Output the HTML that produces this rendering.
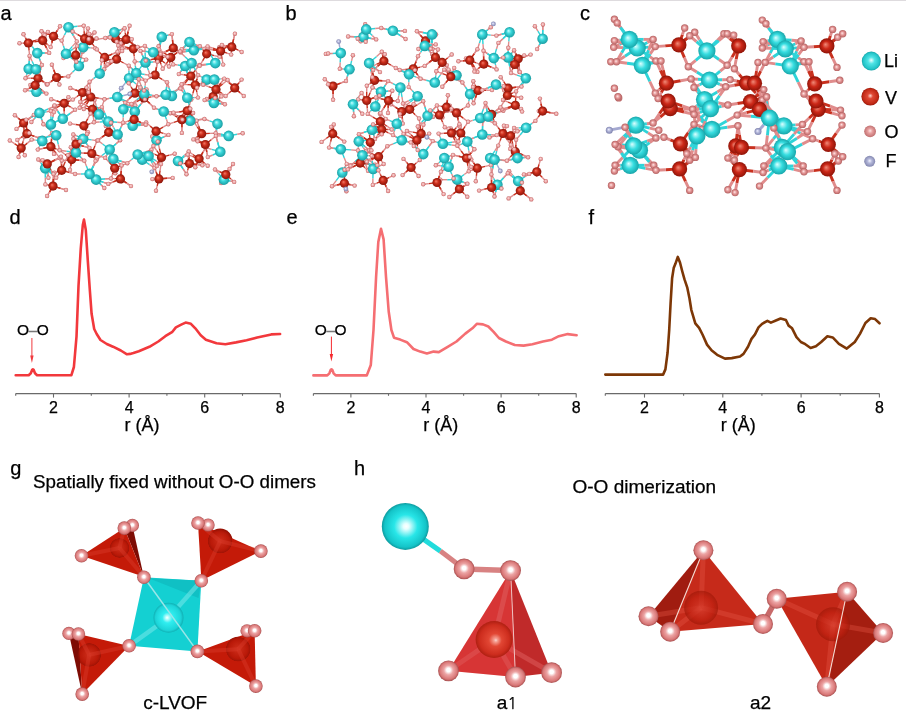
<!DOCTYPE html>
<html><head><meta charset="utf-8"><title>Figure</title><style>
html,body{margin:0;padding:0;background:#fff;}
body{width:906px;height:711px;overflow:hidden;}
svg{display:block;}
text{font-family:"Liberation Sans",Arial,sans-serif;fill:#000;stroke:#000;stroke-width:0.25px;}
.pl{font-size:20px;}
.tk{font-size:16px;}
.ax{font-size:18px;}
.tt{font-size:19px;}
.lg{font-size:18px;}
.oo{font-size:15.5px;letter-spacing:-0.4px;}
</style></head>
<body><svg width="906" height="711" viewBox="0 0 906 711">
<defs>
<radialGradient id="gV" cx="50%" cy="50%" r="50%" fx="38%" fy="35%"><stop offset="0" stop-color="#f27a66"/><stop offset="0.45" stop-color="#cc2e1c"/><stop offset="1" stop-color="#8a150a"/></radialGradient>
<radialGradient id="gL" cx="50%" cy="50%" r="50%" fx="38%" fy="35%"><stop offset="0" stop-color="#c8ffff"/><stop offset="0.45" stop-color="#3ad9dc"/><stop offset="1" stop-color="#1b9ea3"/></radialGradient>
<radialGradient id="gO" cx="50%" cy="50%" r="50%" fx="45%" fy="42%"><stop offset="0" stop-color="#fbdcdc"/><stop offset="0.45" stop-color="#eeb0b0"/><stop offset="0.8" stop-color="#da8282"/><stop offset="1" stop-color="#bc5e5e"/></radialGradient>
<radialGradient id="gF" cx="50%" cy="50%" r="50%" fx="40%" fy="38%"><stop offset="0" stop-color="#f0f0ff"/><stop offset="0.5" stop-color="#aeb2d6"/><stop offset="1" stop-color="#7f83ad"/></radialGradient>
<radialGradient id="gLc" cx="50%" cy="50%" r="50%" fx="40%" fy="40%"><stop offset="0" stop-color="#dcffff"/><stop offset="0.5" stop-color="#36dde0"/><stop offset="1" stop-color="#18a6aa"/></radialGradient>
<radialGradient id="gVc" cx="50%" cy="50%" r="50%" fx="40%" fy="40%"><stop offset="0" stop-color="#f08a78"/><stop offset="0.5" stop-color="#cc2818"/><stop offset="1" stop-color="#901408"/></radialGradient>
<radialGradient id="gOc" cx="50%" cy="50%" r="50%" fx="42%" fy="42%"><stop offset="0" stop-color="#ffe8e8"/><stop offset="0.5" stop-color="#e39494"/><stop offset="1" stop-color="#b56262"/></radialGradient>
<radialGradient id="gOg" cx="50%" cy="50%" r="50%" fx="50%" fy="45%"><stop offset="0" stop-color="#ffffff"/><stop offset="0.18" stop-color="#ffffff"/><stop offset="0.45" stop-color="#eca4a4"/><stop offset="0.82" stop-color="#d97878"/><stop offset="1" stop-color="#a85050"/></radialGradient>
<radialGradient id="gLg" cx="50%" cy="50%" r="50%" fx="45%" fy="50%"><stop offset="0" stop-color="#ffffff"/><stop offset="0.06" stop-color="#d8ffff"/><stop offset="0.35" stop-color="#30eef0"/><stop offset="0.85" stop-color="#1cd4d8"/><stop offset="1" stop-color="#10b0b4"/></radialGradient>
<radialGradient id="gLh" cx="50%" cy="50%" r="50%" fx="52%" fy="50%"><stop offset="0" stop-color="#ffffff"/><stop offset="0.12" stop-color="#e6ffff"/><stop offset="0.5" stop-color="#28e6e8"/><stop offset="0.88" stop-color="#14c4c8"/><stop offset="1" stop-color="#0e9a9e"/></radialGradient>
<radialGradient id="gVg" cx="50%" cy="50%" r="50%" fx="50%" fy="50%"><stop offset="0" stop-color="#d8321e"/><stop offset="0.8" stop-color="#b81a0a"/><stop offset="1" stop-color="#9c1406"/></radialGradient>
<radialGradient id="gVh" cx="50%" cy="50%" r="50%" fx="55%" fy="52%"><stop offset="0" stop-color="#fff4ee"/><stop offset="0.1" stop-color="#fbb0a0"/><stop offset="0.35" stop-color="#e44a34"/><stop offset="0.8" stop-color="#cc2c1a"/><stop offset="1" stop-color="#a81c0c"/></radialGradient>
<radialGradient id="gVh2" cx="50%" cy="50%" r="50%" fx="50%" fy="55%"><stop offset="0" stop-color="#d84030" stop-opacity="0.7"/><stop offset="0.7" stop-color="#c02010" stop-opacity="0.7"/><stop offset="1" stop-color="#a01808" stop-opacity="0.7"/></radialGradient>
<radialGradient id="gLl" cx="50%" cy="50%" r="50%" fx="50%" fy="45%"><stop offset="0" stop-color="#f0ffff"/><stop offset="0.35" stop-color="#50e4e6"/><stop offset="0.85" stop-color="#22c4c8"/><stop offset="1" stop-color="#17a2a6"/></radialGradient>
<radialGradient id="gVl" cx="50%" cy="50%" r="50%" fx="50%" fy="45%"><stop offset="0" stop-color="#ffd8d0"/><stop offset="0.3" stop-color="#e04a36"/><stop offset="0.85" stop-color="#c02814"/><stop offset="1" stop-color="#98180a"/></radialGradient>
<radialGradient id="gOl" cx="50%" cy="50%" r="50%" fx="50%" fy="45%"><stop offset="0" stop-color="#ffe6e6"/><stop offset="0.4" stop-color="#e8a0a0"/><stop offset="1" stop-color="#c07070"/></radialGradient>
<radialGradient id="gFl" cx="50%" cy="50%" r="50%" fx="50%" fy="45%"><stop offset="0" stop-color="#f4f4ff"/><stop offset="0.4" stop-color="#b4b8da"/><stop offset="1" stop-color="#8488b0"/></radialGradient>
<radialGradient id="gVin" cx="50%" cy="50%" r="50%" fx="50%" fy="48%"><stop offset="0" stop-color="#d8402c" stop-opacity="0.55"/><stop offset="0.75" stop-color="#b01808" stop-opacity="0.55"/><stop offset="0.95" stop-color="#8c1004" stop-opacity="0.6"/><stop offset="1" stop-color="#8c1004" stop-opacity="0"/></radialGradient>
</defs>
<rect x="0" y="0" width="906" height="1" fill="#dedbde"/><line x1="28.4" y1="43" x2="35.8" y2="40.4" stroke="#c8301e" stroke-width="1.4"/><line x1="35.8" y1="40.4" x2="40.9" y2="38.5" stroke="#e08c8c" stroke-width="1.4"/><line x1="28.4" y1="43" x2="29.1" y2="50.6" stroke="#c8301e" stroke-width="1.4"/><line x1="29.1" y1="50.6" x2="29.6" y2="55.9" stroke="#e08c8c" stroke-width="1.4"/><line x1="28.4" y1="43" x2="22.8" y2="43.1" stroke="#c8301e" stroke-width="1.4"/><line x1="22.8" y1="43.1" x2="19.5" y2="43.2" stroke="#e08c8c" stroke-width="1.4"/><line x1="28.4" y1="43" x2="25.4" y2="37.6" stroke="#c8301e" stroke-width="1.4"/><line x1="25.4" y1="37.6" x2="23.5" y2="34.3" stroke="#e08c8c" stroke-width="1.4"/><line x1="42.7" y1="40.6" x2="45.9" y2="35.2" stroke="#c8301e" stroke-width="1.4"/><line x1="45.9" y1="35.2" x2="47.9" y2="31.9" stroke="#e08c8c" stroke-width="1.4"/><line x1="42.7" y1="40.6" x2="34.7" y2="41.7" stroke="#c8301e" stroke-width="1.4"/><line x1="34.7" y1="41.7" x2="29" y2="42.4" stroke="#e08c8c" stroke-width="1.4"/><line x1="42.7" y1="40.6" x2="44.2" y2="36.3" stroke="#c8301e" stroke-width="1.4"/><line x1="44.2" y1="36.3" x2="44.6" y2="35.2" stroke="#e08c8c" stroke-width="1.4"/><line x1="42.7" y1="40.6" x2="46.5" y2="47.8" stroke="#c8301e" stroke-width="1.4"/><line x1="46.5" y1="47.8" x2="49.2" y2="52.9" stroke="#e08c8c" stroke-width="1.4"/><line x1="53.5" y1="36.3" x2="57.4" y2="30.3" stroke="#c8301e" stroke-width="1.4"/><line x1="57.4" y1="30.3" x2="60" y2="26.3" stroke="#e08c8c" stroke-width="1.4"/><line x1="53.5" y1="36.3" x2="58.6" y2="39" stroke="#c8301e" stroke-width="1.4"/><line x1="58.6" y1="39" x2="61.7" y2="40.6" stroke="#e08c8c" stroke-width="1.4"/><line x1="53.5" y1="36.3" x2="46.4" y2="33.3" stroke="#c8301e" stroke-width="1.4"/><line x1="46.4" y1="33.3" x2="41.5" y2="31.3" stroke="#e08c8c" stroke-width="1.4"/><line x1="53.5" y1="36.3" x2="51.8" y2="42.8" stroke="#c8301e" stroke-width="1.4"/><line x1="51.8" y1="42.8" x2="50.7" y2="47.1" stroke="#e08c8c" stroke-width="1.4"/><line x1="84.6" y1="38.7" x2="77.6" y2="34.5" stroke="#c8301e" stroke-width="1.4"/><line x1="77.6" y1="34.5" x2="72.6" y2="31.5" stroke="#e08c8c" stroke-width="1.4"/><line x1="84.6" y1="38.7" x2="83.4" y2="46.4" stroke="#c8301e" stroke-width="1.4"/><line x1="83.4" y1="46.4" x2="82.6" y2="51.8" stroke="#e08c8c" stroke-width="1.4"/><line x1="84.6" y1="38.7" x2="90.5" y2="35" stroke="#c8301e" stroke-width="1.4"/><line x1="90.5" y1="35" x2="94.5" y2="32.5" stroke="#e08c8c" stroke-width="1.4"/><line x1="84.6" y1="38.7" x2="89.2" y2="39" stroke="#c8301e" stroke-width="1.4"/><line x1="89.2" y1="39" x2="88.7" y2="39" stroke="#e08c8c" stroke-width="1.4"/><line x1="89.6" y1="40.6" x2="82.2" y2="43.8" stroke="#c8301e" stroke-width="1.4"/><line x1="82.2" y1="43.8" x2="77" y2="46.1" stroke="#e08c8c" stroke-width="1.4"/><line x1="89.6" y1="40.6" x2="94.2" y2="39.2" stroke="#c8301e" stroke-width="1.4"/><line x1="94.2" y1="39.2" x2="96.5" y2="38.5" stroke="#e08c8c" stroke-width="1.4"/><line x1="89.6" y1="40.6" x2="88.6" y2="33.3" stroke="#c8301e" stroke-width="1.4"/><line x1="88.6" y1="33.3" x2="88" y2="28.4" stroke="#e08c8c" stroke-width="1.4"/><line x1="89.6" y1="40.6" x2="94" y2="45.9" stroke="#c8301e" stroke-width="1.4"/><line x1="94" y1="45.9" x2="96.9" y2="49.4" stroke="#e08c8c" stroke-width="1.4"/><line x1="115.5" y1="38.7" x2="109.2" y2="38.3" stroke="#c8301e" stroke-width="1.4"/><line x1="109.2" y1="38.3" x2="105.3" y2="38" stroke="#e08c8c" stroke-width="1.4"/><line x1="115.5" y1="38.7" x2="120.8" y2="32.6" stroke="#c8301e" stroke-width="1.4"/><line x1="120.8" y1="32.6" x2="124.6" y2="28.3" stroke="#e08c8c" stroke-width="1.4"/><line x1="115.5" y1="38.7" x2="111" y2="37.7" stroke="#c8301e" stroke-width="1.4"/><line x1="111" y1="37.7" x2="110" y2="37.5" stroke="#e08c8c" stroke-width="1.4"/><line x1="115.5" y1="38.7" x2="119.4" y2="45.9" stroke="#c8301e" stroke-width="1.4"/><line x1="119.4" y1="45.9" x2="122.1" y2="51" stroke="#e08c8c" stroke-width="1.4"/><line x1="126.2" y1="39.4" x2="122.5" y2="42.1" stroke="#c8301e" stroke-width="1.4"/><line x1="122.5" y1="42.1" x2="120.9" y2="43.2" stroke="#e08c8c" stroke-width="1.4"/><line x1="126.2" y1="39.4" x2="120.3" y2="40.8" stroke="#c8301e" stroke-width="1.4"/><line x1="120.3" y1="40.8" x2="116.7" y2="41.6" stroke="#e08c8c" stroke-width="1.4"/><line x1="126.2" y1="39.4" x2="132.9" y2="43.8" stroke="#c8301e" stroke-width="1.4"/><line x1="132.9" y1="43.8" x2="137.6" y2="47" stroke="#e08c8c" stroke-width="1.4"/><line x1="126.2" y1="39.4" x2="128.2" y2="31.5" stroke="#c8301e" stroke-width="1.4"/><line x1="128.2" y1="31.5" x2="129.6" y2="25.8" stroke="#e08c8c" stroke-width="1.4"/><line x1="133.4" y1="48.8" x2="134.2" y2="56.3" stroke="#c8301e" stroke-width="1.4"/><line x1="134.2" y1="56.3" x2="134.7" y2="61.4" stroke="#e08c8c" stroke-width="1.4"/><line x1="133.4" y1="48.8" x2="132.4" y2="42.8" stroke="#c8301e" stroke-width="1.4"/><line x1="132.4" y1="42.8" x2="131.8" y2="39.1" stroke="#e08c8c" stroke-width="1.4"/><line x1="133.4" y1="48.8" x2="140.3" y2="47.1" stroke="#c8301e" stroke-width="1.4"/><line x1="140.3" y1="47.1" x2="144.9" y2="45.9" stroke="#e08c8c" stroke-width="1.4"/><line x1="133.4" y1="48.8" x2="126.6" y2="48.8" stroke="#c8301e" stroke-width="1.4"/><line x1="126.6" y1="48.8" x2="122.2" y2="48.7" stroke="#e08c8c" stroke-width="1.4"/><line x1="75.7" y1="55.2" x2="68.4" y2="56.9" stroke="#c8301e" stroke-width="1.4"/><line x1="68.4" y1="56.9" x2="63.5" y2="58.1" stroke="#e08c8c" stroke-width="1.4"/><line x1="75.7" y1="55.2" x2="76.1" y2="59.8" stroke="#c8301e" stroke-width="1.4"/><line x1="76.1" y1="59.8" x2="76.3" y2="61.7" stroke="#e08c8c" stroke-width="1.4"/><line x1="75.7" y1="55.2" x2="82" y2="57.9" stroke="#c8301e" stroke-width="1.4"/><line x1="82" y1="57.9" x2="86.2" y2="59.6" stroke="#e08c8c" stroke-width="1.4"/><line x1="75.7" y1="55.2" x2="76.3" y2="47.1" stroke="#c8301e" stroke-width="1.4"/><line x1="76.3" y1="47.1" x2="76.8" y2="41.4" stroke="#e08c8c" stroke-width="1.4"/><line x1="104.7" y1="57.4" x2="99.1" y2="52.1" stroke="#c8301e" stroke-width="1.4"/><line x1="99.1" y1="52.1" x2="95.2" y2="48.3" stroke="#e08c8c" stroke-width="1.4"/><line x1="104.7" y1="57.4" x2="101.5" y2="60.7" stroke="#c8301e" stroke-width="1.4"/><line x1="101.5" y1="60.7" x2="101.9" y2="60.2" stroke="#e08c8c" stroke-width="1.4"/><line x1="104.7" y1="57.4" x2="104.4" y2="64.5" stroke="#c8301e" stroke-width="1.4"/><line x1="104.4" y1="64.5" x2="104.2" y2="69.2" stroke="#e08c8c" stroke-width="1.4"/><line x1="104.7" y1="57.4" x2="112.2" y2="54.1" stroke="#c8301e" stroke-width="1.4"/><line x1="112.2" y1="54.1" x2="117.5" y2="51.8" stroke="#e08c8c" stroke-width="1.4"/><line x1="116.5" y1="59.2" x2="112.3" y2="61" stroke="#c8301e" stroke-width="1.4"/><line x1="112.3" y1="61" x2="111.5" y2="61.3" stroke="#e08c8c" stroke-width="1.4"/><line x1="116.5" y1="59.2" x2="123.7" y2="63" stroke="#c8301e" stroke-width="1.4"/><line x1="123.7" y1="63" x2="128.8" y2="65.7" stroke="#e08c8c" stroke-width="1.4"/><line x1="116.5" y1="59.2" x2="111" y2="62.3" stroke="#c8301e" stroke-width="1.4"/><line x1="111" y1="62.3" x2="107.5" y2="64.3" stroke="#e08c8c" stroke-width="1.4"/><line x1="116.5" y1="59.2" x2="117.5" y2="51.2" stroke="#c8301e" stroke-width="1.4"/><line x1="117.5" y1="51.2" x2="118.2" y2="45.5" stroke="#e08c8c" stroke-width="1.4"/><line x1="56.6" y1="77.5" x2="50.8" y2="81.6" stroke="#c8301e" stroke-width="1.4"/><line x1="50.8" y1="81.6" x2="46.8" y2="84.4" stroke="#e08c8c" stroke-width="1.4"/><line x1="56.6" y1="77.5" x2="63.6" y2="76.8" stroke="#c8301e" stroke-width="1.4"/><line x1="63.6" y1="76.8" x2="68.3" y2="76.4" stroke="#e08c8c" stroke-width="1.4"/><line x1="56.6" y1="77.5" x2="58.4" y2="82.1" stroke="#c8301e" stroke-width="1.4"/><line x1="58.4" y1="82.1" x2="59.4" y2="84.5" stroke="#e08c8c" stroke-width="1.4"/><line x1="56.6" y1="77.5" x2="53.8" y2="70" stroke="#c8301e" stroke-width="1.4"/><line x1="53.8" y1="70" x2="51.9" y2="64.7" stroke="#e08c8c" stroke-width="1.4"/><line x1="38" y1="78.2" x2="43.7" y2="81.9" stroke="#c8301e" stroke-width="1.4"/><line x1="43.7" y1="81.9" x2="47.5" y2="84.3" stroke="#e08c8c" stroke-width="1.4"/><line x1="38" y1="78.2" x2="37.4" y2="82.9" stroke="#c8301e" stroke-width="1.4"/><line x1="37.4" y1="82.9" x2="37.1" y2="85.3" stroke="#e08c8c" stroke-width="1.4"/><line x1="38" y1="78.2" x2="30.6" y2="78.2" stroke="#c8301e" stroke-width="1.4"/><line x1="30.6" y1="78.2" x2="25.5" y2="78.2" stroke="#e08c8c" stroke-width="1.4"/><line x1="38" y1="78.2" x2="40.3" y2="70.5" stroke="#c8301e" stroke-width="1.4"/><line x1="40.3" y1="70.5" x2="41.9" y2="65" stroke="#e08c8c" stroke-width="1.4"/><line x1="35.1" y1="85.3" x2="41.7" y2="90.1" stroke="#c8301e" stroke-width="1.4"/><line x1="41.7" y1="90.1" x2="46.4" y2="93.6" stroke="#e08c8c" stroke-width="1.4"/><line x1="35.1" y1="85.3" x2="30.5" y2="85" stroke="#c8301e" stroke-width="1.4"/><line x1="30.5" y1="85" x2="30.4" y2="85" stroke="#e08c8c" stroke-width="1.4"/><line x1="35.1" y1="85.3" x2="29.1" y2="88.3" stroke="#c8301e" stroke-width="1.4"/><line x1="29.1" y1="88.3" x2="25.1" y2="90.3" stroke="#e08c8c" stroke-width="1.4"/><line x1="35.1" y1="85.3" x2="37.1" y2="77.7" stroke="#c8301e" stroke-width="1.4"/><line x1="37.1" y1="77.7" x2="38.5" y2="72.4" stroke="#e08c8c" stroke-width="1.4"/><line x1="82.5" y1="92.5" x2="81" y2="98.3" stroke="#c8301e" stroke-width="1.4"/><line x1="81" y1="98.3" x2="80.2" y2="101.9" stroke="#e08c8c" stroke-width="1.4"/><line x1="82.5" y1="92.5" x2="75.3" y2="89.8" stroke="#c8301e" stroke-width="1.4"/><line x1="75.3" y1="89.8" x2="70.3" y2="88" stroke="#e08c8c" stroke-width="1.4"/><line x1="82.5" y1="92.5" x2="86.7" y2="86.1" stroke="#c8301e" stroke-width="1.4"/><line x1="86.7" y1="86.1" x2="89.6" y2="81.7" stroke="#e08c8c" stroke-width="1.4"/><line x1="82.5" y1="92.5" x2="87.1" y2="96.2" stroke="#c8301e" stroke-width="1.4"/><line x1="87.1" y1="96.2" x2="89.9" y2="98.4" stroke="#e08c8c" stroke-width="1.4"/><line x1="90.8" y1="97" x2="86.7" y2="104" stroke="#c8301e" stroke-width="1.4"/><line x1="86.7" y1="104" x2="83.8" y2="109" stroke="#e08c8c" stroke-width="1.4"/><line x1="90.8" y1="97" x2="88.7" y2="92.9" stroke="#c8301e" stroke-width="1.4"/><line x1="88.7" y1="92.9" x2="88.4" y2="92.2" stroke="#e08c8c" stroke-width="1.4"/><line x1="90.8" y1="97" x2="98.8" y2="98.3" stroke="#c8301e" stroke-width="1.4"/><line x1="98.8" y1="98.3" x2="104.5" y2="99.3" stroke="#e08c8c" stroke-width="1.4"/><line x1="90.8" y1="97" x2="88.2" y2="91.2" stroke="#c8301e" stroke-width="1.4"/><line x1="88.2" y1="91.2" x2="86.5" y2="87.6" stroke="#e08c8c" stroke-width="1.4"/><line x1="134.8" y1="93.2" x2="138.4" y2="89.5" stroke="#c8301e" stroke-width="1.4"/><line x1="138.4" y1="89.5" x2="140.4" y2="87.5" stroke="#e08c8c" stroke-width="1.4"/><line x1="134.8" y1="93.2" x2="129.2" y2="98.8" stroke="#c8301e" stroke-width="1.4"/><line x1="129.2" y1="98.8" x2="125.2" y2="102.7" stroke="#e08c8c" stroke-width="1.4"/><line x1="134.8" y1="93.2" x2="140.8" y2="96.9" stroke="#c8301e" stroke-width="1.4"/><line x1="140.8" y1="96.9" x2="144.9" y2="99.4" stroke="#e08c8c" stroke-width="1.4"/><line x1="134.8" y1="93.2" x2="131.2" y2="87.2" stroke="#c8301e" stroke-width="1.4"/><line x1="131.2" y1="87.2" x2="128.7" y2="83.2" stroke="#e08c8c" stroke-width="1.4"/><line x1="173.3" y1="48" x2="172.5" y2="39.9" stroke="#c8301e" stroke-width="1.4"/><line x1="172.5" y1="39.9" x2="171.9" y2="34.1" stroke="#e08c8c" stroke-width="1.4"/><line x1="173.3" y1="48" x2="178" y2="50.8" stroke="#c8301e" stroke-width="1.4"/><line x1="178" y1="50.8" x2="180.6" y2="52.4" stroke="#e08c8c" stroke-width="1.4"/><line x1="173.3" y1="48" x2="177.7" y2="50.3" stroke="#c8301e" stroke-width="1.4"/><line x1="177.7" y1="50.3" x2="180.1" y2="51.5" stroke="#e08c8c" stroke-width="1.4"/><line x1="173.3" y1="48" x2="165.9" y2="51.5" stroke="#c8301e" stroke-width="1.4"/><line x1="165.9" y1="51.5" x2="160.6" y2="54" stroke="#e08c8c" stroke-width="1.4"/><line x1="158.7" y1="58.1" x2="158.6" y2="51" stroke="#c8301e" stroke-width="1.4"/><line x1="158.6" y1="51" x2="158.6" y2="46.3" stroke="#e08c8c" stroke-width="1.4"/><line x1="158.7" y1="58.1" x2="164.3" y2="57.2" stroke="#c8301e" stroke-width="1.4"/><line x1="164.3" y1="57.2" x2="167.6" y2="56.7" stroke="#e08c8c" stroke-width="1.4"/><line x1="158.7" y1="58.1" x2="151.1" y2="59.6" stroke="#c8301e" stroke-width="1.4"/><line x1="151.1" y1="59.6" x2="145.8" y2="60.6" stroke="#e08c8c" stroke-width="1.4"/><line x1="158.7" y1="58.1" x2="161.1" y2="64.5" stroke="#c8301e" stroke-width="1.4"/><line x1="161.1" y1="64.5" x2="162.7" y2="68.8" stroke="#e08c8c" stroke-width="1.4"/><line x1="170.8" y1="57.4" x2="172.4" y2="62" stroke="#c8301e" stroke-width="1.4"/><line x1="172.4" y1="62" x2="173.2" y2="64.4" stroke="#e08c8c" stroke-width="1.4"/><line x1="170.8" y1="57.4" x2="177.2" y2="52.5" stroke="#c8301e" stroke-width="1.4"/><line x1="177.2" y1="52.5" x2="181.7" y2="49.1" stroke="#e08c8c" stroke-width="1.4"/><line x1="170.8" y1="57.4" x2="164" y2="52.9" stroke="#c8301e" stroke-width="1.4"/><line x1="164" y1="52.9" x2="159.2" y2="49.6" stroke="#e08c8c" stroke-width="1.4"/><line x1="170.8" y1="57.4" x2="169.7" y2="63.1" stroke="#c8301e" stroke-width="1.4"/><line x1="169.7" y1="63.1" x2="169" y2="66.5" stroke="#e08c8c" stroke-width="1.4"/><line x1="206.7" y1="53.8" x2="202.5" y2="49.2" stroke="#c8301e" stroke-width="1.4"/><line x1="202.5" y1="49.2" x2="199.9" y2="46.3" stroke="#e08c8c" stroke-width="1.4"/><line x1="206.7" y1="53.8" x2="202.6" y2="60.8" stroke="#c8301e" stroke-width="1.4"/><line x1="202.6" y1="60.8" x2="199.7" y2="65.7" stroke="#e08c8c" stroke-width="1.4"/><line x1="206.7" y1="53.8" x2="214.3" y2="55.6" stroke="#c8301e" stroke-width="1.4"/><line x1="214.3" y1="55.6" x2="219.6" y2="56.8" stroke="#e08c8c" stroke-width="1.4"/><line x1="206.7" y1="53.8" x2="207.3" y2="48.9" stroke="#c8301e" stroke-width="1.4"/><line x1="207.3" y1="48.9" x2="207.6" y2="46.4" stroke="#e08c8c" stroke-width="1.4"/><line x1="220.6" y1="50.9" x2="222.1" y2="58.9" stroke="#c8301e" stroke-width="1.4"/><line x1="222.1" y1="58.9" x2="223.2" y2="64.6" stroke="#e08c8c" stroke-width="1.4"/><line x1="220.6" y1="50.9" x2="226.2" y2="47.4" stroke="#c8301e" stroke-width="1.4"/><line x1="226.2" y1="47.4" x2="229.8" y2="45.1" stroke="#e08c8c" stroke-width="1.4"/><line x1="220.6" y1="50.9" x2="212.9" y2="49.7" stroke="#c8301e" stroke-width="1.4"/><line x1="212.9" y1="49.7" x2="207.6" y2="48.9" stroke="#e08c8c" stroke-width="1.4"/><line x1="220.6" y1="50.9" x2="221.6" y2="46.4" stroke="#c8301e" stroke-width="1.4"/><line x1="221.6" y1="46.4" x2="221.9" y2="45" stroke="#e08c8c" stroke-width="1.4"/><line x1="231.8" y1="46.9" x2="224.4" y2="47.1" stroke="#c8301e" stroke-width="1.4"/><line x1="224.4" y1="47.1" x2="219.4" y2="47.3" stroke="#e08c8c" stroke-width="1.4"/><line x1="231.8" y1="46.9" x2="233.6" y2="39.1" stroke="#c8301e" stroke-width="1.4"/><line x1="233.6" y1="39.1" x2="234.9" y2="33.7" stroke="#e08c8c" stroke-width="1.4"/><line x1="231.8" y1="46.9" x2="231.4" y2="51.9" stroke="#c8301e" stroke-width="1.4"/><line x1="231.4" y1="51.9" x2="231.2" y2="54.6" stroke="#e08c8c" stroke-width="1.4"/><line x1="231.8" y1="46.9" x2="237.8" y2="50" stroke="#c8301e" stroke-width="1.4"/><line x1="237.8" y1="50" x2="241.7" y2="52" stroke="#e08c8c" stroke-width="1.4"/><line x1="155.1" y1="75" x2="156.5" y2="67.2" stroke="#c8301e" stroke-width="1.4"/><line x1="156.5" y1="67.2" x2="157.5" y2="61.7" stroke="#e08c8c" stroke-width="1.4"/><line x1="155.1" y1="75" x2="150.5" y2="75.4" stroke="#c8301e" stroke-width="1.4"/><line x1="150.5" y1="75.4" x2="150.3" y2="75.4" stroke="#e08c8c" stroke-width="1.4"/><line x1="155.1" y1="75" x2="149.3" y2="78.4" stroke="#c8301e" stroke-width="1.4"/><line x1="149.3" y1="78.4" x2="145.6" y2="80.6" stroke="#e08c8c" stroke-width="1.4"/><line x1="155.1" y1="75" x2="162.1" y2="79.3" stroke="#c8301e" stroke-width="1.4"/><line x1="162.1" y1="79.3" x2="167" y2="82.3" stroke="#e08c8c" stroke-width="1.4"/><line x1="190.9" y1="76" x2="195.8" y2="69.6" stroke="#c8301e" stroke-width="1.4"/><line x1="195.8" y1="69.6" x2="199.3" y2="65" stroke="#e08c8c" stroke-width="1.4"/><line x1="190.9" y1="76" x2="183.7" y2="74.8" stroke="#c8301e" stroke-width="1.4"/><line x1="183.7" y1="74.8" x2="178.8" y2="74.1" stroke="#e08c8c" stroke-width="1.4"/><line x1="190.9" y1="76" x2="186.8" y2="78.1" stroke="#c8301e" stroke-width="1.4"/><line x1="186.8" y1="78.1" x2="188.5" y2="77.2" stroke="#e08c8c" stroke-width="1.4"/><line x1="190.9" y1="76" x2="194.5" y2="82.9" stroke="#c8301e" stroke-width="1.4"/><line x1="194.5" y1="82.9" x2="197" y2="87.7" stroke="#e08c8c" stroke-width="1.4"/><line x1="195.2" y1="85" x2="197" y2="78.9" stroke="#c8301e" stroke-width="1.4"/><line x1="197" y1="78.9" x2="198.1" y2="75.1" stroke="#e08c8c" stroke-width="1.4"/><line x1="195.2" y1="85" x2="200.3" y2="83.7" stroke="#c8301e" stroke-width="1.4"/><line x1="200.3" y1="83.7" x2="203" y2="83.1" stroke="#e08c8c" stroke-width="1.4"/><line x1="195.2" y1="85" x2="196.9" y2="92.4" stroke="#c8301e" stroke-width="1.4"/><line x1="196.9" y1="92.4" x2="198" y2="97.6" stroke="#e08c8c" stroke-width="1.4"/><line x1="195.2" y1="85" x2="187.3" y2="84.6" stroke="#c8301e" stroke-width="1.4"/><line x1="187.3" y1="84.6" x2="181.6" y2="84.3" stroke="#e08c8c" stroke-width="1.4"/><line x1="216" y1="89.4" x2="220.9" y2="83.1" stroke="#c8301e" stroke-width="1.4"/><line x1="220.9" y1="83.1" x2="224.3" y2="78.6" stroke="#e08c8c" stroke-width="1.4"/><line x1="216" y1="89.4" x2="215.4" y2="94.9" stroke="#c8301e" stroke-width="1.4"/><line x1="215.4" y1="94.9" x2="215.1" y2="98" stroke="#e08c8c" stroke-width="1.4"/><line x1="216" y1="89.4" x2="208.5" y2="86.6" stroke="#c8301e" stroke-width="1.4"/><line x1="208.5" y1="86.6" x2="203.2" y2="84.7" stroke="#e08c8c" stroke-width="1.4"/><line x1="216" y1="89.4" x2="219.4" y2="93.8" stroke="#c8301e" stroke-width="1.4"/><line x1="219.4" y1="93.8" x2="221.4" y2="96.4" stroke="#e08c8c" stroke-width="1.4"/><line x1="213.2" y1="96.6" x2="220" y2="101.1" stroke="#c8301e" stroke-width="1.4"/><line x1="220" y1="101.1" x2="224.9" y2="104.3" stroke="#e08c8c" stroke-width="1.4"/><line x1="213.2" y1="96.6" x2="208.9" y2="98.2" stroke="#c8301e" stroke-width="1.4"/><line x1="208.9" y1="98.2" x2="206.8" y2="99" stroke="#e08c8c" stroke-width="1.4"/><line x1="213.2" y1="96.6" x2="207.8" y2="98.8" stroke="#c8301e" stroke-width="1.4"/><line x1="207.8" y1="98.8" x2="204.6" y2="100.1" stroke="#e08c8c" stroke-width="1.4"/><line x1="213.2" y1="96.6" x2="215.1" y2="88.7" stroke="#c8301e" stroke-width="1.4"/><line x1="215.1" y1="88.7" x2="216.5" y2="83" stroke="#e08c8c" stroke-width="1.4"/><line x1="234.7" y1="87.9" x2="230.4" y2="83.1" stroke="#c8301e" stroke-width="1.4"/><line x1="230.4" y1="83.1" x2="227.6" y2="80" stroke="#e08c8c" stroke-width="1.4"/><line x1="234.7" y1="87.9" x2="229.3" y2="92.7" stroke="#c8301e" stroke-width="1.4"/><line x1="229.3" y1="92.7" x2="225.7" y2="96" stroke="#e08c8c" stroke-width="1.4"/><line x1="234.7" y1="87.9" x2="240.1" y2="92.7" stroke="#c8301e" stroke-width="1.4"/><line x1="240.1" y1="92.7" x2="243.8" y2="96" stroke="#e08c8c" stroke-width="1.4"/><line x1="234.7" y1="87.9" x2="238.9" y2="82.9" stroke="#c8301e" stroke-width="1.4"/><line x1="238.9" y1="82.9" x2="241.6" y2="79.6" stroke="#e08c8c" stroke-width="1.4"/><line x1="64.2" y1="103.3" x2="56.6" y2="100.9" stroke="#c8301e" stroke-width="1.4"/><line x1="56.6" y1="100.9" x2="51.2" y2="99.2" stroke="#e08c8c" stroke-width="1.4"/><line x1="64.2" y1="103.3" x2="67" y2="99.3" stroke="#c8301e" stroke-width="1.4"/><line x1="67" y1="99.3" x2="68.4" y2="97.2" stroke="#e08c8c" stroke-width="1.4"/><line x1="64.2" y1="103.3" x2="64.3" y2="111.4" stroke="#c8301e" stroke-width="1.4"/><line x1="64.3" y1="111.4" x2="64.4" y2="117.2" stroke="#e08c8c" stroke-width="1.4"/><line x1="64.2" y1="103.3" x2="69.6" y2="101" stroke="#c8301e" stroke-width="1.4"/><line x1="69.6" y1="101" x2="72.8" y2="99.6" stroke="#e08c8c" stroke-width="1.4"/><line x1="92.5" y1="109.3" x2="98.4" y2="108" stroke="#c8301e" stroke-width="1.4"/><line x1="98.4" y1="108" x2="101.9" y2="107.1" stroke="#e08c8c" stroke-width="1.4"/><line x1="92.5" y1="109.3" x2="84.9" y2="108.4" stroke="#c8301e" stroke-width="1.4"/><line x1="84.9" y1="108.4" x2="79.6" y2="107.8" stroke="#e08c8c" stroke-width="1.4"/><line x1="92.5" y1="109.3" x2="93.8" y2="103.5" stroke="#c8301e" stroke-width="1.4"/><line x1="93.8" y1="103.5" x2="94.5" y2="100" stroke="#e08c8c" stroke-width="1.4"/><line x1="92.5" y1="109.3" x2="93.4" y2="116.9" stroke="#c8301e" stroke-width="1.4"/><line x1="93.4" y1="116.9" x2="94" y2="122.3" stroke="#e08c8c" stroke-width="1.4"/><line x1="23.6" y1="123" x2="18.4" y2="118.3" stroke="#c8301e" stroke-width="1.4"/><line x1="18.4" y1="118.3" x2="14.9" y2="115.2" stroke="#e08c8c" stroke-width="1.4"/><line x1="23.6" y1="123" x2="27" y2="129" stroke="#c8301e" stroke-width="1.4"/><line x1="27" y1="129" x2="29.2" y2="133" stroke="#e08c8c" stroke-width="1.4"/><line x1="23.6" y1="123" x2="19.1" y2="126.7" stroke="#c8301e" stroke-width="1.4"/><line x1="19.1" y1="126.7" x2="16.5" y2="128.9" stroke="#e08c8c" stroke-width="1.4"/><line x1="23.6" y1="123" x2="29.6" y2="118.2" stroke="#c8301e" stroke-width="1.4"/><line x1="29.6" y1="118.2" x2="33.8" y2="114.9" stroke="#e08c8c" stroke-width="1.4"/><line x1="26.9" y1="133.7" x2="21.1" y2="137.5" stroke="#c8301e" stroke-width="1.4"/><line x1="21.1" y1="137.5" x2="17.3" y2="139.9" stroke="#e08c8c" stroke-width="1.4"/><line x1="26.9" y1="133.7" x2="24.1" y2="137.3" stroke="#c8301e" stroke-width="1.4"/><line x1="24.1" y1="137.3" x2="24.5" y2="136.8" stroke="#e08c8c" stroke-width="1.4"/><line x1="26.9" y1="133.7" x2="26.5" y2="125.6" stroke="#c8301e" stroke-width="1.4"/><line x1="26.5" y1="125.6" x2="26.2" y2="119.8" stroke="#e08c8c" stroke-width="1.4"/><line x1="26.9" y1="133.7" x2="34.4" y2="136.3" stroke="#c8301e" stroke-width="1.4"/><line x1="34.4" y1="136.3" x2="39.7" y2="138.2" stroke="#e08c8c" stroke-width="1.4"/><line x1="83.9" y1="125.8" x2="75.8" y2="124.5" stroke="#c8301e" stroke-width="1.4"/><line x1="75.8" y1="124.5" x2="70.1" y2="123.6" stroke="#e08c8c" stroke-width="1.4"/><line x1="83.9" y1="125.8" x2="85.9" y2="130.9" stroke="#c8301e" stroke-width="1.4"/><line x1="85.9" y1="130.9" x2="87.1" y2="133.9" stroke="#e08c8c" stroke-width="1.4"/><line x1="83.9" y1="125.8" x2="86.5" y2="130" stroke="#c8301e" stroke-width="1.4"/><line x1="86.5" y1="130" x2="87.9" y2="132.2" stroke="#e08c8c" stroke-width="1.4"/><line x1="83.9" y1="125.8" x2="87.8" y2="118.6" stroke="#c8301e" stroke-width="1.4"/><line x1="87.8" y1="118.6" x2="90.5" y2="113.5" stroke="#e08c8c" stroke-width="1.4"/><line x1="108.7" y1="132.3" x2="110.1" y2="126.4" stroke="#c8301e" stroke-width="1.4"/><line x1="110.1" y1="126.4" x2="111" y2="122.7" stroke="#e08c8c" stroke-width="1.4"/><line x1="108.7" y1="132.3" x2="106.8" y2="128" stroke="#c8301e" stroke-width="1.4"/><line x1="106.8" y1="128" x2="105.8" y2="125.9" stroke="#e08c8c" stroke-width="1.4"/><line x1="108.7" y1="132.3" x2="115.4" y2="136.9" stroke="#c8301e" stroke-width="1.4"/><line x1="115.4" y1="136.9" x2="120.1" y2="140.2" stroke="#e08c8c" stroke-width="1.4"/><line x1="108.7" y1="132.3" x2="102.4" y2="137" stroke="#c8301e" stroke-width="1.4"/><line x1="102.4" y1="137" x2="97.9" y2="140.4" stroke="#e08c8c" stroke-width="1.4"/><line x1="21.2" y1="148.1" x2="23.5" y2="152.8" stroke="#c8301e" stroke-width="1.4"/><line x1="23.5" y1="152.8" x2="24.8" y2="155.3" stroke="#e08c8c" stroke-width="1.4"/><line x1="21.2" y1="148.1" x2="19.5" y2="153.7" stroke="#c8301e" stroke-width="1.4"/><line x1="19.5" y1="153.7" x2="18.6" y2="157" stroke="#e08c8c" stroke-width="1.4"/><line x1="21.2" y1="148.1" x2="27.4" y2="143.1" stroke="#c8301e" stroke-width="1.4"/><line x1="27.4" y1="143.1" x2="31.7" y2="139.6" stroke="#e08c8c" stroke-width="1.4"/><line x1="21.2" y1="148.1" x2="14.5" y2="143.6" stroke="#c8301e" stroke-width="1.4"/><line x1="14.5" y1="143.6" x2="9.8" y2="140.5" stroke="#e08c8c" stroke-width="1.4"/><line x1="50.9" y1="146.7" x2="43.2" y2="148.4" stroke="#c8301e" stroke-width="1.4"/><line x1="43.2" y1="148.4" x2="37.8" y2="149.6" stroke="#e08c8c" stroke-width="1.4"/><line x1="50.9" y1="146.7" x2="51.6" y2="138.7" stroke="#c8301e" stroke-width="1.4"/><line x1="51.6" y1="138.7" x2="52.1" y2="133" stroke="#e08c8c" stroke-width="1.4"/><line x1="50.9" y1="146.7" x2="52.9" y2="151.4" stroke="#c8301e" stroke-width="1.4"/><line x1="52.9" y1="151.4" x2="54" y2="153.9" stroke="#e08c8c" stroke-width="1.4"/><line x1="50.9" y1="146.7" x2="56.4" y2="149" stroke="#c8301e" stroke-width="1.4"/><line x1="56.4" y1="149" x2="59.7" y2="150.3" stroke="#e08c8c" stroke-width="1.4"/><line x1="76" y1="144.1" x2="71.3" y2="150.7" stroke="#c8301e" stroke-width="1.4"/><line x1="71.3" y1="150.7" x2="67.9" y2="155.3" stroke="#e08c8c" stroke-width="1.4"/><line x1="76" y1="144.1" x2="83.9" y2="146.3" stroke="#c8301e" stroke-width="1.4"/><line x1="83.9" y1="146.3" x2="89.5" y2="147.9" stroke="#e08c8c" stroke-width="1.4"/><line x1="76" y1="144.1" x2="74" y2="140" stroke="#c8301e" stroke-width="1.4"/><line x1="74" y1="140" x2="73.4" y2="138.8" stroke="#e08c8c" stroke-width="1.4"/><line x1="76" y1="144.1" x2="74.3" y2="138.1" stroke="#c8301e" stroke-width="1.4"/><line x1="74.3" y1="138.1" x2="73.3" y2="134.5" stroke="#e08c8c" stroke-width="1.4"/><line x1="91.8" y1="153.5" x2="94.9" y2="146" stroke="#c8301e" stroke-width="1.4"/><line x1="94.9" y1="146" x2="97.1" y2="140.6" stroke="#e08c8c" stroke-width="1.4"/><line x1="91.8" y1="153.5" x2="83.6" y2="153.1" stroke="#c8301e" stroke-width="1.4"/><line x1="83.6" y1="153.1" x2="77.8" y2="152.8" stroke="#e08c8c" stroke-width="1.4"/><line x1="91.8" y1="153.5" x2="95" y2="157.5" stroke="#c8301e" stroke-width="1.4"/><line x1="95" y1="157.5" x2="96.8" y2="159.6" stroke="#e08c8c" stroke-width="1.4"/><line x1="91.8" y1="153.5" x2="94.2" y2="158.3" stroke="#c8301e" stroke-width="1.4"/><line x1="94.2" y1="158.3" x2="95.5" y2="161" stroke="#e08c8c" stroke-width="1.4"/><line x1="71.7" y1="159.6" x2="79.2" y2="160.3" stroke="#c8301e" stroke-width="1.4"/><line x1="79.2" y1="160.3" x2="84.3" y2="160.8" stroke="#e08c8c" stroke-width="1.4"/><line x1="71.7" y1="159.6" x2="71.1" y2="152.2" stroke="#c8301e" stroke-width="1.4"/><line x1="71.1" y1="152.2" x2="70.8" y2="147.2" stroke="#e08c8c" stroke-width="1.4"/><line x1="71.7" y1="159.6" x2="65.6" y2="160.2" stroke="#c8301e" stroke-width="1.4"/><line x1="65.6" y1="160.2" x2="61.8" y2="160.5" stroke="#e08c8c" stroke-width="1.4"/><line x1="71.7" y1="159.6" x2="70.7" y2="165.9" stroke="#c8301e" stroke-width="1.4"/><line x1="70.7" y1="165.9" x2="70" y2="169.9" stroke="#e08c8c" stroke-width="1.4"/><line x1="47.3" y1="163.9" x2="43.7" y2="161" stroke="#c8301e" stroke-width="1.4"/><line x1="43.7" y1="161" x2="42.6" y2="160.1" stroke="#e08c8c" stroke-width="1.4"/><line x1="47.3" y1="163.9" x2="41.7" y2="161.2" stroke="#c8301e" stroke-width="1.4"/><line x1="41.7" y1="161.2" x2="38.3" y2="159.5" stroke="#e08c8c" stroke-width="1.4"/><line x1="47.3" y1="163.9" x2="48" y2="172" stroke="#c8301e" stroke-width="1.4"/><line x1="48" y1="172" x2="48.4" y2="177.8" stroke="#e08c8c" stroke-width="1.4"/><line x1="47.3" y1="163.9" x2="54.6" y2="160.5" stroke="#c8301e" stroke-width="1.4"/><line x1="54.6" y1="160.5" x2="59.8" y2="158.1" stroke="#e08c8c" stroke-width="1.4"/><line x1="61.7" y1="170.3" x2="61.3" y2="162.3" stroke="#c8301e" stroke-width="1.4"/><line x1="61.3" y1="162.3" x2="61" y2="156.7" stroke="#e08c8c" stroke-width="1.4"/><line x1="61.7" y1="170.3" x2="57" y2="171.9" stroke="#c8301e" stroke-width="1.4"/><line x1="57" y1="171.9" x2="54.5" y2="172.8" stroke="#e08c8c" stroke-width="1.4"/><line x1="61.7" y1="170.3" x2="69.5" y2="172.5" stroke="#c8301e" stroke-width="1.4"/><line x1="69.5" y1="172.5" x2="75.1" y2="174" stroke="#e08c8c" stroke-width="1.4"/><line x1="61.7" y1="170.3" x2="58.3" y2="175" stroke="#c8301e" stroke-width="1.4"/><line x1="58.3" y1="175" x2="56.2" y2="177.8" stroke="#e08c8c" stroke-width="1.4"/><line x1="53" y1="186.1" x2="48.1" y2="185" stroke="#c8301e" stroke-width="1.4"/><line x1="48.1" y1="185" x2="45.4" y2="184.4" stroke="#e08c8c" stroke-width="1.4"/><line x1="53" y1="186.1" x2="49.5" y2="192.1" stroke="#c8301e" stroke-width="1.4"/><line x1="49.5" y1="192.1" x2="47.1" y2="196" stroke="#e08c8c" stroke-width="1.4"/><line x1="53" y1="186.1" x2="60.6" y2="188.4" stroke="#c8301e" stroke-width="1.4"/><line x1="60.6" y1="188.4" x2="66" y2="190" stroke="#e08c8c" stroke-width="1.4"/><line x1="53" y1="186.1" x2="53.3" y2="178.9" stroke="#c8301e" stroke-width="1.4"/><line x1="53.3" y1="178.9" x2="53.5" y2="174" stroke="#e08c8c" stroke-width="1.4"/><line x1="114.7" y1="168.2" x2="112.5" y2="174.4" stroke="#c8301e" stroke-width="1.4"/><line x1="112.5" y1="174.4" x2="111" y2="178.5" stroke="#e08c8c" stroke-width="1.4"/><line x1="114.7" y1="168.2" x2="122.1" y2="165.3" stroke="#c8301e" stroke-width="1.4"/><line x1="122.1" y1="165.3" x2="127.3" y2="163.2" stroke="#e08c8c" stroke-width="1.4"/><line x1="114.7" y1="168.2" x2="115.2" y2="172.8" stroke="#c8301e" stroke-width="1.4"/><line x1="115.2" y1="172.8" x2="115.3" y2="173.2" stroke="#e08c8c" stroke-width="1.4"/><line x1="114.7" y1="168.2" x2="109.2" y2="162.2" stroke="#c8301e" stroke-width="1.4"/><line x1="109.2" y1="162.2" x2="105.2" y2="157.9" stroke="#e08c8c" stroke-width="1.4"/><line x1="120.5" y1="178.9" x2="121.2" y2="171" stroke="#c8301e" stroke-width="1.4"/><line x1="121.2" y1="171" x2="121.6" y2="165.4" stroke="#e08c8c" stroke-width="1.4"/><line x1="120.5" y1="178.9" x2="126.7" y2="183.2" stroke="#c8301e" stroke-width="1.4"/><line x1="126.7" y1="183.2" x2="131" y2="186.1" stroke="#e08c8c" stroke-width="1.4"/><line x1="120.5" y1="178.9" x2="113.3" y2="181.8" stroke="#c8301e" stroke-width="1.4"/><line x1="113.3" y1="181.8" x2="108.3" y2="183.9" stroke="#e08c8c" stroke-width="1.4"/><line x1="120.5" y1="178.9" x2="122.3" y2="183.1" stroke="#c8301e" stroke-width="1.4"/><line x1="122.3" y1="183.1" x2="121" y2="180.2" stroke="#e08c8c" stroke-width="1.4"/><line x1="134.1" y1="119.4" x2="141" y2="122.6" stroke="#c8301e" stroke-width="1.4"/><line x1="141" y1="122.6" x2="145.8" y2="124.7" stroke="#e08c8c" stroke-width="1.4"/><line x1="134.1" y1="119.4" x2="127.5" y2="121.4" stroke="#c8301e" stroke-width="1.4"/><line x1="127.5" y1="121.4" x2="123.1" y2="122.7" stroke="#e08c8c" stroke-width="1.4"/><line x1="134.1" y1="119.4" x2="134.8" y2="111.3" stroke="#c8301e" stroke-width="1.4"/><line x1="134.8" y1="111.3" x2="135.3" y2="105.5" stroke="#e08c8c" stroke-width="1.4"/><line x1="134.1" y1="119.4" x2="132.6" y2="123.7" stroke="#c8301e" stroke-width="1.4"/><line x1="132.6" y1="123.7" x2="132.2" y2="124.7" stroke="#e08c8c" stroke-width="1.4"/><line x1="187.3" y1="110.8" x2="189.7" y2="104.1" stroke="#c8301e" stroke-width="1.4"/><line x1="189.7" y1="104.1" x2="191.3" y2="99.6" stroke="#e08c8c" stroke-width="1.4"/><line x1="187.3" y1="110.8" x2="179.2" y2="111.9" stroke="#c8301e" stroke-width="1.4"/><line x1="179.2" y1="111.9" x2="173.5" y2="112.7" stroke="#e08c8c" stroke-width="1.4"/><line x1="187.3" y1="110.8" x2="191.3" y2="117.5" stroke="#c8301e" stroke-width="1.4"/><line x1="191.3" y1="117.5" x2="194.1" y2="122.1" stroke="#e08c8c" stroke-width="1.4"/><line x1="187.3" y1="110.8" x2="191.1" y2="108.2" stroke="#c8301e" stroke-width="1.4"/><line x1="191.1" y1="108.2" x2="190.3" y2="108.8" stroke="#e08c8c" stroke-width="1.4"/><line x1="181.9" y1="119.7" x2="181.9" y2="127.5" stroke="#c8301e" stroke-width="1.4"/><line x1="181.9" y1="127.5" x2="181.9" y2="132.9" stroke="#e08c8c" stroke-width="1.4"/><line x1="181.9" y1="119.7" x2="188.5" y2="115.8" stroke="#c8301e" stroke-width="1.4"/><line x1="188.5" y1="115.8" x2="193.1" y2="113" stroke="#e08c8c" stroke-width="1.4"/><line x1="181.9" y1="119.7" x2="175.1" y2="115.9" stroke="#c8301e" stroke-width="1.4"/><line x1="175.1" y1="115.9" x2="170.3" y2="113.2" stroke="#e08c8c" stroke-width="1.4"/><line x1="181.9" y1="119.7" x2="186.4" y2="118.8" stroke="#c8301e" stroke-width="1.4"/><line x1="186.4" y1="118.8" x2="182.4" y2="119.6" stroke="#e08c8c" stroke-width="1.4"/><line x1="156.1" y1="131.2" x2="153.4" y2="134.9" stroke="#c8301e" stroke-width="1.4"/><line x1="153.4" y1="134.9" x2="152.3" y2="136.5" stroke="#e08c8c" stroke-width="1.4"/><line x1="156.1" y1="131.2" x2="150.2" y2="126.1" stroke="#c8301e" stroke-width="1.4"/><line x1="150.2" y1="126.1" x2="146.2" y2="122.5" stroke="#e08c8c" stroke-width="1.4"/><line x1="156.1" y1="131.2" x2="157.1" y2="137.6" stroke="#c8301e" stroke-width="1.4"/><line x1="157.1" y1="137.6" x2="157.8" y2="141.6" stroke="#e08c8c" stroke-width="1.4"/><line x1="156.1" y1="131.2" x2="163.1" y2="127.1" stroke="#c8301e" stroke-width="1.4"/><line x1="163.1" y1="127.1" x2="168.2" y2="124.2" stroke="#e08c8c" stroke-width="1.4"/><line x1="201.7" y1="133.7" x2="198.7" y2="126.1" stroke="#c8301e" stroke-width="1.4"/><line x1="198.7" y1="126.1" x2="196.6" y2="120.7" stroke="#e08c8c" stroke-width="1.4"/><line x1="201.7" y1="133.7" x2="199.1" y2="138.6" stroke="#c8301e" stroke-width="1.4"/><line x1="199.1" y1="138.6" x2="197.6" y2="141.3" stroke="#e08c8c" stroke-width="1.4"/><line x1="201.7" y1="133.7" x2="198.6" y2="137.5" stroke="#c8301e" stroke-width="1.4"/><line x1="198.6" y1="137.5" x2="197" y2="139.6" stroke="#e08c8c" stroke-width="1.4"/><line x1="201.7" y1="133.7" x2="209.9" y2="133.4" stroke="#c8301e" stroke-width="1.4"/><line x1="209.9" y1="133.4" x2="215.7" y2="133.2" stroke="#e08c8c" stroke-width="1.4"/><line x1="205.3" y1="144.5" x2="211.5" y2="139.5" stroke="#c8301e" stroke-width="1.4"/><line x1="211.5" y1="139.5" x2="215.9" y2="135.9" stroke="#e08c8c" stroke-width="1.4"/><line x1="205.3" y1="144.5" x2="201.8" y2="147.5" stroke="#c8301e" stroke-width="1.4"/><line x1="201.8" y1="147.5" x2="204" y2="145.6" stroke="#e08c8c" stroke-width="1.4"/><line x1="205.3" y1="144.5" x2="206.8" y2="152" stroke="#c8301e" stroke-width="1.4"/><line x1="206.8" y1="152" x2="207.8" y2="157.1" stroke="#e08c8c" stroke-width="1.4"/><line x1="205.3" y1="144.5" x2="198.3" y2="141.5" stroke="#c8301e" stroke-width="1.4"/><line x1="198.3" y1="141.5" x2="193.4" y2="139.4" stroke="#e08c8c" stroke-width="1.4"/><line x1="161.5" y1="157.4" x2="169.2" y2="155.2" stroke="#c8301e" stroke-width="1.4"/><line x1="169.2" y1="155.2" x2="174.7" y2="153.7" stroke="#e08c8c" stroke-width="1.4"/><line x1="161.5" y1="157.4" x2="158.7" y2="162.7" stroke="#c8301e" stroke-width="1.4"/><line x1="158.7" y1="162.7" x2="156.9" y2="166" stroke="#e08c8c" stroke-width="1.4"/><line x1="161.5" y1="157.4" x2="156.8" y2="150.7" stroke="#c8301e" stroke-width="1.4"/><line x1="156.8" y1="150.7" x2="153.4" y2="146" stroke="#e08c8c" stroke-width="1.4"/><line x1="161.5" y1="157.4" x2="161.1" y2="162" stroke="#c8301e" stroke-width="1.4"/><line x1="161.1" y1="162" x2="161" y2="164" stroke="#e08c8c" stroke-width="1.4"/><line x1="199.1" y1="158.8" x2="203" y2="152.2" stroke="#c8301e" stroke-width="1.4"/><line x1="203" y1="152.2" x2="205.7" y2="147.6" stroke="#e08c8c" stroke-width="1.4"/><line x1="199.1" y1="158.8" x2="204.3" y2="163" stroke="#c8301e" stroke-width="1.4"/><line x1="204.3" y1="163" x2="207.7" y2="165.7" stroke="#e08c8c" stroke-width="1.4"/><line x1="199.1" y1="158.8" x2="192.3" y2="156.3" stroke="#c8301e" stroke-width="1.4"/><line x1="192.3" y1="156.3" x2="187.7" y2="154.6" stroke="#e08c8c" stroke-width="1.4"/><line x1="199.1" y1="158.8" x2="196.7" y2="164.1" stroke="#c8301e" stroke-width="1.4"/><line x1="196.7" y1="164.1" x2="195.3" y2="167.2" stroke="#e08c8c" stroke-width="1.4"/><line x1="189.5" y1="163.6" x2="187.7" y2="170.1" stroke="#c8301e" stroke-width="1.4"/><line x1="187.7" y1="170.1" x2="186.5" y2="174.2" stroke="#e08c8c" stroke-width="1.4"/><line x1="189.5" y1="163.6" x2="189" y2="156.4" stroke="#c8301e" stroke-width="1.4"/><line x1="189" y1="156.4" x2="188.7" y2="151.5" stroke="#e08c8c" stroke-width="1.4"/><line x1="189.5" y1="163.6" x2="183.7" y2="163.5" stroke="#c8301e" stroke-width="1.4"/><line x1="183.7" y1="163.5" x2="180.3" y2="163.4" stroke="#e08c8c" stroke-width="1.4"/><line x1="189.5" y1="163.6" x2="197.1" y2="164.5" stroke="#c8301e" stroke-width="1.4"/><line x1="197.1" y1="164.5" x2="202.4" y2="165.2" stroke="#e08c8c" stroke-width="1.4"/><line x1="158.9" y1="178.9" x2="156.2" y2="172.3" stroke="#c8301e" stroke-width="1.4"/><line x1="156.2" y1="172.3" x2="154.5" y2="167.9" stroke="#e08c8c" stroke-width="1.4"/><line x1="158.9" y1="178.9" x2="154.3" y2="179.1" stroke="#c8301e" stroke-width="1.4"/><line x1="154.3" y1="179.1" x2="152.4" y2="179.1" stroke="#e08c8c" stroke-width="1.4"/><line x1="158.9" y1="178.9" x2="157.2" y2="185.9" stroke="#c8301e" stroke-width="1.4"/><line x1="157.2" y1="185.9" x2="156" y2="190.7" stroke="#e08c8c" stroke-width="1.4"/><line x1="158.9" y1="178.9" x2="167" y2="178.3" stroke="#c8301e" stroke-width="1.4"/><line x1="167" y1="178.3" x2="172.7" y2="177.9" stroke="#e08c8c" stroke-width="1.4"/><line x1="225.8" y1="174.6" x2="222.8" y2="179.8" stroke="#c8301e" stroke-width="1.4"/><line x1="222.8" y1="179.8" x2="221.1" y2="183" stroke="#e08c8c" stroke-width="1.4"/><line x1="225.8" y1="174.6" x2="230.9" y2="179" stroke="#c8301e" stroke-width="1.4"/><line x1="230.9" y1="179" x2="234.2" y2="181.9" stroke="#e08c8c" stroke-width="1.4"/><line x1="225.8" y1="174.6" x2="230.1" y2="168.3" stroke="#c8301e" stroke-width="1.4"/><line x1="230.1" y1="168.3" x2="233" y2="164" stroke="#e08c8c" stroke-width="1.4"/><line x1="225.8" y1="174.6" x2="219.3" y2="171.5" stroke="#c8301e" stroke-width="1.4"/><line x1="219.3" y1="171.5" x2="215" y2="169.5" stroke="#e08c8c" stroke-width="1.4"/><line x1="144" y1="97.9" x2="144" y2="93" stroke="#c8301e" stroke-width="1.4"/><line x1="144" y1="93" x2="144.1" y2="90.5" stroke="#e08c8c" stroke-width="1.4"/><line x1="144" y1="97.9" x2="149.8" y2="103.6" stroke="#c8301e" stroke-width="1.4"/><line x1="149.8" y1="103.6" x2="154" y2="107.7" stroke="#e08c8c" stroke-width="1.4"/><line x1="144" y1="97.9" x2="136.7" y2="101.5" stroke="#c8301e" stroke-width="1.4"/><line x1="136.7" y1="101.5" x2="131.5" y2="104" stroke="#e08c8c" stroke-width="1.4"/><line x1="144" y1="97.9" x2="145.6" y2="92.5" stroke="#c8301e" stroke-width="1.4"/><line x1="145.6" y1="92.5" x2="146.5" y2="89.4" stroke="#e08c8c" stroke-width="1.4"/><line x1="68.5" y1="27.2" x2="64.4" y2="35.3" stroke="#2fd4d8" stroke-width="1.4"/><line x1="64.4" y1="35.3" x2="61.7" y2="40.6" stroke="#e08c8c" stroke-width="1.4"/><line x1="68.5" y1="27.2" x2="73.4" y2="35.6" stroke="#2fd4d8" stroke-width="1.4"/><line x1="73.4" y1="35.6" x2="76.8" y2="41.4" stroke="#e08c8c" stroke-width="1.4"/><line x1="68.5" y1="27.2" x2="77.6" y2="26.3" stroke="#2fd4d8" stroke-width="1.4"/><line x1="77.6" y1="26.3" x2="83.7" y2="25.8" stroke="#e08c8c" stroke-width="1.4"/><line x1="114.4" y1="32.3" x2="115.9" y2="38.4" stroke="#2fd4d8" stroke-width="1.4"/><line x1="115.9" y1="38.4" x2="116.7" y2="41.6" stroke="#e08c8c" stroke-width="1.4"/><line x1="114.4" y1="32.3" x2="108.5" y2="36" stroke="#2fd4d8" stroke-width="1.4"/><line x1="108.5" y1="36" x2="105.3" y2="38" stroke="#e08c8c" stroke-width="1.4"/><line x1="114.4" y1="32.3" x2="120.9" y2="29.7" stroke="#2fd4d8" stroke-width="1.4"/><line x1="120.9" y1="29.7" x2="124.6" y2="28.3" stroke="#e08c8c" stroke-width="1.4"/><line x1="37.3" y1="53.1" x2="44.8" y2="53" stroke="#2fd4d8" stroke-width="1.4"/><line x1="44.8" y1="53" x2="49.2" y2="52.9" stroke="#e08c8c" stroke-width="1.4"/><line x1="37.3" y1="53.1" x2="40.1" y2="60.5" stroke="#2fd4d8" stroke-width="1.4"/><line x1="40.1" y1="60.5" x2="41.9" y2="65" stroke="#e08c8c" stroke-width="1.4"/><line x1="37.3" y1="53.1" x2="32.2" y2="46.5" stroke="#2fd4d8" stroke-width="1.4"/><line x1="32.2" y1="46.5" x2="29" y2="42.4" stroke="#e08c8c" stroke-width="1.4"/><line x1="66" y1="53.8" x2="72.4" y2="58.7" stroke="#2fd4d8" stroke-width="1.4"/><line x1="72.4" y1="58.7" x2="76.3" y2="61.7" stroke="#e08c8c" stroke-width="1.4"/><line x1="66" y1="53.8" x2="72.8" y2="49.1" stroke="#2fd4d8" stroke-width="1.4"/><line x1="72.8" y1="49.1" x2="77" y2="46.1" stroke="#e08c8c" stroke-width="1.4"/><line x1="66" y1="53.8" x2="63.4" y2="45.7" stroke="#2fd4d8" stroke-width="1.4"/><line x1="63.4" y1="45.7" x2="61.7" y2="40.6" stroke="#e08c8c" stroke-width="1.4"/><line x1="83.2" y1="47.3" x2="86.8" y2="41.9" stroke="#2fd4d8" stroke-width="1.4"/><line x1="86.8" y1="41.9" x2="88.7" y2="39" stroke="#e08c8c" stroke-width="1.4"/><line x1="83.2" y1="47.3" x2="90.7" y2="47.9" stroke="#2fd4d8" stroke-width="1.4"/><line x1="90.7" y1="47.9" x2="95.2" y2="48.3" stroke="#e08c8c" stroke-width="1.4"/><line x1="83.2" y1="47.3" x2="86.9" y2="39.2" stroke="#2fd4d8" stroke-width="1.4"/><line x1="86.9" y1="39.2" x2="89.3" y2="33.9" stroke="#e08c8c" stroke-width="1.4"/><line x1="78.9" y1="66" x2="83.7" y2="61.8" stroke="#2fd4d8" stroke-width="1.4"/><line x1="83.7" y1="61.8" x2="86.2" y2="59.6" stroke="#e08c8c" stroke-width="1.4"/><line x1="78.9" y1="66" x2="81.2" y2="57.4" stroke="#2fd4d8" stroke-width="1.4"/><line x1="81.2" y1="57.4" x2="82.6" y2="51.8" stroke="#e08c8c" stroke-width="1.4"/><line x1="78.9" y1="66" x2="72.5" y2="72.3" stroke="#2fd4d8" stroke-width="1.4"/><line x1="72.5" y1="72.3" x2="68.3" y2="76.4" stroke="#e08c8c" stroke-width="1.4"/><line x1="99.7" y1="73.6" x2="104.6" y2="67.8" stroke="#2fd4d8" stroke-width="1.4"/><line x1="104.6" y1="67.8" x2="107.5" y2="64.3" stroke="#e08c8c" stroke-width="1.4"/><line x1="99.7" y1="73.6" x2="93.5" y2="78.6" stroke="#2fd4d8" stroke-width="1.4"/><line x1="93.5" y1="78.6" x2="89.6" y2="81.7" stroke="#e08c8c" stroke-width="1.4"/><line x1="99.7" y1="73.6" x2="101" y2="65.4" stroke="#2fd4d8" stroke-width="1.4"/><line x1="101" y1="65.4" x2="101.9" y2="60.2" stroke="#e08c8c" stroke-width="1.4"/><line x1="28.7" y1="68.8" x2="26.6" y2="75" stroke="#2fd4d8" stroke-width="1.4"/><line x1="26.6" y1="75" x2="25.5" y2="78.2" stroke="#e08c8c" stroke-width="1.4"/><line x1="28.7" y1="68.8" x2="35.1" y2="71.1" stroke="#2fd4d8" stroke-width="1.4"/><line x1="35.1" y1="71.1" x2="38.5" y2="72.4" stroke="#e08c8c" stroke-width="1.4"/><line x1="28.7" y1="68.8" x2="29.3" y2="60.8" stroke="#2fd4d8" stroke-width="1.4"/><line x1="29.3" y1="60.8" x2="29.6" y2="55.9" stroke="#e08c8c" stroke-width="1.4"/><line x1="35.8" y1="69.3" x2="29.5" y2="74.8" stroke="#2fd4d8" stroke-width="1.4"/><line x1="29.5" y1="74.8" x2="25.5" y2="78.2" stroke="#e08c8c" stroke-width="1.4"/><line x1="35.8" y1="69.3" x2="32.1" y2="61.2" stroke="#2fd4d8" stroke-width="1.4"/><line x1="32.1" y1="61.2" x2="29.6" y2="55.9" stroke="#e08c8c" stroke-width="1.4"/><line x1="35.8" y1="69.3" x2="36.6" y2="78.8" stroke="#2fd4d8" stroke-width="1.4"/><line x1="36.6" y1="78.8" x2="37.1" y2="85.3" stroke="#e08c8c" stroke-width="1.4"/><line x1="129.1" y1="78.2" x2="128.9" y2="70.4" stroke="#2fd4d8" stroke-width="1.4"/><line x1="128.9" y1="70.4" x2="128.8" y2="65.7" stroke="#e08c8c" stroke-width="1.4"/><line x1="129.1" y1="78.2" x2="135.9" y2="83.8" stroke="#2fd4d8" stroke-width="1.4"/><line x1="135.9" y1="83.8" x2="140.4" y2="87.5" stroke="#e08c8c" stroke-width="1.4"/><line x1="129.1" y1="78.2" x2="138.9" y2="79.6" stroke="#2fd4d8" stroke-width="1.4"/><line x1="138.9" y1="79.6" x2="145.6" y2="80.6" stroke="#e08c8c" stroke-width="1.4"/><line x1="136.3" y1="73.1" x2="131.5" y2="68.3" stroke="#2fd4d8" stroke-width="1.4"/><line x1="131.5" y1="68.3" x2="128.8" y2="65.7" stroke="#e08c8c" stroke-width="1.4"/><line x1="136.3" y1="73.1" x2="135.3" y2="65.7" stroke="#2fd4d8" stroke-width="1.4"/><line x1="135.3" y1="65.7" x2="134.7" y2="61.4" stroke="#e08c8c" stroke-width="1.4"/><line x1="136.3" y1="73.1" x2="142.1" y2="77.8" stroke="#2fd4d8" stroke-width="1.4"/><line x1="142.1" y1="77.8" x2="145.6" y2="80.6" stroke="#e08c8c" stroke-width="1.4"/><line x1="36.5" y1="91.8" x2="32.4" y2="87.2" stroke="#2fd4d8" stroke-width="1.4"/><line x1="32.4" y1="87.2" x2="30.4" y2="85" stroke="#e08c8c" stroke-width="1.4"/><line x1="36.5" y1="91.8" x2="42.9" y2="92.9" stroke="#2fd4d8" stroke-width="1.4"/><line x1="42.9" y1="92.9" x2="46.4" y2="93.6" stroke="#e08c8c" stroke-width="1.4"/><line x1="36.5" y1="91.8" x2="29.3" y2="90.9" stroke="#2fd4d8" stroke-width="1.4"/><line x1="29.3" y1="90.9" x2="25.1" y2="90.3" stroke="#e08c8c" stroke-width="1.4"/><line x1="117.3" y1="97" x2="122.5" y2="100.7" stroke="#2fd4d8" stroke-width="1.4"/><line x1="122.5" y1="100.7" x2="125.2" y2="102.7" stroke="#e08c8c" stroke-width="1.4"/><line x1="117.3" y1="97" x2="109.4" y2="98.4" stroke="#2fd4d8" stroke-width="1.4"/><line x1="109.4" y1="98.4" x2="104.5" y2="99.3" stroke="#e08c8c" stroke-width="1.4"/><line x1="117.3" y1="97" x2="125.8" y2="101.2" stroke="#2fd4d8" stroke-width="1.4"/><line x1="125.8" y1="101.2" x2="131.5" y2="104" stroke="#e08c8c" stroke-width="1.4"/><line x1="161.8" y1="36.9" x2="159.7" y2="43" stroke="#2fd4d8" stroke-width="1.4"/><line x1="159.7" y1="43" x2="158.6" y2="46.3" stroke="#e08c8c" stroke-width="1.4"/><line x1="161.8" y1="36.9" x2="168.3" y2="35.1" stroke="#2fd4d8" stroke-width="1.4"/><line x1="168.3" y1="35.1" x2="171.9" y2="34.1" stroke="#e08c8c" stroke-width="1.4"/><line x1="161.8" y1="36.9" x2="160.2" y2="44.8" stroke="#2fd4d8" stroke-width="1.4"/><line x1="160.2" y1="44.8" x2="159.2" y2="49.6" stroke="#e08c8c" stroke-width="1.4"/><line x1="189.5" y1="42" x2="184.5" y2="46.6" stroke="#2fd4d8" stroke-width="1.4"/><line x1="184.5" y1="46.6" x2="181.7" y2="49.1" stroke="#e08c8c" stroke-width="1.4"/><line x1="189.5" y1="42" x2="196.1" y2="44.8" stroke="#2fd4d8" stroke-width="1.4"/><line x1="196.1" y1="44.8" x2="199.9" y2="46.3" stroke="#e08c8c" stroke-width="1.4"/><line x1="189.5" y1="42" x2="183.7" y2="47.9" stroke="#2fd4d8" stroke-width="1.4"/><line x1="183.7" y1="47.9" x2="180.1" y2="51.5" stroke="#e08c8c" stroke-width="1.4"/><line x1="193.8" y1="50.2" x2="186.2" y2="49.5" stroke="#2fd4d8" stroke-width="1.4"/><line x1="186.2" y1="49.5" x2="181.7" y2="49.1" stroke="#e08c8c" stroke-width="1.4"/><line x1="193.8" y1="50.2" x2="185.7" y2="51.6" stroke="#2fd4d8" stroke-width="1.4"/><line x1="185.7" y1="51.6" x2="180.6" y2="52.4" stroke="#e08c8c" stroke-width="1.4"/><line x1="193.8" y1="50.2" x2="185.4" y2="51" stroke="#2fd4d8" stroke-width="1.4"/><line x1="185.4" y1="51" x2="180.1" y2="51.5" stroke="#e08c8c" stroke-width="1.4"/><line x1="153.2" y1="52.3" x2="156" y2="58.4" stroke="#2fd4d8" stroke-width="1.4"/><line x1="156" y1="58.4" x2="157.5" y2="61.7" stroke="#e08c8c" stroke-width="1.4"/><line x1="153.2" y1="52.3" x2="147.8" y2="48.2" stroke="#2fd4d8" stroke-width="1.4"/><line x1="147.8" y1="48.2" x2="144.9" y2="45.9" stroke="#e08c8c" stroke-width="1.4"/><line x1="153.2" y1="52.3" x2="145.3" y2="51.4" stroke="#2fd4d8" stroke-width="1.4"/><line x1="145.3" y1="51.4" x2="140.5" y2="50.9" stroke="#e08c8c" stroke-width="1.4"/><line x1="145.5" y1="62.4" x2="138.6" y2="61.8" stroke="#2fd4d8" stroke-width="1.4"/><line x1="138.6" y1="61.8" x2="134.7" y2="61.4" stroke="#e08c8c" stroke-width="1.4"/><line x1="145.5" y1="62.4" x2="153" y2="62" stroke="#2fd4d8" stroke-width="1.4"/><line x1="153" y1="62" x2="157.5" y2="61.7" stroke="#e08c8c" stroke-width="1.4"/><line x1="145.5" y1="62.4" x2="142.4" y2="55.2" stroke="#2fd4d8" stroke-width="1.4"/><line x1="142.4" y1="55.2" x2="140.5" y2="50.9" stroke="#e08c8c" stroke-width="1.4"/><line x1="191.6" y1="63.1" x2="195.6" y2="70.4" stroke="#2fd4d8" stroke-width="1.4"/><line x1="195.6" y1="70.4" x2="198.1" y2="75.1" stroke="#e08c8c" stroke-width="1.4"/><line x1="191.6" y1="63.1" x2="189.7" y2="71.7" stroke="#2fd4d8" stroke-width="1.4"/><line x1="189.7" y1="71.7" x2="188.5" y2="77.2" stroke="#e08c8c" stroke-width="1.4"/><line x1="191.6" y1="63.1" x2="185" y2="56.7" stroke="#2fd4d8" stroke-width="1.4"/><line x1="185" y1="56.7" x2="180.6" y2="52.4" stroke="#e08c8c" stroke-width="1.4"/><line x1="185.2" y1="66" x2="181" y2="71.2" stroke="#2fd4d8" stroke-width="1.4"/><line x1="181" y1="71.2" x2="178.8" y2="74.1" stroke="#e08c8c" stroke-width="1.4"/><line x1="185.2" y1="66" x2="187.3" y2="73.1" stroke="#2fd4d8" stroke-width="1.4"/><line x1="187.3" y1="73.1" x2="188.5" y2="77.2" stroke="#e08c8c" stroke-width="1.4"/><line x1="185.2" y1="66" x2="177.7" y2="65" stroke="#2fd4d8" stroke-width="1.4"/><line x1="177.7" y1="65" x2="173.2" y2="64.4" stroke="#e08c8c" stroke-width="1.4"/><line x1="215.3" y1="63.1" x2="206" y2="64.7" stroke="#2fd4d8" stroke-width="1.4"/><line x1="206" y1="64.7" x2="199.7" y2="65.7" stroke="#e08c8c" stroke-width="1.4"/><line x1="215.3" y1="63.1" x2="205.8" y2="64.3" stroke="#2fd4d8" stroke-width="1.4"/><line x1="205.8" y1="64.3" x2="199.3" y2="65" stroke="#e08c8c" stroke-width="1.4"/><line x1="215.3" y1="63.1" x2="210.7" y2="54.7" stroke="#2fd4d8" stroke-width="1.4"/><line x1="210.7" y1="54.7" x2="207.6" y2="48.9" stroke="#e08c8c" stroke-width="1.4"/><line x1="206.7" y1="79.6" x2="201.1" y2="76.6" stroke="#2fd4d8" stroke-width="1.4"/><line x1="201.1" y1="76.6" x2="198.1" y2="75.1" stroke="#e08c8c" stroke-width="1.4"/><line x1="206.7" y1="79.6" x2="213" y2="81.8" stroke="#2fd4d8" stroke-width="1.4"/><line x1="213" y1="81.8" x2="216.5" y2="83" stroke="#e08c8c" stroke-width="1.4"/><line x1="206.7" y1="79.6" x2="200.7" y2="84.6" stroke="#2fd4d8" stroke-width="1.4"/><line x1="200.7" y1="84.6" x2="197" y2="87.7" stroke="#e08c8c" stroke-width="1.4"/><line x1="214.3" y1="79.6" x2="220.8" y2="78.9" stroke="#2fd4d8" stroke-width="1.4"/><line x1="220.8" y1="78.9" x2="224.3" y2="78.6" stroke="#e08c8c" stroke-width="1.4"/><line x1="214.3" y1="79.6" x2="207.2" y2="81.8" stroke="#2fd4d8" stroke-width="1.4"/><line x1="207.2" y1="81.8" x2="203" y2="83.1" stroke="#e08c8c" stroke-width="1.4"/><line x1="214.3" y1="79.6" x2="207.4" y2="82.8" stroke="#2fd4d8" stroke-width="1.4"/><line x1="207.4" y1="82.8" x2="203.2" y2="84.7" stroke="#e08c8c" stroke-width="1.4"/><line x1="144.3" y1="94" x2="145.1" y2="85.8" stroke="#2fd4d8" stroke-width="1.4"/><line x1="145.1" y1="85.8" x2="145.6" y2="80.6" stroke="#e08c8c" stroke-width="1.4"/><line x1="144.3" y1="94" x2="151.9" y2="95.3" stroke="#2fd4d8" stroke-width="1.4"/><line x1="151.9" y1="95.3" x2="156.5" y2="96.2" stroke="#e08c8c" stroke-width="1.4"/><line x1="144.3" y1="94" x2="141" y2="85.2" stroke="#2fd4d8" stroke-width="1.4"/><line x1="141" y1="85.2" x2="138.7" y2="79.2" stroke="#e08c8c" stroke-width="1.4"/><line x1="171.9" y1="96" x2="169" y2="87.7" stroke="#2fd4d8" stroke-width="1.4"/><line x1="169" y1="87.7" x2="167" y2="82.3" stroke="#e08c8c" stroke-width="1.4"/><line x1="171.9" y1="96" x2="177.8" y2="89" stroke="#2fd4d8" stroke-width="1.4"/><line x1="177.8" y1="89" x2="181.6" y2="84.3" stroke="#e08c8c" stroke-width="1.4"/><line x1="171.9" y1="96" x2="162.7" y2="96.1" stroke="#2fd4d8" stroke-width="1.4"/><line x1="162.7" y1="96.1" x2="156.5" y2="96.2" stroke="#e08c8c" stroke-width="1.4"/><line x1="165.8" y1="94.7" x2="159.6" y2="95.7" stroke="#2fd4d8" stroke-width="1.4"/><line x1="159.6" y1="95.7" x2="156.5" y2="96.2" stroke="#e08c8c" stroke-width="1.4"/><line x1="165.8" y1="94.7" x2="166.6" y2="87" stroke="#2fd4d8" stroke-width="1.4"/><line x1="166.6" y1="87" x2="167" y2="82.3" stroke="#e08c8c" stroke-width="1.4"/><line x1="165.8" y1="94.7" x2="174.6" y2="91" stroke="#2fd4d8" stroke-width="1.4"/><line x1="174.6" y1="91" x2="180.5" y2="88.6" stroke="#e08c8c" stroke-width="1.4"/><line x1="187.3" y1="97.7" x2="194.2" y2="97.6" stroke="#2fd4d8" stroke-width="1.4"/><line x1="194.2" y1="97.6" x2="198" y2="97.6" stroke="#e08c8c" stroke-width="1.4"/><line x1="187.3" y1="97.7" x2="183" y2="91.9" stroke="#2fd4d8" stroke-width="1.4"/><line x1="183" y1="91.9" x2="180.5" y2="88.6" stroke="#e08c8c" stroke-width="1.4"/><line x1="187.3" y1="97.7" x2="189.2" y2="104.7" stroke="#2fd4d8" stroke-width="1.4"/><line x1="189.2" y1="104.7" x2="190.3" y2="108.8" stroke="#e08c8c" stroke-width="1.4"/><line x1="39.4" y1="112.9" x2="31.4" y2="117.1" stroke="#2fd4d8" stroke-width="1.4"/><line x1="31.4" y1="117.1" x2="26.2" y2="119.8" stroke="#e08c8c" stroke-width="1.4"/><line x1="39.4" y1="112.9" x2="34.4" y2="118.6" stroke="#2fd4d8" stroke-width="1.4"/><line x1="34.4" y1="118.6" x2="31.4" y2="122" stroke="#e08c8c" stroke-width="1.4"/><line x1="39.4" y1="112.9" x2="41.9" y2="120" stroke="#2fd4d8" stroke-width="1.4"/><line x1="41.9" y1="120" x2="43.4" y2="124.3" stroke="#e08c8c" stroke-width="1.4"/><line x1="62.8" y1="118.7" x2="70.2" y2="113.4" stroke="#2fd4d8" stroke-width="1.4"/><line x1="70.2" y1="113.4" x2="75.1" y2="109.8" stroke="#e08c8c" stroke-width="1.4"/><line x1="62.8" y1="118.7" x2="57.6" y2="111.3" stroke="#2fd4d8" stroke-width="1.4"/><line x1="57.6" y1="111.3" x2="54.2" y2="106.4" stroke="#e08c8c" stroke-width="1.4"/><line x1="62.8" y1="118.7" x2="57.8" y2="110.8" stroke="#2fd4d8" stroke-width="1.4"/><line x1="57.8" y1="110.8" x2="54.5" y2="105.5" stroke="#e08c8c" stroke-width="1.4"/><line x1="50.9" y1="124.4" x2="59" y2="120.1" stroke="#2fd4d8" stroke-width="1.4"/><line x1="59" y1="120.1" x2="64.4" y2="117.2" stroke="#e08c8c" stroke-width="1.4"/><line x1="50.9" y1="124.4" x2="50.9" y2="116.2" stroke="#2fd4d8" stroke-width="1.4"/><line x1="50.9" y1="116.2" x2="50.9" y2="111" stroke="#e08c8c" stroke-width="1.4"/><line x1="50.9" y1="124.4" x2="52.8" y2="116.8" stroke="#2fd4d8" stroke-width="1.4"/><line x1="52.8" y1="116.8" x2="54" y2="112.1" stroke="#e08c8c" stroke-width="1.4"/><line x1="56.2" y1="135.2" x2="58.3" y2="144.3" stroke="#2fd4d8" stroke-width="1.4"/><line x1="58.3" y1="144.3" x2="59.7" y2="150.3" stroke="#e08c8c" stroke-width="1.4"/><line x1="56.2" y1="135.2" x2="46.4" y2="137" stroke="#2fd4d8" stroke-width="1.4"/><line x1="46.4" y1="137" x2="39.7" y2="138.2" stroke="#e08c8c" stroke-width="1.4"/><line x1="56.2" y1="135.2" x2="48.6" y2="128.7" stroke="#2fd4d8" stroke-width="1.4"/><line x1="48.6" y1="128.7" x2="43.4" y2="124.3" stroke="#e08c8c" stroke-width="1.4"/><line x1="42.3" y1="140.9" x2="39.3" y2="146.6" stroke="#2fd4d8" stroke-width="1.4"/><line x1="39.3" y1="146.6" x2="37.8" y2="149.6" stroke="#e08c8c" stroke-width="1.4"/><line x1="42.3" y1="140.9" x2="35.5" y2="140.1" stroke="#2fd4d8" stroke-width="1.4"/><line x1="35.5" y1="140.1" x2="31.7" y2="139.6" stroke="#e08c8c" stroke-width="1.4"/><line x1="42.3" y1="140.9" x2="48.4" y2="136" stroke="#2fd4d8" stroke-width="1.4"/><line x1="48.4" y1="136" x2="52.1" y2="133" stroke="#e08c8c" stroke-width="1.4"/><line x1="83.2" y1="138.8" x2="76.8" y2="138.8" stroke="#2fd4d8" stroke-width="1.4"/><line x1="76.8" y1="138.8" x2="73.4" y2="138.8" stroke="#e08c8c" stroke-width="1.4"/><line x1="83.2" y1="138.8" x2="76.8" y2="136" stroke="#2fd4d8" stroke-width="1.4"/><line x1="76.8" y1="136" x2="73.3" y2="134.5" stroke="#e08c8c" stroke-width="1.4"/><line x1="83.2" y1="138.8" x2="87.2" y2="144.6" stroke="#2fd4d8" stroke-width="1.4"/><line x1="87.2" y1="144.6" x2="89.5" y2="147.9" stroke="#e08c8c" stroke-width="1.4"/><line x1="99" y1="114.4" x2="95.7" y2="119.6" stroke="#2fd4d8" stroke-width="1.4"/><line x1="95.7" y1="119.6" x2="94" y2="122.3" stroke="#e08c8c" stroke-width="1.4"/><line x1="99" y1="114.4" x2="103.2" y2="121.5" stroke="#2fd4d8" stroke-width="1.4"/><line x1="103.2" y1="121.5" x2="105.8" y2="125.9" stroke="#e08c8c" stroke-width="1.4"/><line x1="99" y1="114.4" x2="106.2" y2="119.4" stroke="#2fd4d8" stroke-width="1.4"/><line x1="106.2" y1="119.4" x2="111" y2="122.7" stroke="#e08c8c" stroke-width="1.4"/><line x1="108.3" y1="121.5" x2="99.6" y2="122" stroke="#2fd4d8" stroke-width="1.4"/><line x1="99.6" y1="122" x2="94" y2="122.3" stroke="#e08c8c" stroke-width="1.4"/><line x1="108.3" y1="121.5" x2="117.2" y2="122.2" stroke="#2fd4d8" stroke-width="1.4"/><line x1="117.2" y1="122.2" x2="123.1" y2="122.7" stroke="#e08c8c" stroke-width="1.4"/><line x1="108.3" y1="121.5" x2="104.5" y2="112.9" stroke="#2fd4d8" stroke-width="1.4"/><line x1="104.5" y1="112.9" x2="101.9" y2="107.1" stroke="#e08c8c" stroke-width="1.4"/><line x1="123.3" y1="109.3" x2="128.7" y2="105.8" stroke="#2fd4d8" stroke-width="1.4"/><line x1="128.7" y1="105.8" x2="131.5" y2="104" stroke="#e08c8c" stroke-width="1.4"/><line x1="123.3" y1="109.3" x2="130.7" y2="106.9" stroke="#2fd4d8" stroke-width="1.4"/><line x1="130.7" y1="106.9" x2="135.3" y2="105.5" stroke="#e08c8c" stroke-width="1.4"/><line x1="123.3" y1="109.3" x2="123.2" y2="117.5" stroke="#2fd4d8" stroke-width="1.4"/><line x1="123.2" y1="117.5" x2="123.1" y2="122.7" stroke="#e08c8c" stroke-width="1.4"/><line x1="134.8" y1="111.5" x2="128.9" y2="106.1" stroke="#2fd4d8" stroke-width="1.4"/><line x1="128.9" y1="106.1" x2="125.2" y2="102.7" stroke="#e08c8c" stroke-width="1.4"/><line x1="134.8" y1="111.5" x2="133.2" y2="119.6" stroke="#2fd4d8" stroke-width="1.4"/><line x1="133.2" y1="119.6" x2="132.2" y2="124.7" stroke="#e08c8c" stroke-width="1.4"/><line x1="134.8" y1="111.5" x2="140.8" y2="104.3" stroke="#2fd4d8" stroke-width="1.4"/><line x1="140.8" y1="104.3" x2="144.9" y2="99.4" stroke="#e08c8c" stroke-width="1.4"/><line x1="132.7" y1="125.8" x2="126.5" y2="123.8" stroke="#2fd4d8" stroke-width="1.4"/><line x1="126.5" y1="123.8" x2="123.1" y2="122.7" stroke="#e08c8c" stroke-width="1.4"/><line x1="132.7" y1="125.8" x2="140.8" y2="125.2" stroke="#2fd4d8" stroke-width="1.4"/><line x1="140.8" y1="125.2" x2="145.8" y2="124.7" stroke="#e08c8c" stroke-width="1.4"/><line x1="132.7" y1="125.8" x2="140.9" y2="123.8" stroke="#2fd4d8" stroke-width="1.4"/><line x1="140.9" y1="123.8" x2="146.2" y2="122.5" stroke="#e08c8c" stroke-width="1.4"/><line x1="117.6" y1="134.5" x2="121" y2="127.2" stroke="#2fd4d8" stroke-width="1.4"/><line x1="121" y1="127.2" x2="123.1" y2="122.7" stroke="#e08c8c" stroke-width="1.4"/><line x1="117.6" y1="134.5" x2="113.5" y2="127.3" stroke="#2fd4d8" stroke-width="1.4"/><line x1="113.5" y1="127.3" x2="111" y2="122.7" stroke="#e08c8c" stroke-width="1.4"/><line x1="117.6" y1="134.5" x2="110.5" y2="129.3" stroke="#2fd4d8" stroke-width="1.4"/><line x1="110.5" y1="129.3" x2="105.8" y2="125.9" stroke="#e08c8c" stroke-width="1.4"/><line x1="109.7" y1="149.5" x2="106.7" y2="155.1" stroke="#2fd4d8" stroke-width="1.4"/><line x1="106.7" y1="155.1" x2="105.2" y2="157.9" stroke="#e08c8c" stroke-width="1.4"/><line x1="109.7" y1="149.5" x2="116.1" y2="143.8" stroke="#2fd4d8" stroke-width="1.4"/><line x1="116.1" y1="143.8" x2="120.1" y2="140.2" stroke="#e08c8c" stroke-width="1.4"/><line x1="109.7" y1="149.5" x2="102.6" y2="144" stroke="#2fd4d8" stroke-width="1.4"/><line x1="102.6" y1="144" x2="97.9" y2="140.4" stroke="#e08c8c" stroke-width="1.4"/><line x1="113.3" y1="158.8" x2="118.7" y2="163" stroke="#2fd4d8" stroke-width="1.4"/><line x1="118.7" y1="163" x2="121.6" y2="165.4" stroke="#e08c8c" stroke-width="1.4"/><line x1="113.3" y1="158.8" x2="114.5" y2="167.5" stroke="#2fd4d8" stroke-width="1.4"/><line x1="114.5" y1="167.5" x2="115.3" y2="173.2" stroke="#e08c8c" stroke-width="1.4"/><line x1="113.3" y1="158.8" x2="121.7" y2="161.5" stroke="#2fd4d8" stroke-width="1.4"/><line x1="121.7" y1="161.5" x2="127.3" y2="163.2" stroke="#e08c8c" stroke-width="1.4"/><line x1="137.7" y1="154.5" x2="131.3" y2="159.8" stroke="#2fd4d8" stroke-width="1.4"/><line x1="131.3" y1="159.8" x2="127.3" y2="163.2" stroke="#e08c8c" stroke-width="1.4"/><line x1="137.7" y1="154.5" x2="145.6" y2="153.1" stroke="#2fd4d8" stroke-width="1.4"/><line x1="145.6" y1="153.1" x2="150.5" y2="152.2" stroke="#e08c8c" stroke-width="1.4"/><line x1="137.7" y1="154.5" x2="146" y2="151.6" stroke="#2fd4d8" stroke-width="1.4"/><line x1="146" y1="151.6" x2="151.5" y2="149.7" stroke="#e08c8c" stroke-width="1.4"/><line x1="45.2" y1="168.2" x2="50.6" y2="172" stroke="#2fd4d8" stroke-width="1.4"/><line x1="50.6" y1="172" x2="53.5" y2="174" stroke="#e08c8c" stroke-width="1.4"/><line x1="45.2" y1="168.2" x2="47.3" y2="174.5" stroke="#2fd4d8" stroke-width="1.4"/><line x1="47.3" y1="174.5" x2="48.4" y2="177.8" stroke="#e08c8c" stroke-width="1.4"/><line x1="45.2" y1="168.2" x2="51.2" y2="171.2" stroke="#2fd4d8" stroke-width="1.4"/><line x1="51.2" y1="171.2" x2="54.5" y2="172.8" stroke="#e08c8c" stroke-width="1.4"/><line x1="89.6" y1="173.9" x2="86.4" y2="165.9" stroke="#2fd4d8" stroke-width="1.4"/><line x1="86.4" y1="165.9" x2="84.3" y2="160.8" stroke="#e08c8c" stroke-width="1.4"/><line x1="89.6" y1="173.9" x2="93.2" y2="166.1" stroke="#2fd4d8" stroke-width="1.4"/><line x1="93.2" y1="166.1" x2="95.5" y2="161" stroke="#e08c8c" stroke-width="1.4"/><line x1="89.6" y1="173.9" x2="80.8" y2="174" stroke="#2fd4d8" stroke-width="1.4"/><line x1="80.8" y1="174" x2="75.1" y2="174" stroke="#e08c8c" stroke-width="1.4"/><line x1="96.1" y1="179.6" x2="103.6" y2="182.3" stroke="#2fd4d8" stroke-width="1.4"/><line x1="103.6" y1="182.3" x2="108.3" y2="183.9" stroke="#e08c8c" stroke-width="1.4"/><line x1="96.1" y1="179.6" x2="105.1" y2="178.9" stroke="#2fd4d8" stroke-width="1.4"/><line x1="105.1" y1="178.9" x2="111" y2="178.5" stroke="#e08c8c" stroke-width="1.4"/><line x1="96.1" y1="179.6" x2="101.3" y2="184.9" stroke="#2fd4d8" stroke-width="1.4"/><line x1="101.3" y1="184.9" x2="104.3" y2="188" stroke="#e08c8c" stroke-width="1.4"/><line x1="76" y1="152.4" x2="81.2" y2="157.7" stroke="#2fd4d8" stroke-width="1.4"/><line x1="81.2" y1="157.7" x2="84.3" y2="160.8" stroke="#e08c8c" stroke-width="1.4"/><line x1="76" y1="152.4" x2="74.4" y2="144.1" stroke="#2fd4d8" stroke-width="1.4"/><line x1="74.4" y1="144.1" x2="73.4" y2="138.8" stroke="#e08c8c" stroke-width="1.4"/><line x1="76" y1="152.4" x2="78.6" y2="145.5" stroke="#2fd4d8" stroke-width="1.4"/><line x1="78.6" y1="145.5" x2="80.1" y2="141.4" stroke="#e08c8c" stroke-width="1.4"/><line x1="163.7" y1="111.5" x2="170.1" y2="112.3" stroke="#2fd4d8" stroke-width="1.4"/><line x1="170.1" y1="112.3" x2="173.5" y2="112.7" stroke="#e08c8c" stroke-width="1.4"/><line x1="163.7" y1="111.5" x2="157.4" y2="109.1" stroke="#2fd4d8" stroke-width="1.4"/><line x1="157.4" y1="109.1" x2="154" y2="107.7" stroke="#e08c8c" stroke-width="1.4"/><line x1="163.7" y1="111.5" x2="166.4" y2="119.3" stroke="#2fd4d8" stroke-width="1.4"/><line x1="166.4" y1="119.3" x2="168.2" y2="124.2" stroke="#e08c8c" stroke-width="1.4"/><line x1="213.9" y1="102.9" x2="207.8" y2="101" stroke="#2fd4d8" stroke-width="1.4"/><line x1="207.8" y1="101" x2="204.6" y2="100.1" stroke="#e08c8c" stroke-width="1.4"/><line x1="213.9" y1="102.9" x2="218.8" y2="98.6" stroke="#2fd4d8" stroke-width="1.4"/><line x1="218.8" y1="98.6" x2="221.4" y2="96.4" stroke="#e08c8c" stroke-width="1.4"/><line x1="213.9" y1="102.9" x2="220.9" y2="103.8" stroke="#2fd4d8" stroke-width="1.4"/><line x1="220.9" y1="103.8" x2="224.9" y2="104.3" stroke="#e08c8c" stroke-width="1.4"/><line x1="190.2" y1="120.8" x2="190.3" y2="113.3" stroke="#2fd4d8" stroke-width="1.4"/><line x1="190.3" y1="113.3" x2="190.3" y2="108.8" stroke="#e08c8c" stroke-width="1.4"/><line x1="190.2" y1="120.8" x2="198.8" y2="119.7" stroke="#2fd4d8" stroke-width="1.4"/><line x1="198.8" y1="119.7" x2="204.4" y2="119" stroke="#e08c8c" stroke-width="1.4"/><line x1="190.2" y1="120.8" x2="183.2" y2="118.6" stroke="#2fd4d8" stroke-width="1.4"/><line x1="183.2" y1="118.6" x2="179.1" y2="117.3" stroke="#e08c8c" stroke-width="1.4"/><line x1="217.5" y1="123.7" x2="216.3" y2="129.9" stroke="#2fd4d8" stroke-width="1.4"/><line x1="216.3" y1="129.9" x2="215.7" y2="133.2" stroke="#e08c8c" stroke-width="1.4"/><line x1="217.5" y1="123.7" x2="216.5" y2="131.3" stroke="#2fd4d8" stroke-width="1.4"/><line x1="216.5" y1="131.3" x2="215.9" y2="135.9" stroke="#e08c8c" stroke-width="1.4"/><line x1="217.5" y1="123.7" x2="209.5" y2="120.9" stroke="#2fd4d8" stroke-width="1.4"/><line x1="209.5" y1="120.9" x2="204.4" y2="119" stroke="#e08c8c" stroke-width="1.4"/><line x1="228.7" y1="135.9" x2="220.8" y2="135.9" stroke="#2fd4d8" stroke-width="1.4"/><line x1="220.8" y1="135.9" x2="215.9" y2="135.9" stroke="#e08c8c" stroke-width="1.4"/><line x1="228.7" y1="135.9" x2="220.7" y2="134.2" stroke="#2fd4d8" stroke-width="1.4"/><line x1="220.7" y1="134.2" x2="215.7" y2="133.2" stroke="#e08c8c" stroke-width="1.4"/><line x1="228.7" y1="135.9" x2="237.2" y2="134.3" stroke="#2fd4d8" stroke-width="1.4"/><line x1="237.2" y1="134.3" x2="242.7" y2="133.3" stroke="#e08c8c" stroke-width="1.4"/><line x1="156.5" y1="140.2" x2="153.3" y2="146.3" stroke="#2fd4d8" stroke-width="1.4"/><line x1="153.3" y1="146.3" x2="151.5" y2="149.7" stroke="#e08c8c" stroke-width="1.4"/><line x1="156.5" y1="140.2" x2="152.8" y2="147.6" stroke="#2fd4d8" stroke-width="1.4"/><line x1="152.8" y1="147.6" x2="150.5" y2="152.2" stroke="#e08c8c" stroke-width="1.4"/><line x1="156.5" y1="140.2" x2="163.9" y2="136.9" stroke="#2fd4d8" stroke-width="1.4"/><line x1="163.9" y1="136.9" x2="168.5" y2="134.9" stroke="#e08c8c" stroke-width="1.4"/><line x1="220.3" y1="151.7" x2="212.7" y2="155" stroke="#2fd4d8" stroke-width="1.4"/><line x1="212.7" y1="155" x2="207.8" y2="157.1" stroke="#e08c8c" stroke-width="1.4"/><line x1="220.3" y1="151.7" x2="211.6" y2="149.3" stroke="#2fd4d8" stroke-width="1.4"/><line x1="211.6" y1="149.3" x2="205.7" y2="147.6" stroke="#e08c8c" stroke-width="1.4"/><line x1="220.3" y1="151.7" x2="217.7" y2="142.3" stroke="#2fd4d8" stroke-width="1.4"/><line x1="217.7" y1="142.3" x2="215.9" y2="135.9" stroke="#e08c8c" stroke-width="1.4"/><line x1="148.6" y1="156" x2="151.7" y2="149.6" stroke="#2fd4d8" stroke-width="1.4"/><line x1="151.7" y1="149.6" x2="153.4" y2="146" stroke="#e08c8c" stroke-width="1.4"/><line x1="148.6" y1="156" x2="153.7" y2="162.2" stroke="#2fd4d8" stroke-width="1.4"/><line x1="153.7" y1="162.2" x2="156.9" y2="166" stroke="#e08c8c" stroke-width="1.4"/><line x1="148.6" y1="156" x2="152.2" y2="163.3" stroke="#2fd4d8" stroke-width="1.4"/><line x1="152.2" y1="163.3" x2="154.5" y2="167.9" stroke="#e08c8c" stroke-width="1.4"/><line x1="142.2" y1="159.6" x2="147.5" y2="154.9" stroke="#2fd4d8" stroke-width="1.4"/><line x1="147.5" y1="154.9" x2="150.5" y2="152.2" stroke="#e08c8c" stroke-width="1.4"/><line x1="142.2" y1="159.6" x2="147.9" y2="153.5" stroke="#2fd4d8" stroke-width="1.4"/><line x1="147.9" y1="153.5" x2="151.5" y2="149.7" stroke="#e08c8c" stroke-width="1.4"/><line x1="142.2" y1="159.6" x2="149.6" y2="164.6" stroke="#2fd4d8" stroke-width="1.4"/><line x1="149.6" y1="164.6" x2="154.5" y2="167.9" stroke="#e08c8c" stroke-width="1.4"/><line x1="178" y1="161" x2="184.1" y2="157" stroke="#2fd4d8" stroke-width="1.4"/><line x1="184.1" y1="157" x2="187.7" y2="154.6" stroke="#e08c8c" stroke-width="1.4"/><line x1="178" y1="161" x2="184.5" y2="155.3" stroke="#2fd4d8" stroke-width="1.4"/><line x1="184.5" y1="155.3" x2="188.7" y2="151.5" stroke="#e08c8c" stroke-width="1.4"/><line x1="178" y1="161" x2="183.1" y2="168.9" stroke="#2fd4d8" stroke-width="1.4"/><line x1="183.1" y1="168.9" x2="186.5" y2="174.2" stroke="#e08c8c" stroke-width="1.4"/><line x1="223.9" y1="179.6" x2="230.5" y2="181.1" stroke="#2fd4d8" stroke-width="1.4"/><line x1="230.5" y1="181.1" x2="234.2" y2="181.9" stroke="#e08c8c" stroke-width="1.4"/><line x1="223.9" y1="179.6" x2="218.4" y2="173.4" stroke="#2fd4d8" stroke-width="1.4"/><line x1="218.4" y1="173.4" x2="215" y2="169.5" stroke="#e08c8c" stroke-width="1.4"/><line x1="223.9" y1="179.6" x2="227.4" y2="172.9" stroke="#2fd4d8" stroke-width="1.4"/><line x1="227.4" y1="172.9" x2="229.5" y2="168.9" stroke="#e08c8c" stroke-width="1.4"/><line x1="28.4" y1="43" x2="35.8" y2="40.4" stroke="#c8301e" stroke-width="1.4"/><line x1="35.8" y1="40.4" x2="40.9" y2="38.5" stroke="#e08c8c" stroke-width="1.4"/><line x1="28.7" y1="68.8" x2="29.3" y2="60.8" stroke="#2fd4d8" stroke-width="1.4"/><line x1="29.3" y1="60.8" x2="29.6" y2="55.9" stroke="#e08c8c" stroke-width="1.4"/><line x1="37.3" y1="53.1" x2="44.8" y2="53" stroke="#2fd4d8" stroke-width="1.4"/><line x1="44.8" y1="53" x2="49.2" y2="52.9" stroke="#e08c8c" stroke-width="1.4"/><line x1="42.7" y1="40.6" x2="46.5" y2="47.8" stroke="#c8301e" stroke-width="1.4"/><line x1="46.5" y1="47.8" x2="49.2" y2="52.9" stroke="#e08c8c" stroke-width="1.4"/><line x1="53.5" y1="36.3" x2="57.4" y2="30.3" stroke="#c8301e" stroke-width="1.4"/><line x1="57.4" y1="30.3" x2="60" y2="26.3" stroke="#e08c8c" stroke-width="1.4"/><line x1="53.5" y1="36.3" x2="46.4" y2="33.3" stroke="#c8301e" stroke-width="1.4"/><line x1="46.4" y1="33.3" x2="41.5" y2="31.3" stroke="#e08c8c" stroke-width="1.4"/><line x1="42.7" y1="40.6" x2="42" y2="34.8" stroke="#c8301e" stroke-width="1.4"/><line x1="42" y1="34.8" x2="41.5" y2="31.3" stroke="#e08c8c" stroke-width="1.4"/><line x1="53.5" y1="36.3" x2="51.8" y2="42.8" stroke="#c8301e" stroke-width="1.4"/><line x1="51.8" y1="42.8" x2="50.7" y2="47.1" stroke="#e08c8c" stroke-width="1.4"/><line x1="42.7" y1="40.6" x2="47.6" y2="44.6" stroke="#c8301e" stroke-width="1.4"/><line x1="47.6" y1="44.6" x2="50.7" y2="47.1" stroke="#e08c8c" stroke-width="1.4"/><line x1="84.6" y1="38.7" x2="77.6" y2="34.5" stroke="#c8301e" stroke-width="1.4"/><line x1="77.6" y1="34.5" x2="72.6" y2="31.5" stroke="#e08c8c" stroke-width="1.4"/><line x1="89.6" y1="40.6" x2="85.5" y2="47.2" stroke="#c8301e" stroke-width="1.4"/><line x1="85.5" y1="47.2" x2="82.6" y2="51.8" stroke="#e08c8c" stroke-width="1.4"/><line x1="89.6" y1="40.6" x2="92.6" y2="35.5" stroke="#c8301e" stroke-width="1.4"/><line x1="92.6" y1="35.5" x2="94.5" y2="32.5" stroke="#e08c8c" stroke-width="1.4"/><line x1="84.6" y1="38.7" x2="90.5" y2="35" stroke="#c8301e" stroke-width="1.4"/><line x1="90.5" y1="35" x2="94.5" y2="32.5" stroke="#e08c8c" stroke-width="1.4"/><line x1="84.6" y1="38.7" x2="91.7" y2="38.6" stroke="#c8301e" stroke-width="1.4"/><line x1="91.7" y1="38.6" x2="96.5" y2="38.5" stroke="#e08c8c" stroke-width="1.4"/><line x1="84.6" y1="38.7" x2="86.6" y2="32.4" stroke="#c8301e" stroke-width="1.4"/><line x1="86.6" y1="32.4" x2="88" y2="28.4" stroke="#e08c8c" stroke-width="1.4"/><line x1="89.6" y1="40.6" x2="98.6" y2="39.1" stroke="#c8301e" stroke-width="1.4"/><line x1="98.6" y1="39.1" x2="105.3" y2="38" stroke="#e08c8c" stroke-width="1.4"/><line x1="114.4" y1="32.3" x2="120.9" y2="29.7" stroke="#2fd4d8" stroke-width="1.4"/><line x1="120.9" y1="29.7" x2="124.6" y2="28.3" stroke="#e08c8c" stroke-width="1.4"/><line x1="126.2" y1="39.4" x2="125.2" y2="32.7" stroke="#c8301e" stroke-width="1.4"/><line x1="125.2" y1="32.7" x2="124.6" y2="28.3" stroke="#e08c8c" stroke-width="1.4"/><line x1="126.2" y1="39.4" x2="116.9" y2="38.3" stroke="#c8301e" stroke-width="1.4"/><line x1="116.9" y1="38.3" x2="110" y2="37.5" stroke="#e08c8c" stroke-width="1.4"/><line x1="126.2" y1="39.4" x2="120.3" y2="40.8" stroke="#c8301e" stroke-width="1.4"/><line x1="120.3" y1="40.8" x2="116.7" y2="41.6" stroke="#e08c8c" stroke-width="1.4"/><line x1="126.2" y1="39.4" x2="132.9" y2="43.8" stroke="#c8301e" stroke-width="1.4"/><line x1="132.9" y1="43.8" x2="137.6" y2="47" stroke="#e08c8c" stroke-width="1.4"/><line x1="126.2" y1="39.4" x2="128.2" y2="31.5" stroke="#c8301e" stroke-width="1.4"/><line x1="128.2" y1="31.5" x2="129.6" y2="25.8" stroke="#e08c8c" stroke-width="1.4"/><line x1="133.4" y1="48.8" x2="140.3" y2="47.1" stroke="#c8301e" stroke-width="1.4"/><line x1="140.3" y1="47.1" x2="144.9" y2="45.9" stroke="#e08c8c" stroke-width="1.4"/><line x1="145.5" y1="62.4" x2="145.1" y2="52.6" stroke="#2fd4d8" stroke-width="1.4"/><line x1="145.1" y1="52.6" x2="144.9" y2="45.9" stroke="#e08c8c" stroke-width="1.4"/><line x1="116.5" y1="59.2" x2="119.9" y2="52.9" stroke="#c8301e" stroke-width="1.4"/><line x1="119.9" y1="52.9" x2="122.2" y2="48.7" stroke="#e08c8c" stroke-width="1.4"/><line x1="126.2" y1="39.4" x2="123.7" y2="45.1" stroke="#c8301e" stroke-width="1.4"/><line x1="123.7" y1="45.1" x2="122.2" y2="48.7" stroke="#e08c8c" stroke-width="1.4"/><line x1="75.7" y1="55.2" x2="68.4" y2="56.9" stroke="#c8301e" stroke-width="1.4"/><line x1="68.4" y1="56.9" x2="63.5" y2="58.1" stroke="#e08c8c" stroke-width="1.4"/><line x1="83.2" y1="47.3" x2="79.1" y2="55.9" stroke="#2fd4d8" stroke-width="1.4"/><line x1="79.1" y1="55.9" x2="76.3" y2="61.7" stroke="#e08c8c" stroke-width="1.4"/><line x1="66" y1="53.8" x2="72.4" y2="58.7" stroke="#2fd4d8" stroke-width="1.4"/><line x1="72.4" y1="58.7" x2="76.3" y2="61.7" stroke="#e08c8c" stroke-width="1.4"/><line x1="78.9" y1="66" x2="83.7" y2="61.8" stroke="#2fd4d8" stroke-width="1.4"/><line x1="83.7" y1="61.8" x2="86.2" y2="59.6" stroke="#e08c8c" stroke-width="1.4"/><line x1="66" y1="53.8" x2="72.4" y2="46.4" stroke="#2fd4d8" stroke-width="1.4"/><line x1="72.4" y1="46.4" x2="76.8" y2="41.4" stroke="#e08c8c" stroke-width="1.4"/><line x1="68.5" y1="27.2" x2="73.4" y2="35.6" stroke="#2fd4d8" stroke-width="1.4"/><line x1="73.4" y1="35.6" x2="76.8" y2="41.4" stroke="#e08c8c" stroke-width="1.4"/><line x1="116.5" y1="59.2" x2="108" y2="59.8" stroke="#c8301e" stroke-width="1.4"/><line x1="108" y1="59.8" x2="101.9" y2="60.2" stroke="#e08c8c" stroke-width="1.4"/><line x1="99.7" y1="73.6" x2="101" y2="65.4" stroke="#2fd4d8" stroke-width="1.4"/><line x1="101" y1="65.4" x2="101.9" y2="60.2" stroke="#e08c8c" stroke-width="1.4"/><line x1="116.5" y1="59.2" x2="109.4" y2="65" stroke="#c8301e" stroke-width="1.4"/><line x1="109.4" y1="65" x2="104.2" y2="69.2" stroke="#e08c8c" stroke-width="1.4"/><line x1="126.2" y1="39.4" x2="121.2" y2="46.6" stroke="#c8301e" stroke-width="1.4"/><line x1="121.2" y1="46.6" x2="117.5" y2="51.8" stroke="#e08c8c" stroke-width="1.4"/><line x1="104.7" y1="57.4" x2="112.2" y2="54.1" stroke="#c8301e" stroke-width="1.4"/><line x1="112.2" y1="54.1" x2="117.5" y2="51.8" stroke="#e08c8c" stroke-width="1.4"/><line x1="136.3" y1="73.1" x2="131.5" y2="68.3" stroke="#2fd4d8" stroke-width="1.4"/><line x1="131.5" y1="68.3" x2="128.8" y2="65.7" stroke="#e08c8c" stroke-width="1.4"/><line x1="99.7" y1="73.6" x2="104.6" y2="67.8" stroke="#2fd4d8" stroke-width="1.4"/><line x1="104.6" y1="67.8" x2="107.5" y2="64.3" stroke="#e08c8c" stroke-width="1.4"/><line x1="133.4" y1="48.8" x2="124.7" y2="46.9" stroke="#c8301e" stroke-width="1.4"/><line x1="124.7" y1="46.9" x2="118.2" y2="45.5" stroke="#e08c8c" stroke-width="1.4"/><line x1="38" y1="78.2" x2="43.4" y2="82" stroke="#c8301e" stroke-width="1.4"/><line x1="43.4" y1="82" x2="46.8" y2="84.4" stroke="#e08c8c" stroke-width="1.4"/><line x1="56.6" y1="77.5" x2="63.6" y2="76.8" stroke="#c8301e" stroke-width="1.4"/><line x1="63.6" y1="76.8" x2="68.3" y2="76.4" stroke="#e08c8c" stroke-width="1.4"/><line x1="56.6" y1="77.5" x2="53.8" y2="70" stroke="#c8301e" stroke-width="1.4"/><line x1="53.8" y1="70" x2="51.9" y2="64.7" stroke="#e08c8c" stroke-width="1.4"/><line x1="56.6" y1="77.5" x2="51.1" y2="81.6" stroke="#c8301e" stroke-width="1.4"/><line x1="51.1" y1="81.6" x2="47.5" y2="84.3" stroke="#e08c8c" stroke-width="1.4"/><line x1="38" y1="78.2" x2="43.7" y2="81.9" stroke="#c8301e" stroke-width="1.4"/><line x1="43.7" y1="81.9" x2="47.5" y2="84.3" stroke="#e08c8c" stroke-width="1.4"/><line x1="35.8" y1="69.3" x2="36.6" y2="78.8" stroke="#2fd4d8" stroke-width="1.4"/><line x1="36.6" y1="78.8" x2="37.1" y2="85.3" stroke="#e08c8c" stroke-width="1.4"/><line x1="37.3" y1="53.1" x2="40.1" y2="60.5" stroke="#2fd4d8" stroke-width="1.4"/><line x1="40.1" y1="60.5" x2="41.9" y2="65" stroke="#e08c8c" stroke-width="1.4"/><line x1="28.7" y1="68.8" x2="36.7" y2="66.5" stroke="#2fd4d8" stroke-width="1.4"/><line x1="36.7" y1="66.5" x2="41.9" y2="65" stroke="#e08c8c" stroke-width="1.4"/><line x1="36.5" y1="91.8" x2="42.9" y2="92.9" stroke="#2fd4d8" stroke-width="1.4"/><line x1="42.9" y1="92.9" x2="46.4" y2="93.6" stroke="#e08c8c" stroke-width="1.4"/><line x1="35.1" y1="85.3" x2="41.7" y2="90.1" stroke="#c8301e" stroke-width="1.4"/><line x1="41.7" y1="90.1" x2="46.4" y2="93.6" stroke="#e08c8c" stroke-width="1.4"/><line x1="35.1" y1="85.3" x2="29.1" y2="88.3" stroke="#c8301e" stroke-width="1.4"/><line x1="29.1" y1="88.3" x2="25.1" y2="90.3" stroke="#e08c8c" stroke-width="1.4"/><line x1="90.8" y1="97" x2="84.4" y2="100" stroke="#c8301e" stroke-width="1.4"/><line x1="84.4" y1="100" x2="80.2" y2="101.9" stroke="#e08c8c" stroke-width="1.4"/><line x1="92.5" y1="109.3" x2="85.3" y2="105" stroke="#c8301e" stroke-width="1.4"/><line x1="85.3" y1="105" x2="80.2" y2="101.9" stroke="#e08c8c" stroke-width="1.4"/><line x1="82.5" y1="92.5" x2="75.3" y2="89.8" stroke="#c8301e" stroke-width="1.4"/><line x1="75.3" y1="89.8" x2="70.3" y2="88" stroke="#e08c8c" stroke-width="1.4"/><line x1="82.5" y1="92.5" x2="86.7" y2="86.1" stroke="#c8301e" stroke-width="1.4"/><line x1="86.7" y1="86.1" x2="89.6" y2="81.7" stroke="#e08c8c" stroke-width="1.4"/><line x1="90.8" y1="97" x2="90.1" y2="88.2" stroke="#c8301e" stroke-width="1.4"/><line x1="90.1" y1="88.2" x2="89.6" y2="81.7" stroke="#e08c8c" stroke-width="1.4"/><line x1="90.8" y1="97" x2="86.7" y2="104" stroke="#c8301e" stroke-width="1.4"/><line x1="86.7" y1="104" x2="83.8" y2="109" stroke="#e08c8c" stroke-width="1.4"/><line x1="117.3" y1="97" x2="109.4" y2="98.4" stroke="#2fd4d8" stroke-width="1.4"/><line x1="109.4" y1="98.4" x2="104.5" y2="99.3" stroke="#e08c8c" stroke-width="1.4"/><line x1="99" y1="114.4" x2="102.3" y2="105.4" stroke="#2fd4d8" stroke-width="1.4"/><line x1="102.3" y1="105.4" x2="104.5" y2="99.3" stroke="#e08c8c" stroke-width="1.4"/><line x1="90.8" y1="97" x2="88.2" y2="91.2" stroke="#c8301e" stroke-width="1.4"/><line x1="88.2" y1="91.2" x2="86.5" y2="87.6" stroke="#e08c8c" stroke-width="1.4"/><line x1="144" y1="97.9" x2="141.8" y2="91.6" stroke="#c8301e" stroke-width="1.4"/><line x1="141.8" y1="91.6" x2="140.4" y2="87.5" stroke="#e08c8c" stroke-width="1.4"/><line x1="134.8" y1="111.5" x2="128.9" y2="106.1" stroke="#2fd4d8" stroke-width="1.4"/><line x1="128.9" y1="106.1" x2="125.2" y2="102.7" stroke="#e08c8c" stroke-width="1.4"/><line x1="134.8" y1="93.2" x2="129.2" y2="98.8" stroke="#c8301e" stroke-width="1.4"/><line x1="129.2" y1="98.8" x2="125.2" y2="102.7" stroke="#e08c8c" stroke-width="1.4"/><line x1="134.8" y1="93.2" x2="140.8" y2="96.9" stroke="#c8301e" stroke-width="1.4"/><line x1="140.8" y1="96.9" x2="144.9" y2="99.4" stroke="#e08c8c" stroke-width="1.4"/><line x1="134.8" y1="111.5" x2="140.8" y2="104.3" stroke="#2fd4d8" stroke-width="1.4"/><line x1="140.8" y1="104.3" x2="144.9" y2="99.4" stroke="#e08c8c" stroke-width="1.4"/><line x1="136.3" y1="73.1" x2="131.6" y2="79.4" stroke="#2fd4d8" stroke-width="1.4"/><line x1="131.6" y1="79.4" x2="128.7" y2="83.2" stroke="#e08c8c" stroke-width="1.4"/><line x1="161.8" y1="36.9" x2="168.3" y2="35.1" stroke="#2fd4d8" stroke-width="1.4"/><line x1="168.3" y1="35.1" x2="171.9" y2="34.1" stroke="#e08c8c" stroke-width="1.4"/><line x1="173.3" y1="48" x2="172.5" y2="39.9" stroke="#c8301e" stroke-width="1.4"/><line x1="172.5" y1="39.9" x2="171.9" y2="34.1" stroke="#e08c8c" stroke-width="1.4"/><line x1="193.8" y1="50.2" x2="185.7" y2="51.6" stroke="#2fd4d8" stroke-width="1.4"/><line x1="185.7" y1="51.6" x2="180.6" y2="52.4" stroke="#e08c8c" stroke-width="1.4"/><line x1="173.3" y1="48" x2="165.9" y2="51.5" stroke="#c8301e" stroke-width="1.4"/><line x1="165.9" y1="51.5" x2="160.6" y2="54" stroke="#e08c8c" stroke-width="1.4"/><line x1="153.2" y1="52.3" x2="161.9" y2="55" stroke="#2fd4d8" stroke-width="1.4"/><line x1="161.9" y1="55" x2="167.6" y2="56.7" stroke="#e08c8c" stroke-width="1.4"/><line x1="136.3" y1="73.1" x2="142" y2="65.6" stroke="#2fd4d8" stroke-width="1.4"/><line x1="142" y1="65.6" x2="145.8" y2="60.6" stroke="#e08c8c" stroke-width="1.4"/><line x1="158.7" y1="58.1" x2="151.1" y2="59.6" stroke="#c8301e" stroke-width="1.4"/><line x1="151.1" y1="59.6" x2="145.8" y2="60.6" stroke="#e08c8c" stroke-width="1.4"/><line x1="170.8" y1="57.4" x2="166.1" y2="64" stroke="#c8301e" stroke-width="1.4"/><line x1="166.1" y1="64" x2="162.7" y2="68.8" stroke="#e08c8c" stroke-width="1.4"/><line x1="189.5" y1="42" x2="184.5" y2="46.6" stroke="#2fd4d8" stroke-width="1.4"/><line x1="184.5" y1="46.6" x2="181.7" y2="49.1" stroke="#e08c8c" stroke-width="1.4"/><line x1="170.8" y1="57.4" x2="177.2" y2="52.5" stroke="#c8301e" stroke-width="1.4"/><line x1="177.2" y1="52.5" x2="181.7" y2="49.1" stroke="#e08c8c" stroke-width="1.4"/><line x1="161.8" y1="36.9" x2="160.2" y2="44.8" stroke="#2fd4d8" stroke-width="1.4"/><line x1="160.2" y1="44.8" x2="159.2" y2="49.6" stroke="#e08c8c" stroke-width="1.4"/><line x1="158.7" y1="58.1" x2="164.8" y2="63" stroke="#c8301e" stroke-width="1.4"/><line x1="164.8" y1="63" x2="169" y2="66.5" stroke="#e08c8c" stroke-width="1.4"/><line x1="189.5" y1="42" x2="196.1" y2="44.8" stroke="#2fd4d8" stroke-width="1.4"/><line x1="196.1" y1="44.8" x2="199.9" y2="46.3" stroke="#e08c8c" stroke-width="1.4"/><line x1="185.2" y1="66" x2="194" y2="65.8" stroke="#2fd4d8" stroke-width="1.4"/><line x1="194" y1="65.8" x2="199.7" y2="65.7" stroke="#e08c8c" stroke-width="1.4"/><line x1="193.8" y1="50.2" x2="202.1" y2="47.9" stroke="#2fd4d8" stroke-width="1.4"/><line x1="202.1" y1="47.9" x2="207.6" y2="46.4" stroke="#e08c8c" stroke-width="1.4"/><line x1="220.6" y1="50.9" x2="213" y2="48.2" stroke="#c8301e" stroke-width="1.4"/><line x1="213" y1="48.2" x2="207.6" y2="46.4" stroke="#e08c8c" stroke-width="1.4"/><line x1="193.8" y1="50.2" x2="202.2" y2="49.4" stroke="#2fd4d8" stroke-width="1.4"/><line x1="202.2" y1="49.4" x2="207.6" y2="48.9" stroke="#e08c8c" stroke-width="1.4"/><line x1="220.6" y1="50.9" x2="212.9" y2="49.7" stroke="#c8301e" stroke-width="1.4"/><line x1="212.9" y1="49.7" x2="207.6" y2="48.9" stroke="#e08c8c" stroke-width="1.4"/><line x1="231.8" y1="46.9" x2="225.7" y2="45.7" stroke="#c8301e" stroke-width="1.4"/><line x1="225.7" y1="45.7" x2="221.9" y2="45" stroke="#e08c8c" stroke-width="1.4"/><line x1="231.8" y1="46.9" x2="233.6" y2="39.1" stroke="#c8301e" stroke-width="1.4"/><line x1="233.6" y1="39.1" x2="234.9" y2="33.7" stroke="#e08c8c" stroke-width="1.4"/><line x1="220.6" y1="50.9" x2="227" y2="53.2" stroke="#c8301e" stroke-width="1.4"/><line x1="227" y1="53.2" x2="231.2" y2="54.6" stroke="#e08c8c" stroke-width="1.4"/><line x1="231.8" y1="46.9" x2="237.8" y2="50" stroke="#c8301e" stroke-width="1.4"/><line x1="237.8" y1="50" x2="241.7" y2="52" stroke="#e08c8c" stroke-width="1.4"/><line x1="155.1" y1="75" x2="156.5" y2="67.2" stroke="#c8301e" stroke-width="1.4"/><line x1="156.5" y1="67.2" x2="157.5" y2="61.7" stroke="#e08c8c" stroke-width="1.4"/><line x1="153.2" y1="52.3" x2="156" y2="58.4" stroke="#2fd4d8" stroke-width="1.4"/><line x1="156" y1="58.4" x2="157.5" y2="61.7" stroke="#e08c8c" stroke-width="1.4"/><line x1="136.3" y1="73.1" x2="144.8" y2="74.5" stroke="#2fd4d8" stroke-width="1.4"/><line x1="144.8" y1="74.5" x2="150.3" y2="75.4" stroke="#e08c8c" stroke-width="1.4"/><line x1="145.5" y1="62.4" x2="148.4" y2="70.3" stroke="#2fd4d8" stroke-width="1.4"/><line x1="148.4" y1="70.3" x2="150.3" y2="75.4" stroke="#e08c8c" stroke-width="1.4"/><line x1="136.3" y1="73.1" x2="142.1" y2="77.8" stroke="#2fd4d8" stroke-width="1.4"/><line x1="142.1" y1="77.8" x2="145.6" y2="80.6" stroke="#e08c8c" stroke-width="1.4"/><line x1="171.9" y1="96" x2="169" y2="87.7" stroke="#2fd4d8" stroke-width="1.4"/><line x1="169" y1="87.7" x2="167" y2="82.3" stroke="#e08c8c" stroke-width="1.4"/><line x1="165.8" y1="94.7" x2="166.6" y2="87" stroke="#2fd4d8" stroke-width="1.4"/><line x1="166.6" y1="87" x2="167" y2="82.3" stroke="#e08c8c" stroke-width="1.4"/><line x1="185.2" y1="66" x2="181" y2="71.2" stroke="#2fd4d8" stroke-width="1.4"/><line x1="181" y1="71.2" x2="178.8" y2="74.1" stroke="#e08c8c" stroke-width="1.4"/><line x1="185.2" y1="66" x2="187.3" y2="73.1" stroke="#2fd4d8" stroke-width="1.4"/><line x1="187.3" y1="73.1" x2="188.5" y2="77.2" stroke="#e08c8c" stroke-width="1.4"/><line x1="190.9" y1="76" x2="194.5" y2="82.9" stroke="#c8301e" stroke-width="1.4"/><line x1="194.5" y1="82.9" x2="197" y2="87.7" stroke="#e08c8c" stroke-width="1.4"/><line x1="195.2" y1="85" x2="197" y2="78.9" stroke="#c8301e" stroke-width="1.4"/><line x1="197" y1="78.9" x2="198.1" y2="75.1" stroke="#e08c8c" stroke-width="1.4"/><line x1="190.9" y1="76" x2="185.4" y2="80.9" stroke="#c8301e" stroke-width="1.4"/><line x1="185.4" y1="80.9" x2="181.6" y2="84.3" stroke="#e08c8c" stroke-width="1.4"/><line x1="187.3" y1="97.7" x2="183.9" y2="89.6" stroke="#2fd4d8" stroke-width="1.4"/><line x1="183.9" y1="89.6" x2="181.6" y2="84.3" stroke="#e08c8c" stroke-width="1.4"/><line x1="234.7" y1="87.9" x2="228.6" y2="82.5" stroke="#c8301e" stroke-width="1.4"/><line x1="228.6" y1="82.5" x2="224.3" y2="78.6" stroke="#e08c8c" stroke-width="1.4"/><line x1="216" y1="89.4" x2="220.9" y2="83.1" stroke="#c8301e" stroke-width="1.4"/><line x1="220.9" y1="83.1" x2="224.3" y2="78.6" stroke="#e08c8c" stroke-width="1.4"/><line x1="214.3" y1="79.6" x2="207.4" y2="82.8" stroke="#2fd4d8" stroke-width="1.4"/><line x1="207.4" y1="82.8" x2="203.2" y2="84.7" stroke="#e08c8c" stroke-width="1.4"/><line x1="213.9" y1="102.9" x2="218.8" y2="98.6" stroke="#2fd4d8" stroke-width="1.4"/><line x1="218.8" y1="98.6" x2="221.4" y2="96.4" stroke="#e08c8c" stroke-width="1.4"/><line x1="213.2" y1="96.6" x2="220" y2="101.1" stroke="#c8301e" stroke-width="1.4"/><line x1="220" y1="101.1" x2="224.9" y2="104.3" stroke="#e08c8c" stroke-width="1.4"/><line x1="213.9" y1="102.9" x2="220.9" y2="103.8" stroke="#2fd4d8" stroke-width="1.4"/><line x1="220.9" y1="103.8" x2="224.9" y2="104.3" stroke="#e08c8c" stroke-width="1.4"/><line x1="213.2" y1="96.6" x2="215.1" y2="88.7" stroke="#c8301e" stroke-width="1.4"/><line x1="215.1" y1="88.7" x2="216.5" y2="83" stroke="#e08c8c" stroke-width="1.4"/><line x1="216" y1="89.4" x2="222.7" y2="84" stroke="#c8301e" stroke-width="1.4"/><line x1="222.7" y1="84" x2="227.6" y2="80" stroke="#e08c8c" stroke-width="1.4"/><line x1="216" y1="89.4" x2="221.8" y2="93.4" stroke="#c8301e" stroke-width="1.4"/><line x1="221.8" y1="93.4" x2="225.7" y2="96" stroke="#e08c8c" stroke-width="1.4"/><line x1="234.7" y1="87.9" x2="240.1" y2="92.7" stroke="#c8301e" stroke-width="1.4"/><line x1="240.1" y1="92.7" x2="243.8" y2="96" stroke="#e08c8c" stroke-width="1.4"/><line x1="234.7" y1="87.9" x2="238.9" y2="82.9" stroke="#c8301e" stroke-width="1.4"/><line x1="238.9" y1="82.9" x2="241.6" y2="79.6" stroke="#e08c8c" stroke-width="1.4"/><line x1="64.2" y1="103.3" x2="56.6" y2="100.9" stroke="#c8301e" stroke-width="1.4"/><line x1="56.6" y1="100.9" x2="51.2" y2="99.2" stroke="#e08c8c" stroke-width="1.4"/><line x1="64.2" y1="103.3" x2="64.3" y2="111.4" stroke="#c8301e" stroke-width="1.4"/><line x1="64.3" y1="111.4" x2="64.4" y2="117.2" stroke="#e08c8c" stroke-width="1.4"/><line x1="50.9" y1="124.4" x2="59" y2="120.1" stroke="#2fd4d8" stroke-width="1.4"/><line x1="59" y1="120.1" x2="64.4" y2="117.2" stroke="#e08c8c" stroke-width="1.4"/><line x1="82.5" y1="92.5" x2="76.7" y2="96.7" stroke="#c8301e" stroke-width="1.4"/><line x1="76.7" y1="96.7" x2="72.8" y2="99.6" stroke="#e08c8c" stroke-width="1.4"/><line x1="64.2" y1="103.3" x2="69.6" y2="101" stroke="#c8301e" stroke-width="1.4"/><line x1="69.6" y1="101" x2="72.8" y2="99.6" stroke="#e08c8c" stroke-width="1.4"/><line x1="92.5" y1="109.3" x2="98.4" y2="108" stroke="#c8301e" stroke-width="1.4"/><line x1="98.4" y1="108" x2="101.9" y2="107.1" stroke="#e08c8c" stroke-width="1.4"/><line x1="108.3" y1="121.5" x2="104.5" y2="112.9" stroke="#2fd4d8" stroke-width="1.4"/><line x1="104.5" y1="112.9" x2="101.9" y2="107.1" stroke="#e08c8c" stroke-width="1.4"/><line x1="90.8" y1="97" x2="84.4" y2="103.2" stroke="#c8301e" stroke-width="1.4"/><line x1="84.4" y1="103.2" x2="79.6" y2="107.8" stroke="#e08c8c" stroke-width="1.4"/><line x1="82.5" y1="92.5" x2="80.8" y2="101.3" stroke="#c8301e" stroke-width="1.4"/><line x1="80.8" y1="101.3" x2="79.6" y2="107.8" stroke="#e08c8c" stroke-width="1.4"/><line x1="82.5" y1="92.5" x2="89.5" y2="96.9" stroke="#c8301e" stroke-width="1.4"/><line x1="89.5" y1="96.9" x2="94.5" y2="100" stroke="#e08c8c" stroke-width="1.4"/><line x1="99" y1="114.4" x2="96.3" y2="105.7" stroke="#2fd4d8" stroke-width="1.4"/><line x1="96.3" y1="105.7" x2="94.5" y2="100" stroke="#e08c8c" stroke-width="1.4"/><line x1="99" y1="114.4" x2="95.7" y2="119.6" stroke="#2fd4d8" stroke-width="1.4"/><line x1="95.7" y1="119.6" x2="94" y2="122.3" stroke="#e08c8c" stroke-width="1.4"/><line x1="83.9" y1="125.8" x2="90.1" y2="123.6" stroke="#c8301e" stroke-width="1.4"/><line x1="90.1" y1="123.6" x2="94" y2="122.3" stroke="#e08c8c" stroke-width="1.4"/><line x1="23.6" y1="123" x2="18.4" y2="118.3" stroke="#c8301e" stroke-width="1.4"/><line x1="18.4" y1="118.3" x2="14.9" y2="115.2" stroke="#e08c8c" stroke-width="1.4"/><line x1="23.6" y1="123" x2="19.1" y2="126.7" stroke="#c8301e" stroke-width="1.4"/><line x1="19.1" y1="126.7" x2="16.5" y2="128.9" stroke="#e08c8c" stroke-width="1.4"/><line x1="23.6" y1="123" x2="29.6" y2="118.2" stroke="#c8301e" stroke-width="1.4"/><line x1="29.6" y1="118.2" x2="33.8" y2="114.9" stroke="#e08c8c" stroke-width="1.4"/><line x1="26.9" y1="133.7" x2="21.1" y2="137.5" stroke="#c8301e" stroke-width="1.4"/><line x1="21.1" y1="137.5" x2="17.3" y2="139.9" stroke="#e08c8c" stroke-width="1.4"/><line x1="21.2" y1="148.1" x2="18.7" y2="143" stroke="#c8301e" stroke-width="1.4"/><line x1="18.7" y1="143" x2="17.3" y2="139.9" stroke="#e08c8c" stroke-width="1.4"/><line x1="23.6" y1="123" x2="24.1" y2="131.1" stroke="#c8301e" stroke-width="1.4"/><line x1="24.1" y1="131.1" x2="24.5" y2="136.8" stroke="#e08c8c" stroke-width="1.4"/><line x1="21.2" y1="148.1" x2="23.2" y2="141.3" stroke="#c8301e" stroke-width="1.4"/><line x1="23.2" y1="141.3" x2="24.5" y2="136.8" stroke="#e08c8c" stroke-width="1.4"/><line x1="39.4" y1="112.9" x2="31.4" y2="117.1" stroke="#2fd4d8" stroke-width="1.4"/><line x1="31.4" y1="117.1" x2="26.2" y2="119.8" stroke="#e08c8c" stroke-width="1.4"/><line x1="26.9" y1="133.7" x2="34.4" y2="136.3" stroke="#c8301e" stroke-width="1.4"/><line x1="34.4" y1="136.3" x2="39.7" y2="138.2" stroke="#e08c8c" stroke-width="1.4"/><line x1="50.9" y1="146.7" x2="44.3" y2="141.7" stroke="#c8301e" stroke-width="1.4"/><line x1="44.3" y1="141.7" x2="39.7" y2="138.2" stroke="#e08c8c" stroke-width="1.4"/><line x1="99" y1="114.4" x2="106.2" y2="119.4" stroke="#2fd4d8" stroke-width="1.4"/><line x1="106.2" y1="119.4" x2="111" y2="122.7" stroke="#e08c8c" stroke-width="1.4"/><line x1="117.6" y1="134.5" x2="110.5" y2="129.3" stroke="#2fd4d8" stroke-width="1.4"/><line x1="110.5" y1="129.3" x2="105.8" y2="125.9" stroke="#e08c8c" stroke-width="1.4"/><line x1="109.7" y1="149.5" x2="116.1" y2="143.8" stroke="#2fd4d8" stroke-width="1.4"/><line x1="116.1" y1="143.8" x2="120.1" y2="140.2" stroke="#e08c8c" stroke-width="1.4"/><line x1="108.7" y1="132.3" x2="102.4" y2="137" stroke="#c8301e" stroke-width="1.4"/><line x1="102.4" y1="137" x2="97.9" y2="140.4" stroke="#e08c8c" stroke-width="1.4"/><line x1="21.2" y1="148.1" x2="19.5" y2="153.7" stroke="#c8301e" stroke-width="1.4"/><line x1="19.5" y1="153.7" x2="18.6" y2="157" stroke="#e08c8c" stroke-width="1.4"/><line x1="50.9" y1="146.7" x2="43.2" y2="148.4" stroke="#c8301e" stroke-width="1.4"/><line x1="43.2" y1="148.4" x2="37.8" y2="149.6" stroke="#e08c8c" stroke-width="1.4"/><line x1="50.9" y1="146.7" x2="51.6" y2="138.7" stroke="#c8301e" stroke-width="1.4"/><line x1="51.6" y1="138.7" x2="52.1" y2="133" stroke="#e08c8c" stroke-width="1.4"/><line x1="76" y1="152.4" x2="66.4" y2="151.2" stroke="#2fd4d8" stroke-width="1.4"/><line x1="66.4" y1="151.2" x2="59.7" y2="150.3" stroke="#e08c8c" stroke-width="1.4"/><line x1="71.7" y1="159.6" x2="64.8" y2="154.3" stroke="#c8301e" stroke-width="1.4"/><line x1="64.8" y1="154.3" x2="59.7" y2="150.3" stroke="#e08c8c" stroke-width="1.4"/><line x1="61.7" y1="170.3" x2="65.2" y2="161.7" stroke="#c8301e" stroke-width="1.4"/><line x1="65.2" y1="161.7" x2="67.9" y2="155.3" stroke="#e08c8c" stroke-width="1.4"/><line x1="76" y1="144.1" x2="71.3" y2="150.7" stroke="#c8301e" stroke-width="1.4"/><line x1="71.3" y1="150.7" x2="67.9" y2="155.3" stroke="#e08c8c" stroke-width="1.4"/><line x1="83.2" y1="138.8" x2="87.2" y2="144.6" stroke="#2fd4d8" stroke-width="1.4"/><line x1="87.2" y1="144.6" x2="89.5" y2="147.9" stroke="#e08c8c" stroke-width="1.4"/><line x1="76" y1="144.1" x2="83.9" y2="146.3" stroke="#c8301e" stroke-width="1.4"/><line x1="83.9" y1="146.3" x2="89.5" y2="147.9" stroke="#e08c8c" stroke-width="1.4"/><line x1="76" y1="152.4" x2="74.4" y2="144.1" stroke="#2fd4d8" stroke-width="1.4"/><line x1="74.4" y1="144.1" x2="73.4" y2="138.8" stroke="#e08c8c" stroke-width="1.4"/><line x1="83.2" y1="138.8" x2="76.8" y2="138.8" stroke="#2fd4d8" stroke-width="1.4"/><line x1="76.8" y1="138.8" x2="73.4" y2="138.8" stroke="#e08c8c" stroke-width="1.4"/><line x1="83.2" y1="138.8" x2="91.7" y2="139.9" stroke="#2fd4d8" stroke-width="1.4"/><line x1="91.7" y1="139.9" x2="97.1" y2="140.6" stroke="#e08c8c" stroke-width="1.4"/><line x1="108.7" y1="132.3" x2="101.9" y2="137.1" stroke="#c8301e" stroke-width="1.4"/><line x1="101.9" y1="137.1" x2="97.1" y2="140.6" stroke="#e08c8c" stroke-width="1.4"/><line x1="91.8" y1="153.5" x2="83.6" y2="153.1" stroke="#c8301e" stroke-width="1.4"/><line x1="83.6" y1="153.1" x2="77.8" y2="152.8" stroke="#e08c8c" stroke-width="1.4"/><line x1="83.2" y1="138.8" x2="80" y2="147.2" stroke="#2fd4d8" stroke-width="1.4"/><line x1="80" y1="147.2" x2="77.8" y2="152.8" stroke="#e08c8c" stroke-width="1.4"/><line x1="109.7" y1="149.5" x2="102" y2="155.5" stroke="#2fd4d8" stroke-width="1.4"/><line x1="102" y1="155.5" x2="96.8" y2="159.6" stroke="#e08c8c" stroke-width="1.4"/><line x1="89.6" y1="173.9" x2="93.9" y2="165.4" stroke="#2fd4d8" stroke-width="1.4"/><line x1="93.9" y1="165.4" x2="96.8" y2="159.6" stroke="#e08c8c" stroke-width="1.4"/><line x1="89.6" y1="173.9" x2="93.2" y2="166.1" stroke="#2fd4d8" stroke-width="1.4"/><line x1="93.2" y1="166.1" x2="95.5" y2="161" stroke="#e08c8c" stroke-width="1.4"/><line x1="76" y1="152.4" x2="81.2" y2="157.7" stroke="#2fd4d8" stroke-width="1.4"/><line x1="81.2" y1="157.7" x2="84.3" y2="160.8" stroke="#e08c8c" stroke-width="1.4"/><line x1="71.7" y1="159.6" x2="79.2" y2="160.3" stroke="#c8301e" stroke-width="1.4"/><line x1="79.2" y1="160.3" x2="84.3" y2="160.8" stroke="#e08c8c" stroke-width="1.4"/><line x1="71.7" y1="159.6" x2="71.1" y2="152.2" stroke="#c8301e" stroke-width="1.4"/><line x1="71.1" y1="152.2" x2="70.8" y2="147.2" stroke="#e08c8c" stroke-width="1.4"/><line x1="83.2" y1="138.8" x2="75.7" y2="143.9" stroke="#2fd4d8" stroke-width="1.4"/><line x1="75.7" y1="143.9" x2="70.8" y2="147.2" stroke="#e08c8c" stroke-width="1.4"/><line x1="61.7" y1="170.3" x2="61.7" y2="164.2" stroke="#c8301e" stroke-width="1.4"/><line x1="61.7" y1="164.2" x2="61.8" y2="160.5" stroke="#e08c8c" stroke-width="1.4"/><line x1="71.7" y1="159.6" x2="70.7" y2="165.9" stroke="#c8301e" stroke-width="1.4"/><line x1="70.7" y1="165.9" x2="70" y2="169.9" stroke="#e08c8c" stroke-width="1.4"/><line x1="45.2" y1="168.2" x2="40.8" y2="162.7" stroke="#2fd4d8" stroke-width="1.4"/><line x1="40.8" y1="162.7" x2="38.3" y2="159.5" stroke="#e08c8c" stroke-width="1.4"/><line x1="47.3" y1="163.9" x2="41.7" y2="161.2" stroke="#c8301e" stroke-width="1.4"/><line x1="41.7" y1="161.2" x2="38.3" y2="159.5" stroke="#e08c8c" stroke-width="1.4"/><line x1="50.9" y1="146.7" x2="56.1" y2="153.3" stroke="#c8301e" stroke-width="1.4"/><line x1="56.1" y1="153.3" x2="59.8" y2="158.1" stroke="#e08c8c" stroke-width="1.4"/><line x1="47.3" y1="163.9" x2="55.2" y2="159.7" stroke="#c8301e" stroke-width="1.4"/><line x1="55.2" y1="159.7" x2="61" y2="156.7" stroke="#e08c8c" stroke-width="1.4"/><line x1="53" y1="186.1" x2="53.9" y2="178.3" stroke="#c8301e" stroke-width="1.4"/><line x1="53.9" y1="178.3" x2="54.5" y2="172.8" stroke="#e08c8c" stroke-width="1.4"/><line x1="45.2" y1="168.2" x2="51.2" y2="171.2" stroke="#2fd4d8" stroke-width="1.4"/><line x1="51.2" y1="171.2" x2="54.5" y2="172.8" stroke="#e08c8c" stroke-width="1.4"/><line x1="45.2" y1="168.2" x2="51.9" y2="174" stroke="#2fd4d8" stroke-width="1.4"/><line x1="51.9" y1="174" x2="56.2" y2="177.8" stroke="#e08c8c" stroke-width="1.4"/><line x1="45.2" y1="168.2" x2="45.3" y2="177.8" stroke="#2fd4d8" stroke-width="1.4"/><line x1="45.3" y1="177.8" x2="45.4" y2="184.4" stroke="#e08c8c" stroke-width="1.4"/><line x1="53" y1="186.1" x2="49.5" y2="192.1" stroke="#c8301e" stroke-width="1.4"/><line x1="49.5" y1="192.1" x2="47.1" y2="196" stroke="#e08c8c" stroke-width="1.4"/><line x1="53" y1="186.1" x2="60.6" y2="188.4" stroke="#c8301e" stroke-width="1.4"/><line x1="60.6" y1="188.4" x2="66" y2="190" stroke="#e08c8c" stroke-width="1.4"/><line x1="47.3" y1="163.9" x2="51" y2="170" stroke="#c8301e" stroke-width="1.4"/><line x1="51" y1="170" x2="53.5" y2="174" stroke="#e08c8c" stroke-width="1.4"/><line x1="53" y1="186.1" x2="53.3" y2="178.9" stroke="#c8301e" stroke-width="1.4"/><line x1="53.3" y1="178.9" x2="53.5" y2="174" stroke="#e08c8c" stroke-width="1.4"/><line x1="96.1" y1="179.6" x2="105.1" y2="178.9" stroke="#2fd4d8" stroke-width="1.4"/><line x1="105.1" y1="178.9" x2="111" y2="178.5" stroke="#e08c8c" stroke-width="1.4"/><line x1="120.5" y1="178.9" x2="114.6" y2="178.6" stroke="#c8301e" stroke-width="1.4"/><line x1="114.6" y1="178.6" x2="111" y2="178.5" stroke="#e08c8c" stroke-width="1.4"/><line x1="113.3" y1="158.8" x2="121.7" y2="161.5" stroke="#2fd4d8" stroke-width="1.4"/><line x1="121.7" y1="161.5" x2="127.3" y2="163.2" stroke="#e08c8c" stroke-width="1.4"/><line x1="113.3" y1="158.8" x2="114.5" y2="167.5" stroke="#2fd4d8" stroke-width="1.4"/><line x1="114.5" y1="167.5" x2="115.3" y2="173.2" stroke="#e08c8c" stroke-width="1.4"/><line x1="109.7" y1="149.5" x2="106.7" y2="155.1" stroke="#2fd4d8" stroke-width="1.4"/><line x1="106.7" y1="155.1" x2="105.2" y2="157.9" stroke="#e08c8c" stroke-width="1.4"/><line x1="91.8" y1="153.5" x2="99.6" y2="156.1" stroke="#c8301e" stroke-width="1.4"/><line x1="99.6" y1="156.1" x2="105.2" y2="157.9" stroke="#e08c8c" stroke-width="1.4"/><line x1="120.5" y1="178.9" x2="121.2" y2="171" stroke="#c8301e" stroke-width="1.4"/><line x1="121.2" y1="171" x2="121.6" y2="165.4" stroke="#e08c8c" stroke-width="1.4"/><line x1="113.3" y1="158.8" x2="118.7" y2="163" stroke="#2fd4d8" stroke-width="1.4"/><line x1="118.7" y1="163" x2="121.6" y2="165.4" stroke="#e08c8c" stroke-width="1.4"/><line x1="120.5" y1="178.9" x2="126.7" y2="183.2" stroke="#c8301e" stroke-width="1.4"/><line x1="126.7" y1="183.2" x2="131" y2="186.1" stroke="#e08c8c" stroke-width="1.4"/><line x1="120.5" y1="178.9" x2="113.3" y2="181.8" stroke="#c8301e" stroke-width="1.4"/><line x1="113.3" y1="181.8" x2="108.3" y2="183.9" stroke="#e08c8c" stroke-width="1.4"/><line x1="96.1" y1="179.6" x2="103.6" y2="182.3" stroke="#2fd4d8" stroke-width="1.4"/><line x1="103.6" y1="182.3" x2="108.3" y2="183.9" stroke="#e08c8c" stroke-width="1.4"/><line x1="132.7" y1="125.8" x2="140.8" y2="125.2" stroke="#2fd4d8" stroke-width="1.4"/><line x1="140.8" y1="125.2" x2="145.8" y2="124.7" stroke="#e08c8c" stroke-width="1.4"/><line x1="134.1" y1="119.4" x2="141" y2="122.6" stroke="#c8301e" stroke-width="1.4"/><line x1="141" y1="122.6" x2="145.8" y2="124.7" stroke="#e08c8c" stroke-width="1.4"/><line x1="117.6" y1="134.5" x2="121" y2="127.2" stroke="#2fd4d8" stroke-width="1.4"/><line x1="121" y1="127.2" x2="123.1" y2="122.7" stroke="#e08c8c" stroke-width="1.4"/><line x1="134.1" y1="119.4" x2="134.8" y2="111.3" stroke="#c8301e" stroke-width="1.4"/><line x1="134.8" y1="111.3" x2="135.3" y2="105.5" stroke="#e08c8c" stroke-width="1.4"/><line x1="134.8" y1="111.5" x2="133.2" y2="119.6" stroke="#2fd4d8" stroke-width="1.4"/><line x1="133.2" y1="119.6" x2="132.2" y2="124.7" stroke="#e08c8c" stroke-width="1.4"/><line x1="195.2" y1="85" x2="192.9" y2="93.4" stroke="#c8301e" stroke-width="1.4"/><line x1="192.9" y1="93.4" x2="191.3" y2="99.6" stroke="#e08c8c" stroke-width="1.4"/><line x1="181.9" y1="119.7" x2="176.8" y2="115.5" stroke="#c8301e" stroke-width="1.4"/><line x1="176.8" y1="115.5" x2="173.5" y2="112.7" stroke="#e08c8c" stroke-width="1.4"/><line x1="187.3" y1="110.8" x2="179.2" y2="111.9" stroke="#c8301e" stroke-width="1.4"/><line x1="179.2" y1="111.9" x2="173.5" y2="112.7" stroke="#e08c8c" stroke-width="1.4"/><line x1="201.7" y1="133.7" x2="197.3" y2="126.9" stroke="#c8301e" stroke-width="1.4"/><line x1="197.3" y1="126.9" x2="194.1" y2="122.1" stroke="#e08c8c" stroke-width="1.4"/><line x1="190.2" y1="120.8" x2="190.3" y2="113.3" stroke="#2fd4d8" stroke-width="1.4"/><line x1="190.3" y1="113.3" x2="190.3" y2="108.8" stroke="#e08c8c" stroke-width="1.4"/><line x1="181.9" y1="119.7" x2="181.9" y2="127.5" stroke="#c8301e" stroke-width="1.4"/><line x1="181.9" y1="127.5" x2="181.9" y2="132.9" stroke="#e08c8c" stroke-width="1.4"/><line x1="187.3" y1="110.8" x2="184.3" y2="116.2" stroke="#c8301e" stroke-width="1.4"/><line x1="184.3" y1="116.2" x2="182.4" y2="119.6" stroke="#e08c8c" stroke-width="1.4"/><line x1="132.7" y1="125.8" x2="140.9" y2="123.8" stroke="#2fd4d8" stroke-width="1.4"/><line x1="140.9" y1="123.8" x2="146.2" y2="122.5" stroke="#e08c8c" stroke-width="1.4"/><line x1="161.5" y1="157.4" x2="159.4" y2="148.3" stroke="#c8301e" stroke-width="1.4"/><line x1="159.4" y1="148.3" x2="157.8" y2="141.6" stroke="#e08c8c" stroke-width="1.4"/><line x1="156.1" y1="131.2" x2="157.1" y2="137.6" stroke="#c8301e" stroke-width="1.4"/><line x1="157.1" y1="137.6" x2="157.8" y2="141.6" stroke="#e08c8c" stroke-width="1.4"/><line x1="181.9" y1="119.7" x2="173.9" y2="122.3" stroke="#c8301e" stroke-width="1.4"/><line x1="173.9" y1="122.3" x2="168.2" y2="124.2" stroke="#e08c8c" stroke-width="1.4"/><line x1="187.3" y1="110.8" x2="192.7" y2="116.6" stroke="#c8301e" stroke-width="1.4"/><line x1="192.7" y1="116.6" x2="196.6" y2="120.7" stroke="#e08c8c" stroke-width="1.4"/><line x1="181.9" y1="119.7" x2="190.4" y2="120.3" stroke="#c8301e" stroke-width="1.4"/><line x1="190.4" y1="120.3" x2="196.6" y2="120.7" stroke="#e08c8c" stroke-width="1.4"/><line x1="205.3" y1="144.5" x2="200.1" y2="141.4" stroke="#c8301e" stroke-width="1.4"/><line x1="200.1" y1="141.4" x2="197" y2="139.6" stroke="#e08c8c" stroke-width="1.4"/><line x1="217.5" y1="123.7" x2="216.3" y2="129.9" stroke="#2fd4d8" stroke-width="1.4"/><line x1="216.3" y1="129.9" x2="215.7" y2="133.2" stroke="#e08c8c" stroke-width="1.4"/><line x1="228.7" y1="135.9" x2="220.7" y2="134.2" stroke="#2fd4d8" stroke-width="1.4"/><line x1="220.7" y1="134.2" x2="215.7" y2="133.2" stroke="#e08c8c" stroke-width="1.4"/><line x1="220.3" y1="151.7" x2="217.7" y2="142.3" stroke="#2fd4d8" stroke-width="1.4"/><line x1="217.7" y1="142.3" x2="215.9" y2="135.9" stroke="#e08c8c" stroke-width="1.4"/><line x1="205.3" y1="144.5" x2="206.8" y2="152" stroke="#c8301e" stroke-width="1.4"/><line x1="206.8" y1="152" x2="207.8" y2="157.1" stroke="#e08c8c" stroke-width="1.4"/><line x1="201.7" y1="133.7" x2="196.6" y2="137.2" stroke="#c8301e" stroke-width="1.4"/><line x1="196.6" y1="137.2" x2="193.4" y2="139.4" stroke="#e08c8c" stroke-width="1.4"/><line x1="205.3" y1="144.5" x2="198.3" y2="141.5" stroke="#c8301e" stroke-width="1.4"/><line x1="198.3" y1="141.5" x2="193.4" y2="139.4" stroke="#e08c8c" stroke-width="1.4"/><line x1="148.6" y1="156" x2="153.7" y2="162.2" stroke="#2fd4d8" stroke-width="1.4"/><line x1="153.7" y1="162.2" x2="156.9" y2="166" stroke="#e08c8c" stroke-width="1.4"/><line x1="161.5" y1="157.4" x2="158.7" y2="162.7" stroke="#c8301e" stroke-width="1.4"/><line x1="158.7" y1="162.7" x2="156.9" y2="166" stroke="#e08c8c" stroke-width="1.4"/><line x1="148.6" y1="156" x2="151.7" y2="149.6" stroke="#2fd4d8" stroke-width="1.4"/><line x1="151.7" y1="149.6" x2="153.4" y2="146" stroke="#e08c8c" stroke-width="1.4"/><line x1="156.1" y1="131.2" x2="154.5" y2="139.7" stroke="#c8301e" stroke-width="1.4"/><line x1="154.5" y1="139.7" x2="153.4" y2="146" stroke="#e08c8c" stroke-width="1.4"/><line x1="148.6" y1="156" x2="156.1" y2="160.8" stroke="#2fd4d8" stroke-width="1.4"/><line x1="156.1" y1="160.8" x2="161" y2="164" stroke="#e08c8c" stroke-width="1.4"/><line x1="158.9" y1="178.9" x2="160.1" y2="170.3" stroke="#c8301e" stroke-width="1.4"/><line x1="160.1" y1="170.3" x2="161" y2="164" stroke="#e08c8c" stroke-width="1.4"/><line x1="199.1" y1="158.8" x2="203" y2="152.2" stroke="#c8301e" stroke-width="1.4"/><line x1="203" y1="152.2" x2="205.7" y2="147.6" stroke="#e08c8c" stroke-width="1.4"/><line x1="199.1" y1="158.8" x2="204.3" y2="163" stroke="#c8301e" stroke-width="1.4"/><line x1="204.3" y1="163" x2="207.7" y2="165.7" stroke="#e08c8c" stroke-width="1.4"/><line x1="189.5" y1="163.6" x2="188.4" y2="158" stroke="#c8301e" stroke-width="1.4"/><line x1="188.4" y1="158" x2="187.7" y2="154.6" stroke="#e08c8c" stroke-width="1.4"/><line x1="199.1" y1="158.8" x2="196.7" y2="164.1" stroke="#c8301e" stroke-width="1.4"/><line x1="196.7" y1="164.1" x2="195.3" y2="167.2" stroke="#e08c8c" stroke-width="1.4"/><line x1="178" y1="161" x2="183.1" y2="168.9" stroke="#2fd4d8" stroke-width="1.4"/><line x1="183.1" y1="168.9" x2="186.5" y2="174.2" stroke="#e08c8c" stroke-width="1.4"/><line x1="199.1" y1="158.8" x2="192.9" y2="154.5" stroke="#c8301e" stroke-width="1.4"/><line x1="192.9" y1="154.5" x2="188.7" y2="151.5" stroke="#e08c8c" stroke-width="1.4"/><line x1="189.5" y1="163.6" x2="197.1" y2="164.5" stroke="#c8301e" stroke-width="1.4"/><line x1="197.1" y1="164.5" x2="202.4" y2="165.2" stroke="#e08c8c" stroke-width="1.4"/><line x1="158.9" y1="178.9" x2="156.2" y2="172.3" stroke="#c8301e" stroke-width="1.4"/><line x1="156.2" y1="172.3" x2="154.5" y2="167.9" stroke="#e08c8c" stroke-width="1.4"/><line x1="161.5" y1="157.4" x2="157.3" y2="163.6" stroke="#c8301e" stroke-width="1.4"/><line x1="157.3" y1="163.6" x2="154.5" y2="167.9" stroke="#e08c8c" stroke-width="1.4"/><line x1="158.9" y1="178.9" x2="167" y2="178.3" stroke="#c8301e" stroke-width="1.4"/><line x1="167" y1="178.3" x2="172.7" y2="177.9" stroke="#e08c8c" stroke-width="1.4"/><line x1="225.8" y1="174.6" x2="222.8" y2="179.8" stroke="#c8301e" stroke-width="1.4"/><line x1="222.8" y1="179.8" x2="221.1" y2="183" stroke="#e08c8c" stroke-width="1.4"/><line x1="223.9" y1="179.6" x2="230.5" y2="181.1" stroke="#2fd4d8" stroke-width="1.4"/><line x1="230.5" y1="181.1" x2="234.2" y2="181.9" stroke="#e08c8c" stroke-width="1.4"/><line x1="225.8" y1="174.6" x2="230.1" y2="168.3" stroke="#c8301e" stroke-width="1.4"/><line x1="230.1" y1="168.3" x2="233" y2="164" stroke="#e08c8c" stroke-width="1.4"/><line x1="134.8" y1="93.2" x2="140.6" y2="91.5" stroke="#c8301e" stroke-width="1.4"/><line x1="140.6" y1="91.5" x2="144.1" y2="90.5" stroke="#e08c8c" stroke-width="1.4"/><line x1="144" y1="97.9" x2="149.8" y2="103.6" stroke="#c8301e" stroke-width="1.4"/><line x1="149.8" y1="103.6" x2="154" y2="107.7" stroke="#e08c8c" stroke-width="1.4"/><line x1="163.7" y1="111.5" x2="157.4" y2="109.1" stroke="#2fd4d8" stroke-width="1.4"/><line x1="157.4" y1="109.1" x2="154" y2="107.7" stroke="#e08c8c" stroke-width="1.4"/><line x1="144.3" y1="94" x2="136.7" y2="99.9" stroke="#2fd4d8" stroke-width="1.4"/><line x1="136.7" y1="99.9" x2="131.5" y2="104" stroke="#e08c8c" stroke-width="1.4"/><line x1="123.3" y1="109.3" x2="128.7" y2="105.8" stroke="#2fd4d8" stroke-width="1.4"/><line x1="128.7" y1="105.8" x2="131.5" y2="104" stroke="#e08c8c" stroke-width="1.4"/><line x1="134.8" y1="93.2" x2="141.7" y2="90.9" stroke="#c8301e" stroke-width="1.4"/><line x1="141.7" y1="90.9" x2="146.5" y2="89.4" stroke="#e08c8c" stroke-width="1.4"/><line x1="84.6" y1="38.7" x2="84.1" y2="31.1" stroke="#c8301e" stroke-width="1.4"/><line x1="84.1" y1="31.1" x2="83.7" y2="25.8" stroke="#e08c8c" stroke-width="1.4"/><line x1="83.2" y1="47.3" x2="86.9" y2="39.2" stroke="#2fd4d8" stroke-width="1.4"/><line x1="86.9" y1="39.2" x2="89.3" y2="33.9" stroke="#e08c8c" stroke-width="1.4"/><line x1="153.2" y1="52.3" x2="145.3" y2="51.4" stroke="#2fd4d8" stroke-width="1.4"/><line x1="145.3" y1="51.4" x2="140.5" y2="50.9" stroke="#e08c8c" stroke-width="1.4"/><line x1="145.5" y1="62.4" x2="142.4" y2="55.2" stroke="#2fd4d8" stroke-width="1.4"/><line x1="142.4" y1="55.2" x2="140.5" y2="50.9" stroke="#e08c8c" stroke-width="1.4"/><line x1="165.8" y1="94.7" x2="159.6" y2="95.7" stroke="#2fd4d8" stroke-width="1.4"/><line x1="159.6" y1="95.7" x2="156.5" y2="96.2" stroke="#e08c8c" stroke-width="1.4"/><line x1="144" y1="97.9" x2="151.4" y2="96.9" stroke="#c8301e" stroke-width="1.4"/><line x1="151.4" y1="96.9" x2="156.5" y2="96.2" stroke="#e08c8c" stroke-width="1.4"/><line x1="134.8" y1="93.2" x2="137.1" y2="85.1" stroke="#c8301e" stroke-width="1.4"/><line x1="137.1" y1="85.1" x2="138.7" y2="79.2" stroke="#e08c8c" stroke-width="1.4"/><line x1="190.9" y1="76" x2="185" y2="83.2" stroke="#c8301e" stroke-width="1.4"/><line x1="185" y1="83.2" x2="180.5" y2="88.6" stroke="#e08c8c" stroke-width="1.4"/><line x1="187.3" y1="97.7" x2="183" y2="91.9" stroke="#2fd4d8" stroke-width="1.4"/><line x1="183" y1="91.9" x2="180.5" y2="88.6" stroke="#e08c8c" stroke-width="1.4"/><line x1="39.4" y1="112.9" x2="34.4" y2="118.6" stroke="#2fd4d8" stroke-width="1.4"/><line x1="34.4" y1="118.6" x2="31.4" y2="122" stroke="#e08c8c" stroke-width="1.4"/><line x1="39.4" y1="112.9" x2="41.9" y2="120" stroke="#2fd4d8" stroke-width="1.4"/><line x1="41.9" y1="120" x2="43.4" y2="124.3" stroke="#e08c8c" stroke-width="1.4"/><line x1="64.2" y1="103.3" x2="70.7" y2="107.1" stroke="#c8301e" stroke-width="1.4"/><line x1="70.7" y1="107.1" x2="75.1" y2="109.8" stroke="#e08c8c" stroke-width="1.4"/><line x1="62.8" y1="118.7" x2="70.2" y2="113.4" stroke="#2fd4d8" stroke-width="1.4"/><line x1="70.2" y1="113.4" x2="75.1" y2="109.8" stroke="#e08c8c" stroke-width="1.4"/><line x1="39.4" y1="112.9" x2="48.2" y2="109" stroke="#2fd4d8" stroke-width="1.4"/><line x1="48.2" y1="109" x2="54.2" y2="106.4" stroke="#e08c8c" stroke-width="1.4"/><line x1="64.2" y1="103.3" x2="58.2" y2="104.7" stroke="#c8301e" stroke-width="1.4"/><line x1="58.2" y1="104.7" x2="54.5" y2="105.5" stroke="#e08c8c" stroke-width="1.4"/><line x1="39.4" y1="112.9" x2="46.7" y2="111.7" stroke="#2fd4d8" stroke-width="1.4"/><line x1="46.7" y1="111.7" x2="50.9" y2="111" stroke="#e08c8c" stroke-width="1.4"/><line x1="64.2" y1="103.3" x2="56.5" y2="107.7" stroke="#c8301e" stroke-width="1.4"/><line x1="56.5" y1="107.7" x2="50.9" y2="111" stroke="#e08c8c" stroke-width="1.4"/><line x1="50.9" y1="124.4" x2="52.8" y2="116.8" stroke="#2fd4d8" stroke-width="1.4"/><line x1="52.8" y1="116.8" x2="54" y2="112.1" stroke="#e08c8c" stroke-width="1.4"/><line x1="161.5" y1="157.4" x2="154.9" y2="154.3" stroke="#c8301e" stroke-width="1.4"/><line x1="154.9" y1="154.3" x2="150.5" y2="152.2" stroke="#e08c8c" stroke-width="1.4"/><line x1="96.1" y1="179.6" x2="101.3" y2="184.9" stroke="#2fd4d8" stroke-width="1.4"/><line x1="101.3" y1="184.9" x2="104.3" y2="188" stroke="#e08c8c" stroke-width="1.4"/><line x1="190.2" y1="120.8" x2="198.8" y2="119.7" stroke="#2fd4d8" stroke-width="1.4"/><line x1="198.8" y1="119.7" x2="204.4" y2="119" stroke="#e08c8c" stroke-width="1.4"/><line x1="190.2" y1="120.8" x2="183.2" y2="118.6" stroke="#2fd4d8" stroke-width="1.4"/><line x1="183.2" y1="118.6" x2="179.1" y2="117.3" stroke="#e08c8c" stroke-width="1.4"/><line x1="187.3" y1="110.8" x2="182.3" y2="114.8" stroke="#c8301e" stroke-width="1.4"/><line x1="182.3" y1="114.8" x2="179.1" y2="117.3" stroke="#e08c8c" stroke-width="1.4"/><line x1="156.5" y1="140.2" x2="163.9" y2="136.9" stroke="#2fd4d8" stroke-width="1.4"/><line x1="163.9" y1="136.9" x2="168.5" y2="134.9" stroke="#e08c8c" stroke-width="1.4"/><line x1="156.1" y1="131.2" x2="163.4" y2="133.4" stroke="#c8301e" stroke-width="1.4"/><line x1="163.4" y1="133.4" x2="168.5" y2="134.9" stroke="#e08c8c" stroke-width="1.4"/><line x1="223.9" y1="179.6" x2="227.4" y2="172.9" stroke="#2fd4d8" stroke-width="1.4"/><line x1="227.4" y1="172.9" x2="229.5" y2="168.9" stroke="#e08c8c" stroke-width="1.4"/><line x1="121.2" y1="88.2" x2="119.2" y2="92.6" stroke="#a4a8d0" stroke-width="1.4"/><line x1="119.2" y1="92.6" x2="117.3" y2="97" stroke="#2fd4d8" stroke-width="1.4"/><line x1="121.2" y1="88.2" x2="125.2" y2="83.2" stroke="#a4a8d0" stroke-width="1.4"/><line x1="125.2" y1="83.2" x2="129.1" y2="78.2" stroke="#2fd4d8" stroke-width="1.4"/><line x1="129.8" y1="94" x2="123.6" y2="95.5" stroke="#a4a8d0" stroke-width="1.4"/><line x1="123.6" y1="95.5" x2="117.3" y2="97" stroke="#2fd4d8" stroke-width="1.4"/><circle cx="121" cy="180.2" r="2.2" fill="url(#gO)"/><circle cx="204" cy="145.6" r="2.2" fill="url(#gO)"/><circle cx="188.5" cy="77.2" r="2.2" fill="url(#gO)"/><circle cx="179.1" cy="117.3" r="2.2" fill="url(#gO)"/><circle cx="24.5" cy="136.8" r="2.2" fill="url(#gO)"/><circle cx="140.5" cy="50.9" r="2.2" fill="url(#gO)"/><circle cx="30.4" cy="85" r="2.2" fill="url(#gO)"/><circle cx="115.3" cy="173.2" r="2.2" fill="url(#gO)"/><circle cx="132.2" cy="124.7" r="2.2" fill="url(#gO)"/><circle cx="44.6" cy="35.2" r="2.2" fill="url(#gO)"/><circle cx="73.4" cy="138.8" r="2.2" fill="url(#gO)"/><circle cx="42.6" cy="160.1" r="2.2" fill="url(#gO)"/><circle cx="120.9" cy="43.2" r="2.2" fill="url(#gO)"/><circle cx="152.3" cy="136.5" r="2.2" fill="url(#gO)"/><circle cx="161" cy="164" r="2.2" fill="url(#gO)"/><circle cx="206.8" cy="99" r="2.2" fill="url(#gO)"/><circle cx="105.8" cy="125.9" r="2.2" fill="url(#gO)"/><circle cx="37.1" cy="85.3" r="2.2" fill="url(#gO)"/><circle cx="96.5" cy="38.5" r="2.2" fill="url(#gO)"/><circle cx="173.2" cy="64.4" r="2.2" fill="url(#gO)"/><circle cx="87.9" cy="132.2" r="2.2" fill="url(#gO)"/><circle cx="197" cy="139.6" r="2.2" fill="url(#gO)"/><circle cx="59.4" cy="84.5" r="2.2" fill="url(#gO)"/><circle cx="54.5" cy="172.8" r="2.2" fill="url(#gO)"/><circle cx="45.4" cy="184.4" r="2.2" fill="url(#gO)"/><circle cx="54.2" cy="106.4" r="2.2" fill="url(#gO)"/><circle cx="96.8" cy="159.6" r="2.2" fill="url(#gO)"/><circle cx="140.4" cy="87.5" r="2.2" fill="url(#gO)"/><circle cx="24.8" cy="155.3" r="2.2" fill="url(#gO)"/><circle cx="203" cy="83.1" r="2.2" fill="url(#gO)"/><circle cx="180.6" cy="52.4" r="2.2" fill="url(#gO)"/><circle cx="221.4" cy="96.4" r="2.2" fill="url(#gO)"/><circle cx="146.5" cy="89.4" r="2.2" fill="url(#gO)"/><circle cx="16.5" cy="128.9" r="2.2" fill="url(#gO)"/><circle cx="195.3" cy="167.2" r="2.2" fill="url(#gO)"/><circle cx="72.8" cy="99.6" r="2.2" fill="url(#gO)"/><circle cx="94.5" cy="100" r="2.2" fill="url(#gO)"/><circle cx="89.9" cy="98.4" r="2.2" fill="url(#gO)"/><circle cx="59.7" cy="150.3" r="2.2" fill="url(#gO)"/><circle cx="221.1" cy="183" r="2.2" fill="url(#gO)"/><circle cx="23.5" cy="34.3" r="2.2" fill="url(#gO)"/><circle cx="61.8" cy="160.5" r="2.2" fill="url(#gO)"/><circle cx="199.9" cy="46.3" r="2.2" fill="url(#gO)"/><circle cx="105.3" cy="38" r="2.2" fill="url(#gO)"/><circle cx="107.5" cy="64.3" r="2.2" fill="url(#gO)"/><circle cx="86.5" cy="87.6" r="2.2" fill="url(#gO)"/><circle cx="151.5" cy="149.7" r="2.2" fill="url(#gO)"/><circle cx="227.6" cy="80" r="2.2" fill="url(#gO)"/><circle cx="50.9" cy="111" r="2.2" fill="url(#gO)"/><circle cx="229.8" cy="45.1" r="2.2" fill="url(#gO)"/><circle cx="145.6" cy="80.6" r="2.2" fill="url(#gO)"/><circle cx="186.5" cy="174.2" r="2.2" fill="url(#gO)"/><circle cx="241.7" cy="52" r="2.2" fill="url(#gO)"/><circle cx="50.7" cy="47.1" r="2.2" fill="url(#gO)"/><circle cx="122.2" cy="48.7" r="2.2" fill="url(#gO)"/><circle cx="228.7" cy="135.9" r="5.3" fill="url(#gL)"/><circle cx="86.2" cy="59.6" r="2.2" fill="url(#gO)"/><circle cx="162.7" cy="68.8" r="2.2" fill="url(#gO)"/><circle cx="158.7" cy="58.1" r="4.6" fill="url(#gV)"/><circle cx="94.5" cy="32.5" r="2.2" fill="url(#gO)"/><circle cx="156.5" cy="140.2" r="5.3" fill="url(#gL)"/><circle cx="161.8" cy="36.9" r="5.3" fill="url(#gL)"/><circle cx="115.5" cy="38.7" r="4.6" fill="url(#gV)"/><circle cx="89.3" cy="33.9" r="2.2" fill="url(#gO)"/><circle cx="31.4" cy="122" r="2.2" fill="url(#gO)"/><circle cx="83.9" cy="125.8" r="4.6" fill="url(#gV)"/><circle cx="53.5" cy="36.3" r="4.6" fill="url(#gV)"/><circle cx="158.6" cy="46.3" r="2.2" fill="url(#gO)"/><circle cx="104.2" cy="69.2" r="2.2" fill="url(#gO)"/><circle cx="144.9" cy="45.9" r="2.2" fill="url(#gO)"/><circle cx="45.2" cy="168.2" r="5.3" fill="url(#gL)"/><circle cx="191.3" cy="99.6" r="2.2" fill="url(#gO)"/><circle cx="154.5" cy="167.9" r="2.2" fill="url(#gO)"/><circle cx="71.7" cy="159.6" r="4.6" fill="url(#gV)"/><circle cx="60" cy="26.3" r="2.2" fill="url(#gO)"/><circle cx="144" cy="97.9" r="4.6" fill="url(#gV)"/><circle cx="188.7" cy="151.5" r="2.2" fill="url(#gO)"/><circle cx="156" cy="190.7" r="2.2" fill="url(#gO)"/><circle cx="229.5" cy="168.9" r="2.2" fill="url(#gO)"/><circle cx="243.8" cy="96" r="2.2" fill="url(#gO)"/><circle cx="21.2" cy="148.1" r="4.6" fill="url(#gV)"/><circle cx="156.5" cy="96.2" r="2.2" fill="url(#gO)"/><circle cx="92.5" cy="109.3" r="4.6" fill="url(#gV)"/><circle cx="219.4" cy="47.3" r="2.2" fill="url(#gO)"/><circle cx="50.9" cy="124.4" r="5.3" fill="url(#gL)"/><circle cx="213.2" cy="96.6" r="4.6" fill="url(#gV)"/><circle cx="63.5" cy="58.1" r="2.2" fill="url(#gO)"/><circle cx="206.7" cy="79.6" r="5.3" fill="url(#gL)"/><circle cx="133.4" cy="48.8" r="4.6" fill="url(#gV)"/><circle cx="84.3" cy="160.8" r="2.2" fill="url(#gO)"/><circle cx="234.7" cy="87.9" r="4.6" fill="url(#gV)"/><circle cx="114.7" cy="168.2" r="4.6" fill="url(#gV)"/><circle cx="233" cy="164" r="2.2" fill="url(#gO)"/><circle cx="99.7" cy="73.6" r="5.3" fill="url(#gL)"/><circle cx="220.3" cy="151.7" r="5.3" fill="url(#gL)"/><circle cx="29.6" cy="55.9" r="2.2" fill="url(#gO)"/><circle cx="37.3" cy="53.1" r="5.3" fill="url(#gL)"/><circle cx="193.8" cy="50.2" r="5.3" fill="url(#gL)"/><circle cx="33.8" cy="114.9" r="2.2" fill="url(#gO)"/><circle cx="205.7" cy="147.6" r="2.2" fill="url(#gO)"/><circle cx="189.5" cy="163.6" r="4.6" fill="url(#gV)"/><circle cx="70.3" cy="88" r="2.2" fill="url(#gO)"/><circle cx="185.2" cy="66" r="5.3" fill="url(#gL)"/><circle cx="193.1" cy="113" r="2.2" fill="url(#gO)"/><circle cx="94" cy="122.3" r="2.2" fill="url(#gO)"/><circle cx="113.3" cy="158.8" r="5.3" fill="url(#gL)"/><circle cx="95.2" cy="48.3" r="2.2" fill="url(#gO)"/><circle cx="195.2" cy="85" r="4.6" fill="url(#gV)"/><circle cx="189.5" cy="42" r="5.3" fill="url(#gL)"/><circle cx="207.6" cy="48.9" r="2.2" fill="url(#gO)"/><circle cx="194.1" cy="122.1" r="2.2" fill="url(#gO)"/><circle cx="156.1" cy="131.2" r="4.6" fill="url(#gV)"/><circle cx="181.9" cy="132.9" r="2.2" fill="url(#gO)"/><circle cx="219.6" cy="56.8" r="2.2" fill="url(#gO)"/><circle cx="82.6" cy="51.8" r="2.2" fill="url(#gO)"/><circle cx="170.3" cy="113.2" r="2.2" fill="url(#gO)"/><circle cx="129.1" cy="78.2" r="5.3" fill="url(#gL)"/><circle cx="204.4" cy="119" r="2.2" fill="url(#gO)"/><circle cx="37.8" cy="149.6" r="2.2" fill="url(#gO)"/><circle cx="220.6" cy="50.9" r="4.6" fill="url(#gV)"/><circle cx="125.2" cy="102.7" r="2.2" fill="url(#gO)"/><circle cx="157.5" cy="61.7" r="2.2" fill="url(#gO)"/><circle cx="66" cy="190" r="2.2" fill="url(#gO)"/><circle cx="181.6" cy="84.3" r="2.2" fill="url(#gO)"/><circle cx="96.1" cy="179.6" r="5.3" fill="url(#gL)"/><circle cx="203.2" cy="84.7" r="2.2" fill="url(#gO)"/><circle cx="136.3" cy="73.1" r="5.3" fill="url(#gL)"/><circle cx="108.3" cy="121.5" r="5.3" fill="url(#gL)"/><circle cx="51.9" cy="64.7" r="2.2" fill="url(#gO)"/><circle cx="83.2" cy="47.3" r="5.3" fill="url(#gL)"/><circle cx="51.2" cy="99.2" r="2.2" fill="url(#gO)"/><circle cx="150.5" cy="152.2" r="2.2" fill="url(#gO)"/><circle cx="77" cy="46.1" r="2.2" fill="url(#gO)"/><circle cx="9.8" cy="140.5" r="2.2" fill="url(#gO)"/><circle cx="41.9" cy="65" r="2.2" fill="url(#gO)"/><circle cx="56.6" cy="77.5" r="4.6" fill="url(#gV)"/><circle cx="217.5" cy="123.7" r="5.3" fill="url(#gL)"/><circle cx="124.6" cy="28.3" r="2.2" fill="url(#gO)"/><circle cx="118.2" cy="45.5" r="2.2" fill="url(#gO)"/><circle cx="117.3" cy="97" r="5.3" fill="url(#gL)"/><circle cx="83.8" cy="109" r="2.2" fill="url(#gO)"/><circle cx="75.1" cy="174" r="2.2" fill="url(#gO)"/><circle cx="104.5" cy="99.3" r="2.2" fill="url(#gO)"/><circle cx="131.5" cy="104" r="2.2" fill="url(#gO)"/><circle cx="120.1" cy="140.2" r="2.2" fill="url(#gO)"/><circle cx="68.5" cy="27.2" r="5.3" fill="url(#gL)"/><circle cx="138.7" cy="79.2" r="2.2" fill="url(#gO)"/><circle cx="159.2" cy="49.6" r="2.2" fill="url(#gO)"/><circle cx="173.5" cy="112.7" r="2.2" fill="url(#gO)"/><circle cx="168.2" cy="124.2" r="2.2" fill="url(#gO)"/><circle cx="171.9" cy="96" r="5.3" fill="url(#gL)"/><circle cx="132.7" cy="125.8" r="5.3" fill="url(#gL)"/><circle cx="128.8" cy="65.7" r="2.2" fill="url(#gO)"/><circle cx="122.1" cy="51" r="2.2" fill="url(#gO)"/><circle cx="72.6" cy="31.5" r="2.2" fill="url(#gO)"/><circle cx="117.5" cy="51.8" r="2.2" fill="url(#gO)"/><circle cx="61.7" cy="170.3" r="4.6" fill="url(#gV)"/><circle cx="167" cy="82.3" r="2.2" fill="url(#gO)"/><circle cx="135.3" cy="105.5" r="2.2" fill="url(#gO)"/><circle cx="77.8" cy="152.8" r="2.2" fill="url(#gO)"/><circle cx="83.2" cy="138.8" r="5.3" fill="url(#gL)"/><circle cx="75.1" cy="109.8" r="2.2" fill="url(#gO)"/><circle cx="171.9" cy="34.1" r="2.2" fill="url(#gO)"/><circle cx="153.4" cy="146" r="2.2" fill="url(#gO)"/><circle cx="129.6" cy="25.8" r="2.2" fill="url(#gO)"/><circle cx="215.7" cy="133.2" r="2.2" fill="url(#gO)"/><circle cx="70.1" cy="123.6" r="2.2" fill="url(#gO)"/><circle cx="38" cy="78.2" r="4.6" fill="url(#gV)"/><circle cx="160.6" cy="54" r="2.2" fill="url(#gO)"/><circle cx="82.5" cy="92.5" r="4.6" fill="url(#gV)"/><circle cx="64.2" cy="103.3" r="4.6" fill="url(#gV)"/><circle cx="142.2" cy="159.6" r="5.3" fill="url(#gL)"/><circle cx="173.3" cy="48" r="4.6" fill="url(#gV)"/><circle cx="23.6" cy="123" r="4.6" fill="url(#gV)"/><circle cx="109.7" cy="149.5" r="5.3" fill="url(#gL)"/><circle cx="134.8" cy="93.2" r="4.6" fill="url(#gV)"/><circle cx="48.4" cy="177.8" r="2.2" fill="url(#gO)"/><circle cx="190.9" cy="76" r="4.6" fill="url(#gV)"/><circle cx="154" cy="107.7" r="2.2" fill="url(#gO)"/><circle cx="105.2" cy="157.9" r="2.2" fill="url(#gO)"/><circle cx="46.4" cy="93.6" r="2.2" fill="url(#gO)"/><circle cx="242.7" cy="133.3" r="2.2" fill="url(#gO)"/><circle cx="224.9" cy="104.3" r="2.2" fill="url(#gO)"/><circle cx="89.5" cy="147.9" r="2.2" fill="url(#gO)"/><circle cx="49.2" cy="52.9" r="2.2" fill="url(#gO)"/><circle cx="216" cy="89.4" r="4.6" fill="url(#gV)"/><circle cx="216.5" cy="83" r="2.2" fill="url(#gO)"/><circle cx="223.2" cy="64.6" r="2.2" fill="url(#gO)"/><circle cx="97.1" cy="140.6" r="2.2" fill="url(#gO)"/><circle cx="90.5" cy="113.5" r="2.2" fill="url(#gO)"/><circle cx="196.6" cy="120.7" r="2.2" fill="url(#gO)"/><circle cx="206.7" cy="53.8" r="4.6" fill="url(#gV)"/><circle cx="205.3" cy="144.5" r="4.6" fill="url(#gV)"/><circle cx="28.7" cy="68.8" r="5.3" fill="url(#gL)"/><circle cx="47.3" cy="163.9" r="4.6" fill="url(#gV)"/><circle cx="36.5" cy="91.8" r="5.3" fill="url(#gL)"/><circle cx="64.4" cy="117.2" r="2.2" fill="url(#gO)"/><circle cx="26.9" cy="133.7" r="4.6" fill="url(#gV)"/><circle cx="91.8" cy="153.5" r="4.6" fill="url(#gV)"/><circle cx="178" cy="161" r="5.3" fill="url(#gL)"/><circle cx="26.2" cy="119.8" r="2.2" fill="url(#gO)"/><circle cx="76.8" cy="41.4" r="2.2" fill="url(#gO)"/><circle cx="214.3" cy="79.6" r="5.3" fill="url(#gL)"/><circle cx="172.7" cy="177.9" r="2.2" fill="url(#gO)"/><circle cx="67.9" cy="155.3" r="2.2" fill="url(#gO)"/><circle cx="59.8" cy="158.1" r="2.2" fill="url(#gO)"/><circle cx="29" cy="42.4" r="2.2" fill="url(#gO)"/><circle cx="199.3" cy="65" r="2.2" fill="url(#gO)"/><circle cx="104.7" cy="57.4" r="4.6" fill="url(#gV)"/><circle cx="199.7" cy="65.7" r="2.2" fill="url(#gO)"/><circle cx="187.3" cy="97.7" r="5.3" fill="url(#gL)"/><circle cx="52.1" cy="133" r="2.2" fill="url(#gO)"/><circle cx="84.6" cy="38.7" r="4.6" fill="url(#gV)"/><circle cx="174.7" cy="153.7" r="2.2" fill="url(#gO)"/><circle cx="137.6" cy="47" r="2.2" fill="url(#gO)"/><circle cx="181.7" cy="49.1" r="2.2" fill="url(#gO)"/><circle cx="134.8" cy="111.5" r="5.3" fill="url(#gL)"/><circle cx="39.4" cy="112.9" r="5.3" fill="url(#gL)"/><circle cx="35.1" cy="85.3" r="4.6" fill="url(#gV)"/><circle cx="215.9" cy="135.9" r="2.2" fill="url(#gO)"/><circle cx="213.9" cy="102.9" r="5.3" fill="url(#gL)"/><circle cx="61" cy="156.7" r="2.2" fill="url(#gO)"/><circle cx="224.3" cy="78.6" r="2.2" fill="url(#gO)"/><circle cx="234.9" cy="33.7" r="2.2" fill="url(#gO)"/><circle cx="75.7" cy="55.2" r="4.6" fill="url(#gV)"/><circle cx="43.4" cy="124.3" r="2.2" fill="url(#gO)"/><circle cx="121.6" cy="165.4" r="2.2" fill="url(#gO)"/><circle cx="39.7" cy="138.2" r="2.2" fill="url(#gO)"/><circle cx="31.7" cy="139.6" r="2.2" fill="url(#gO)"/><circle cx="127.3" cy="163.2" r="2.2" fill="url(#gO)"/><circle cx="148.6" cy="156" r="5.3" fill="url(#gL)"/><circle cx="97.9" cy="140.4" r="2.2" fill="url(#gO)"/><circle cx="170.8" cy="57.4" r="4.6" fill="url(#gV)"/><circle cx="116.5" cy="59.2" r="4.6" fill="url(#gV)"/><circle cx="42.3" cy="140.9" r="5.3" fill="url(#gL)"/><circle cx="38.5" cy="72.4" r="2.2" fill="url(#gO)"/><circle cx="144.3" cy="94" r="5.3" fill="url(#gL)"/><circle cx="108.7" cy="132.3" r="4.6" fill="url(#gV)"/><circle cx="76" cy="152.4" r="5.3" fill="url(#gL)"/><circle cx="40.9" cy="38.5" r="2.2" fill="url(#gO)"/><circle cx="90.8" cy="97" r="4.6" fill="url(#gV)"/><circle cx="146.2" cy="122.5" r="2.2" fill="url(#gO)"/><circle cx="190.2" cy="120.8" r="5.3" fill="url(#gL)"/><circle cx="108.3" cy="183.9" r="2.2" fill="url(#gO)"/><circle cx="197" cy="87.7" r="2.2" fill="url(#gO)"/><circle cx="145.5" cy="62.4" r="5.3" fill="url(#gL)"/><circle cx="145.8" cy="60.6" r="2.2" fill="url(#gO)"/><circle cx="202.4" cy="165.2" r="2.2" fill="url(#gO)"/><circle cx="41.5" cy="31.3" r="2.2" fill="url(#gO)"/><circle cx="79.6" cy="107.8" r="2.2" fill="url(#gO)"/><circle cx="89.6" cy="81.7" r="2.2" fill="url(#gO)"/><circle cx="193.4" cy="139.4" r="2.2" fill="url(#gO)"/><circle cx="207.8" cy="157.1" r="2.2" fill="url(#gO)"/><circle cx="198" cy="97.6" r="2.2" fill="url(#gO)"/><circle cx="145.8" cy="124.7" r="2.2" fill="url(#gO)"/><circle cx="131" cy="186.1" r="2.2" fill="url(#gO)"/><circle cx="28.4" cy="43" r="4.6" fill="url(#gV)"/><circle cx="134.7" cy="61.4" r="2.2" fill="url(#gO)"/><circle cx="187.3" cy="110.8" r="4.6" fill="url(#gV)"/><circle cx="50.9" cy="146.7" r="4.6" fill="url(#gV)"/><circle cx="137.7" cy="154.5" r="5.3" fill="url(#gL)"/><circle cx="25.5" cy="78.2" r="2.2" fill="url(#gO)"/><circle cx="114.4" cy="32.3" r="5.3" fill="url(#gL)"/><circle cx="70.8" cy="147.2" r="2.2" fill="url(#gO)"/><circle cx="89.6" cy="40.6" r="4.6" fill="url(#gV)"/><circle cx="231.8" cy="46.9" r="4.6" fill="url(#gV)"/><circle cx="117.6" cy="134.5" r="5.3" fill="url(#gL)"/><circle cx="88" cy="28.4" r="2.2" fill="url(#gO)"/><circle cx="178.8" cy="74.1" r="2.2" fill="url(#gO)"/><circle cx="76" cy="144.1" r="4.6" fill="url(#gV)"/><circle cx="155.1" cy="75" r="4.6" fill="url(#gV)"/><circle cx="215.3" cy="63.1" r="5.3" fill="url(#gL)"/><circle cx="121.2" cy="88.2" r="2.4" fill="url(#gF)"/><circle cx="129.8" cy="94" r="2.4" fill="url(#gF)"/><circle cx="151.8" cy="171.8" r="2.4" fill="url(#gF)"/><circle cx="187.7" cy="154.6" r="2.2" fill="url(#gO)"/><circle cx="158.9" cy="178.9" r="4.6" fill="url(#gV)"/><circle cx="225.7" cy="96" r="2.2" fill="url(#gO)"/><circle cx="53.5" cy="174" r="2.2" fill="url(#gO)"/><circle cx="99" cy="114.4" r="5.3" fill="url(#gL)"/><circle cx="215" cy="169.5" r="2.2" fill="url(#gO)"/><circle cx="46.8" cy="84.4" r="2.2" fill="url(#gO)"/><circle cx="144.9" cy="99.4" r="2.2" fill="url(#gO)"/><circle cx="181.9" cy="119.7" r="4.6" fill="url(#gV)"/><circle cx="78.9" cy="66" r="5.3" fill="url(#gL)"/><circle cx="89.6" cy="173.9" r="5.3" fill="url(#gL)"/><circle cx="68.3" cy="76.4" r="2.2" fill="url(#gO)"/><circle cx="14.9" cy="115.2" r="2.2" fill="url(#gO)"/><circle cx="128.7" cy="83.2" r="2.2" fill="url(#gO)"/><circle cx="54.5" cy="105.5" r="2.2" fill="url(#gO)"/><circle cx="47.1" cy="196" r="2.2" fill="url(#gO)"/><circle cx="126.2" cy="39.4" r="4.6" fill="url(#gV)"/><circle cx="29.2" cy="133" r="2.2" fill="url(#gO)"/><circle cx="123.1" cy="122.7" r="2.2" fill="url(#gO)"/><circle cx="17.3" cy="139.9" r="2.2" fill="url(#gO)"/><circle cx="96.9" cy="49.4" r="2.2" fill="url(#gO)"/><circle cx="47.5" cy="84.3" r="2.2" fill="url(#gO)"/><circle cx="120.5" cy="178.9" r="4.6" fill="url(#gV)"/><circle cx="25.1" cy="90.3" r="2.2" fill="url(#gO)"/><circle cx="54" cy="112.1" r="2.2" fill="url(#gO)"/><circle cx="234.2" cy="181.9" r="2.2" fill="url(#gO)"/><circle cx="83.7" cy="25.8" r="2.2" fill="url(#gO)"/><circle cx="207.7" cy="165.7" r="2.2" fill="url(#gO)"/><circle cx="165.8" cy="94.7" r="5.3" fill="url(#gL)"/><circle cx="111" cy="178.5" r="2.2" fill="url(#gO)"/><circle cx="62.8" cy="118.7" r="5.3" fill="url(#gL)"/><circle cx="241.6" cy="79.6" r="2.2" fill="url(#gO)"/><circle cx="80.1" cy="141.4" r="2.2" fill="url(#gO)"/><circle cx="191.6" cy="63.1" r="5.3" fill="url(#gL)"/><circle cx="223.9" cy="179.6" r="5.3" fill="url(#gL)"/><circle cx="66" cy="53.8" r="5.3" fill="url(#gL)"/><circle cx="42.7" cy="40.6" r="4.6" fill="url(#gV)"/><circle cx="157.8" cy="141.6" r="2.2" fill="url(#gO)"/><circle cx="70" cy="169.9" r="2.2" fill="url(#gO)"/><circle cx="198.1" cy="75.1" r="2.2" fill="url(#gO)"/><circle cx="199.1" cy="158.8" r="4.6" fill="url(#gV)"/><circle cx="47.9" cy="31.9" r="2.2" fill="url(#gO)"/><circle cx="35.8" cy="69.3" r="5.3" fill="url(#gL)"/><circle cx="73.3" cy="134.5" r="2.2" fill="url(#gO)"/><circle cx="38.3" cy="159.5" r="2.2" fill="url(#gO)"/><circle cx="225.8" cy="174.6" r="4.6" fill="url(#gV)"/><circle cx="111" cy="122.7" r="2.2" fill="url(#gO)"/><circle cx="153.2" cy="52.3" r="5.3" fill="url(#gL)"/><circle cx="131.8" cy="39.1" r="2.2" fill="url(#gO)"/><circle cx="116.7" cy="41.6" r="2.2" fill="url(#gO)"/><circle cx="156.9" cy="166" r="2.2" fill="url(#gO)"/><circle cx="80.2" cy="101.9" r="2.2" fill="url(#gO)"/><circle cx="101.9" cy="107.1" r="2.2" fill="url(#gO)"/><circle cx="53" cy="186.1" r="4.6" fill="url(#gV)"/><circle cx="161.5" cy="157.4" r="4.6" fill="url(#gV)"/><circle cx="168.5" cy="134.9" r="2.2" fill="url(#gO)"/><circle cx="18.6" cy="157" r="2.2" fill="url(#gO)"/><circle cx="61.7" cy="40.6" r="2.2" fill="url(#gO)"/><circle cx="204.6" cy="100.1" r="2.2" fill="url(#gO)"/><circle cx="56.2" cy="177.8" r="2.2" fill="url(#gO)"/><circle cx="169" cy="66.5" r="2.2" fill="url(#gO)"/><circle cx="180.3" cy="163.4" r="2.2" fill="url(#gO)"/><circle cx="167.6" cy="56.7" r="2.2" fill="url(#gO)"/><circle cx="19.5" cy="43.2" r="2.2" fill="url(#gO)"/><circle cx="201.7" cy="133.7" r="4.6" fill="url(#gV)"/><circle cx="163.7" cy="111.5" r="5.3" fill="url(#gL)"/><circle cx="197.6" cy="141.3" r="2.2" fill="url(#gO)"/><circle cx="87.1" cy="133.9" r="2.2" fill="url(#gO)"/><circle cx="123.3" cy="109.3" r="5.3" fill="url(#gL)"/><circle cx="215.1" cy="98" r="2.2" fill="url(#gO)"/><circle cx="56.2" cy="135.2" r="5.3" fill="url(#gL)"/><circle cx="134.1" cy="119.4" r="4.6" fill="url(#gV)"/><circle cx="95.5" cy="161" r="2.2" fill="url(#gO)"/><circle cx="104.3" cy="188" r="2.2" fill="url(#gO)"/><circle cx="54" cy="153.9" r="2.2" fill="url(#gO)"/><circle cx="231.2" cy="54.6" r="2.2" fill="url(#gO)"/><circle cx="180.1" cy="51.5" r="2.2" fill="url(#gO)"/><circle cx="207.6" cy="46.4" r="2.2" fill="url(#gO)"/><circle cx="144.1" cy="90.5" r="2.2" fill="url(#gO)"/><circle cx="68.4" cy="97.2" r="2.2" fill="url(#gO)"/><circle cx="152.4" cy="179.1" r="2.2" fill="url(#gO)"/><circle cx="76.3" cy="61.7" r="2.2" fill="url(#gO)"/><circle cx="221.9" cy="45" r="2.2" fill="url(#gO)"/><circle cx="180.5" cy="88.6" r="2.2" fill="url(#gO)"/><circle cx="110" cy="37.5" r="2.2" fill="url(#gO)"/><circle cx="111.5" cy="61.3" r="2.2" fill="url(#gO)"/><circle cx="88.4" cy="92.2" r="2.2" fill="url(#gO)"/><circle cx="150.3" cy="75.4" r="2.2" fill="url(#gO)"/><circle cx="88.7" cy="39" r="2.2" fill="url(#gO)"/><circle cx="101.9" cy="60.2" r="2.2" fill="url(#gO)"/><circle cx="190.3" cy="108.8" r="2.2" fill="url(#gO)"/><circle cx="182.4" cy="119.6" r="2.2" fill="url(#gO)"/><line x1="425.5" y1="40.9" x2="431.8" y2="37.1" stroke="#c8301e" stroke-width="1.4"/><line x1="431.8" y1="37.1" x2="436" y2="34.5" stroke="#e08c8c" stroke-width="1.4"/><line x1="425.5" y1="40.9" x2="421.2" y2="45.8" stroke="#c8301e" stroke-width="1.4"/><line x1="421.2" y1="45.8" x2="418.4" y2="49" stroke="#e08c8c" stroke-width="1.4"/><line x1="425.5" y1="40.9" x2="428.7" y2="45.8" stroke="#c8301e" stroke-width="1.4"/><line x1="428.7" y1="45.8" x2="430.7" y2="48.8" stroke="#e08c8c" stroke-width="1.4"/><line x1="425.5" y1="40.9" x2="420.4" y2="35.2" stroke="#c8301e" stroke-width="1.4"/><line x1="420.4" y1="35.2" x2="416.9" y2="31.3" stroke="#e08c8c" stroke-width="1.4"/><line x1="383.9" y1="61" x2="377.6" y2="66.3" stroke="#c8301e" stroke-width="1.4"/><line x1="377.6" y1="66.3" x2="373.2" y2="70" stroke="#e08c8c" stroke-width="1.4"/><line x1="383.9" y1="61" x2="384.5" y2="56.4" stroke="#c8301e" stroke-width="1.4"/><line x1="384.5" y1="56.4" x2="384.8" y2="54.3" stroke="#e08c8c" stroke-width="1.4"/><line x1="383.9" y1="61" x2="390.9" y2="65.1" stroke="#c8301e" stroke-width="1.4"/><line x1="390.9" y1="65.1" x2="395.8" y2="68" stroke="#e08c8c" stroke-width="1.4"/><line x1="383.9" y1="61" x2="382.6" y2="55.2" stroke="#c8301e" stroke-width="1.4"/><line x1="382.6" y1="55.2" x2="381.8" y2="51.7" stroke="#e08c8c" stroke-width="1.4"/><line x1="374.6" y1="80.3" x2="372.5" y2="72.5" stroke="#c8301e" stroke-width="1.4"/><line x1="372.5" y1="72.5" x2="371" y2="66.9" stroke="#e08c8c" stroke-width="1.4"/><line x1="374.6" y1="80.3" x2="373.2" y2="85" stroke="#c8301e" stroke-width="1.4"/><line x1="373.2" y1="85" x2="372.5" y2="87.5" stroke="#e08c8c" stroke-width="1.4"/><line x1="374.6" y1="80.3" x2="369.7" y2="83.7" stroke="#c8301e" stroke-width="1.4"/><line x1="369.7" y1="83.7" x2="366.8" y2="85.8" stroke="#e08c8c" stroke-width="1.4"/><line x1="374.6" y1="80.3" x2="382.5" y2="80.7" stroke="#c8301e" stroke-width="1.4"/><line x1="382.5" y1="80.7" x2="388.1" y2="81.1" stroke="#e08c8c" stroke-width="1.4"/><line x1="333" y1="86.1" x2="333.1" y2="94.1" stroke="#c8301e" stroke-width="1.4"/><line x1="333.1" y1="94.1" x2="333.1" y2="99.8" stroke="#e08c8c" stroke-width="1.4"/><line x1="333" y1="86.1" x2="328" y2="82" stroke="#c8301e" stroke-width="1.4"/><line x1="328" y1="82" x2="324.8" y2="79.3" stroke="#e08c8c" stroke-width="1.4"/><line x1="333" y1="86.1" x2="328.7" y2="84.5" stroke="#c8301e" stroke-width="1.4"/><line x1="328.7" y1="84.5" x2="328.1" y2="84.3" stroke="#e08c8c" stroke-width="1.4"/><line x1="333" y1="86.1" x2="340.6" y2="83.1" stroke="#c8301e" stroke-width="1.4"/><line x1="340.6" y1="83.1" x2="346" y2="81" stroke="#e08c8c" stroke-width="1.4"/><line x1="413.3" y1="68.8" x2="417.6" y2="74.8" stroke="#c8301e" stroke-width="1.4"/><line x1="417.6" y1="74.8" x2="420.6" y2="78.8" stroke="#e08c8c" stroke-width="1.4"/><line x1="413.3" y1="68.8" x2="405.3" y2="69.5" stroke="#c8301e" stroke-width="1.4"/><line x1="405.3" y1="69.5" x2="399.7" y2="70" stroke="#e08c8c" stroke-width="1.4"/><line x1="413.3" y1="68.8" x2="416.8" y2="71.8" stroke="#c8301e" stroke-width="1.4"/><line x1="416.8" y1="71.8" x2="414.9" y2="70.1" stroke="#e08c8c" stroke-width="1.4"/><line x1="413.3" y1="68.8" x2="416.1" y2="61.4" stroke="#c8301e" stroke-width="1.4"/><line x1="416.1" y1="61.4" x2="418" y2="56.2" stroke="#e08c8c" stroke-width="1.4"/><line x1="435.5" y1="57.4" x2="437.1" y2="52.3" stroke="#c8301e" stroke-width="1.4"/><line x1="437.1" y1="52.3" x2="438" y2="49.5" stroke="#e08c8c" stroke-width="1.4"/><line x1="435.5" y1="57.4" x2="442.1" y2="61.9" stroke="#c8301e" stroke-width="1.4"/><line x1="442.1" y1="61.9" x2="446.8" y2="65.1" stroke="#e08c8c" stroke-width="1.4"/><line x1="435.5" y1="57.4" x2="429.2" y2="62.4" stroke="#c8301e" stroke-width="1.4"/><line x1="429.2" y1="62.4" x2="424.7" y2="65.9" stroke="#e08c8c" stroke-width="1.4"/><line x1="435.5" y1="57.4" x2="433.6" y2="52.2" stroke="#c8301e" stroke-width="1.4"/><line x1="433.6" y1="52.2" x2="432.5" y2="49.1" stroke="#e08c8c" stroke-width="1.4"/><line x1="366.7" y1="100.5" x2="361.3" y2="99.8" stroke="#c8301e" stroke-width="1.4"/><line x1="361.3" y1="99.8" x2="358.2" y2="99.4" stroke="#e08c8c" stroke-width="1.4"/><line x1="366.7" y1="100.5" x2="374.1" y2="97.7" stroke="#c8301e" stroke-width="1.4"/><line x1="374.1" y1="97.7" x2="379.4" y2="95.7" stroke="#e08c8c" stroke-width="1.4"/><line x1="366.7" y1="100.5" x2="363.5" y2="95.8" stroke="#c8301e" stroke-width="1.4"/><line x1="363.5" y1="95.8" x2="361.6" y2="93" stroke="#e08c8c" stroke-width="1.4"/><line x1="366.7" y1="100.5" x2="367.3" y2="108.4" stroke="#c8301e" stroke-width="1.4"/><line x1="367.3" y1="108.4" x2="367.7" y2="113.9" stroke="#e08c8c" stroke-width="1.4"/><line x1="388.5" y1="100.5" x2="394.3" y2="100.8" stroke="#c8301e" stroke-width="1.4"/><line x1="394.3" y1="100.8" x2="397.8" y2="101" stroke="#e08c8c" stroke-width="1.4"/><line x1="388.5" y1="100.5" x2="388.2" y2="107.9" stroke="#c8301e" stroke-width="1.4"/><line x1="388.2" y1="107.9" x2="388" y2="113" stroke="#e08c8c" stroke-width="1.4"/><line x1="388.5" y1="100.5" x2="381" y2="98.7" stroke="#c8301e" stroke-width="1.4"/><line x1="381" y1="98.7" x2="375.9" y2="97.4" stroke="#e08c8c" stroke-width="1.4"/><line x1="388.5" y1="100.5" x2="390.8" y2="94.5" stroke="#c8301e" stroke-width="1.4"/><line x1="390.8" y1="94.5" x2="392.3" y2="90.7" stroke="#e08c8c" stroke-width="1.4"/><line x1="469.8" y1="60.2" x2="462.9" y2="60.9" stroke="#c8301e" stroke-width="1.4"/><line x1="462.9" y1="60.9" x2="458.4" y2="61.3" stroke="#e08c8c" stroke-width="1.4"/><line x1="469.8" y1="60.2" x2="465.6" y2="58.2" stroke="#c8301e" stroke-width="1.4"/><line x1="465.6" y1="58.2" x2="466" y2="58.4" stroke="#e08c8c" stroke-width="1.4"/><line x1="469.8" y1="60.2" x2="474.3" y2="53.7" stroke="#c8301e" stroke-width="1.4"/><line x1="474.3" y1="53.7" x2="477.4" y2="49.2" stroke="#e08c8c" stroke-width="1.4"/><line x1="469.8" y1="60.2" x2="474.3" y2="67" stroke="#c8301e" stroke-width="1.4"/><line x1="474.3" y1="67" x2="477.4" y2="71.9" stroke="#e08c8c" stroke-width="1.4"/><line x1="483.8" y1="64.1" x2="491.3" y2="67.2" stroke="#c8301e" stroke-width="1.4"/><line x1="491.3" y1="67.2" x2="496.6" y2="69.4" stroke="#e08c8c" stroke-width="1.4"/><line x1="483.8" y1="64.1" x2="483.6" y2="56.3" stroke="#c8301e" stroke-width="1.4"/><line x1="483.6" y1="56.3" x2="483.5" y2="50.8" stroke="#e08c8c" stroke-width="1.4"/><line x1="483.8" y1="64.1" x2="479.3" y2="64.8" stroke="#c8301e" stroke-width="1.4"/><line x1="479.3" y1="64.8" x2="480.7" y2="64.6" stroke="#e08c8c" stroke-width="1.4"/><line x1="483.8" y1="64.1" x2="478.2" y2="68.6" stroke="#c8301e" stroke-width="1.4"/><line x1="478.2" y1="68.6" x2="474.4" y2="71.6" stroke="#e08c8c" stroke-width="1.4"/><line x1="514.6" y1="64.5" x2="517.9" y2="69.3" stroke="#c8301e" stroke-width="1.4"/><line x1="517.9" y1="69.3" x2="519.9" y2="72.1" stroke="#e08c8c" stroke-width="1.4"/><line x1="514.6" y1="64.5" x2="507.9" y2="60.4" stroke="#c8301e" stroke-width="1.4"/><line x1="507.9" y1="60.4" x2="503.3" y2="57.6" stroke="#e08c8c" stroke-width="1.4"/><line x1="514.6" y1="64.5" x2="520.3" y2="59.1" stroke="#c8301e" stroke-width="1.4"/><line x1="520.3" y1="59.1" x2="524.2" y2="55.4" stroke="#e08c8c" stroke-width="1.4"/><line x1="514.6" y1="64.5" x2="512.3" y2="69.8" stroke="#c8301e" stroke-width="1.4"/><line x1="512.3" y1="69.8" x2="511" y2="73" stroke="#e08c8c" stroke-width="1.4"/><line x1="518.2" y1="58.8" x2="512.3" y2="58.6" stroke="#c8301e" stroke-width="1.4"/><line x1="512.3" y1="58.6" x2="508.8" y2="58.6" stroke="#e08c8c" stroke-width="1.4"/><line x1="518.2" y1="58.8" x2="515.6" y2="53.4" stroke="#c8301e" stroke-width="1.4"/><line x1="515.6" y1="53.4" x2="514.1" y2="50.2" stroke="#e08c8c" stroke-width="1.4"/><line x1="518.2" y1="58.8" x2="518.8" y2="66.5" stroke="#c8301e" stroke-width="1.4"/><line x1="518.8" y1="66.5" x2="519.3" y2="71.8" stroke="#e08c8c" stroke-width="1.4"/><line x1="518.2" y1="58.8" x2="525.5" y2="56.3" stroke="#c8301e" stroke-width="1.4"/><line x1="525.5" y1="56.3" x2="530.6" y2="54.6" stroke="#e08c8c" stroke-width="1.4"/><line x1="442.2" y1="62.4" x2="436.3" y2="57.5" stroke="#c8301e" stroke-width="1.4"/><line x1="436.3" y1="57.5" x2="432.3" y2="54.2" stroke="#e08c8c" stroke-width="1.4"/><line x1="442.2" y1="62.4" x2="438.6" y2="67.8" stroke="#c8301e" stroke-width="1.4"/><line x1="438.6" y1="67.8" x2="436.3" y2="71.3" stroke="#e08c8c" stroke-width="1.4"/><line x1="442.2" y1="62.4" x2="446.1" y2="66.9" stroke="#c8301e" stroke-width="1.4"/><line x1="446.1" y1="66.9" x2="448.5" y2="69.6" stroke="#e08c8c" stroke-width="1.4"/><line x1="442.2" y1="62.4" x2="447.8" y2="57.7" stroke="#c8301e" stroke-width="1.4"/><line x1="447.8" y1="57.7" x2="451.7" y2="54.5" stroke="#e08c8c" stroke-width="1.4"/><line x1="450.8" y1="76.7" x2="446.7" y2="72.3" stroke="#c8301e" stroke-width="1.4"/><line x1="446.7" y1="72.3" x2="444.2" y2="69.6" stroke="#e08c8c" stroke-width="1.4"/><line x1="450.8" y1="76.7" x2="452.9" y2="71.2" stroke="#c8301e" stroke-width="1.4"/><line x1="452.9" y1="71.2" x2="454.2" y2="67.9" stroke="#e08c8c" stroke-width="1.4"/><line x1="450.8" y1="76.7" x2="445.8" y2="82.6" stroke="#c8301e" stroke-width="1.4"/><line x1="445.8" y1="82.6" x2="442.3" y2="86.7" stroke="#e08c8c" stroke-width="1.4"/><line x1="450.8" y1="76.7" x2="457.7" y2="80.2" stroke="#c8301e" stroke-width="1.4"/><line x1="457.7" y1="80.2" x2="462.4" y2="82.5" stroke="#e08c8c" stroke-width="1.4"/><line x1="478" y1="90.4" x2="474.2" y2="87.8" stroke="#c8301e" stroke-width="1.4"/><line x1="474.2" y1="87.8" x2="473" y2="87" stroke="#e08c8c" stroke-width="1.4"/><line x1="478" y1="90.4" x2="486.2" y2="90.3" stroke="#c8301e" stroke-width="1.4"/><line x1="486.2" y1="90.3" x2="492" y2="90.1" stroke="#e08c8c" stroke-width="1.4"/><line x1="478" y1="90.4" x2="475.4" y2="97.9" stroke="#c8301e" stroke-width="1.4"/><line x1="475.4" y1="97.9" x2="473.6" y2="103.3" stroke="#e08c8c" stroke-width="1.4"/><line x1="478" y1="90.4" x2="475.1" y2="84.8" stroke="#c8301e" stroke-width="1.4"/><line x1="475.1" y1="84.8" x2="473.3" y2="81.2" stroke="#e08c8c" stroke-width="1.4"/><line x1="508.1" y1="88.2" x2="505.1" y2="95.1" stroke="#c8301e" stroke-width="1.4"/><line x1="505.1" y1="95.1" x2="503" y2="99.9" stroke="#e08c8c" stroke-width="1.4"/><line x1="508.1" y1="88.2" x2="516" y2="87.3" stroke="#c8301e" stroke-width="1.4"/><line x1="516" y1="87.3" x2="521.5" y2="86.6" stroke="#e08c8c" stroke-width="1.4"/><line x1="508.1" y1="88.2" x2="504.9" y2="91.5" stroke="#c8301e" stroke-width="1.4"/><line x1="504.9" y1="91.5" x2="507.3" y2="89.1" stroke="#e08c8c" stroke-width="1.4"/><line x1="508.1" y1="88.2" x2="503.7" y2="81.7" stroke="#c8301e" stroke-width="1.4"/><line x1="503.7" y1="81.7" x2="500.7" y2="77.2" stroke="#e08c8c" stroke-width="1.4"/><line x1="507.4" y1="95.4" x2="505.1" y2="89.7" stroke="#c8301e" stroke-width="1.4"/><line x1="505.1" y1="89.7" x2="503.7" y2="86.2" stroke="#e08c8c" stroke-width="1.4"/><line x1="507.4" y1="95.4" x2="515.4" y2="96.8" stroke="#c8301e" stroke-width="1.4"/><line x1="515.4" y1="96.8" x2="521.2" y2="97.8" stroke="#e08c8c" stroke-width="1.4"/><line x1="507.4" y1="95.4" x2="503.4" y2="102.4" stroke="#c8301e" stroke-width="1.4"/><line x1="503.4" y1="102.4" x2="500.5" y2="107.4" stroke="#e08c8c" stroke-width="1.4"/><line x1="507.4" y1="95.4" x2="505" y2="91.5" stroke="#c8301e" stroke-width="1.4"/><line x1="505" y1="91.5" x2="504.2" y2="90.2" stroke="#e08c8c" stroke-width="1.4"/><line x1="401.8" y1="111.5" x2="399" y2="115.2" stroke="#c8301e" stroke-width="1.4"/><line x1="399" y1="115.2" x2="399.9" y2="114" stroke="#e08c8c" stroke-width="1.4"/><line x1="401.8" y1="111.5" x2="402.4" y2="118.7" stroke="#c8301e" stroke-width="1.4"/><line x1="402.4" y1="118.7" x2="402.8" y2="123.6" stroke="#e08c8c" stroke-width="1.4"/><line x1="401.8" y1="111.5" x2="395.4" y2="107.2" stroke="#c8301e" stroke-width="1.4"/><line x1="395.4" y1="107.2" x2="390.9" y2="104.2" stroke="#e08c8c" stroke-width="1.4"/><line x1="401.8" y1="111.5" x2="408.7" y2="107.2" stroke="#c8301e" stroke-width="1.4"/><line x1="408.7" y1="107.2" x2="413.6" y2="104.1" stroke="#e08c8c" stroke-width="1.4"/><line x1="409.7" y1="109.3" x2="415.2" y2="114.7" stroke="#c8301e" stroke-width="1.4"/><line x1="415.2" y1="114.7" x2="419.1" y2="118.5" stroke="#e08c8c" stroke-width="1.4"/><line x1="409.7" y1="109.3" x2="405.5" y2="105.6" stroke="#c8301e" stroke-width="1.4"/><line x1="405.5" y1="105.6" x2="403" y2="103.5" stroke="#e08c8c" stroke-width="1.4"/><line x1="409.7" y1="109.3" x2="413.6" y2="103.3" stroke="#c8301e" stroke-width="1.4"/><line x1="413.6" y1="103.3" x2="416.2" y2="99.3" stroke="#e08c8c" stroke-width="1.4"/><line x1="409.7" y1="109.3" x2="404.1" y2="113.3" stroke="#c8301e" stroke-width="1.4"/><line x1="404.1" y1="113.3" x2="400.4" y2="115.8" stroke="#e08c8c" stroke-width="1.4"/><line x1="380.3" y1="121.5" x2="373.7" y2="126.3" stroke="#c8301e" stroke-width="1.4"/><line x1="373.7" y1="126.3" x2="368.9" y2="129.6" stroke="#e08c8c" stroke-width="1.4"/><line x1="380.3" y1="121.5" x2="380.1" y2="116.5" stroke="#c8301e" stroke-width="1.4"/><line x1="380.1" y1="116.5" x2="379.9" y2="113.8" stroke="#e08c8c" stroke-width="1.4"/><line x1="380.3" y1="121.5" x2="380.5" y2="116.1" stroke="#c8301e" stroke-width="1.4"/><line x1="380.5" y1="116.1" x2="380.5" y2="113.1" stroke="#e08c8c" stroke-width="1.4"/><line x1="380.3" y1="121.5" x2="387" y2="126.2" stroke="#c8301e" stroke-width="1.4"/><line x1="387" y1="126.2" x2="391.8" y2="129.5" stroke="#e08c8c" stroke-width="1.4"/><line x1="381.7" y1="129.4" x2="388.4" y2="132.8" stroke="#c8301e" stroke-width="1.4"/><line x1="388.4" y1="132.8" x2="393" y2="135.1" stroke="#e08c8c" stroke-width="1.4"/><line x1="381.7" y1="129.4" x2="377.7" y2="135.2" stroke="#c8301e" stroke-width="1.4"/><line x1="377.7" y1="135.2" x2="375" y2="139.1" stroke="#e08c8c" stroke-width="1.4"/><line x1="381.7" y1="129.4" x2="376.4" y2="126.3" stroke="#c8301e" stroke-width="1.4"/><line x1="376.4" y1="126.3" x2="373.1" y2="124.5" stroke="#e08c8c" stroke-width="1.4"/><line x1="381.7" y1="129.4" x2="384.1" y2="123.1" stroke="#c8301e" stroke-width="1.4"/><line x1="384.1" y1="123.1" x2="385.7" y2="118.9" stroke="#e08c8c" stroke-width="1.4"/><line x1="332.7" y1="133.7" x2="331.7" y2="129.2" stroke="#c8301e" stroke-width="1.4"/><line x1="331.7" y1="129.2" x2="331.1" y2="126.9" stroke="#e08c8c" stroke-width="1.4"/><line x1="332.7" y1="133.7" x2="339.5" y2="138.3" stroke="#c8301e" stroke-width="1.4"/><line x1="339.5" y1="138.3" x2="344.3" y2="141.6" stroke="#e08c8c" stroke-width="1.4"/><line x1="332.7" y1="133.7" x2="326.2" y2="138.5" stroke="#c8301e" stroke-width="1.4"/><line x1="326.2" y1="138.5" x2="321.6" y2="141.9" stroke="#e08c8c" stroke-width="1.4"/><line x1="332.7" y1="133.7" x2="333.4" y2="127.9" stroke="#c8301e" stroke-width="1.4"/><line x1="333.4" y1="127.9" x2="333.8" y2="124.4" stroke="#e08c8c" stroke-width="1.4"/><line x1="370.3" y1="142.3" x2="371" y2="147.5" stroke="#c8301e" stroke-width="1.4"/><line x1="371" y1="147.5" x2="371.4" y2="150.4" stroke="#e08c8c" stroke-width="1.4"/><line x1="370.3" y1="142.3" x2="363.7" y2="137.6" stroke="#c8301e" stroke-width="1.4"/><line x1="363.7" y1="137.6" x2="358.9" y2="134.2" stroke="#e08c8c" stroke-width="1.4"/><line x1="370.3" y1="142.3" x2="377" y2="137.6" stroke="#c8301e" stroke-width="1.4"/><line x1="377" y1="137.6" x2="381.7" y2="134.2" stroke="#e08c8c" stroke-width="1.4"/><line x1="370.3" y1="142.3" x2="369.6" y2="147.5" stroke="#c8301e" stroke-width="1.4"/><line x1="369.6" y1="147.5" x2="369.2" y2="150.4" stroke="#e08c8c" stroke-width="1.4"/><line x1="378.6" y1="156.7" x2="377.8" y2="162" stroke="#c8301e" stroke-width="1.4"/><line x1="377.8" y1="162" x2="377.3" y2="165.1" stroke="#e08c8c" stroke-width="1.4"/><line x1="378.6" y1="156.7" x2="371.2" y2="153.7" stroke="#c8301e" stroke-width="1.4"/><line x1="371.2" y1="153.7" x2="366" y2="151.5" stroke="#e08c8c" stroke-width="1.4"/><line x1="378.6" y1="156.7" x2="383.7" y2="150.5" stroke="#c8301e" stroke-width="1.4"/><line x1="383.7" y1="150.5" x2="387.3" y2="146.2" stroke="#e08c8c" stroke-width="1.4"/><line x1="378.6" y1="156.7" x2="381.8" y2="161.3" stroke="#c8301e" stroke-width="1.4"/><line x1="381.8" y1="161.3" x2="383.7" y2="164" stroke="#e08c8c" stroke-width="1.4"/><line x1="360.2" y1="163.1" x2="353" y2="166.8" stroke="#c8301e" stroke-width="1.4"/><line x1="353" y1="166.8" x2="347.9" y2="169.4" stroke="#e08c8c" stroke-width="1.4"/><line x1="360.2" y1="163.1" x2="364.7" y2="162.2" stroke="#c8301e" stroke-width="1.4"/><line x1="364.7" y1="162.2" x2="366.8" y2="161.7" stroke="#e08c8c" stroke-width="1.4"/><line x1="360.2" y1="163.1" x2="364.9" y2="167.8" stroke="#c8301e" stroke-width="1.4"/><line x1="364.9" y1="167.8" x2="368" y2="170.8" stroke="#e08c8c" stroke-width="1.4"/><line x1="360.2" y1="163.1" x2="358.9" y2="155.6" stroke="#c8301e" stroke-width="1.4"/><line x1="358.9" y1="155.6" x2="358.1" y2="150.5" stroke="#e08c8c" stroke-width="1.4"/><line x1="421.2" y1="133.7" x2="419" y2="129.1" stroke="#c8301e" stroke-width="1.4"/><line x1="419" y1="129.1" x2="417.8" y2="126.5" stroke="#e08c8c" stroke-width="1.4"/><line x1="421.2" y1="133.7" x2="428" y2="138" stroke="#c8301e" stroke-width="1.4"/><line x1="428" y1="138" x2="432.8" y2="141.1" stroke="#e08c8c" stroke-width="1.4"/><line x1="421.2" y1="133.7" x2="415.1" y2="138.8" stroke="#c8301e" stroke-width="1.4"/><line x1="415.1" y1="138.8" x2="410.8" y2="142.4" stroke="#e08c8c" stroke-width="1.4"/><line x1="421.2" y1="133.7" x2="422.6" y2="128.1" stroke="#c8301e" stroke-width="1.4"/><line x1="422.6" y1="128.1" x2="423.4" y2="124.8" stroke="#e08c8c" stroke-width="1.4"/><line x1="416.9" y1="140.2" x2="424.1" y2="136.3" stroke="#c8301e" stroke-width="1.4"/><line x1="424.1" y1="136.3" x2="429.2" y2="133.6" stroke="#e08c8c" stroke-width="1.4"/><line x1="416.9" y1="140.2" x2="414.8" y2="144.3" stroke="#c8301e" stroke-width="1.4"/><line x1="414.8" y1="144.3" x2="413.8" y2="146.1" stroke="#e08c8c" stroke-width="1.4"/><line x1="416.9" y1="140.2" x2="417.4" y2="146.3" stroke="#c8301e" stroke-width="1.4"/><line x1="417.4" y1="146.3" x2="417.7" y2="150.1" stroke="#e08c8c" stroke-width="1.4"/><line x1="416.9" y1="140.2" x2="411" y2="134.8" stroke="#c8301e" stroke-width="1.4"/><line x1="411" y1="134.8" x2="406.9" y2="131" stroke="#e08c8c" stroke-width="1.4"/><line x1="411.1" y1="167.5" x2="406.5" y2="162.3" stroke="#c8301e" stroke-width="1.4"/><line x1="406.5" y1="162.3" x2="403.5" y2="158.9" stroke="#e08c8c" stroke-width="1.4"/><line x1="411.1" y1="167.5" x2="415.6" y2="172.7" stroke="#c8301e" stroke-width="1.4"/><line x1="415.6" y1="172.7" x2="418.6" y2="176" stroke="#e08c8c" stroke-width="1.4"/><line x1="411.1" y1="167.5" x2="406" y2="172.1" stroke="#c8301e" stroke-width="1.4"/><line x1="406" y1="172.1" x2="402.6" y2="175.1" stroke="#e08c8c" stroke-width="1.4"/><line x1="411.1" y1="167.5" x2="416.3" y2="163" stroke="#c8301e" stroke-width="1.4"/><line x1="416.3" y1="163" x2="419.8" y2="160" stroke="#e08c8c" stroke-width="1.4"/><line x1="383.2" y1="180.4" x2="389.4" y2="177.3" stroke="#c8301e" stroke-width="1.4"/><line x1="389.4" y1="177.3" x2="393.5" y2="175.3" stroke="#e08c8c" stroke-width="1.4"/><line x1="383.2" y1="180.4" x2="380.3" y2="174.3" stroke="#c8301e" stroke-width="1.4"/><line x1="380.3" y1="174.3" x2="378.4" y2="170.3" stroke="#e08c8c" stroke-width="1.4"/><line x1="383.2" y1="180.4" x2="376.9" y2="183.1" stroke="#c8301e" stroke-width="1.4"/><line x1="376.9" y1="183.1" x2="372.8" y2="184.9" stroke="#e08c8c" stroke-width="1.4"/><line x1="383.2" y1="180.4" x2="386.2" y2="186.8" stroke="#c8301e" stroke-width="1.4"/><line x1="386.2" y1="186.8" x2="388.1" y2="191" stroke="#e08c8c" stroke-width="1.4"/><line x1="344.4" y1="183.2" x2="345.7" y2="188.3" stroke="#c8301e" stroke-width="1.4"/><line x1="345.7" y1="188.3" x2="346.4" y2="191.2" stroke="#e08c8c" stroke-width="1.4"/><line x1="344.4" y1="183.2" x2="350.6" y2="184.7" stroke="#c8301e" stroke-width="1.4"/><line x1="350.6" y1="184.7" x2="354.6" y2="185.6" stroke="#e08c8c" stroke-width="1.4"/><line x1="344.4" y1="183.2" x2="344.5" y2="175.3" stroke="#c8301e" stroke-width="1.4"/><line x1="344.5" y1="175.3" x2="344.6" y2="169.7" stroke="#e08c8c" stroke-width="1.4"/><line x1="344.4" y1="183.2" x2="337.1" y2="185" stroke="#c8301e" stroke-width="1.4"/><line x1="337.1" y1="185" x2="332" y2="186.2" stroke="#e08c8c" stroke-width="1.4"/><line x1="437" y1="182.5" x2="440.9" y2="189.3" stroke="#c8301e" stroke-width="1.4"/><line x1="440.9" y1="189.3" x2="443.6" y2="194.1" stroke="#e08c8c" stroke-width="1.4"/><line x1="437" y1="182.5" x2="428.9" y2="183.6" stroke="#c8301e" stroke-width="1.4"/><line x1="428.9" y1="183.6" x2="423.2" y2="184.3" stroke="#e08c8c" stroke-width="1.4"/><line x1="437" y1="182.5" x2="439.4" y2="176" stroke="#c8301e" stroke-width="1.4"/><line x1="439.4" y1="176" x2="440.9" y2="171.8" stroke="#e08c8c" stroke-width="1.4"/><line x1="437" y1="182.5" x2="440.5" y2="179.5" stroke="#c8301e" stroke-width="1.4"/><line x1="440.5" y1="179.5" x2="440.3" y2="179.7" stroke="#e08c8c" stroke-width="1.4"/><line x1="439.5" y1="115" x2="442.6" y2="122.2" stroke="#c8301e" stroke-width="1.4"/><line x1="442.6" y1="122.2" x2="444.8" y2="127.2" stroke="#e08c8c" stroke-width="1.4"/><line x1="439.5" y1="115" x2="433.8" y2="112.2" stroke="#c8301e" stroke-width="1.4"/><line x1="433.8" y1="112.2" x2="430.3" y2="110.4" stroke="#e08c8c" stroke-width="1.4"/><line x1="439.5" y1="115" x2="445.5" y2="109.5" stroke="#c8301e" stroke-width="1.4"/><line x1="445.5" y1="109.5" x2="449.8" y2="105.6" stroke="#e08c8c" stroke-width="1.4"/><line x1="439.5" y1="115" x2="435.1" y2="116.2" stroke="#c8301e" stroke-width="1.4"/><line x1="435.1" y1="116.2" x2="433.1" y2="116.7" stroke="#e08c8c" stroke-width="1.4"/><line x1="446.5" y1="107.2" x2="453.8" y2="109.2" stroke="#c8301e" stroke-width="1.4"/><line x1="453.8" y1="109.2" x2="458.8" y2="110.6" stroke="#e08c8c" stroke-width="1.4"/><line x1="446.5" y1="107.2" x2="440.5" y2="106.1" stroke="#c8301e" stroke-width="1.4"/><line x1="440.5" y1="106.1" x2="436.9" y2="105.4" stroke="#e08c8c" stroke-width="1.4"/><line x1="446.5" y1="107.2" x2="447.4" y2="100.1" stroke="#c8301e" stroke-width="1.4"/><line x1="447.4" y1="100.1" x2="447.9" y2="95.3" stroke="#e08c8c" stroke-width="1.4"/><line x1="446.5" y1="107.2" x2="444" y2="113.4" stroke="#c8301e" stroke-width="1.4"/><line x1="444" y1="113.4" x2="442.4" y2="117.4" stroke="#e08c8c" stroke-width="1.4"/><line x1="456.5" y1="112.9" x2="450.5" y2="111.7" stroke="#c8301e" stroke-width="1.4"/><line x1="450.5" y1="111.7" x2="446.9" y2="110.9" stroke="#e08c8c" stroke-width="1.4"/><line x1="456.5" y1="112.9" x2="458.4" y2="120.8" stroke="#c8301e" stroke-width="1.4"/><line x1="458.4" y1="120.8" x2="459.8" y2="126.5" stroke="#e08c8c" stroke-width="1.4"/><line x1="456.5" y1="112.9" x2="463.2" y2="108.6" stroke="#c8301e" stroke-width="1.4"/><line x1="463.2" y1="108.6" x2="468" y2="105.5" stroke="#e08c8c" stroke-width="1.4"/><line x1="456.5" y1="112.9" x2="453" y2="109.9" stroke="#c8301e" stroke-width="1.4"/><line x1="453" y1="109.9" x2="451.4" y2="108.6" stroke="#e08c8c" stroke-width="1.4"/><line x1="491.6" y1="114.4" x2="498.5" y2="112.2" stroke="#c8301e" stroke-width="1.4"/><line x1="498.5" y1="112.2" x2="503.3" y2="110.7" stroke="#e08c8c" stroke-width="1.4"/><line x1="491.6" y1="114.4" x2="486.2" y2="118.2" stroke="#c8301e" stroke-width="1.4"/><line x1="486.2" y1="118.2" x2="482.8" y2="120.6" stroke="#e08c8c" stroke-width="1.4"/><line x1="491.6" y1="114.4" x2="493.6" y2="120" stroke="#c8301e" stroke-width="1.4"/><line x1="493.6" y1="120" x2="494.9" y2="123.3" stroke="#e08c8c" stroke-width="1.4"/><line x1="491.6" y1="114.4" x2="488" y2="107.7" stroke="#c8301e" stroke-width="1.4"/><line x1="488" y1="107.7" x2="485.5" y2="103" stroke="#e08c8c" stroke-width="1.4"/><line x1="515.3" y1="105.3" x2="515.8" y2="97.2" stroke="#c8301e" stroke-width="1.4"/><line x1="515.8" y1="97.2" x2="516.1" y2="91.4" stroke="#e08c8c" stroke-width="1.4"/><line x1="515.3" y1="105.3" x2="507.5" y2="107.6" stroke="#c8301e" stroke-width="1.4"/><line x1="507.5" y1="107.6" x2="501.9" y2="109.2" stroke="#e08c8c" stroke-width="1.4"/><line x1="515.3" y1="105.3" x2="519.2" y2="107.7" stroke="#c8301e" stroke-width="1.4"/><line x1="519.2" y1="107.7" x2="521.1" y2="108.9" stroke="#e08c8c" stroke-width="1.4"/><line x1="515.3" y1="105.3" x2="519.6" y2="109.2" stroke="#c8301e" stroke-width="1.4"/><line x1="519.6" y1="109.2" x2="522.1" y2="111.6" stroke="#e08c8c" stroke-width="1.4"/><line x1="542.6" y1="111.1" x2="538.3" y2="117" stroke="#c8301e" stroke-width="1.4"/><line x1="538.3" y1="117" x2="535.4" y2="120.9" stroke="#e08c8c" stroke-width="1.4"/><line x1="542.6" y1="111.1" x2="550.6" y2="112.7" stroke="#c8301e" stroke-width="1.4"/><line x1="550.6" y1="112.7" x2="556.3" y2="113.8" stroke="#e08c8c" stroke-width="1.4"/><line x1="542.6" y1="111.1" x2="538" y2="111.1" stroke="#c8301e" stroke-width="1.4"/><line x1="538" y1="111.1" x2="538.8" y2="111.1" stroke="#e08c8c" stroke-width="1.4"/><line x1="542.6" y1="111.1" x2="541" y2="103.7" stroke="#c8301e" stroke-width="1.4"/><line x1="541" y1="103.7" x2="539.9" y2="98.6" stroke="#e08c8c" stroke-width="1.4"/><line x1="451.5" y1="133" x2="456.2" y2="127.7" stroke="#c8301e" stroke-width="1.4"/><line x1="456.2" y1="127.7" x2="459.4" y2="124.2" stroke="#e08c8c" stroke-width="1.4"/><line x1="451.5" y1="133" x2="454.9" y2="140.4" stroke="#c8301e" stroke-width="1.4"/><line x1="454.9" y1="140.4" x2="457.3" y2="145.7" stroke="#e08c8c" stroke-width="1.4"/><line x1="451.5" y1="133" x2="443.9" y2="133.4" stroke="#c8301e" stroke-width="1.4"/><line x1="443.9" y1="133.4" x2="438.6" y2="133.6" stroke="#e08c8c" stroke-width="1.4"/><line x1="451.5" y1="133" x2="450.7" y2="128.5" stroke="#c8301e" stroke-width="1.4"/><line x1="450.7" y1="128.5" x2="450.7" y2="128.4" stroke="#e08c8c" stroke-width="1.4"/><line x1="460.8" y1="133" x2="465.3" y2="137.3" stroke="#c8301e" stroke-width="1.4"/><line x1="465.3" y1="137.3" x2="468.1" y2="140" stroke="#e08c8c" stroke-width="1.4"/><line x1="460.8" y1="133" x2="453.6" y2="130.5" stroke="#c8301e" stroke-width="1.4"/><line x1="453.6" y1="130.5" x2="448.6" y2="128.8" stroke="#e08c8c" stroke-width="1.4"/><line x1="460.8" y1="133" x2="459.3" y2="138.3" stroke="#c8301e" stroke-width="1.4"/><line x1="459.3" y1="138.3" x2="458.4" y2="141.4" stroke="#e08c8c" stroke-width="1.4"/><line x1="460.8" y1="133" x2="465.1" y2="126.4" stroke="#c8301e" stroke-width="1.4"/><line x1="465.1" y1="126.4" x2="468.1" y2="121.8" stroke="#e08c8c" stroke-width="1.4"/><line x1="502.8" y1="133.5" x2="507.5" y2="140.1" stroke="#c8301e" stroke-width="1.4"/><line x1="507.5" y1="140.1" x2="510.9" y2="144.9" stroke="#e08c8c" stroke-width="1.4"/><line x1="502.8" y1="133.5" x2="505.5" y2="128.8" stroke="#c8301e" stroke-width="1.4"/><line x1="505.5" y1="128.8" x2="507" y2="126.1" stroke="#e08c8c" stroke-width="1.4"/><line x1="502.8" y1="133.5" x2="503.5" y2="128.4" stroke="#c8301e" stroke-width="1.4"/><line x1="503.5" y1="128.4" x2="503.9" y2="125.7" stroke="#e08c8c" stroke-width="1.4"/><line x1="502.8" y1="133.5" x2="495" y2="135.8" stroke="#c8301e" stroke-width="1.4"/><line x1="495" y1="135.8" x2="489.5" y2="137.4" stroke="#e08c8c" stroke-width="1.4"/><line x1="510.6" y1="135.9" x2="515" y2="132.9" stroke="#c8301e" stroke-width="1.4"/><line x1="515" y1="132.9" x2="517.4" y2="131.3" stroke="#e08c8c" stroke-width="1.4"/><line x1="510.6" y1="135.9" x2="502.5" y2="135.4" stroke="#c8301e" stroke-width="1.4"/><line x1="502.5" y1="135.4" x2="496.8" y2="135.1" stroke="#e08c8c" stroke-width="1.4"/><line x1="510.6" y1="135.9" x2="512.8" y2="130.9" stroke="#c8301e" stroke-width="1.4"/><line x1="512.8" y1="130.9" x2="514.1" y2="128" stroke="#e08c8c" stroke-width="1.4"/><line x1="510.6" y1="135.9" x2="512.7" y2="143.7" stroke="#c8301e" stroke-width="1.4"/><line x1="512.7" y1="143.7" x2="514.1" y2="149.2" stroke="#e08c8c" stroke-width="1.4"/><line x1="515.3" y1="151.7" x2="522.8" y2="155" stroke="#c8301e" stroke-width="1.4"/><line x1="522.8" y1="155" x2="528.1" y2="157.3" stroke="#e08c8c" stroke-width="1.4"/><line x1="515.3" y1="151.7" x2="515.8" y2="144.6" stroke="#c8301e" stroke-width="1.4"/><line x1="515.8" y1="144.6" x2="516.1" y2="139.8" stroke="#e08c8c" stroke-width="1.4"/><line x1="515.3" y1="151.7" x2="511.3" y2="149.5" stroke="#c8301e" stroke-width="1.4"/><line x1="511.3" y1="149.5" x2="510.2" y2="148.9" stroke="#e08c8c" stroke-width="1.4"/><line x1="515.3" y1="151.7" x2="510.3" y2="157.1" stroke="#c8301e" stroke-width="1.4"/><line x1="510.3" y1="157.1" x2="506.9" y2="160.7" stroke="#e08c8c" stroke-width="1.4"/><line x1="466.5" y1="158.1" x2="467.9" y2="165.8" stroke="#c8301e" stroke-width="1.4"/><line x1="467.9" y1="165.8" x2="468.8" y2="171.3" stroke="#e08c8c" stroke-width="1.4"/><line x1="466.5" y1="158.1" x2="471.3" y2="152.8" stroke="#c8301e" stroke-width="1.4"/><line x1="471.3" y1="152.8" x2="474.4" y2="149.3" stroke="#e08c8c" stroke-width="1.4"/><line x1="466.5" y1="158.1" x2="458.6" y2="156.2" stroke="#c8301e" stroke-width="1.4"/><line x1="458.6" y1="156.2" x2="453" y2="154.9" stroke="#e08c8c" stroke-width="1.4"/><line x1="466.5" y1="158.1" x2="470.8" y2="156.5" stroke="#c8301e" stroke-width="1.4"/><line x1="470.8" y1="156.5" x2="469.8" y2="156.9" stroke="#e08c8c" stroke-width="1.4"/><line x1="477.3" y1="168.2" x2="472.8" y2="167.3" stroke="#c8301e" stroke-width="1.4"/><line x1="472.8" y1="167.3" x2="471.2" y2="166.9" stroke="#e08c8c" stroke-width="1.4"/><line x1="477.3" y1="168.2" x2="485.3" y2="166.4" stroke="#c8301e" stroke-width="1.4"/><line x1="485.3" y1="166.4" x2="490.9" y2="165.1" stroke="#e08c8c" stroke-width="1.4"/><line x1="477.3" y1="168.2" x2="476.4" y2="175.9" stroke="#c8301e" stroke-width="1.4"/><line x1="476.4" y1="175.9" x2="475.8" y2="181.3" stroke="#e08c8c" stroke-width="1.4"/><line x1="477.3" y1="168.2" x2="473.6" y2="162.8" stroke="#c8301e" stroke-width="1.4"/><line x1="473.6" y1="162.8" x2="471.3" y2="159.4" stroke="#e08c8c" stroke-width="1.4"/><line x1="536.8" y1="171.8" x2="542.1" y2="177.3" stroke="#c8301e" stroke-width="1.4"/><line x1="542.1" y1="177.3" x2="545.8" y2="181.2" stroke="#e08c8c" stroke-width="1.4"/><line x1="536.8" y1="171.8" x2="536.5" y2="176.4" stroke="#c8301e" stroke-width="1.4"/><line x1="536.5" y1="176.4" x2="536.7" y2="172.6" stroke="#e08c8c" stroke-width="1.4"/><line x1="536.8" y1="171.8" x2="529.2" y2="173.4" stroke="#c8301e" stroke-width="1.4"/><line x1="529.2" y1="173.4" x2="523.9" y2="174.4" stroke="#e08c8c" stroke-width="1.4"/><line x1="536.8" y1="171.8" x2="539.1" y2="164.2" stroke="#c8301e" stroke-width="1.4"/><line x1="539.1" y1="164.2" x2="540.7" y2="158.9" stroke="#e08c8c" stroke-width="1.4"/><line x1="491.6" y1="187.5" x2="493.4" y2="193.1" stroke="#c8301e" stroke-width="1.4"/><line x1="493.4" y1="193.1" x2="494.5" y2="196.5" stroke="#e08c8c" stroke-width="1.4"/><line x1="491.6" y1="187.5" x2="497.7" y2="188.1" stroke="#c8301e" stroke-width="1.4"/><line x1="497.7" y1="188.1" x2="501.4" y2="188.5" stroke="#e08c8c" stroke-width="1.4"/><line x1="491.6" y1="187.5" x2="491.5" y2="179.8" stroke="#c8301e" stroke-width="1.4"/><line x1="491.5" y1="179.8" x2="491.4" y2="174.4" stroke="#e08c8c" stroke-width="1.4"/><line x1="491.6" y1="187.5" x2="484.2" y2="189.3" stroke="#c8301e" stroke-width="1.4"/><line x1="484.2" y1="189.3" x2="479.1" y2="190.6" stroke="#e08c8c" stroke-width="1.4"/><line x1="459.4" y1="189" x2="464.4" y2="185.8" stroke="#c8301e" stroke-width="1.4"/><line x1="464.4" y1="185.8" x2="467.4" y2="183.8" stroke="#e08c8c" stroke-width="1.4"/><line x1="459.4" y1="189" x2="453.4" y2="193.7" stroke="#c8301e" stroke-width="1.4"/><line x1="453.4" y1="193.7" x2="449.3" y2="197" stroke="#e08c8c" stroke-width="1.4"/><line x1="459.4" y1="189" x2="464.2" y2="193.7" stroke="#c8301e" stroke-width="1.4"/><line x1="464.2" y1="193.7" x2="467.3" y2="196.8" stroke="#e08c8c" stroke-width="1.4"/><line x1="459.4" y1="189" x2="455.9" y2="182.7" stroke="#c8301e" stroke-width="1.4"/><line x1="455.9" y1="182.7" x2="453.6" y2="178.5" stroke="#e08c8c" stroke-width="1.4"/><line x1="520.3" y1="190.8" x2="526.7" y2="195.8" stroke="#c8301e" stroke-width="1.4"/><line x1="526.7" y1="195.8" x2="531.3" y2="199.4" stroke="#e08c8c" stroke-width="1.4"/><line x1="520.3" y1="190.8" x2="521.4" y2="185.6" stroke="#c8301e" stroke-width="1.4"/><line x1="521.4" y1="185.6" x2="521.9" y2="182.6" stroke="#e08c8c" stroke-width="1.4"/><line x1="520.3" y1="190.8" x2="519.7" y2="185.6" stroke="#c8301e" stroke-width="1.4"/><line x1="519.7" y1="185.6" x2="519.4" y2="182.8" stroke="#e08c8c" stroke-width="1.4"/><line x1="520.3" y1="190.8" x2="513.5" y2="195.2" stroke="#c8301e" stroke-width="1.4"/><line x1="513.5" y1="195.2" x2="508.6" y2="198.4" stroke="#e08c8c" stroke-width="1.4"/><line x1="366.2" y1="29.4" x2="362.8" y2="36.7" stroke="#2fd4d8" stroke-width="1.4"/><line x1="362.8" y1="36.7" x2="360.7" y2="41.3" stroke="#e08c8c" stroke-width="1.4"/><line x1="366.2" y1="29.4" x2="365.9" y2="37.1" stroke="#2fd4d8" stroke-width="1.4"/><line x1="365.9" y1="37.1" x2="365.7" y2="41.8" stroke="#e08c8c" stroke-width="1.4"/><line x1="366.2" y1="29.4" x2="360.9" y2="35.2" stroke="#2fd4d8" stroke-width="1.4"/><line x1="360.9" y1="35.2" x2="357.7" y2="38.7" stroke="#e08c8c" stroke-width="1.4"/><line x1="363.4" y1="36.9" x2="354.2" y2="36.7" stroke="#2fd4d8" stroke-width="1.4"/><line x1="354.2" y1="36.7" x2="348.1" y2="36.5" stroke="#e08c8c" stroke-width="1.4"/><line x1="363.4" y1="36.9" x2="371.3" y2="38.5" stroke="#2fd4d8" stroke-width="1.4"/><line x1="371.3" y1="38.5" x2="376.2" y2="39.4" stroke="#e08c8c" stroke-width="1.4"/><line x1="363.4" y1="36.9" x2="364.5" y2="29.1" stroke="#2fd4d8" stroke-width="1.4"/><line x1="364.5" y1="29.1" x2="365.2" y2="24.3" stroke="#e08c8c" stroke-width="1.4"/><line x1="392.9" y1="30.8" x2="385.5" y2="29" stroke="#2fd4d8" stroke-width="1.4"/><line x1="385.5" y1="29" x2="381.2" y2="28" stroke="#e08c8c" stroke-width="1.4"/><line x1="392.9" y1="30.8" x2="400.5" y2="35.7" stroke="#2fd4d8" stroke-width="1.4"/><line x1="400.5" y1="35.7" x2="405.6" y2="39" stroke="#e08c8c" stroke-width="1.4"/><line x1="392.9" y1="30.8" x2="400.4" y2="30.9" stroke="#2fd4d8" stroke-width="1.4"/><line x1="400.4" y1="30.9" x2="404.9" y2="30.9" stroke="#e08c8c" stroke-width="1.4"/><line x1="432" y1="34.4" x2="431.2" y2="43.1" stroke="#2fd4d8" stroke-width="1.4"/><line x1="431.2" y1="43.1" x2="430.7" y2="48.8" stroke="#e08c8c" stroke-width="1.4"/><line x1="432" y1="34.4" x2="432.3" y2="43.3" stroke="#2fd4d8" stroke-width="1.4"/><line x1="432.3" y1="43.3" x2="432.5" y2="49.1" stroke="#e08c8c" stroke-width="1.4"/><line x1="432" y1="34.4" x2="422.9" y2="32.5" stroke="#2fd4d8" stroke-width="1.4"/><line x1="422.9" y1="32.5" x2="416.9" y2="31.3" stroke="#e08c8c" stroke-width="1.4"/><line x1="424.8" y1="45.9" x2="429.6" y2="51.2" stroke="#2fd4d8" stroke-width="1.4"/><line x1="429.6" y1="51.2" x2="432.3" y2="54.2" stroke="#e08c8c" stroke-width="1.4"/><line x1="424.8" y1="45.9" x2="420.6" y2="52.3" stroke="#2fd4d8" stroke-width="1.4"/><line x1="420.6" y1="52.3" x2="418" y2="56.2" stroke="#e08c8c" stroke-width="1.4"/><line x1="424.8" y1="45.9" x2="431.8" y2="44.9" stroke="#2fd4d8" stroke-width="1.4"/><line x1="431.8" y1="44.9" x2="435.7" y2="44.4" stroke="#e08c8c" stroke-width="1.4"/><line x1="340.8" y1="53.1" x2="331.8" y2="53.6" stroke="#2fd4d8" stroke-width="1.4"/><line x1="331.8" y1="53.6" x2="325.8" y2="53.9" stroke="#e08c8c" stroke-width="1.4"/><line x1="340.8" y1="53.1" x2="332.9" y2="53.4" stroke="#2fd4d8" stroke-width="1.4"/><line x1="332.9" y1="53.4" x2="328.1" y2="53.5" stroke="#e08c8c" stroke-width="1.4"/><line x1="340.8" y1="53.1" x2="340.2" y2="62.5" stroke="#2fd4d8" stroke-width="1.4"/><line x1="340.2" y1="62.5" x2="339.8" y2="68.8" stroke="#e08c8c" stroke-width="1.4"/><line x1="369.1" y1="63.1" x2="376.6" y2="56.4" stroke="#2fd4d8" stroke-width="1.4"/><line x1="376.6" y1="56.4" x2="381.8" y2="51.7" stroke="#e08c8c" stroke-width="1.4"/><line x1="369.1" y1="63.1" x2="371" y2="71.7" stroke="#2fd4d8" stroke-width="1.4"/><line x1="371" y1="71.7" x2="372.3" y2="77.2" stroke="#e08c8c" stroke-width="1.4"/><line x1="369.1" y1="63.1" x2="375.7" y2="68.6" stroke="#2fd4d8" stroke-width="1.4"/><line x1="375.7" y1="68.6" x2="380" y2="72.1" stroke="#e08c8c" stroke-width="1.4"/><line x1="349.5" y1="69.3" x2="343.1" y2="69" stroke="#2fd4d8" stroke-width="1.4"/><line x1="343.1" y1="69" x2="339.8" y2="68.8" stroke="#e08c8c" stroke-width="1.4"/><line x1="349.5" y1="69.3" x2="347.3" y2="76.6" stroke="#2fd4d8" stroke-width="1.4"/><line x1="347.3" y1="76.6" x2="346" y2="81" stroke="#e08c8c" stroke-width="1.4"/><line x1="349.5" y1="69.3" x2="351.6" y2="60.8" stroke="#2fd4d8" stroke-width="1.4"/><line x1="351.6" y1="60.8" x2="352.9" y2="55.2" stroke="#e08c8c" stroke-width="1.4"/><line x1="409" y1="74.2" x2="403" y2="71.5" stroke="#2fd4d8" stroke-width="1.4"/><line x1="403" y1="71.5" x2="399.7" y2="70" stroke="#e08c8c" stroke-width="1.4"/><line x1="409" y1="74.2" x2="416.2" y2="77.1" stroke="#2fd4d8" stroke-width="1.4"/><line x1="416.2" y1="77.1" x2="420.6" y2="78.8" stroke="#e08c8c" stroke-width="1.4"/><line x1="409" y1="74.2" x2="401" y2="70.5" stroke="#2fd4d8" stroke-width="1.4"/><line x1="401" y1="70.5" x2="395.8" y2="68" stroke="#e08c8c" stroke-width="1.4"/><line x1="400.4" y1="87.5" x2="398.8" y2="95.7" stroke="#2fd4d8" stroke-width="1.4"/><line x1="398.8" y1="95.7" x2="397.8" y2="101" stroke="#e08c8c" stroke-width="1.4"/><line x1="400.4" y1="87.5" x2="392.9" y2="83.6" stroke="#2fd4d8" stroke-width="1.4"/><line x1="392.9" y1="83.6" x2="388.1" y2="81.1" stroke="#e08c8c" stroke-width="1.4"/><line x1="400.4" y1="87.5" x2="402" y2="97" stroke="#2fd4d8" stroke-width="1.4"/><line x1="402" y1="97" x2="403" y2="103.5" stroke="#e08c8c" stroke-width="1.4"/><line x1="381" y1="91.8" x2="375.4" y2="88.9" stroke="#2fd4d8" stroke-width="1.4"/><line x1="375.4" y1="88.9" x2="372.5" y2="87.5" stroke="#e08c8c" stroke-width="1.4"/><line x1="381" y1="91.8" x2="388.2" y2="91.1" stroke="#2fd4d8" stroke-width="1.4"/><line x1="388.2" y1="91.1" x2="392.3" y2="90.7" stroke="#e08c8c" stroke-width="1.4"/><line x1="381" y1="91.8" x2="385.4" y2="85.2" stroke="#2fd4d8" stroke-width="1.4"/><line x1="385.4" y1="85.2" x2="388.1" y2="81.1" stroke="#e08c8c" stroke-width="1.4"/><line x1="417.6" y1="96.3" x2="408.9" y2="100.6" stroke="#2fd4d8" stroke-width="1.4"/><line x1="408.9" y1="100.6" x2="403" y2="103.5" stroke="#e08c8c" stroke-width="1.4"/><line x1="417.6" y1="96.3" x2="412.1" y2="90.6" stroke="#2fd4d8" stroke-width="1.4"/><line x1="412.1" y1="90.6" x2="408.7" y2="87.1" stroke="#e08c8c" stroke-width="1.4"/><line x1="417.6" y1="96.3" x2="410.3" y2="102" stroke="#2fd4d8" stroke-width="1.4"/><line x1="410.3" y1="102" x2="405.4" y2="105.8" stroke="#e08c8c" stroke-width="1.4"/><line x1="434.8" y1="82.5" x2="435.8" y2="75.4" stroke="#2fd4d8" stroke-width="1.4"/><line x1="435.8" y1="75.4" x2="436.3" y2="71.3" stroke="#e08c8c" stroke-width="1.4"/><line x1="434.8" y1="82.5" x2="426.2" y2="80.3" stroke="#2fd4d8" stroke-width="1.4"/><line x1="426.2" y1="80.3" x2="420.6" y2="78.8" stroke="#e08c8c" stroke-width="1.4"/><line x1="434.8" y1="82.5" x2="440.4" y2="74.8" stroke="#2fd4d8" stroke-width="1.4"/><line x1="440.4" y1="74.8" x2="444.2" y2="69.6" stroke="#e08c8c" stroke-width="1.4"/><line x1="482.3" y1="34.4" x2="479.4" y2="43.3" stroke="#2fd4d8" stroke-width="1.4"/><line x1="479.4" y1="43.3" x2="477.4" y2="49.2" stroke="#e08c8c" stroke-width="1.4"/><line x1="482.3" y1="34.4" x2="483" y2="44.1" stroke="#2fd4d8" stroke-width="1.4"/><line x1="483" y1="44.1" x2="483.5" y2="50.8" stroke="#e08c8c" stroke-width="1.4"/><line x1="482.3" y1="34.4" x2="487.7" y2="29.8" stroke="#2fd4d8" stroke-width="1.4"/><line x1="487.7" y1="29.8" x2="490.8" y2="27.2" stroke="#e08c8c" stroke-width="1.4"/><line x1="509.6" y1="32.3" x2="508.8" y2="41.5" stroke="#2fd4d8" stroke-width="1.4"/><line x1="508.8" y1="41.5" x2="508.3" y2="47.8" stroke="#e08c8c" stroke-width="1.4"/><line x1="509.6" y1="32.3" x2="502.9" y2="38.7" stroke="#2fd4d8" stroke-width="1.4"/><line x1="502.9" y1="38.7" x2="498.4" y2="42.9" stroke="#e08c8c" stroke-width="1.4"/><line x1="509.6" y1="32.3" x2="501.5" y2="34.3" stroke="#2fd4d8" stroke-width="1.4"/><line x1="501.5" y1="34.3" x2="496.4" y2="35.6" stroke="#e08c8c" stroke-width="1.4"/><line x1="542.6" y1="38.7" x2="542.8" y2="30.1" stroke="#2fd4d8" stroke-width="1.4"/><line x1="542.8" y1="30.1" x2="542.9" y2="24.5" stroke="#e08c8c" stroke-width="1.4"/><line x1="542.6" y1="38.7" x2="539.2" y2="45.3" stroke="#2fd4d8" stroke-width="1.4"/><line x1="539.2" y1="45.3" x2="537.1" y2="49.1" stroke="#e08c8c" stroke-width="1.4"/><line x1="542.6" y1="38.7" x2="537.9" y2="31.1" stroke="#2fd4d8" stroke-width="1.4"/><line x1="537.9" y1="31.1" x2="534.9" y2="26.2" stroke="#e08c8c" stroke-width="1.4"/><line x1="493.8" y1="58.1" x2="500.1" y2="57.7" stroke="#2fd4d8" stroke-width="1.4"/><line x1="500.1" y1="57.7" x2="503.3" y2="57.6" stroke="#e08c8c" stroke-width="1.4"/><line x1="493.8" y1="58.1" x2="495.6" y2="65.2" stroke="#2fd4d8" stroke-width="1.4"/><line x1="495.6" y1="65.2" x2="496.6" y2="69.4" stroke="#e08c8c" stroke-width="1.4"/><line x1="493.8" y1="58.1" x2="487.4" y2="53.6" stroke="#2fd4d8" stroke-width="1.4"/><line x1="487.4" y1="53.6" x2="483.5" y2="50.8" stroke="#e08c8c" stroke-width="1.4"/><line x1="508.1" y1="57.4" x2="512.1" y2="52.6" stroke="#2fd4d8" stroke-width="1.4"/><line x1="512.1" y1="52.6" x2="514.1" y2="50.2" stroke="#e08c8c" stroke-width="1.4"/><line x1="508.1" y1="57.4" x2="508.2" y2="51.1" stroke="#2fd4d8" stroke-width="1.4"/><line x1="508.2" y1="51.1" x2="508.3" y2="47.8" stroke="#e08c8c" stroke-width="1.4"/><line x1="508.1" y1="57.4" x2="509.8" y2="66.7" stroke="#2fd4d8" stroke-width="1.4"/><line x1="509.8" y1="66.7" x2="511" y2="73" stroke="#e08c8c" stroke-width="1.4"/><line x1="456.5" y1="75.3" x2="460.4" y2="80.1" stroke="#2fd4d8" stroke-width="1.4"/><line x1="460.4" y1="80.1" x2="462.4" y2="82.5" stroke="#e08c8c" stroke-width="1.4"/><line x1="456.5" y1="75.3" x2="451.3" y2="71.6" stroke="#2fd4d8" stroke-width="1.4"/><line x1="451.3" y1="71.6" x2="448.5" y2="69.6" stroke="#e08c8c" stroke-width="1.4"/><line x1="456.5" y1="75.3" x2="449" y2="71.8" stroke="#2fd4d8" stroke-width="1.4"/><line x1="449" y1="71.8" x2="444.2" y2="69.6" stroke="#e08c8c" stroke-width="1.4"/><line x1="496" y1="84.6" x2="501.4" y2="88.2" stroke="#2fd4d8" stroke-width="1.4"/><line x1="501.4" y1="88.2" x2="504.2" y2="90.2" stroke="#e08c8c" stroke-width="1.4"/><line x1="496" y1="84.6" x2="503" y2="87.4" stroke="#2fd4d8" stroke-width="1.4"/><line x1="503" y1="87.4" x2="507.3" y2="89.1" stroke="#e08c8c" stroke-width="1.4"/><line x1="496" y1="84.6" x2="487.7" y2="88" stroke="#2fd4d8" stroke-width="1.4"/><line x1="487.7" y1="88" x2="482.2" y2="90.2" stroke="#e08c8c" stroke-width="1.4"/><line x1="525.8" y1="78.2" x2="521.4" y2="73.9" stroke="#2fd4d8" stroke-width="1.4"/><line x1="521.4" y1="73.9" x2="519.3" y2="71.8" stroke="#e08c8c" stroke-width="1.4"/><line x1="525.8" y1="78.2" x2="523" y2="83.8" stroke="#2fd4d8" stroke-width="1.4"/><line x1="523" y1="83.8" x2="521.5" y2="86.6" stroke="#e08c8c" stroke-width="1.4"/><line x1="525.8" y1="78.2" x2="517" y2="75.1" stroke="#2fd4d8" stroke-width="1.4"/><line x1="517" y1="75.1" x2="511" y2="73" stroke="#e08c8c" stroke-width="1.4"/><line x1="470.1" y1="94" x2="472.4" y2="100.1" stroke="#2fd4d8" stroke-width="1.4"/><line x1="472.4" y1="100.1" x2="473.6" y2="103.3" stroke="#e08c8c" stroke-width="1.4"/><line x1="470.1" y1="94" x2="468.8" y2="101.3" stroke="#2fd4d8" stroke-width="1.4"/><line x1="468.8" y1="101.3" x2="468" y2="105.5" stroke="#e08c8c" stroke-width="1.4"/><line x1="470.1" y1="94" x2="477.6" y2="91.6" stroke="#2fd4d8" stroke-width="1.4"/><line x1="477.6" y1="91.6" x2="482.2" y2="90.2" stroke="#e08c8c" stroke-width="1.4"/><line x1="353" y1="104.3" x2="358.2" y2="97.4" stroke="#2fd4d8" stroke-width="1.4"/><line x1="358.2" y1="97.4" x2="361.6" y2="93" stroke="#e08c8c" stroke-width="1.4"/><line x1="353" y1="104.3" x2="358.7" y2="110.1" stroke="#2fd4d8" stroke-width="1.4"/><line x1="358.7" y1="110.1" x2="362.3" y2="113.8" stroke="#e08c8c" stroke-width="1.4"/><line x1="353" y1="104.3" x2="353.6" y2="111.8" stroke="#2fd4d8" stroke-width="1.4"/><line x1="353.6" y1="111.8" x2="353.9" y2="116.2" stroke="#e08c8c" stroke-width="1.4"/><line x1="375.3" y1="106.5" x2="375.7" y2="100.4" stroke="#2fd4d8" stroke-width="1.4"/><line x1="375.7" y1="100.4" x2="375.9" y2="97.4" stroke="#e08c8c" stroke-width="1.4"/><line x1="375.3" y1="106.5" x2="370.4" y2="111.3" stroke="#2fd4d8" stroke-width="1.4"/><line x1="370.4" y1="111.3" x2="367.7" y2="113.9" stroke="#e08c8c" stroke-width="1.4"/><line x1="375.3" y1="106.5" x2="377.9" y2="99.7" stroke="#2fd4d8" stroke-width="1.4"/><line x1="377.9" y1="99.7" x2="379.4" y2="95.7" stroke="#e08c8c" stroke-width="1.4"/><line x1="427.6" y1="115.8" x2="424.9" y2="121.7" stroke="#2fd4d8" stroke-width="1.4"/><line x1="424.9" y1="121.7" x2="423.4" y2="124.8" stroke="#e08c8c" stroke-width="1.4"/><line x1="427.6" y1="115.8" x2="433.3" y2="109.5" stroke="#2fd4d8" stroke-width="1.4"/><line x1="433.3" y1="109.5" x2="436.9" y2="105.4" stroke="#e08c8c" stroke-width="1.4"/><line x1="427.6" y1="115.8" x2="425" y2="107.1" stroke="#2fd4d8" stroke-width="1.4"/><line x1="425" y1="107.1" x2="423.2" y2="101.2" stroke="#e08c8c" stroke-width="1.4"/><line x1="372" y1="129.7" x2="374" y2="135.8" stroke="#2fd4d8" stroke-width="1.4"/><line x1="374" y1="135.8" x2="375" y2="139.1" stroke="#e08c8c" stroke-width="1.4"/><line x1="372" y1="129.7" x2="378.2" y2="132.6" stroke="#2fd4d8" stroke-width="1.4"/><line x1="378.2" y1="132.6" x2="381.7" y2="134.2" stroke="#e08c8c" stroke-width="1.4"/><line x1="372" y1="129.7" x2="364" y2="132.4" stroke="#2fd4d8" stroke-width="1.4"/><line x1="364" y1="132.4" x2="358.9" y2="134.2" stroke="#e08c8c" stroke-width="1.4"/><line x1="396.8" y1="123.7" x2="398.8" y2="117.4" stroke="#2fd4d8" stroke-width="1.4"/><line x1="398.8" y1="117.4" x2="399.9" y2="114" stroke="#e08c8c" stroke-width="1.4"/><line x1="396.8" y1="123.7" x2="394.4" y2="130.9" stroke="#2fd4d8" stroke-width="1.4"/><line x1="394.4" y1="130.9" x2="393" y2="135.1" stroke="#e08c8c" stroke-width="1.4"/><line x1="396.8" y1="123.7" x2="401.1" y2="130" stroke="#2fd4d8" stroke-width="1.4"/><line x1="401.1" y1="130" x2="403.6" y2="133.9" stroke="#e08c8c" stroke-width="1.4"/><line x1="358.8" y1="141.2" x2="358.3" y2="147.3" stroke="#2fd4d8" stroke-width="1.4"/><line x1="358.3" y1="147.3" x2="358.1" y2="150.5" stroke="#e08c8c" stroke-width="1.4"/><line x1="358.8" y1="141.2" x2="363.3" y2="147.6" stroke="#2fd4d8" stroke-width="1.4"/><line x1="363.3" y1="147.6" x2="366" y2="151.5" stroke="#e08c8c" stroke-width="1.4"/><line x1="358.8" y1="141.2" x2="365.1" y2="146.8" stroke="#2fd4d8" stroke-width="1.4"/><line x1="365.1" y1="146.8" x2="369.2" y2="150.4" stroke="#e08c8c" stroke-width="1.4"/><line x1="340.8" y1="149.2" x2="351" y2="149.9" stroke="#2fd4d8" stroke-width="1.4"/><line x1="351" y1="149.9" x2="358.1" y2="150.5" stroke="#e08c8c" stroke-width="1.4"/><line x1="340.8" y1="149.2" x2="333.4" y2="148.2" stroke="#2fd4d8" stroke-width="1.4"/><line x1="333.4" y1="148.2" x2="329.1" y2="147.6" stroke="#e08c8c" stroke-width="1.4"/><line x1="340.8" y1="149.2" x2="344.3" y2="158" stroke="#2fd4d8" stroke-width="1.4"/><line x1="344.3" y1="158" x2="346.7" y2="163.9" stroke="#e08c8c" stroke-width="1.4"/><line x1="401.8" y1="140.2" x2="407.8" y2="141.7" stroke="#2fd4d8" stroke-width="1.4"/><line x1="407.8" y1="141.7" x2="410.8" y2="142.4" stroke="#e08c8c" stroke-width="1.4"/><line x1="401.8" y1="140.2" x2="396.1" y2="136.9" stroke="#2fd4d8" stroke-width="1.4"/><line x1="396.1" y1="136.9" x2="393" y2="135.1" stroke="#e08c8c" stroke-width="1.4"/><line x1="401.8" y1="140.2" x2="405.1" y2="134.3" stroke="#2fd4d8" stroke-width="1.4"/><line x1="405.1" y1="134.3" x2="406.9" y2="131" stroke="#e08c8c" stroke-width="1.4"/><line x1="362.4" y1="155.3" x2="368.2" y2="152.1" stroke="#2fd4d8" stroke-width="1.4"/><line x1="368.2" y1="152.1" x2="371.4" y2="150.4" stroke="#e08c8c" stroke-width="1.4"/><line x1="362.4" y1="155.3" x2="370" y2="160.9" stroke="#2fd4d8" stroke-width="1.4"/><line x1="370" y1="160.9" x2="375.1" y2="164.7" stroke="#e08c8c" stroke-width="1.4"/><line x1="362.4" y1="155.3" x2="355.3" y2="161.6" stroke="#2fd4d8" stroke-width="1.4"/><line x1="355.3" y1="161.6" x2="350.5" y2="165.9" stroke="#e08c8c" stroke-width="1.4"/><line x1="423.3" y1="154.1" x2="417.4" y2="149.1" stroke="#2fd4d8" stroke-width="1.4"/><line x1="417.4" y1="149.1" x2="413.8" y2="146.1" stroke="#e08c8c" stroke-width="1.4"/><line x1="423.3" y1="154.1" x2="429" y2="146.4" stroke="#2fd4d8" stroke-width="1.4"/><line x1="429" y1="146.4" x2="432.8" y2="141.1" stroke="#e08c8c" stroke-width="1.4"/><line x1="423.3" y1="154.1" x2="415.9" y2="147.2" stroke="#2fd4d8" stroke-width="1.4"/><line x1="415.9" y1="147.2" x2="410.8" y2="142.4" stroke="#e08c8c" stroke-width="1.4"/><line x1="373.1" y1="168.9" x2="369" y2="164.2" stroke="#2fd4d8" stroke-width="1.4"/><line x1="369" y1="164.2" x2="366.8" y2="161.7" stroke="#e08c8c" stroke-width="1.4"/><line x1="373.1" y1="168.9" x2="372.2" y2="160.8" stroke="#2fd4d8" stroke-width="1.4"/><line x1="372.2" y1="160.8" x2="371.7" y2="155.8" stroke="#e08c8c" stroke-width="1.4"/><line x1="373.1" y1="168.9" x2="368.4" y2="163.3" stroke="#2fd4d8" stroke-width="1.4"/><line x1="368.4" y1="163.3" x2="365.6" y2="160.1" stroke="#e08c8c" stroke-width="1.4"/><line x1="342.3" y1="172.5" x2="345.2" y2="166.9" stroke="#2fd4d8" stroke-width="1.4"/><line x1="345.2" y1="166.9" x2="346.7" y2="163.9" stroke="#e08c8c" stroke-width="1.4"/><line x1="342.3" y1="172.5" x2="347.6" y2="168.2" stroke="#2fd4d8" stroke-width="1.4"/><line x1="347.6" y1="168.2" x2="350.5" y2="165.9" stroke="#e08c8c" stroke-width="1.4"/><line x1="342.3" y1="172.5" x2="336.2" y2="180.6" stroke="#2fd4d8" stroke-width="1.4"/><line x1="336.2" y1="180.6" x2="332" y2="186.2" stroke="#e08c8c" stroke-width="1.4"/><line x1="480.2" y1="118" x2="472.7" y2="120.4" stroke="#2fd4d8" stroke-width="1.4"/><line x1="472.7" y1="120.4" x2="468.1" y2="121.8" stroke="#e08c8c" stroke-width="1.4"/><line x1="480.2" y1="118" x2="489" y2="121.2" stroke="#2fd4d8" stroke-width="1.4"/><line x1="489" y1="121.2" x2="494.9" y2="123.3" stroke="#e08c8c" stroke-width="1.4"/><line x1="480.2" y1="118" x2="483.4" y2="109.1" stroke="#2fd4d8" stroke-width="1.4"/><line x1="483.4" y1="109.1" x2="485.5" y2="103" stroke="#e08c8c" stroke-width="1.4"/><line x1="488.1" y1="116.5" x2="492.6" y2="121" stroke="#2fd4d8" stroke-width="1.4"/><line x1="492.6" y1="121" x2="494.9" y2="123.3" stroke="#e08c8c" stroke-width="1.4"/><line x1="488.1" y1="116.5" x2="486.5" y2="108.3" stroke="#2fd4d8" stroke-width="1.4"/><line x1="486.5" y1="108.3" x2="485.5" y2="103" stroke="#e08c8c" stroke-width="1.4"/><line x1="488.1" y1="116.5" x2="495.5" y2="111.1" stroke="#2fd4d8" stroke-width="1.4"/><line x1="495.5" y1="111.1" x2="500.5" y2="107.4" stroke="#e08c8c" stroke-width="1.4"/><line x1="526.1" y1="127.7" x2="520.3" y2="130.1" stroke="#2fd4d8" stroke-width="1.4"/><line x1="520.3" y1="130.1" x2="517.4" y2="131.3" stroke="#e08c8c" stroke-width="1.4"/><line x1="526.1" y1="127.7" x2="532" y2="123.4" stroke="#2fd4d8" stroke-width="1.4"/><line x1="532" y1="123.4" x2="535.4" y2="120.9" stroke="#e08c8c" stroke-width="1.4"/><line x1="526.1" y1="127.7" x2="518.6" y2="127.9" stroke="#2fd4d8" stroke-width="1.4"/><line x1="518.6" y1="127.9" x2="514.1" y2="128" stroke="#e08c8c" stroke-width="1.4"/><line x1="482.3" y1="134.5" x2="482.6" y2="126" stroke="#2fd4d8" stroke-width="1.4"/><line x1="482.6" y1="126" x2="482.8" y2="120.6" stroke="#e08c8c" stroke-width="1.4"/><line x1="482.3" y1="134.5" x2="491.1" y2="134.8" stroke="#2fd4d8" stroke-width="1.4"/><line x1="491.1" y1="134.8" x2="496.8" y2="135.1" stroke="#e08c8c" stroke-width="1.4"/><line x1="482.3" y1="134.5" x2="473.8" y2="137.8" stroke="#2fd4d8" stroke-width="1.4"/><line x1="473.8" y1="137.8" x2="468.1" y2="140" stroke="#e08c8c" stroke-width="1.4"/><line x1="467.3" y1="141.6" x2="471.9" y2="146.6" stroke="#2fd4d8" stroke-width="1.4"/><line x1="471.9" y1="146.6" x2="474.4" y2="149.3" stroke="#e08c8c" stroke-width="1.4"/><line x1="467.3" y1="141.6" x2="460.9" y2="144.3" stroke="#2fd4d8" stroke-width="1.4"/><line x1="460.9" y1="144.3" x2="457.3" y2="145.7" stroke="#e08c8c" stroke-width="1.4"/><line x1="467.3" y1="141.6" x2="468.8" y2="150.7" stroke="#2fd4d8" stroke-width="1.4"/><line x1="468.8" y1="150.7" x2="469.8" y2="156.9" stroke="#e08c8c" stroke-width="1.4"/><line x1="442.9" y1="143.8" x2="436.4" y2="142" stroke="#2fd4d8" stroke-width="1.4"/><line x1="436.4" y1="142" x2="432.8" y2="141.1" stroke="#e08c8c" stroke-width="1.4"/><line x1="442.9" y1="143.8" x2="440.2" y2="137.3" stroke="#2fd4d8" stroke-width="1.4"/><line x1="440.2" y1="137.3" x2="438.6" y2="133.6" stroke="#e08c8c" stroke-width="1.4"/><line x1="442.9" y1="143.8" x2="451.6" y2="145" stroke="#2fd4d8" stroke-width="1.4"/><line x1="451.6" y1="145" x2="457.3" y2="145.7" stroke="#e08c8c" stroke-width="1.4"/><line x1="444.3" y1="158.1" x2="450.1" y2="156" stroke="#2fd4d8" stroke-width="1.4"/><line x1="450.1" y1="156" x2="453" y2="154.9" stroke="#e08c8c" stroke-width="1.4"/><line x1="444.3" y1="158.1" x2="442.3" y2="166.4" stroke="#2fd4d8" stroke-width="1.4"/><line x1="442.3" y1="166.4" x2="440.9" y2="171.8" stroke="#e08c8c" stroke-width="1.4"/><line x1="444.3" y1="158.1" x2="438.9" y2="162.7" stroke="#2fd4d8" stroke-width="1.4"/><line x1="438.9" y1="162.7" x2="435.8" y2="165.3" stroke="#e08c8c" stroke-width="1.4"/><line x1="448.6" y1="166.7" x2="443.5" y2="170.1" stroke="#2fd4d8" stroke-width="1.4"/><line x1="443.5" y1="170.1" x2="440.9" y2="171.8" stroke="#e08c8c" stroke-width="1.4"/><line x1="448.6" y1="166.7" x2="451.3" y2="159.4" stroke="#2fd4d8" stroke-width="1.4"/><line x1="451.3" y1="159.4" x2="453" y2="154.9" stroke="#e08c8c" stroke-width="1.4"/><line x1="448.6" y1="166.7" x2="451.7" y2="174" stroke="#2fd4d8" stroke-width="1.4"/><line x1="451.7" y1="174" x2="453.6" y2="178.5" stroke="#e08c8c" stroke-width="1.4"/><line x1="494.5" y1="159.6" x2="502.2" y2="160.3" stroke="#2fd4d8" stroke-width="1.4"/><line x1="502.2" y1="160.3" x2="506.9" y2="160.7" stroke="#e08c8c" stroke-width="1.4"/><line x1="494.5" y1="159.6" x2="492.6" y2="168.5" stroke="#2fd4d8" stroke-width="1.4"/><line x1="492.6" y1="168.5" x2="491.4" y2="174.4" stroke="#e08c8c" stroke-width="1.4"/><line x1="494.5" y1="159.6" x2="496.7" y2="151.1" stroke="#2fd4d8" stroke-width="1.4"/><line x1="496.7" y1="151.1" x2="498.2" y2="145.6" stroke="#e08c8c" stroke-width="1.4"/><line x1="490.2" y1="158.1" x2="495" y2="150.6" stroke="#2fd4d8" stroke-width="1.4"/><line x1="495" y1="150.6" x2="498.2" y2="145.6" stroke="#e08c8c" stroke-width="1.4"/><line x1="490.2" y1="158.1" x2="490.9" y2="167.8" stroke="#2fd4d8" stroke-width="1.4"/><line x1="490.9" y1="167.8" x2="491.4" y2="174.4" stroke="#e08c8c" stroke-width="1.4"/><line x1="490.2" y1="158.1" x2="500" y2="159.7" stroke="#2fd4d8" stroke-width="1.4"/><line x1="500" y1="159.7" x2="506.9" y2="160.7" stroke="#e08c8c" stroke-width="1.4"/><line x1="517.5" y1="158.1" x2="515.3" y2="152.2" stroke="#2fd4d8" stroke-width="1.4"/><line x1="515.3" y1="152.2" x2="514.1" y2="149.2" stroke="#e08c8c" stroke-width="1.4"/><line x1="517.5" y1="158.1" x2="524.3" y2="157.6" stroke="#2fd4d8" stroke-width="1.4"/><line x1="524.3" y1="157.6" x2="528.1" y2="157.3" stroke="#e08c8c" stroke-width="1.4"/><line x1="517.5" y1="158.1" x2="510.7" y2="159.8" stroke="#2fd4d8" stroke-width="1.4"/><line x1="510.7" y1="159.8" x2="506.9" y2="160.7" stroke="#e08c8c" stroke-width="1.4"/><line x1="457.2" y1="179.6" x2="463.7" y2="182.3" stroke="#2fd4d8" stroke-width="1.4"/><line x1="463.7" y1="182.3" x2="467.4" y2="183.8" stroke="#e08c8c" stroke-width="1.4"/><line x1="457.2" y1="179.6" x2="464.2" y2="174.5" stroke="#2fd4d8" stroke-width="1.4"/><line x1="464.2" y1="174.5" x2="468.8" y2="171.3" stroke="#e08c8c" stroke-width="1.4"/><line x1="457.2" y1="179.6" x2="447.2" y2="179.7" stroke="#2fd4d8" stroke-width="1.4"/><line x1="447.2" y1="179.7" x2="440.3" y2="179.7" stroke="#e08c8c" stroke-width="1.4"/><line x1="518.2" y1="181.1" x2="512.7" y2="175.1" stroke="#2fd4d8" stroke-width="1.4"/><line x1="512.7" y1="175.1" x2="509.2" y2="171.3" stroke="#e08c8c" stroke-width="1.4"/><line x1="518.2" y1="181.1" x2="511.8" y2="176.2" stroke="#2fd4d8" stroke-width="1.4"/><line x1="511.8" y1="176.2" x2="507.8" y2="173.2" stroke="#e08c8c" stroke-width="1.4"/><line x1="518.2" y1="181.1" x2="525" y2="176.7" stroke="#2fd4d8" stroke-width="1.4"/><line x1="525" y1="176.7" x2="529.2" y2="173.9" stroke="#e08c8c" stroke-width="1.4"/><line x1="497.4" y1="184.7" x2="493.6" y2="178.3" stroke="#2fd4d8" stroke-width="1.4"/><line x1="493.6" y1="178.3" x2="491.4" y2="174.4" stroke="#e08c8c" stroke-width="1.4"/><line x1="497.4" y1="184.7" x2="495.6" y2="192.1" stroke="#2fd4d8" stroke-width="1.4"/><line x1="495.6" y1="192.1" x2="494.5" y2="196.5" stroke="#e08c8c" stroke-width="1.4"/><line x1="497.4" y1="184.7" x2="503.6" y2="177.8" stroke="#2fd4d8" stroke-width="1.4"/><line x1="503.6" y1="177.8" x2="507.8" y2="173.2" stroke="#e08c8c" stroke-width="1.4"/><line x1="425.5" y1="40.9" x2="420.4" y2="35.2" stroke="#c8301e" stroke-width="1.4"/><line x1="420.4" y1="35.2" x2="416.9" y2="31.3" stroke="#e08c8c" stroke-width="1.4"/><line x1="432" y1="34.4" x2="422.9" y2="32.5" stroke="#2fd4d8" stroke-width="1.4"/><line x1="422.9" y1="32.5" x2="416.9" y2="31.3" stroke="#e08c8c" stroke-width="1.4"/><line x1="383.9" y1="61" x2="377.6" y2="66.3" stroke="#c8301e" stroke-width="1.4"/><line x1="377.6" y1="66.3" x2="373.2" y2="70" stroke="#e08c8c" stroke-width="1.4"/><line x1="383.9" y1="61" x2="382.6" y2="55.2" stroke="#c8301e" stroke-width="1.4"/><line x1="382.6" y1="55.2" x2="381.8" y2="51.7" stroke="#e08c8c" stroke-width="1.4"/><line x1="383.9" y1="61" x2="376.4" y2="64.4" stroke="#c8301e" stroke-width="1.4"/><line x1="376.4" y1="64.4" x2="371" y2="66.9" stroke="#e08c8c" stroke-width="1.4"/><line x1="374.6" y1="80.3" x2="372.5" y2="72.5" stroke="#c8301e" stroke-width="1.4"/><line x1="372.5" y1="72.5" x2="371" y2="66.9" stroke="#e08c8c" stroke-width="1.4"/><line x1="366.7" y1="100.5" x2="370.1" y2="92.9" stroke="#c8301e" stroke-width="1.4"/><line x1="370.1" y1="92.9" x2="372.5" y2="87.5" stroke="#e08c8c" stroke-width="1.4"/><line x1="366.7" y1="100.5" x2="366.7" y2="92" stroke="#c8301e" stroke-width="1.4"/><line x1="366.7" y1="92" x2="366.8" y2="85.8" stroke="#e08c8c" stroke-width="1.4"/><line x1="381" y1="91.8" x2="385.4" y2="85.2" stroke="#2fd4d8" stroke-width="1.4"/><line x1="385.4" y1="85.2" x2="388.1" y2="81.1" stroke="#e08c8c" stroke-width="1.4"/><line x1="374.6" y1="80.3" x2="382.5" y2="80.7" stroke="#c8301e" stroke-width="1.4"/><line x1="382.5" y1="80.7" x2="388.1" y2="81.1" stroke="#e08c8c" stroke-width="1.4"/><line x1="333" y1="86.1" x2="333.1" y2="94.1" stroke="#c8301e" stroke-width="1.4"/><line x1="333.1" y1="94.1" x2="333.1" y2="99.8" stroke="#e08c8c" stroke-width="1.4"/><line x1="349.5" y1="69.3" x2="347.3" y2="76.6" stroke="#2fd4d8" stroke-width="1.4"/><line x1="347.3" y1="76.6" x2="346" y2="81" stroke="#e08c8c" stroke-width="1.4"/><line x1="333" y1="86.1" x2="340.6" y2="83.1" stroke="#c8301e" stroke-width="1.4"/><line x1="340.6" y1="83.1" x2="346" y2="81" stroke="#e08c8c" stroke-width="1.4"/><line x1="413.3" y1="68.8" x2="417.6" y2="74.8" stroke="#c8301e" stroke-width="1.4"/><line x1="417.6" y1="74.8" x2="420.6" y2="78.8" stroke="#e08c8c" stroke-width="1.4"/><line x1="413.3" y1="68.8" x2="416.1" y2="61.4" stroke="#c8301e" stroke-width="1.4"/><line x1="416.1" y1="61.4" x2="418" y2="56.2" stroke="#e08c8c" stroke-width="1.4"/><line x1="424.8" y1="45.9" x2="432.9" y2="48.1" stroke="#2fd4d8" stroke-width="1.4"/><line x1="432.9" y1="48.1" x2="438" y2="49.5" stroke="#e08c8c" stroke-width="1.4"/><line x1="450.8" y1="76.7" x2="448.4" y2="69.8" stroke="#c8301e" stroke-width="1.4"/><line x1="448.4" y1="69.8" x2="446.8" y2="65.1" stroke="#e08c8c" stroke-width="1.4"/><line x1="413.3" y1="68.8" x2="420.1" y2="67.1" stroke="#c8301e" stroke-width="1.4"/><line x1="420.1" y1="67.1" x2="424.7" y2="65.9" stroke="#e08c8c" stroke-width="1.4"/><line x1="435.5" y1="57.4" x2="429.2" y2="62.4" stroke="#c8301e" stroke-width="1.4"/><line x1="429.2" y1="62.4" x2="424.7" y2="65.9" stroke="#e08c8c" stroke-width="1.4"/><line x1="366.7" y1="100.5" x2="374.1" y2="97.7" stroke="#c8301e" stroke-width="1.4"/><line x1="374.1" y1="97.7" x2="379.4" y2="95.7" stroke="#e08c8c" stroke-width="1.4"/><line x1="375.3" y1="106.5" x2="377.9" y2="99.7" stroke="#2fd4d8" stroke-width="1.4"/><line x1="377.9" y1="99.7" x2="379.4" y2="95.7" stroke="#e08c8c" stroke-width="1.4"/><line x1="380.3" y1="121.5" x2="373" y2="117.1" stroke="#c8301e" stroke-width="1.4"/><line x1="373" y1="117.1" x2="367.7" y2="113.9" stroke="#e08c8c" stroke-width="1.4"/><line x1="388.5" y1="100.5" x2="394.3" y2="100.8" stroke="#c8301e" stroke-width="1.4"/><line x1="394.3" y1="100.8" x2="397.8" y2="101" stroke="#e08c8c" stroke-width="1.4"/><line x1="388.5" y1="100.5" x2="388.2" y2="107.9" stroke="#c8301e" stroke-width="1.4"/><line x1="388.2" y1="107.9" x2="388" y2="113" stroke="#e08c8c" stroke-width="1.4"/><line x1="381" y1="91.8" x2="388.2" y2="91.1" stroke="#2fd4d8" stroke-width="1.4"/><line x1="388.2" y1="91.1" x2="392.3" y2="90.7" stroke="#e08c8c" stroke-width="1.4"/><line x1="469.8" y1="60.2" x2="462.9" y2="60.9" stroke="#c8301e" stroke-width="1.4"/><line x1="462.9" y1="60.9" x2="458.4" y2="61.3" stroke="#e08c8c" stroke-width="1.4"/><line x1="469.8" y1="60.2" x2="474.3" y2="53.7" stroke="#c8301e" stroke-width="1.4"/><line x1="474.3" y1="53.7" x2="477.4" y2="49.2" stroke="#e08c8c" stroke-width="1.4"/><line x1="469.8" y1="60.2" x2="474.3" y2="67" stroke="#c8301e" stroke-width="1.4"/><line x1="474.3" y1="67" x2="477.4" y2="71.9" stroke="#e08c8c" stroke-width="1.4"/><line x1="483.8" y1="64.1" x2="491.3" y2="67.2" stroke="#c8301e" stroke-width="1.4"/><line x1="491.3" y1="67.2" x2="496.6" y2="69.4" stroke="#e08c8c" stroke-width="1.4"/><line x1="493.8" y1="58.1" x2="487.4" y2="53.6" stroke="#2fd4d8" stroke-width="1.4"/><line x1="487.4" y1="53.6" x2="483.5" y2="50.8" stroke="#e08c8c" stroke-width="1.4"/><line x1="483.8" y1="64.1" x2="483.6" y2="56.3" stroke="#c8301e" stroke-width="1.4"/><line x1="483.6" y1="56.3" x2="483.5" y2="50.8" stroke="#e08c8c" stroke-width="1.4"/><line x1="469.8" y1="60.2" x2="476.3" y2="62.8" stroke="#c8301e" stroke-width="1.4"/><line x1="476.3" y1="62.8" x2="480.7" y2="64.6" stroke="#e08c8c" stroke-width="1.4"/><line x1="469.8" y1="60.2" x2="472.6" y2="67" stroke="#c8301e" stroke-width="1.4"/><line x1="472.6" y1="67" x2="474.4" y2="71.6" stroke="#e08c8c" stroke-width="1.4"/><line x1="518.2" y1="58.8" x2="519.2" y2="66.6" stroke="#c8301e" stroke-width="1.4"/><line x1="519.2" y1="66.6" x2="519.9" y2="72.1" stroke="#e08c8c" stroke-width="1.4"/><line x1="493.8" y1="58.1" x2="500.1" y2="57.7" stroke="#2fd4d8" stroke-width="1.4"/><line x1="500.1" y1="57.7" x2="503.3" y2="57.6" stroke="#e08c8c" stroke-width="1.4"/><line x1="518.2" y1="58.8" x2="509.6" y2="58.1" stroke="#c8301e" stroke-width="1.4"/><line x1="509.6" y1="58.1" x2="503.3" y2="57.6" stroke="#e08c8c" stroke-width="1.4"/><line x1="508.1" y1="57.4" x2="517.7" y2="56.2" stroke="#2fd4d8" stroke-width="1.4"/><line x1="517.7" y1="56.2" x2="524.2" y2="55.4" stroke="#e08c8c" stroke-width="1.4"/><line x1="508.1" y1="57.4" x2="509.8" y2="66.7" stroke="#2fd4d8" stroke-width="1.4"/><line x1="509.8" y1="66.7" x2="511" y2="73" stroke="#e08c8c" stroke-width="1.4"/><line x1="518.2" y1="58.8" x2="512.3" y2="58.6" stroke="#c8301e" stroke-width="1.4"/><line x1="512.3" y1="58.6" x2="508.8" y2="58.6" stroke="#e08c8c" stroke-width="1.4"/><line x1="518.2" y1="58.8" x2="515.6" y2="53.4" stroke="#c8301e" stroke-width="1.4"/><line x1="515.6" y1="53.4" x2="514.1" y2="50.2" stroke="#e08c8c" stroke-width="1.4"/><line x1="508.1" y1="57.4" x2="512.1" y2="52.6" stroke="#2fd4d8" stroke-width="1.4"/><line x1="512.1" y1="52.6" x2="514.1" y2="50.2" stroke="#e08c8c" stroke-width="1.4"/><line x1="525.8" y1="78.2" x2="521.4" y2="73.9" stroke="#2fd4d8" stroke-width="1.4"/><line x1="521.4" y1="73.9" x2="519.3" y2="71.8" stroke="#e08c8c" stroke-width="1.4"/><line x1="518.2" y1="58.8" x2="518.8" y2="66.5" stroke="#c8301e" stroke-width="1.4"/><line x1="518.8" y1="66.5" x2="519.3" y2="71.8" stroke="#e08c8c" stroke-width="1.4"/><line x1="518.2" y1="58.8" x2="525.5" y2="56.3" stroke="#c8301e" stroke-width="1.4"/><line x1="525.5" y1="56.3" x2="530.6" y2="54.6" stroke="#e08c8c" stroke-width="1.4"/><line x1="424.8" y1="45.9" x2="429.6" y2="51.2" stroke="#2fd4d8" stroke-width="1.4"/><line x1="429.6" y1="51.2" x2="432.3" y2="54.2" stroke="#e08c8c" stroke-width="1.4"/><line x1="442.2" y1="62.4" x2="436.3" y2="57.5" stroke="#c8301e" stroke-width="1.4"/><line x1="436.3" y1="57.5" x2="432.3" y2="54.2" stroke="#e08c8c" stroke-width="1.4"/><line x1="450.8" y1="76.7" x2="442.5" y2="73.6" stroke="#c8301e" stroke-width="1.4"/><line x1="442.5" y1="73.6" x2="436.3" y2="71.3" stroke="#e08c8c" stroke-width="1.4"/><line x1="442.2" y1="62.4" x2="438.6" y2="67.8" stroke="#c8301e" stroke-width="1.4"/><line x1="438.6" y1="67.8" x2="436.3" y2="71.3" stroke="#e08c8c" stroke-width="1.4"/><line x1="456.5" y1="75.3" x2="451.3" y2="71.6" stroke="#2fd4d8" stroke-width="1.4"/><line x1="451.3" y1="71.6" x2="448.5" y2="69.6" stroke="#e08c8c" stroke-width="1.4"/><line x1="456.5" y1="75.3" x2="449" y2="71.8" stroke="#2fd4d8" stroke-width="1.4"/><line x1="449" y1="71.8" x2="444.2" y2="69.6" stroke="#e08c8c" stroke-width="1.4"/><line x1="450.8" y1="76.7" x2="445.8" y2="82.6" stroke="#c8301e" stroke-width="1.4"/><line x1="445.8" y1="82.6" x2="442.3" y2="86.7" stroke="#e08c8c" stroke-width="1.4"/><line x1="470.1" y1="94" x2="465.4" y2="87" stroke="#2fd4d8" stroke-width="1.4"/><line x1="465.4" y1="87" x2="462.4" y2="82.5" stroke="#e08c8c" stroke-width="1.4"/><line x1="478" y1="90.4" x2="475.4" y2="97.9" stroke="#c8301e" stroke-width="1.4"/><line x1="475.4" y1="97.9" x2="473.6" y2="103.3" stroke="#e08c8c" stroke-width="1.4"/><line x1="470.1" y1="94" x2="472.1" y2="86.1" stroke="#2fd4d8" stroke-width="1.4"/><line x1="472.1" y1="86.1" x2="473.3" y2="81.2" stroke="#e08c8c" stroke-width="1.4"/><line x1="515.3" y1="105.3" x2="508.1" y2="102.1" stroke="#c8301e" stroke-width="1.4"/><line x1="508.1" y1="102.1" x2="503" y2="99.9" stroke="#e08c8c" stroke-width="1.4"/><line x1="508.1" y1="88.2" x2="505.1" y2="95.1" stroke="#c8301e" stroke-width="1.4"/><line x1="505.1" y1="95.1" x2="503" y2="99.9" stroke="#e08c8c" stroke-width="1.4"/><line x1="508.1" y1="88.2" x2="516" y2="87.3" stroke="#c8301e" stroke-width="1.4"/><line x1="516" y1="87.3" x2="521.5" y2="86.6" stroke="#e08c8c" stroke-width="1.4"/><line x1="496" y1="84.6" x2="503" y2="87.4" stroke="#2fd4d8" stroke-width="1.4"/><line x1="503" y1="87.4" x2="507.3" y2="89.1" stroke="#e08c8c" stroke-width="1.4"/><line x1="507.4" y1="95.4" x2="505.1" y2="89.7" stroke="#c8301e" stroke-width="1.4"/><line x1="505.1" y1="89.7" x2="503.7" y2="86.2" stroke="#e08c8c" stroke-width="1.4"/><line x1="507.4" y1="95.4" x2="515.4" y2="96.8" stroke="#c8301e" stroke-width="1.4"/><line x1="515.4" y1="96.8" x2="521.2" y2="97.8" stroke="#e08c8c" stroke-width="1.4"/><line x1="488.1" y1="116.5" x2="495.5" y2="111.1" stroke="#2fd4d8" stroke-width="1.4"/><line x1="495.5" y1="111.1" x2="500.5" y2="107.4" stroke="#e08c8c" stroke-width="1.4"/><line x1="496" y1="84.6" x2="501.4" y2="88.2" stroke="#2fd4d8" stroke-width="1.4"/><line x1="501.4" y1="88.2" x2="504.2" y2="90.2" stroke="#e08c8c" stroke-width="1.4"/><line x1="409.7" y1="109.3" x2="403.7" y2="112.2" stroke="#c8301e" stroke-width="1.4"/><line x1="403.7" y1="112.2" x2="399.9" y2="114" stroke="#e08c8c" stroke-width="1.4"/><line x1="401.8" y1="111.5" x2="402.4" y2="118.7" stroke="#c8301e" stroke-width="1.4"/><line x1="402.4" y1="118.7" x2="402.8" y2="123.6" stroke="#e08c8c" stroke-width="1.4"/><line x1="401.8" y1="111.5" x2="395.4" y2="107.2" stroke="#c8301e" stroke-width="1.4"/><line x1="395.4" y1="107.2" x2="390.9" y2="104.2" stroke="#e08c8c" stroke-width="1.4"/><line x1="381" y1="91.8" x2="386.9" y2="99.2" stroke="#2fd4d8" stroke-width="1.4"/><line x1="386.9" y1="99.2" x2="390.9" y2="104.2" stroke="#e08c8c" stroke-width="1.4"/><line x1="401.8" y1="111.5" x2="408.7" y2="107.2" stroke="#c8301e" stroke-width="1.4"/><line x1="408.7" y1="107.2" x2="413.6" y2="104.1" stroke="#e08c8c" stroke-width="1.4"/><line x1="421.2" y1="133.7" x2="420" y2="125" stroke="#c8301e" stroke-width="1.4"/><line x1="420" y1="125" x2="419.1" y2="118.5" stroke="#e08c8c" stroke-width="1.4"/><line x1="370.3" y1="142.3" x2="369.5" y2="134.8" stroke="#c8301e" stroke-width="1.4"/><line x1="369.5" y1="134.8" x2="368.9" y2="129.6" stroke="#e08c8c" stroke-width="1.4"/><line x1="381.7" y1="129.4" x2="380.7" y2="120.4" stroke="#c8301e" stroke-width="1.4"/><line x1="380.7" y1="120.4" x2="379.9" y2="113.8" stroke="#e08c8c" stroke-width="1.4"/><line x1="388.5" y1="100.5" x2="383.6" y2="108.1" stroke="#c8301e" stroke-width="1.4"/><line x1="383.6" y1="108.1" x2="379.9" y2="113.8" stroke="#e08c8c" stroke-width="1.4"/><line x1="381.7" y1="129.4" x2="381" y2="120.1" stroke="#c8301e" stroke-width="1.4"/><line x1="381" y1="120.1" x2="380.5" y2="113.1" stroke="#e08c8c" stroke-width="1.4"/><line x1="388.5" y1="100.5" x2="383.9" y2="107.8" stroke="#c8301e" stroke-width="1.4"/><line x1="383.9" y1="107.8" x2="380.5" y2="113.1" stroke="#e08c8c" stroke-width="1.4"/><line x1="381.7" y1="129.4" x2="387.9" y2="129.5" stroke="#c8301e" stroke-width="1.4"/><line x1="387.9" y1="129.5" x2="391.8" y2="129.5" stroke="#e08c8c" stroke-width="1.4"/><line x1="401.8" y1="140.2" x2="396.1" y2="136.9" stroke="#2fd4d8" stroke-width="1.4"/><line x1="396.1" y1="136.9" x2="393" y2="135.1" stroke="#e08c8c" stroke-width="1.4"/><line x1="358.8" y1="141.2" x2="368.4" y2="139.9" stroke="#2fd4d8" stroke-width="1.4"/><line x1="368.4" y1="139.9" x2="375" y2="139.1" stroke="#e08c8c" stroke-width="1.4"/><line x1="372" y1="129.7" x2="374" y2="135.8" stroke="#2fd4d8" stroke-width="1.4"/><line x1="374" y1="135.8" x2="375" y2="139.1" stroke="#e08c8c" stroke-width="1.4"/><line x1="381.7" y1="129.4" x2="376.4" y2="126.3" stroke="#c8301e" stroke-width="1.4"/><line x1="376.4" y1="126.3" x2="373.1" y2="124.5" stroke="#e08c8c" stroke-width="1.4"/><line x1="396.8" y1="123.7" x2="389.9" y2="120.7" stroke="#2fd4d8" stroke-width="1.4"/><line x1="389.9" y1="120.7" x2="385.7" y2="118.9" stroke="#e08c8c" stroke-width="1.4"/><line x1="375.3" y1="106.5" x2="381.5" y2="113.9" stroke="#2fd4d8" stroke-width="1.4"/><line x1="381.5" y1="113.9" x2="385.7" y2="118.9" stroke="#e08c8c" stroke-width="1.4"/><line x1="332.7" y1="133.7" x2="339.5" y2="138.3" stroke="#c8301e" stroke-width="1.4"/><line x1="339.5" y1="138.3" x2="344.3" y2="141.6" stroke="#e08c8c" stroke-width="1.4"/><line x1="332.7" y1="133.7" x2="333.4" y2="127.9" stroke="#c8301e" stroke-width="1.4"/><line x1="333.4" y1="127.9" x2="333.8" y2="124.4" stroke="#e08c8c" stroke-width="1.4"/><line x1="362.4" y1="155.3" x2="368.2" y2="152.1" stroke="#2fd4d8" stroke-width="1.4"/><line x1="368.2" y1="152.1" x2="371.4" y2="150.4" stroke="#e08c8c" stroke-width="1.4"/><line x1="372" y1="129.7" x2="364" y2="132.4" stroke="#2fd4d8" stroke-width="1.4"/><line x1="364" y1="132.4" x2="358.9" y2="134.2" stroke="#e08c8c" stroke-width="1.4"/><line x1="370.3" y1="142.3" x2="363.7" y2="137.6" stroke="#c8301e" stroke-width="1.4"/><line x1="363.7" y1="137.6" x2="358.9" y2="134.2" stroke="#e08c8c" stroke-width="1.4"/><line x1="372" y1="129.7" x2="378.2" y2="132.6" stroke="#2fd4d8" stroke-width="1.4"/><line x1="378.2" y1="132.6" x2="381.7" y2="134.2" stroke="#e08c8c" stroke-width="1.4"/><line x1="360.2" y1="163.1" x2="365.4" y2="155.8" stroke="#c8301e" stroke-width="1.4"/><line x1="365.4" y1="155.8" x2="369.2" y2="150.4" stroke="#e08c8c" stroke-width="1.4"/><line x1="358.8" y1="141.2" x2="365.1" y2="146.8" stroke="#2fd4d8" stroke-width="1.4"/><line x1="365.1" y1="146.8" x2="369.2" y2="150.4" stroke="#e08c8c" stroke-width="1.4"/><line x1="378.6" y1="156.7" x2="371.2" y2="153.7" stroke="#c8301e" stroke-width="1.4"/><line x1="371.2" y1="153.7" x2="366" y2="151.5" stroke="#e08c8c" stroke-width="1.4"/><line x1="360.2" y1="163.1" x2="363.6" y2="156.3" stroke="#c8301e" stroke-width="1.4"/><line x1="363.6" y1="156.3" x2="366" y2="151.5" stroke="#e08c8c" stroke-width="1.4"/><line x1="401.8" y1="140.2" x2="393.2" y2="143.8" stroke="#2fd4d8" stroke-width="1.4"/><line x1="393.2" y1="143.8" x2="387.3" y2="146.2" stroke="#e08c8c" stroke-width="1.4"/><line x1="373.1" y1="168.9" x2="379.8" y2="165.8" stroke="#2fd4d8" stroke-width="1.4"/><line x1="379.8" y1="165.8" x2="383.7" y2="164" stroke="#e08c8c" stroke-width="1.4"/><line x1="360.2" y1="163.1" x2="353" y2="166.8" stroke="#c8301e" stroke-width="1.4"/><line x1="353" y1="166.8" x2="347.9" y2="169.4" stroke="#e08c8c" stroke-width="1.4"/><line x1="378.6" y1="156.7" x2="371.6" y2="159.7" stroke="#c8301e" stroke-width="1.4"/><line x1="371.6" y1="159.7" x2="366.8" y2="161.7" stroke="#e08c8c" stroke-width="1.4"/><line x1="362.4" y1="155.3" x2="365.7" y2="164.5" stroke="#2fd4d8" stroke-width="1.4"/><line x1="365.7" y1="164.5" x2="368" y2="170.8" stroke="#e08c8c" stroke-width="1.4"/><line x1="360.2" y1="163.1" x2="358.9" y2="155.6" stroke="#c8301e" stroke-width="1.4"/><line x1="358.9" y1="155.6" x2="358.1" y2="150.5" stroke="#e08c8c" stroke-width="1.4"/><line x1="427.6" y1="115.8" x2="421.7" y2="122.3" stroke="#2fd4d8" stroke-width="1.4"/><line x1="421.7" y1="122.3" x2="417.8" y2="126.5" stroke="#e08c8c" stroke-width="1.4"/><line x1="416.9" y1="140.2" x2="417.4" y2="132.2" stroke="#c8301e" stroke-width="1.4"/><line x1="417.4" y1="132.2" x2="417.8" y2="126.5" stroke="#e08c8c" stroke-width="1.4"/><line x1="423.3" y1="154.1" x2="429" y2="146.4" stroke="#2fd4d8" stroke-width="1.4"/><line x1="429" y1="146.4" x2="432.8" y2="141.1" stroke="#e08c8c" stroke-width="1.4"/><line x1="421.2" y1="133.7" x2="415.1" y2="138.8" stroke="#c8301e" stroke-width="1.4"/><line x1="415.1" y1="138.8" x2="410.8" y2="142.4" stroke="#e08c8c" stroke-width="1.4"/><line x1="401.8" y1="140.2" x2="407.8" y2="141.7" stroke="#2fd4d8" stroke-width="1.4"/><line x1="407.8" y1="141.7" x2="410.8" y2="142.4" stroke="#e08c8c" stroke-width="1.4"/><line x1="427.6" y1="115.8" x2="424.9" y2="121.7" stroke="#2fd4d8" stroke-width="1.4"/><line x1="424.9" y1="121.7" x2="423.4" y2="124.8" stroke="#e08c8c" stroke-width="1.4"/><line x1="421.2" y1="133.7" x2="416.9" y2="140.9" stroke="#c8301e" stroke-width="1.4"/><line x1="416.9" y1="140.9" x2="413.8" y2="146.1" stroke="#e08c8c" stroke-width="1.4"/><line x1="421.2" y1="133.7" x2="412.9" y2="132.1" stroke="#c8301e" stroke-width="1.4"/><line x1="412.9" y1="132.1" x2="406.9" y2="131" stroke="#e08c8c" stroke-width="1.4"/><line x1="411.1" y1="167.5" x2="406" y2="172.1" stroke="#c8301e" stroke-width="1.4"/><line x1="406" y1="172.1" x2="402.6" y2="175.1" stroke="#e08c8c" stroke-width="1.4"/><line x1="378.6" y1="156.7" x2="378.5" y2="164.7" stroke="#c8301e" stroke-width="1.4"/><line x1="378.5" y1="164.7" x2="378.4" y2="170.3" stroke="#e08c8c" stroke-width="1.4"/><line x1="373.1" y1="168.9" x2="372.9" y2="178.4" stroke="#2fd4d8" stroke-width="1.4"/><line x1="372.9" y1="178.4" x2="372.8" y2="184.9" stroke="#e08c8c" stroke-width="1.4"/><line x1="383.2" y1="180.4" x2="386.2" y2="186.8" stroke="#c8301e" stroke-width="1.4"/><line x1="386.2" y1="186.8" x2="388.1" y2="191" stroke="#e08c8c" stroke-width="1.4"/><line x1="344.4" y1="183.2" x2="350.6" y2="184.7" stroke="#c8301e" stroke-width="1.4"/><line x1="350.6" y1="184.7" x2="354.6" y2="185.6" stroke="#e08c8c" stroke-width="1.4"/><line x1="344.4" y1="183.2" x2="337.1" y2="185" stroke="#c8301e" stroke-width="1.4"/><line x1="337.1" y1="185" x2="332" y2="186.2" stroke="#e08c8c" stroke-width="1.4"/><line x1="437" y1="182.5" x2="440.9" y2="189.3" stroke="#c8301e" stroke-width="1.4"/><line x1="440.9" y1="189.3" x2="443.6" y2="194.1" stroke="#e08c8c" stroke-width="1.4"/><line x1="437" y1="182.5" x2="439.4" y2="176" stroke="#c8301e" stroke-width="1.4"/><line x1="439.4" y1="176" x2="440.9" y2="171.8" stroke="#e08c8c" stroke-width="1.4"/><line x1="448.6" y1="166.7" x2="443.5" y2="170.1" stroke="#2fd4d8" stroke-width="1.4"/><line x1="443.5" y1="170.1" x2="440.9" y2="171.8" stroke="#e08c8c" stroke-width="1.4"/><line x1="446.5" y1="107.2" x2="453.8" y2="109.2" stroke="#c8301e" stroke-width="1.4"/><line x1="453.8" y1="109.2" x2="458.8" y2="110.6" stroke="#e08c8c" stroke-width="1.4"/><line x1="439.5" y1="115" x2="437.9" y2="109.1" stroke="#c8301e" stroke-width="1.4"/><line x1="437.9" y1="109.1" x2="436.9" y2="105.4" stroke="#e08c8c" stroke-width="1.4"/><line x1="427.6" y1="115.8" x2="433.3" y2="109.5" stroke="#2fd4d8" stroke-width="1.4"/><line x1="433.3" y1="109.5" x2="436.9" y2="105.4" stroke="#e08c8c" stroke-width="1.4"/><line x1="446.5" y1="107.2" x2="447.4" y2="100.1" stroke="#c8301e" stroke-width="1.4"/><line x1="447.4" y1="100.1" x2="447.9" y2="95.3" stroke="#e08c8c" stroke-width="1.4"/><line x1="439.5" y1="115" x2="446.5" y2="111.3" stroke="#c8301e" stroke-width="1.4"/><line x1="446.5" y1="111.3" x2="451.4" y2="108.6" stroke="#e08c8c" stroke-width="1.4"/><line x1="488.1" y1="116.5" x2="497.1" y2="113" stroke="#2fd4d8" stroke-width="1.4"/><line x1="497.1" y1="113" x2="503.3" y2="110.7" stroke="#e08c8c" stroke-width="1.4"/><line x1="515.3" y1="105.3" x2="508.2" y2="108.5" stroke="#c8301e" stroke-width="1.4"/><line x1="508.2" y1="108.5" x2="503.3" y2="110.7" stroke="#e08c8c" stroke-width="1.4"/><line x1="482.3" y1="134.5" x2="482.6" y2="126" stroke="#2fd4d8" stroke-width="1.4"/><line x1="482.6" y1="126" x2="482.8" y2="120.6" stroke="#e08c8c" stroke-width="1.4"/><line x1="491.6" y1="114.4" x2="493.6" y2="120" stroke="#c8301e" stroke-width="1.4"/><line x1="493.6" y1="120" x2="494.9" y2="123.3" stroke="#e08c8c" stroke-width="1.4"/><line x1="502.8" y1="133.5" x2="498.1" y2="127.5" stroke="#c8301e" stroke-width="1.4"/><line x1="498.1" y1="127.5" x2="494.9" y2="123.3" stroke="#e08c8c" stroke-width="1.4"/><line x1="488.1" y1="116.5" x2="486.5" y2="108.3" stroke="#2fd4d8" stroke-width="1.4"/><line x1="486.5" y1="108.3" x2="485.5" y2="103" stroke="#e08c8c" stroke-width="1.4"/><line x1="507.4" y1="95.4" x2="512.8" y2="92.9" stroke="#c8301e" stroke-width="1.4"/><line x1="512.8" y1="92.9" x2="516.1" y2="91.4" stroke="#e08c8c" stroke-width="1.4"/><line x1="525.8" y1="78.2" x2="520" y2="86" stroke="#2fd4d8" stroke-width="1.4"/><line x1="520" y1="86" x2="516.1" y2="91.4" stroke="#e08c8c" stroke-width="1.4"/><line x1="515.3" y1="105.3" x2="507.5" y2="107.6" stroke="#c8301e" stroke-width="1.4"/><line x1="507.5" y1="107.6" x2="501.9" y2="109.2" stroke="#e08c8c" stroke-width="1.4"/><line x1="542.6" y1="111.1" x2="550.6" y2="112.7" stroke="#c8301e" stroke-width="1.4"/><line x1="550.6" y1="112.7" x2="556.3" y2="113.8" stroke="#e08c8c" stroke-width="1.4"/><line x1="542.6" y1="111.1" x2="541" y2="103.7" stroke="#c8301e" stroke-width="1.4"/><line x1="541" y1="103.7" x2="539.9" y2="98.6" stroke="#e08c8c" stroke-width="1.4"/><line x1="456.5" y1="112.9" x2="458.2" y2="119.7" stroke="#c8301e" stroke-width="1.4"/><line x1="458.2" y1="119.7" x2="459.4" y2="124.2" stroke="#e08c8c" stroke-width="1.4"/><line x1="466.5" y1="158.1" x2="461.2" y2="151" stroke="#c8301e" stroke-width="1.4"/><line x1="461.2" y1="151" x2="457.3" y2="145.7" stroke="#e08c8c" stroke-width="1.4"/><line x1="460.8" y1="133" x2="458.7" y2="140.5" stroke="#c8301e" stroke-width="1.4"/><line x1="458.7" y1="140.5" x2="457.3" y2="145.7" stroke="#e08c8c" stroke-width="1.4"/><line x1="451.5" y1="133" x2="443.9" y2="133.4" stroke="#c8301e" stroke-width="1.4"/><line x1="443.9" y1="133.4" x2="438.6" y2="133.6" stroke="#e08c8c" stroke-width="1.4"/><line x1="482.3" y1="134.5" x2="473.8" y2="137.8" stroke="#2fd4d8" stroke-width="1.4"/><line x1="473.8" y1="137.8" x2="468.1" y2="140" stroke="#e08c8c" stroke-width="1.4"/><line x1="460.8" y1="133" x2="465.3" y2="137.3" stroke="#c8301e" stroke-width="1.4"/><line x1="465.3" y1="137.3" x2="468.1" y2="140" stroke="#e08c8c" stroke-width="1.4"/><line x1="460.8" y1="133" x2="453.6" y2="130.5" stroke="#c8301e" stroke-width="1.4"/><line x1="453.6" y1="130.5" x2="448.6" y2="128.8" stroke="#e08c8c" stroke-width="1.4"/><line x1="442.9" y1="143.8" x2="452.1" y2="142.3" stroke="#2fd4d8" stroke-width="1.4"/><line x1="452.1" y1="142.3" x2="458.4" y2="141.4" stroke="#e08c8c" stroke-width="1.4"/><line x1="451.5" y1="133" x2="455.7" y2="138.1" stroke="#c8301e" stroke-width="1.4"/><line x1="455.7" y1="138.1" x2="458.4" y2="141.4" stroke="#e08c8c" stroke-width="1.4"/><line x1="456.5" y1="112.9" x2="463.2" y2="118.1" stroke="#c8301e" stroke-width="1.4"/><line x1="463.2" y1="118.1" x2="468.1" y2="121.8" stroke="#e08c8c" stroke-width="1.4"/><line x1="502.8" y1="133.5" x2="495" y2="135.8" stroke="#c8301e" stroke-width="1.4"/><line x1="495" y1="135.8" x2="489.5" y2="137.4" stroke="#e08c8c" stroke-width="1.4"/><line x1="502.8" y1="133.5" x2="511.2" y2="132.2" stroke="#c8301e" stroke-width="1.4"/><line x1="511.2" y1="132.2" x2="517.4" y2="131.3" stroke="#e08c8c" stroke-width="1.4"/><line x1="510.6" y1="135.9" x2="502.5" y2="135.4" stroke="#c8301e" stroke-width="1.4"/><line x1="502.5" y1="135.4" x2="496.8" y2="135.1" stroke="#e08c8c" stroke-width="1.4"/><line x1="517.5" y1="158.1" x2="515.3" y2="152.2" stroke="#2fd4d8" stroke-width="1.4"/><line x1="515.3" y1="152.2" x2="514.1" y2="149.2" stroke="#e08c8c" stroke-width="1.4"/><line x1="515.3" y1="151.7" x2="522.8" y2="155" stroke="#c8301e" stroke-width="1.4"/><line x1="522.8" y1="155" x2="528.1" y2="157.3" stroke="#e08c8c" stroke-width="1.4"/><line x1="517.5" y1="158.1" x2="524.3" y2="157.6" stroke="#2fd4d8" stroke-width="1.4"/><line x1="524.3" y1="157.6" x2="528.1" y2="157.3" stroke="#e08c8c" stroke-width="1.4"/><line x1="515.3" y1="151.7" x2="515.8" y2="144.6" stroke="#c8301e" stroke-width="1.4"/><line x1="515.8" y1="144.6" x2="516.1" y2="139.8" stroke="#e08c8c" stroke-width="1.4"/><line x1="526.1" y1="127.7" x2="520.1" y2="135" stroke="#2fd4d8" stroke-width="1.4"/><line x1="520.1" y1="135" x2="516.1" y2="139.8" stroke="#e08c8c" stroke-width="1.4"/><line x1="510.6" y1="135.9" x2="510.3" y2="143.6" stroke="#c8301e" stroke-width="1.4"/><line x1="510.3" y1="143.6" x2="510.2" y2="148.9" stroke="#e08c8c" stroke-width="1.4"/><line x1="517.5" y1="158.1" x2="512.9" y2="152.3" stroke="#2fd4d8" stroke-width="1.4"/><line x1="512.9" y1="152.3" x2="510.2" y2="148.9" stroke="#e08c8c" stroke-width="1.4"/><line x1="517.5" y1="158.1" x2="510.7" y2="159.8" stroke="#2fd4d8" stroke-width="1.4"/><line x1="510.7" y1="159.8" x2="506.9" y2="160.7" stroke="#e08c8c" stroke-width="1.4"/><line x1="477.3" y1="168.2" x2="472" y2="170.1" stroke="#c8301e" stroke-width="1.4"/><line x1="472" y1="170.1" x2="468.8" y2="171.3" stroke="#e08c8c" stroke-width="1.4"/><line x1="466.5" y1="158.1" x2="471.3" y2="152.8" stroke="#c8301e" stroke-width="1.4"/><line x1="471.3" y1="152.8" x2="474.4" y2="149.3" stroke="#e08c8c" stroke-width="1.4"/><line x1="467.3" y1="141.6" x2="471.9" y2="146.6" stroke="#2fd4d8" stroke-width="1.4"/><line x1="471.9" y1="146.6" x2="474.4" y2="149.3" stroke="#e08c8c" stroke-width="1.4"/><line x1="466.5" y1="158.1" x2="458.6" y2="156.2" stroke="#c8301e" stroke-width="1.4"/><line x1="458.6" y1="156.2" x2="453" y2="154.9" stroke="#e08c8c" stroke-width="1.4"/><line x1="448.6" y1="166.7" x2="451.3" y2="159.4" stroke="#2fd4d8" stroke-width="1.4"/><line x1="451.3" y1="159.4" x2="453" y2="154.9" stroke="#e08c8c" stroke-width="1.4"/><line x1="466.5" y1="158.1" x2="469.4" y2="163.6" stroke="#c8301e" stroke-width="1.4"/><line x1="469.4" y1="163.6" x2="471.2" y2="166.9" stroke="#e08c8c" stroke-width="1.4"/><line x1="477.3" y1="168.2" x2="473.6" y2="162.8" stroke="#c8301e" stroke-width="1.4"/><line x1="473.6" y1="162.8" x2="471.3" y2="159.4" stroke="#e08c8c" stroke-width="1.4"/><line x1="536.8" y1="171.8" x2="529.2" y2="173.4" stroke="#c8301e" stroke-width="1.4"/><line x1="529.2" y1="173.4" x2="523.9" y2="174.4" stroke="#e08c8c" stroke-width="1.4"/><line x1="497.4" y1="184.7" x2="495.6" y2="192.1" stroke="#2fd4d8" stroke-width="1.4"/><line x1="495.6" y1="192.1" x2="494.5" y2="196.5" stroke="#e08c8c" stroke-width="1.4"/><line x1="491.6" y1="187.5" x2="497.7" y2="188.1" stroke="#c8301e" stroke-width="1.4"/><line x1="497.7" y1="188.1" x2="501.4" y2="188.5" stroke="#e08c8c" stroke-width="1.4"/><line x1="491.6" y1="187.5" x2="491.5" y2="179.8" stroke="#c8301e" stroke-width="1.4"/><line x1="491.5" y1="179.8" x2="491.4" y2="174.4" stroke="#e08c8c" stroke-width="1.4"/><line x1="494.5" y1="159.6" x2="492.6" y2="168.5" stroke="#2fd4d8" stroke-width="1.4"/><line x1="492.6" y1="168.5" x2="491.4" y2="174.4" stroke="#e08c8c" stroke-width="1.4"/><line x1="459.4" y1="189" x2="464.4" y2="185.8" stroke="#c8301e" stroke-width="1.4"/><line x1="464.4" y1="185.8" x2="467.4" y2="183.8" stroke="#e08c8c" stroke-width="1.4"/><line x1="457.2" y1="179.6" x2="463.7" y2="182.3" stroke="#2fd4d8" stroke-width="1.4"/><line x1="463.7" y1="182.3" x2="467.4" y2="183.8" stroke="#e08c8c" stroke-width="1.4"/><line x1="459.4" y1="189" x2="453.4" y2="193.7" stroke="#c8301e" stroke-width="1.4"/><line x1="453.4" y1="193.7" x2="449.3" y2="197" stroke="#e08c8c" stroke-width="1.4"/><line x1="459.4" y1="189" x2="455.9" y2="182.7" stroke="#c8301e" stroke-width="1.4"/><line x1="455.9" y1="182.7" x2="453.6" y2="178.5" stroke="#e08c8c" stroke-width="1.4"/><line x1="520.3" y1="190.8" x2="526.7" y2="195.8" stroke="#c8301e" stroke-width="1.4"/><line x1="526.7" y1="195.8" x2="531.3" y2="199.4" stroke="#e08c8c" stroke-width="1.4"/><line x1="366.2" y1="29.4" x2="362.8" y2="36.7" stroke="#2fd4d8" stroke-width="1.4"/><line x1="362.8" y1="36.7" x2="360.7" y2="41.3" stroke="#e08c8c" stroke-width="1.4"/><line x1="366.2" y1="29.4" x2="365.9" y2="37.1" stroke="#2fd4d8" stroke-width="1.4"/><line x1="365.9" y1="37.1" x2="365.7" y2="41.8" stroke="#e08c8c" stroke-width="1.4"/><line x1="366.2" y1="29.4" x2="360.9" y2="35.2" stroke="#2fd4d8" stroke-width="1.4"/><line x1="360.9" y1="35.2" x2="357.7" y2="38.7" stroke="#e08c8c" stroke-width="1.4"/><line x1="363.4" y1="36.9" x2="354.2" y2="36.7" stroke="#2fd4d8" stroke-width="1.4"/><line x1="354.2" y1="36.7" x2="348.1" y2="36.5" stroke="#e08c8c" stroke-width="1.4"/><line x1="366.2" y1="29.4" x2="372.3" y2="35.5" stroke="#2fd4d8" stroke-width="1.4"/><line x1="372.3" y1="35.5" x2="376.2" y2="39.4" stroke="#e08c8c" stroke-width="1.4"/><line x1="363.4" y1="36.9" x2="371.3" y2="38.5" stroke="#2fd4d8" stroke-width="1.4"/><line x1="371.3" y1="38.5" x2="376.2" y2="39.4" stroke="#e08c8c" stroke-width="1.4"/><line x1="363.4" y1="36.9" x2="364.5" y2="29.1" stroke="#2fd4d8" stroke-width="1.4"/><line x1="364.5" y1="29.1" x2="365.2" y2="24.3" stroke="#e08c8c" stroke-width="1.4"/><line x1="366.2" y1="29.4" x2="375.2" y2="28.5" stroke="#2fd4d8" stroke-width="1.4"/><line x1="375.2" y1="28.5" x2="381.2" y2="28" stroke="#e08c8c" stroke-width="1.4"/><line x1="392.9" y1="30.8" x2="385.5" y2="29" stroke="#2fd4d8" stroke-width="1.4"/><line x1="385.5" y1="29" x2="381.2" y2="28" stroke="#e08c8c" stroke-width="1.4"/><line x1="392.9" y1="30.8" x2="400.5" y2="35.7" stroke="#2fd4d8" stroke-width="1.4"/><line x1="400.5" y1="35.7" x2="405.6" y2="39" stroke="#e08c8c" stroke-width="1.4"/><line x1="392.9" y1="30.8" x2="400.4" y2="30.9" stroke="#2fd4d8" stroke-width="1.4"/><line x1="400.4" y1="30.9" x2="404.9" y2="30.9" stroke="#e08c8c" stroke-width="1.4"/><line x1="424.8" y1="45.9" x2="431.8" y2="44.9" stroke="#2fd4d8" stroke-width="1.4"/><line x1="431.8" y1="44.9" x2="435.7" y2="44.4" stroke="#e08c8c" stroke-width="1.4"/><line x1="369.1" y1="63.1" x2="375.7" y2="68.6" stroke="#2fd4d8" stroke-width="1.4"/><line x1="375.7" y1="68.6" x2="380" y2="72.1" stroke="#e08c8c" stroke-width="1.4"/><line x1="409" y1="74.2" x2="408.8" y2="82.2" stroke="#2fd4d8" stroke-width="1.4"/><line x1="408.8" y1="82.2" x2="408.7" y2="87.1" stroke="#e08c8c" stroke-width="1.4"/><line x1="482.3" y1="34.4" x2="487.7" y2="29.8" stroke="#2fd4d8" stroke-width="1.4"/><line x1="487.7" y1="29.8" x2="490.8" y2="27.2" stroke="#e08c8c" stroke-width="1.4"/><line x1="508.1" y1="57.4" x2="508.2" y2="51.1" stroke="#2fd4d8" stroke-width="1.4"/><line x1="508.2" y1="51.1" x2="508.3" y2="47.8" stroke="#e08c8c" stroke-width="1.4"/><line x1="509.6" y1="32.3" x2="502.9" y2="38.7" stroke="#2fd4d8" stroke-width="1.4"/><line x1="502.9" y1="38.7" x2="498.4" y2="42.9" stroke="#e08c8c" stroke-width="1.4"/><line x1="493.8" y1="58.1" x2="496.5" y2="49" stroke="#2fd4d8" stroke-width="1.4"/><line x1="496.5" y1="49" x2="498.4" y2="42.9" stroke="#e08c8c" stroke-width="1.4"/><line x1="482.3" y1="34.4" x2="490.8" y2="35.1" stroke="#2fd4d8" stroke-width="1.4"/><line x1="490.8" y1="35.1" x2="496.4" y2="35.6" stroke="#e08c8c" stroke-width="1.4"/><line x1="509.6" y1="32.3" x2="501.5" y2="34.3" stroke="#2fd4d8" stroke-width="1.4"/><line x1="501.5" y1="34.3" x2="496.4" y2="35.6" stroke="#e08c8c" stroke-width="1.4"/><line x1="542.6" y1="38.7" x2="542.8" y2="30.1" stroke="#2fd4d8" stroke-width="1.4"/><line x1="542.8" y1="30.1" x2="542.9" y2="24.5" stroke="#e08c8c" stroke-width="1.4"/><line x1="542.6" y1="38.7" x2="539.2" y2="45.3" stroke="#2fd4d8" stroke-width="1.4"/><line x1="539.2" y1="45.3" x2="537.1" y2="49.1" stroke="#e08c8c" stroke-width="1.4"/><line x1="470.1" y1="94" x2="477.6" y2="91.6" stroke="#2fd4d8" stroke-width="1.4"/><line x1="477.6" y1="91.6" x2="482.2" y2="90.2" stroke="#e08c8c" stroke-width="1.4"/><line x1="496" y1="84.6" x2="487.7" y2="88" stroke="#2fd4d8" stroke-width="1.4"/><line x1="487.7" y1="88" x2="482.2" y2="90.2" stroke="#e08c8c" stroke-width="1.4"/><line x1="353" y1="104.3" x2="358.7" y2="110.1" stroke="#2fd4d8" stroke-width="1.4"/><line x1="358.7" y1="110.1" x2="362.3" y2="113.8" stroke="#e08c8c" stroke-width="1.4"/><line x1="353" y1="104.3" x2="353.6" y2="111.8" stroke="#2fd4d8" stroke-width="1.4"/><line x1="353.6" y1="111.8" x2="353.9" y2="116.2" stroke="#e08c8c" stroke-width="1.4"/><line x1="427.6" y1="115.8" x2="425" y2="107.1" stroke="#2fd4d8" stroke-width="1.4"/><line x1="425" y1="107.1" x2="423.2" y2="101.2" stroke="#e08c8c" stroke-width="1.4"/><line x1="409.7" y1="109.3" x2="417.5" y2="104.7" stroke="#c8301e" stroke-width="1.4"/><line x1="417.5" y1="104.7" x2="423.2" y2="101.2" stroke="#e08c8c" stroke-width="1.4"/><line x1="416.9" y1="140.2" x2="409.2" y2="136.5" stroke="#c8301e" stroke-width="1.4"/><line x1="409.2" y1="136.5" x2="403.6" y2="133.9" stroke="#e08c8c" stroke-width="1.4"/><line x1="340.8" y1="149.2" x2="333.4" y2="148.2" stroke="#2fd4d8" stroke-width="1.4"/><line x1="333.4" y1="148.2" x2="329.1" y2="147.6" stroke="#e08c8c" stroke-width="1.4"/><line x1="332.7" y1="133.7" x2="330.6" y2="141.8" stroke="#c8301e" stroke-width="1.4"/><line x1="330.6" y1="141.8" x2="329.1" y2="147.6" stroke="#e08c8c" stroke-width="1.4"/><line x1="360.2" y1="163.1" x2="352.3" y2="163.6" stroke="#c8301e" stroke-width="1.4"/><line x1="352.3" y1="163.6" x2="346.7" y2="163.9" stroke="#e08c8c" stroke-width="1.4"/><line x1="342.3" y1="172.5" x2="345.2" y2="166.9" stroke="#2fd4d8" stroke-width="1.4"/><line x1="345.2" y1="166.9" x2="346.7" y2="163.9" stroke="#e08c8c" stroke-width="1.4"/><line x1="360.2" y1="163.1" x2="368.8" y2="164" stroke="#c8301e" stroke-width="1.4"/><line x1="368.8" y1="164" x2="375.1" y2="164.7" stroke="#e08c8c" stroke-width="1.4"/><line x1="362.4" y1="155.3" x2="355.3" y2="161.6" stroke="#2fd4d8" stroke-width="1.4"/><line x1="355.3" y1="161.6" x2="350.5" y2="165.9" stroke="#e08c8c" stroke-width="1.4"/><line x1="362.4" y1="155.3" x2="368.6" y2="155.6" stroke="#2fd4d8" stroke-width="1.4"/><line x1="368.6" y1="155.6" x2="371.7" y2="155.8" stroke="#e08c8c" stroke-width="1.4"/><line x1="378.6" y1="156.7" x2="371" y2="158.7" stroke="#c8301e" stroke-width="1.4"/><line x1="371" y1="158.7" x2="365.6" y2="160.1" stroke="#e08c8c" stroke-width="1.4"/><line x1="373.1" y1="168.9" x2="368.4" y2="163.3" stroke="#2fd4d8" stroke-width="1.4"/><line x1="368.4" y1="163.3" x2="365.6" y2="160.1" stroke="#e08c8c" stroke-width="1.4"/><line x1="448.6" y1="166.7" x2="440.7" y2="165.8" stroke="#2fd4d8" stroke-width="1.4"/><line x1="440.7" y1="165.8" x2="435.8" y2="165.3" stroke="#e08c8c" stroke-width="1.4"/><line x1="502.8" y1="133.5" x2="500.1" y2="140.7" stroke="#c8301e" stroke-width="1.4"/><line x1="500.1" y1="140.7" x2="498.2" y2="145.6" stroke="#e08c8c" stroke-width="1.4"/><line x1="518.2" y1="181.1" x2="511.8" y2="176.2" stroke="#2fd4d8" stroke-width="1.4"/><line x1="511.8" y1="176.2" x2="507.8" y2="173.2" stroke="#e08c8c" stroke-width="1.4"/><line x1="497.4" y1="184.7" x2="503.6" y2="177.8" stroke="#2fd4d8" stroke-width="1.4"/><line x1="503.6" y1="177.8" x2="507.8" y2="173.2" stroke="#e08c8c" stroke-width="1.4"/><line x1="338.7" y1="41.6" x2="339.8" y2="47.4" stroke="#a4a8d0" stroke-width="1.4"/><line x1="339.8" y1="47.4" x2="340.8" y2="53.1" stroke="#2fd4d8" stroke-width="1.4"/><line x1="500.3" y1="171" x2="497.4" y2="165.3" stroke="#a4a8d0" stroke-width="1.4"/><line x1="497.4" y1="165.3" x2="494.5" y2="159.6" stroke="#2fd4d8" stroke-width="1.4"/><circle cx="536.7" cy="172.6" r="2.2" fill="url(#gO)"/><circle cx="507.3" cy="89.1" r="2.2" fill="url(#gO)"/><circle cx="480.7" cy="64.6" r="2.2" fill="url(#gO)"/><circle cx="538.8" cy="111.1" r="2.2" fill="url(#gO)"/><circle cx="360.7" cy="41.3" r="2.2" fill="url(#gO)"/><circle cx="466" cy="58.4" r="2.2" fill="url(#gO)"/><circle cx="440.3" cy="179.7" r="2.2" fill="url(#gO)"/><circle cx="450.7" cy="128.4" r="2.2" fill="url(#gO)"/><circle cx="510.2" cy="148.9" r="2.2" fill="url(#gO)"/><circle cx="504.2" cy="90.2" r="2.2" fill="url(#gO)"/><circle cx="433.1" cy="116.7" r="2.2" fill="url(#gO)"/><circle cx="413.8" cy="146.1" r="2.2" fill="url(#gO)"/><circle cx="521.1" cy="108.9" r="2.2" fill="url(#gO)"/><circle cx="380" cy="72.1" r="2.2" fill="url(#gO)"/><circle cx="379.9" cy="113.8" r="2.2" fill="url(#gO)"/><circle cx="405.4" cy="105.8" r="2.2" fill="url(#gO)"/><circle cx="503.9" cy="125.7" r="2.2" fill="url(#gO)"/><circle cx="519.4" cy="182.8" r="2.2" fill="url(#gO)"/><circle cx="369.2" cy="150.4" r="2.2" fill="url(#gO)"/><circle cx="346.4" cy="191.2" r="2.2" fill="url(#gO)"/><circle cx="375.1" cy="164.7" r="2.2" fill="url(#gO)"/><circle cx="514.1" cy="128" r="2.2" fill="url(#gO)"/><circle cx="358.2" cy="99.4" r="2.2" fill="url(#gO)"/><circle cx="432.5" cy="49.1" r="2.2" fill="url(#gO)"/><circle cx="383.7" cy="164" r="2.2" fill="url(#gO)"/><circle cx="423.4" cy="124.8" r="2.2" fill="url(#gO)"/><circle cx="511" cy="73" r="2.2" fill="url(#gO)"/><circle cx="333.8" cy="124.4" r="2.2" fill="url(#gO)"/><circle cx="508.8" cy="58.6" r="2.2" fill="url(#gO)"/><circle cx="494.5" cy="196.5" r="2.2" fill="url(#gO)"/><circle cx="381.8" cy="51.7" r="2.2" fill="url(#gO)"/><circle cx="467.4" cy="183.8" r="2.2" fill="url(#gO)"/><circle cx="448.5" cy="69.6" r="2.2" fill="url(#gO)"/><circle cx="366.8" cy="85.8" r="2.2" fill="url(#gO)"/><circle cx="444.2" cy="69.6" r="2.2" fill="url(#gO)"/><circle cx="509.2" cy="171.3" r="2.2" fill="url(#gO)"/><circle cx="446.9" cy="110.9" r="2.2" fill="url(#gO)"/><circle cx="468.1" cy="140" r="2.2" fill="url(#gO)"/><circle cx="423.2" cy="101.2" r="2.2" fill="url(#gO)"/><circle cx="473.3" cy="81.2" r="2.2" fill="url(#gO)"/><circle cx="534.9" cy="26.2" r="2.2" fill="url(#gO)"/><circle cx="392.3" cy="90.7" r="2.2" fill="url(#gO)"/><circle cx="405.6" cy="39" r="2.2" fill="url(#gO)"/><circle cx="324.8" cy="79.3" r="2.2" fill="url(#gO)"/><circle cx="471.3" cy="159.4" r="2.2" fill="url(#gO)"/><circle cx="418.4" cy="49" r="2.2" fill="url(#gO)"/><circle cx="482.8" cy="120.6" r="2.2" fill="url(#gO)"/><circle cx="325.8" cy="53.9" r="2.2" fill="url(#gO)"/><circle cx="368" cy="170.8" r="2.2" fill="url(#gO)"/><circle cx="442.4" cy="117.4" r="2.2" fill="url(#gO)"/><circle cx="371.7" cy="155.8" r="2.2" fill="url(#gO)"/><circle cx="385.7" cy="118.9" r="2.2" fill="url(#gO)"/><circle cx="490.8" cy="27.2" r="2.2" fill="url(#gO)"/><circle cx="365.6" cy="160.1" r="2.2" fill="url(#gO)"/><circle cx="400.4" cy="115.8" r="2.2" fill="url(#gO)"/><circle cx="381" cy="91.8" r="5.3" fill="url(#gL)"/><circle cx="372.8" cy="184.9" r="2.2" fill="url(#gO)"/><circle cx="480.2" cy="118" r="5.3" fill="url(#gL)"/><circle cx="402.6" cy="175.1" r="2.2" fill="url(#gO)"/><circle cx="419.8" cy="160" r="2.2" fill="url(#gO)"/><circle cx="491.6" cy="114.4" r="4.6" fill="url(#gV)"/><circle cx="469.8" cy="60.2" r="4.6" fill="url(#gV)"/><circle cx="393.5" cy="175.3" r="2.2" fill="url(#gO)"/><circle cx="423.3" cy="154.1" r="5.3" fill="url(#gL)"/><circle cx="502.8" cy="133.5" r="4.6" fill="url(#gV)"/><circle cx="526.1" cy="127.7" r="5.3" fill="url(#gL)"/><circle cx="427.6" cy="115.8" r="5.3" fill="url(#gL)"/><circle cx="375" cy="139.1" r="2.2" fill="url(#gO)"/><circle cx="474.4" cy="149.3" r="2.2" fill="url(#gO)"/><circle cx="470.1" cy="94" r="5.3" fill="url(#gL)"/><circle cx="498.4" cy="42.9" r="2.2" fill="url(#gO)"/><circle cx="515.3" cy="151.7" r="4.6" fill="url(#gV)"/><circle cx="416.2" cy="99.3" r="2.2" fill="url(#gO)"/><circle cx="447.9" cy="95.3" r="2.2" fill="url(#gO)"/><circle cx="444.3" cy="158.1" r="5.3" fill="url(#gL)"/><circle cx="402.8" cy="123.6" r="2.2" fill="url(#gO)"/><circle cx="503.3" cy="110.7" r="2.2" fill="url(#gO)"/><circle cx="517.5" cy="158.1" r="5.3" fill="url(#gL)"/><circle cx="436" cy="34.5" r="2.2" fill="url(#gO)"/><circle cx="374.6" cy="80.3" r="4.6" fill="url(#gV)"/><circle cx="409.7" cy="109.3" r="4.6" fill="url(#gV)"/><circle cx="420.6" cy="78.8" r="2.2" fill="url(#gO)"/><circle cx="373.1" cy="168.9" r="5.3" fill="url(#gL)"/><circle cx="388" cy="113" r="2.2" fill="url(#gO)"/><circle cx="417.6" cy="96.3" r="5.3" fill="url(#gL)"/><circle cx="360.2" cy="163.1" r="4.6" fill="url(#gV)"/><circle cx="482.3" cy="134.5" r="5.3" fill="url(#gL)"/><circle cx="339.8" cy="68.8" r="2.2" fill="url(#gO)"/><circle cx="421.2" cy="133.7" r="4.6" fill="url(#gV)"/><circle cx="342.3" cy="172.5" r="5.3" fill="url(#gL)"/><circle cx="425.5" cy="40.9" r="4.6" fill="url(#gV)"/><circle cx="358.1" cy="150.5" r="2.2" fill="url(#gO)"/><circle cx="353.9" cy="116.2" r="2.2" fill="url(#gO)"/><circle cx="449.3" cy="197" r="2.2" fill="url(#gO)"/><circle cx="340.8" cy="53.1" r="5.3" fill="url(#gL)"/><circle cx="432.3" cy="54.2" r="2.2" fill="url(#gO)"/><circle cx="448.6" cy="128.8" r="2.2" fill="url(#gO)"/><circle cx="462.4" cy="82.5" r="2.2" fill="url(#gO)"/><circle cx="442.9" cy="143.8" r="5.3" fill="url(#gL)"/><circle cx="413.3" cy="68.8" r="4.6" fill="url(#gV)"/><circle cx="491.4" cy="174.4" r="2.2" fill="url(#gO)"/><circle cx="390.9" cy="104.2" r="2.2" fill="url(#gO)"/><circle cx="380.3" cy="121.5" r="4.6" fill="url(#gV)"/><circle cx="530.6" cy="54.6" r="2.2" fill="url(#gO)"/><circle cx="403.6" cy="133.9" r="2.2" fill="url(#gO)"/><circle cx="329.1" cy="147.6" r="2.2" fill="url(#gO)"/><circle cx="434.8" cy="82.5" r="5.3" fill="url(#gL)"/><circle cx="475.8" cy="181.3" r="2.2" fill="url(#gO)"/><circle cx="509.6" cy="32.3" r="5.3" fill="url(#gL)"/><circle cx="524.2" cy="55.4" r="2.2" fill="url(#gO)"/><circle cx="542.9" cy="24.5" r="2.2" fill="url(#gO)"/><circle cx="468.8" cy="171.3" r="2.2" fill="url(#gO)"/><circle cx="418" cy="56.2" r="2.2" fill="url(#gO)"/><circle cx="493.8" cy="58.1" r="5.3" fill="url(#gL)"/><circle cx="344.4" cy="183.2" r="4.6" fill="url(#gV)"/><circle cx="383.2" cy="180.4" r="4.6" fill="url(#gV)"/><circle cx="488.1" cy="116.5" r="5.3" fill="url(#gL)"/><circle cx="344.6" cy="169.7" r="2.2" fill="url(#gO)"/><circle cx="508.1" cy="88.2" r="4.6" fill="url(#gV)"/><circle cx="383.9" cy="61" r="4.6" fill="url(#gV)"/><circle cx="388.1" cy="81.1" r="2.2" fill="url(#gO)"/><circle cx="379.4" cy="95.7" r="2.2" fill="url(#gO)"/><circle cx="473.6" cy="103.3" r="2.2" fill="url(#gO)"/><circle cx="366" cy="151.5" r="2.2" fill="url(#gO)"/><circle cx="410.8" cy="142.4" r="2.2" fill="url(#gO)"/><circle cx="518.2" cy="58.8" r="4.6" fill="url(#gV)"/><circle cx="399.7" cy="70" r="2.2" fill="url(#gO)"/><circle cx="468" cy="105.5" r="2.2" fill="url(#gO)"/><circle cx="333.1" cy="99.8" r="2.2" fill="url(#gO)"/><circle cx="381.7" cy="129.4" r="4.6" fill="url(#gV)"/><circle cx="446.8" cy="65.1" r="2.2" fill="url(#gO)"/><circle cx="435.8" cy="165.3" r="2.2" fill="url(#gO)"/><circle cx="408.7" cy="87.1" r="2.2" fill="url(#gO)"/><circle cx="514.1" cy="149.2" r="2.2" fill="url(#gO)"/><circle cx="395.8" cy="68" r="2.2" fill="url(#gO)"/><circle cx="435.5" cy="57.4" r="4.6" fill="url(#gV)"/><circle cx="321.6" cy="141.9" r="2.2" fill="url(#gO)"/><circle cx="363.4" cy="36.9" r="5.3" fill="url(#gL)"/><circle cx="482.3" cy="34.4" r="5.3" fill="url(#gL)"/><circle cx="424.8" cy="45.9" r="5.3" fill="url(#gL)"/><circle cx="453" cy="154.9" r="2.2" fill="url(#gO)"/><circle cx="413.6" cy="104.1" r="2.2" fill="url(#gO)"/><circle cx="376.2" cy="39.4" r="2.2" fill="url(#gO)"/><circle cx="467.3" cy="141.6" r="5.3" fill="url(#gL)"/><circle cx="401.8" cy="111.5" r="4.6" fill="url(#gV)"/><circle cx="349.5" cy="69.3" r="5.3" fill="url(#gL)"/><circle cx="449.8" cy="105.6" r="2.2" fill="url(#gO)"/><circle cx="510.9" cy="144.9" r="2.2" fill="url(#gO)"/><circle cx="466.5" cy="158.1" r="4.6" fill="url(#gV)"/><circle cx="528.1" cy="157.3" r="2.2" fill="url(#gO)"/><circle cx="531.3" cy="199.4" r="2.2" fill="url(#gO)"/><circle cx="381.7" cy="134.2" r="2.2" fill="url(#gO)"/><circle cx="429.2" cy="133.6" r="2.2" fill="url(#gO)"/><circle cx="346" cy="81" r="2.2" fill="url(#gO)"/><circle cx="446.5" cy="107.2" r="4.6" fill="url(#gV)"/><circle cx="456.5" cy="75.3" r="5.3" fill="url(#gL)"/><circle cx="392.9" cy="30.8" r="5.3" fill="url(#gL)"/><circle cx="477.3" cy="168.2" r="4.6" fill="url(#gV)"/><circle cx="435.7" cy="44.4" r="2.2" fill="url(#gO)"/><circle cx="508.1" cy="57.4" r="5.3" fill="url(#gL)"/><circle cx="391.8" cy="129.5" r="2.2" fill="url(#gO)"/><circle cx="372.3" cy="77.2" r="2.2" fill="url(#gO)"/><circle cx="498.2" cy="145.6" r="2.2" fill="url(#gO)"/><circle cx="508.3" cy="47.8" r="2.2" fill="url(#gO)"/><circle cx="501.9" cy="109.2" r="2.2" fill="url(#gO)"/><circle cx="457.3" cy="145.7" r="2.2" fill="url(#gO)"/><circle cx="497.4" cy="184.7" r="5.3" fill="url(#gL)"/><circle cx="492" cy="90.1" r="2.2" fill="url(#gO)"/><circle cx="507.4" cy="95.4" r="4.6" fill="url(#gV)"/><circle cx="373.2" cy="70" r="2.2" fill="url(#gO)"/><circle cx="525.8" cy="78.2" r="5.3" fill="url(#gL)"/><circle cx="344.3" cy="141.6" r="2.2" fill="url(#gO)"/><circle cx="368.9" cy="129.6" r="2.2" fill="url(#gO)"/><circle cx="439.5" cy="115" r="4.6" fill="url(#gV)"/><circle cx="478" cy="90.4" r="4.6" fill="url(#gV)"/><circle cx="332.7" cy="133.7" r="4.6" fill="url(#gV)"/><circle cx="459.8" cy="126.5" r="2.2" fill="url(#gO)"/><circle cx="521.2" cy="97.8" r="2.2" fill="url(#gO)"/><circle cx="556.3" cy="113.8" r="2.2" fill="url(#gO)"/><circle cx="358.9" cy="134.2" r="2.2" fill="url(#gO)"/><circle cx="423.2" cy="184.3" r="2.2" fill="url(#gO)"/><circle cx="477.4" cy="71.9" r="2.2" fill="url(#gO)"/><circle cx="490.9" cy="165.1" r="2.2" fill="url(#gO)"/><circle cx="508.6" cy="198.4" r="2.2" fill="url(#gO)"/><circle cx="516.1" cy="91.4" r="2.2" fill="url(#gO)"/><circle cx="489.5" cy="137.4" r="2.2" fill="url(#gO)"/><circle cx="500.5" cy="107.4" r="2.2" fill="url(#gO)"/><circle cx="371" cy="66.9" r="2.2" fill="url(#gO)"/><circle cx="496.6" cy="69.4" r="2.2" fill="url(#gO)"/><circle cx="347.9" cy="169.4" r="2.2" fill="url(#gO)"/><circle cx="529.2" cy="173.9" r="2.2" fill="url(#gO)"/><circle cx="496.8" cy="135.1" r="2.2" fill="url(#gO)"/><circle cx="411.1" cy="167.5" r="4.6" fill="url(#gV)"/><circle cx="482.2" cy="90.2" r="2.2" fill="url(#gO)"/><circle cx="432.8" cy="141.1" r="2.2" fill="url(#gO)"/><circle cx="366.7" cy="100.5" r="4.6" fill="url(#gV)"/><circle cx="424.7" cy="65.9" r="2.2" fill="url(#gO)"/><circle cx="432" cy="34.4" r="5.3" fill="url(#gL)"/><circle cx="520.3" cy="190.8" r="4.6" fill="url(#gV)"/><circle cx="387.3" cy="146.2" r="2.2" fill="url(#gO)"/><circle cx="370.3" cy="142.3" r="4.6" fill="url(#gV)"/><circle cx="457.2" cy="179.6" r="5.3" fill="url(#gL)"/><circle cx="451.5" cy="133" r="4.6" fill="url(#gV)"/><circle cx="348.1" cy="36.5" r="2.2" fill="url(#gO)"/><circle cx="460.8" cy="133" r="4.6" fill="url(#gV)"/><circle cx="406.9" cy="131" r="2.2" fill="url(#gO)"/><circle cx="333" cy="86.1" r="4.6" fill="url(#gV)"/><circle cx="396.8" cy="123.7" r="5.3" fill="url(#gL)"/><circle cx="521.5" cy="86.6" r="2.2" fill="url(#gO)"/><circle cx="340.8" cy="149.2" r="5.3" fill="url(#gL)"/><circle cx="367.7" cy="113.9" r="2.2" fill="url(#gO)"/><circle cx="540.7" cy="158.9" r="2.2" fill="url(#gO)"/><circle cx="401.8" cy="140.2" r="5.3" fill="url(#gL)"/><circle cx="515.3" cy="105.3" r="4.6" fill="url(#gV)"/><circle cx="450.8" cy="76.7" r="4.6" fill="url(#gV)"/><circle cx="443.6" cy="194.1" r="2.2" fill="url(#gO)"/><circle cx="477.4" cy="49.2" r="2.2" fill="url(#gO)"/><circle cx="468.1" cy="121.8" r="2.2" fill="url(#gO)"/><circle cx="444.8" cy="127.2" r="2.2" fill="url(#gO)"/><circle cx="483.5" cy="50.8" r="2.2" fill="url(#gO)"/><circle cx="500.7" cy="77.2" r="2.2" fill="url(#gO)"/><circle cx="503.3" cy="57.6" r="2.2" fill="url(#gO)"/><circle cx="400.4" cy="87.5" r="5.3" fill="url(#gL)"/><circle cx="437" cy="182.5" r="4.6" fill="url(#gV)"/><circle cx="542.6" cy="38.7" r="5.3" fill="url(#gL)"/><circle cx="419.1" cy="118.5" r="2.2" fill="url(#gO)"/><circle cx="523.9" cy="174.4" r="2.2" fill="url(#gO)"/><circle cx="442.3" cy="86.7" r="2.2" fill="url(#gO)"/><circle cx="369.1" cy="63.1" r="5.3" fill="url(#gL)"/><circle cx="519.3" cy="71.8" r="2.2" fill="url(#gO)"/><circle cx="375.9" cy="97.4" r="2.2" fill="url(#gO)"/><circle cx="545.8" cy="181.2" r="2.2" fill="url(#gO)"/><circle cx="542.6" cy="111.1" r="4.6" fill="url(#gV)"/><circle cx="416.9" cy="31.3" r="2.2" fill="url(#gO)"/><circle cx="485.5" cy="103" r="2.2" fill="url(#gO)"/><circle cx="479.1" cy="190.6" r="2.2" fill="url(#gO)"/><circle cx="438.6" cy="133.6" r="2.2" fill="url(#gO)"/><circle cx="539.9" cy="98.6" r="2.2" fill="url(#gO)"/><circle cx="491.6" cy="187.5" r="4.6" fill="url(#gV)"/><circle cx="332" cy="186.2" r="2.2" fill="url(#gO)"/><circle cx="503" cy="99.9" r="2.2" fill="url(#gO)"/><circle cx="365.2" cy="24.3" r="2.2" fill="url(#gO)"/><circle cx="458.8" cy="110.6" r="2.2" fill="url(#gO)"/><circle cx="393" cy="135.1" r="2.2" fill="url(#gO)"/><circle cx="365.7" cy="41.8" r="2.2" fill="url(#gO)"/><circle cx="514.6" cy="64.5" r="4.6" fill="url(#gV)"/><circle cx="346.7" cy="163.9" r="2.2" fill="url(#gO)"/><circle cx="378.6" cy="156.7" r="4.6" fill="url(#gV)"/><circle cx="506.9" cy="160.7" r="2.2" fill="url(#gO)"/><circle cx="451.7" cy="54.5" r="2.2" fill="url(#gO)"/><circle cx="507.8" cy="173.2" r="2.2" fill="url(#gO)"/><circle cx="535.4" cy="120.9" r="2.2" fill="url(#gO)"/><circle cx="338.7" cy="41.6" r="2.4" fill="url(#gF)"/><circle cx="493.4" cy="23.9" r="2.4" fill="url(#gF)"/><circle cx="345.9" cy="189" r="2.4" fill="url(#gF)"/><circle cx="426.9" cy="137.3" r="2.4" fill="url(#gF)"/><circle cx="500.3" cy="171" r="2.4" fill="url(#gF)"/><circle cx="496.4" cy="35.6" r="2.2" fill="url(#gO)"/><circle cx="453.6" cy="178.5" r="2.2" fill="url(#gO)"/><circle cx="474.4" cy="71.6" r="2.2" fill="url(#gO)"/><circle cx="404.9" cy="30.9" r="2.2" fill="url(#gO)"/><circle cx="362.4" cy="155.3" r="5.3" fill="url(#gL)"/><circle cx="516.1" cy="139.8" r="2.2" fill="url(#gO)"/><circle cx="459.4" cy="124.2" r="2.2" fill="url(#gO)"/><circle cx="388.1" cy="191" r="2.2" fill="url(#gO)"/><circle cx="403.5" cy="158.9" r="2.2" fill="url(#gO)"/><circle cx="442.2" cy="62.4" r="4.6" fill="url(#gV)"/><circle cx="352.9" cy="55.2" r="2.2" fill="url(#gO)"/><circle cx="536.8" cy="171.8" r="4.6" fill="url(#gV)"/><circle cx="458.4" cy="61.3" r="2.2" fill="url(#gO)"/><circle cx="440.9" cy="171.8" r="2.2" fill="url(#gO)"/><circle cx="459.4" cy="189" r="4.6" fill="url(#gV)"/><circle cx="418.6" cy="176" r="2.2" fill="url(#gO)"/><circle cx="350.5" cy="165.9" r="2.2" fill="url(#gO)"/><circle cx="378.4" cy="170.3" r="2.2" fill="url(#gO)"/><circle cx="372" cy="129.7" r="5.3" fill="url(#gL)"/><circle cx="467.3" cy="196.8" r="2.2" fill="url(#gO)"/><circle cx="409" cy="74.2" r="5.3" fill="url(#gL)"/><circle cx="416.9" cy="140.2" r="4.6" fill="url(#gV)"/><circle cx="436.3" cy="71.3" r="2.2" fill="url(#gO)"/><circle cx="490.2" cy="158.1" r="5.3" fill="url(#gL)"/><circle cx="328.1" cy="53.5" r="2.2" fill="url(#gO)"/><circle cx="354.6" cy="185.6" r="2.2" fill="url(#gO)"/><circle cx="430.3" cy="110.4" r="2.2" fill="url(#gO)"/><circle cx="358.8" cy="141.2" r="5.3" fill="url(#gL)"/><circle cx="537.1" cy="49.1" r="2.2" fill="url(#gO)"/><circle cx="494.5" cy="159.6" r="5.3" fill="url(#gL)"/><circle cx="483.8" cy="64.1" r="4.6" fill="url(#gV)"/><circle cx="518.2" cy="181.1" r="5.3" fill="url(#gL)"/><circle cx="417.7" cy="150.1" r="2.2" fill="url(#gO)"/><circle cx="373.1" cy="124.5" r="2.2" fill="url(#gO)"/><circle cx="503.7" cy="86.2" r="2.2" fill="url(#gO)"/><circle cx="501.4" cy="188.5" r="2.2" fill="url(#gO)"/><circle cx="436.9" cy="105.4" r="2.2" fill="url(#gO)"/><circle cx="381.2" cy="28" r="2.2" fill="url(#gO)"/><circle cx="456.5" cy="112.9" r="4.6" fill="url(#gV)"/><circle cx="514.1" cy="50.2" r="2.2" fill="url(#gO)"/><circle cx="494.9" cy="123.3" r="2.2" fill="url(#gO)"/><circle cx="430.7" cy="48.8" r="2.2" fill="url(#gO)"/><circle cx="388.5" cy="100.5" r="4.6" fill="url(#gV)"/><circle cx="454.2" cy="67.9" r="2.2" fill="url(#gO)"/><circle cx="448.6" cy="166.7" r="5.3" fill="url(#gL)"/><circle cx="397.8" cy="101" r="2.2" fill="url(#gO)"/><circle cx="522.1" cy="111.6" r="2.2" fill="url(#gO)"/><circle cx="519.9" cy="72.1" r="2.2" fill="url(#gO)"/><circle cx="510.6" cy="135.9" r="4.6" fill="url(#gV)"/><circle cx="361.6" cy="93" r="2.2" fill="url(#gO)"/><circle cx="375.3" cy="106.5" r="5.3" fill="url(#gL)"/><circle cx="362.3" cy="113.8" r="2.2" fill="url(#gO)"/><circle cx="353" cy="104.3" r="5.3" fill="url(#gL)"/><circle cx="403" cy="103.5" r="2.2" fill="url(#gO)"/><circle cx="366.2" cy="29.4" r="5.3" fill="url(#gL)"/><circle cx="458.4" cy="141.4" r="2.2" fill="url(#gO)"/><circle cx="507" cy="126.1" r="2.2" fill="url(#gO)"/><circle cx="496" cy="84.6" r="5.3" fill="url(#gL)"/><circle cx="377.3" cy="165.1" r="2.2" fill="url(#gO)"/><circle cx="380.5" cy="113.1" r="2.2" fill="url(#gO)"/><circle cx="521.9" cy="182.6" r="2.2" fill="url(#gO)"/><circle cx="438" cy="49.5" r="2.2" fill="url(#gO)"/><circle cx="517.4" cy="131.3" r="2.2" fill="url(#gO)"/><circle cx="371.4" cy="150.4" r="2.2" fill="url(#gO)"/><circle cx="417.8" cy="126.5" r="2.2" fill="url(#gO)"/><circle cx="372.5" cy="87.5" r="2.2" fill="url(#gO)"/><circle cx="331.1" cy="126.9" r="2.2" fill="url(#gO)"/><circle cx="384.8" cy="54.3" r="2.2" fill="url(#gO)"/><circle cx="366.8" cy="161.7" r="2.2" fill="url(#gO)"/><circle cx="451.4" cy="108.6" r="2.2" fill="url(#gO)"/><circle cx="471.2" cy="166.9" r="2.2" fill="url(#gO)"/><circle cx="473" cy="87" r="2.2" fill="url(#gO)"/><circle cx="328.1" cy="84.3" r="2.2" fill="url(#gO)"/><circle cx="357.7" cy="38.7" r="2.2" fill="url(#gO)"/><circle cx="469.8" cy="156.9" r="2.2" fill="url(#gO)"/><circle cx="399.9" cy="114" r="2.2" fill="url(#gO)"/><circle cx="414.9" cy="70.1" r="2.2" fill="url(#gO)"/><line x1="678.9" y1="44.9" x2="685.8" y2="39.1" stroke="#c8301e" stroke-width="2.9"/><line x1="685.8" y1="39.1" x2="689.7" y2="35.8" stroke="#e08c8c" stroke-width="2.9"/><line x1="678.9" y1="44.9" x2="682.4" y2="34.6" stroke="#c8301e" stroke-width="2.9"/><line x1="682.4" y1="34.6" x2="684.7" y2="28" stroke="#e08c8c" stroke-width="2.9"/><line x1="678.9" y1="44.9" x2="688.3" y2="37.4" stroke="#c8301e" stroke-width="2.9"/><line x1="688.3" y1="37.4" x2="694.7" y2="32.3" stroke="#e08c8c" stroke-width="2.9"/><line x1="678.9" y1="44.9" x2="665.2" y2="45.9" stroke="#c8301e" stroke-width="2.9"/><line x1="665.2" y1="45.9" x2="655.3" y2="46.6" stroke="#e08c8c" stroke-width="2.9"/><line x1="678.9" y1="44.9" x2="684.4" y2="57.6" stroke="#c8301e" stroke-width="2.9"/><line x1="684.4" y1="57.6" x2="688.3" y2="66.7" stroke="#e08c8c" stroke-width="2.9"/><line x1="666.4" y1="83.2" x2="659.4" y2="89.5" stroke="#c8301e" stroke-width="2.9"/><line x1="659.4" y1="89.5" x2="655.3" y2="93.2" stroke="#e08c8c" stroke-width="2.9"/><line x1="666.4" y1="83.2" x2="661.3" y2="92.6" stroke="#c8301e" stroke-width="2.9"/><line x1="661.3" y1="92.6" x2="658.1" y2="98.6" stroke="#e08c8c" stroke-width="2.9"/><line x1="666.4" y1="83.2" x2="663.2" y2="70.2" stroke="#c8301e" stroke-width="2.9"/><line x1="663.2" y1="70.2" x2="661" y2="61" stroke="#e08c8c" stroke-width="2.9"/><line x1="666.4" y1="83.2" x2="660.4" y2="70.3" stroke="#c8301e" stroke-width="2.9"/><line x1="660.4" y1="70.3" x2="656" y2="61" stroke="#e08c8c" stroke-width="2.9"/><line x1="666.4" y1="83.2" x2="680.7" y2="80.7" stroke="#c8301e" stroke-width="2.9"/><line x1="680.7" y1="80.7" x2="691.1" y2="78.9" stroke="#e08c8c" stroke-width="2.9"/><line x1="668.2" y1="101" x2="660.8" y2="99.2" stroke="#c8301e" stroke-width="2.9"/><line x1="660.8" y1="99.2" x2="658.1" y2="98.6" stroke="#e08c8c" stroke-width="2.9"/><line x1="668.2" y1="101" x2="660.1" y2="96.1" stroke="#c8301e" stroke-width="2.9"/><line x1="660.1" y1="96.1" x2="655.3" y2="93.2" stroke="#e08c8c" stroke-width="2.9"/><line x1="668.2" y1="101" x2="682.2" y2="105.8" stroke="#c8301e" stroke-width="2.9"/><line x1="682.2" y1="105.8" x2="692.6" y2="109.3" stroke="#e08c8c" stroke-width="2.9"/><line x1="668.2" y1="101" x2="659.5" y2="113.6" stroke="#c8301e" stroke-width="2.9"/><line x1="659.5" y1="113.6" x2="653.1" y2="123" stroke="#e08c8c" stroke-width="2.9"/><line x1="670.3" y1="108.6" x2="662.7" y2="102.4" stroke="#c8301e" stroke-width="2.9"/><line x1="662.7" y1="102.4" x2="658.1" y2="98.6" stroke="#e08c8c" stroke-width="2.9"/><line x1="670.3" y1="108.6" x2="661.4" y2="99.5" stroke="#c8301e" stroke-width="2.9"/><line x1="661.4" y1="99.5" x2="655.3" y2="93.2" stroke="#e08c8c" stroke-width="2.9"/><line x1="670.3" y1="108.6" x2="683.4" y2="109" stroke="#c8301e" stroke-width="2.9"/><line x1="683.4" y1="109" x2="692.6" y2="109.3" stroke="#e08c8c" stroke-width="2.9"/><line x1="670.3" y1="108.6" x2="660.2" y2="117.1" stroke="#c8301e" stroke-width="2.9"/><line x1="660.2" y1="117.1" x2="653.1" y2="123" stroke="#e08c8c" stroke-width="2.9"/><line x1="670.3" y1="108.6" x2="684" y2="112" stroke="#c8301e" stroke-width="2.9"/><line x1="684" y1="112" x2="694" y2="114.4" stroke="#e08c8c" stroke-width="2.9"/><line x1="738.7" y1="45.9" x2="735.4" y2="38.7" stroke="#c8301e" stroke-width="2.9"/><line x1="735.4" y1="38.7" x2="733.7" y2="35.1" stroke="#e08c8c" stroke-width="2.9"/><line x1="738.7" y1="45.9" x2="731.6" y2="38.4" stroke="#c8301e" stroke-width="2.9"/><line x1="731.6" y1="38.4" x2="727.2" y2="33.7" stroke="#e08c8c" stroke-width="2.9"/><line x1="738.7" y1="45.9" x2="729.8" y2="38.6" stroke="#c8301e" stroke-width="2.9"/><line x1="729.8" y1="38.6" x2="724" y2="33.7" stroke="#e08c8c" stroke-width="2.9"/><line x1="738.7" y1="45.9" x2="732" y2="57.3" stroke="#c8301e" stroke-width="2.9"/><line x1="732" y1="57.3" x2="727.2" y2="65.3" stroke="#e08c8c" stroke-width="2.9"/><line x1="738.7" y1="45.9" x2="736.2" y2="59.3" stroke="#c8301e" stroke-width="2.9"/><line x1="736.2" y1="59.3" x2="734.4" y2="68.8" stroke="#e08c8c" stroke-width="2.9"/><line x1="826.9" y1="45.9" x2="833.8" y2="40.4" stroke="#c8301e" stroke-width="2.9"/><line x1="833.8" y1="40.4" x2="837.7" y2="37.3" stroke="#e08c8c" stroke-width="2.9"/><line x1="826.9" y1="45.9" x2="830.4" y2="35.8" stroke="#c8301e" stroke-width="2.9"/><line x1="830.4" y1="35.8" x2="832.6" y2="29.4" stroke="#e08c8c" stroke-width="2.9"/><line x1="826.9" y1="45.9" x2="836.3" y2="38.6" stroke="#c8301e" stroke-width="2.9"/><line x1="836.3" y1="38.6" x2="842.7" y2="33.7" stroke="#e08c8c" stroke-width="2.9"/><line x1="826.9" y1="45.9" x2="813.5" y2="46.7" stroke="#c8301e" stroke-width="2.9"/><line x1="813.5" y1="46.7" x2="804" y2="47.3" stroke="#e08c8c" stroke-width="2.9"/><line x1="826.9" y1="45.9" x2="832.8" y2="58.4" stroke="#c8301e" stroke-width="2.9"/><line x1="832.8" y1="58.4" x2="837" y2="67.4" stroke="#e08c8c" stroke-width="2.9"/><line x1="754.5" y1="83.2" x2="760.8" y2="87.5" stroke="#c8301e" stroke-width="2.9"/><line x1="760.8" y1="87.5" x2="763.8" y2="89.6" stroke="#e08c8c" stroke-width="2.9"/><line x1="754.5" y1="83.2" x2="761.8" y2="91.5" stroke="#c8301e" stroke-width="2.9"/><line x1="761.8" y1="91.5" x2="766.6" y2="96.8" stroke="#e08c8c" stroke-width="2.9"/><line x1="754.5" y1="83.2" x2="759.2" y2="93.4" stroke="#c8301e" stroke-width="2.9"/><line x1="759.2" y1="93.4" x2="762.3" y2="100" stroke="#e08c8c" stroke-width="2.9"/><line x1="754.5" y1="83.2" x2="756.6" y2="70.9" stroke="#c8301e" stroke-width="2.9"/><line x1="756.6" y1="70.9" x2="758" y2="62.4" stroke="#e08c8c" stroke-width="2.9"/><line x1="754.5" y1="83.2" x2="760.7" y2="71.1" stroke="#c8301e" stroke-width="2.9"/><line x1="760.7" y1="71.1" x2="765.2" y2="62.4" stroke="#e08c8c" stroke-width="2.9"/><line x1="746.6" y1="83.2" x2="736.4" y2="81" stroke="#c8301e" stroke-width="2.9"/><line x1="736.4" y1="81" x2="730.1" y2="79.6" stroke="#e08c8c" stroke-width="2.9"/><line x1="746.6" y1="83.2" x2="757" y2="87.1" stroke="#c8301e" stroke-width="2.9"/><line x1="757" y1="87.1" x2="763.8" y2="89.6" stroke="#e08c8c" stroke-width="2.9"/><line x1="746.6" y1="83.2" x2="739.2" y2="74.5" stroke="#c8301e" stroke-width="2.9"/><line x1="739.2" y1="74.5" x2="734.4" y2="68.8" stroke="#e08c8c" stroke-width="2.9"/><line x1="746.6" y1="83.2" x2="734.3" y2="85.3" stroke="#c8301e" stroke-width="2.9"/><line x1="734.3" y1="85.3" x2="725.8" y2="86.8" stroke="#e08c8c" stroke-width="2.9"/><line x1="746.6" y1="83.2" x2="755.8" y2="93" stroke="#c8301e" stroke-width="2.9"/><line x1="755.8" y1="93" x2="762.3" y2="100" stroke="#e08c8c" stroke-width="2.9"/><line x1="814.7" y1="83.9" x2="807.9" y2="90.3" stroke="#c8301e" stroke-width="2.9"/><line x1="807.9" y1="90.3" x2="804" y2="94" stroke="#e08c8c" stroke-width="2.9"/><line x1="814.7" y1="83.9" x2="811.4" y2="70.9" stroke="#c8301e" stroke-width="2.9"/><line x1="811.4" y1="70.9" x2="809" y2="61.7" stroke="#e08c8c" stroke-width="2.9"/><line x1="814.7" y1="83.9" x2="808.5" y2="71" stroke="#c8301e" stroke-width="2.9"/><line x1="808.5" y1="71" x2="804" y2="61.7" stroke="#e08c8c" stroke-width="2.9"/><line x1="814.7" y1="83.9" x2="829.2" y2="81.8" stroke="#c8301e" stroke-width="2.9"/><line x1="829.2" y1="81.8" x2="839.8" y2="80.3" stroke="#e08c8c" stroke-width="2.9"/><line x1="750.5" y1="101.5" x2="758.3" y2="100.5" stroke="#c8301e" stroke-width="2.9"/><line x1="758.3" y1="100.5" x2="762.3" y2="100" stroke="#e08c8c" stroke-width="2.9"/><line x1="750.5" y1="101.5" x2="760.4" y2="98.6" stroke="#c8301e" stroke-width="2.9"/><line x1="760.4" y1="98.6" x2="766.6" y2="96.8" stroke="#e08c8c" stroke-width="2.9"/><line x1="750.5" y1="101.5" x2="758.6" y2="94.2" stroke="#c8301e" stroke-width="2.9"/><line x1="758.6" y1="94.2" x2="763.8" y2="89.6" stroke="#e08c8c" stroke-width="2.9"/><line x1="750.5" y1="101.5" x2="742.5" y2="109.7" stroke="#c8301e" stroke-width="2.9"/><line x1="742.5" y1="109.7" x2="737.2" y2="115.1" stroke="#e08c8c" stroke-width="2.9"/><line x1="750.5" y1="101.5" x2="737.3" y2="103.5" stroke="#c8301e" stroke-width="2.9"/><line x1="737.3" y1="103.5" x2="727.9" y2="105" stroke="#e08c8c" stroke-width="2.9"/><line x1="759.5" y1="109.3" x2="761.7" y2="102" stroke="#c8301e" stroke-width="2.9"/><line x1="761.7" y1="102" x2="762.3" y2="100" stroke="#e08c8c" stroke-width="2.9"/><line x1="759.5" y1="109.3" x2="764" y2="101.4" stroke="#c8301e" stroke-width="2.9"/><line x1="764" y1="101.4" x2="766.6" y2="96.8" stroke="#e08c8c" stroke-width="2.9"/><line x1="759.5" y1="109.3" x2="762.1" y2="97.5" stroke="#c8301e" stroke-width="2.9"/><line x1="762.1" y1="97.5" x2="763.8" y2="89.6" stroke="#e08c8c" stroke-width="2.9"/><line x1="759.5" y1="109.3" x2="746.5" y2="112.7" stroke="#c8301e" stroke-width="2.9"/><line x1="746.5" y1="112.7" x2="737.2" y2="115.1" stroke="#e08c8c" stroke-width="2.9"/><line x1="759.5" y1="109.3" x2="767.8" y2="120.2" stroke="#c8301e" stroke-width="2.9"/><line x1="767.8" y1="120.2" x2="773.8" y2="128" stroke="#e08c8c" stroke-width="2.9"/><line x1="816" y1="101" x2="808.3" y2="96.5" stroke="#c8301e" stroke-width="2.9"/><line x1="808.3" y1="96.5" x2="804" y2="94" stroke="#e08c8c" stroke-width="2.9"/><line x1="816" y1="101" x2="830.1" y2="106.2" stroke="#c8301e" stroke-width="2.9"/><line x1="830.1" y1="106.2" x2="840.5" y2="110.1" stroke="#e08c8c" stroke-width="2.9"/><line x1="818.3" y1="109.3" x2="809.8" y2="100.2" stroke="#c8301e" stroke-width="2.9"/><line x1="809.8" y1="100.2" x2="804" y2="94" stroke="#e08c8c" stroke-width="2.9"/><line x1="818.3" y1="109.3" x2="809" y2="118.2" stroke="#c8301e" stroke-width="2.9"/><line x1="809" y1="118.2" x2="802.5" y2="124.4" stroke="#e08c8c" stroke-width="2.9"/><line x1="818.3" y1="109.3" x2="831.3" y2="109.8" stroke="#c8301e" stroke-width="2.9"/><line x1="831.3" y1="109.8" x2="840.5" y2="110.1" stroke="#e08c8c" stroke-width="2.9"/><line x1="818.3" y1="109.3" x2="832" y2="113.1" stroke="#c8301e" stroke-width="2.9"/><line x1="832" y1="113.1" x2="842" y2="115.8" stroke="#e08c8c" stroke-width="2.9"/><line x1="818.3" y1="109.3" x2="812.1" y2="122.2" stroke="#c8301e" stroke-width="2.9"/><line x1="812.1" y1="122.2" x2="807.5" y2="131.6" stroke="#e08c8c" stroke-width="2.9"/><line x1="680.4" y1="143.8" x2="684.7" y2="150.4" stroke="#c8301e" stroke-width="2.9"/><line x1="684.7" y1="150.4" x2="686.8" y2="153.8" stroke="#e08c8c" stroke-width="2.9"/><line x1="680.4" y1="143.8" x2="670.3" y2="139.8" stroke="#c8301e" stroke-width="2.9"/><line x1="670.3" y1="139.8" x2="663.9" y2="137.3" stroke="#e08c8c" stroke-width="2.9"/><line x1="680.4" y1="143.8" x2="686" y2="153.7" stroke="#c8301e" stroke-width="2.9"/><line x1="686" y1="153.7" x2="689.7" y2="160.3" stroke="#e08c8c" stroke-width="2.9"/><line x1="680.4" y1="143.8" x2="689.3" y2="151.9" stroke="#c8301e" stroke-width="2.9"/><line x1="689.3" y1="151.9" x2="695.4" y2="157.4" stroke="#e08c8c" stroke-width="2.9"/><line x1="680.4" y1="143.8" x2="688.3" y2="132.5" stroke="#c8301e" stroke-width="2.9"/><line x1="688.3" y1="132.5" x2="694" y2="124.4" stroke="#e08c8c" stroke-width="2.9"/><line x1="679.6" y1="168.9" x2="686.1" y2="163.3" stroke="#c8301e" stroke-width="2.9"/><line x1="686.1" y1="163.3" x2="689.7" y2="160.3" stroke="#e08c8c" stroke-width="2.9"/><line x1="679.6" y1="168.9" x2="684" y2="159.6" stroke="#c8301e" stroke-width="2.9"/><line x1="684" y1="159.6" x2="686.8" y2="153.8" stroke="#e08c8c" stroke-width="2.9"/><line x1="679.6" y1="168.9" x2="689.1" y2="162" stroke="#c8301e" stroke-width="2.9"/><line x1="689.1" y1="162" x2="695.4" y2="157.4" stroke="#e08c8c" stroke-width="2.9"/><line x1="679.6" y1="168.9" x2="665.9" y2="169.7" stroke="#c8301e" stroke-width="2.9"/><line x1="665.9" y1="169.7" x2="656" y2="170.3" stroke="#e08c8c" stroke-width="2.9"/><line x1="679.6" y1="168.9" x2="685.5" y2="181.4" stroke="#c8301e" stroke-width="2.9"/><line x1="685.5" y1="181.4" x2="689.7" y2="190.4" stroke="#e08c8c" stroke-width="2.9"/><line x1="741.5" y1="147.4" x2="737" y2="155.6" stroke="#c8301e" stroke-width="2.9"/><line x1="737" y1="155.6" x2="734.4" y2="160.3" stroke="#e08c8c" stroke-width="2.9"/><line x1="741.5" y1="147.4" x2="733.2" y2="154" stroke="#c8301e" stroke-width="2.9"/><line x1="733.2" y1="154" x2="727.9" y2="158.1" stroke="#e08c8c" stroke-width="2.9"/><line x1="741.5" y1="147.4" x2="739.4" y2="134.7" stroke="#c8301e" stroke-width="2.9"/><line x1="739.4" y1="134.7" x2="738" y2="125.8" stroke="#e08c8c" stroke-width="2.9"/><line x1="741.5" y1="147.4" x2="755.6" y2="147.8" stroke="#c8301e" stroke-width="2.9"/><line x1="755.6" y1="147.8" x2="765.9" y2="148.1" stroke="#e08c8c" stroke-width="2.9"/><line x1="735.8" y1="145.9" x2="734.9" y2="155" stroke="#c8301e" stroke-width="2.9"/><line x1="734.9" y1="155" x2="734.4" y2="160.3" stroke="#e08c8c" stroke-width="2.9"/><line x1="735.8" y1="145.9" x2="730.8" y2="153.6" stroke="#c8301e" stroke-width="2.9"/><line x1="730.8" y1="153.6" x2="727.9" y2="158.1" stroke="#e08c8c" stroke-width="2.9"/><line x1="735.8" y1="145.9" x2="737.1" y2="133.9" stroke="#c8301e" stroke-width="2.9"/><line x1="737.1" y1="133.9" x2="738" y2="125.8" stroke="#e08c8c" stroke-width="2.9"/><line x1="739.4" y1="169.6" x2="735.8" y2="162.9" stroke="#c8301e" stroke-width="2.9"/><line x1="735.8" y1="162.9" x2="734.4" y2="160.3" stroke="#e08c8c" stroke-width="2.9"/><line x1="739.4" y1="169.6" x2="732.3" y2="162.5" stroke="#c8301e" stroke-width="2.9"/><line x1="732.3" y1="162.5" x2="727.9" y2="158.1" stroke="#e08c8c" stroke-width="2.9"/><line x1="739.4" y1="169.6" x2="732.7" y2="181.3" stroke="#c8301e" stroke-width="2.9"/><line x1="732.7" y1="181.3" x2="727.9" y2="189.7" stroke="#e08c8c" stroke-width="2.9"/><line x1="739.4" y1="169.6" x2="736.9" y2="183" stroke="#c8301e" stroke-width="2.9"/><line x1="736.9" y1="183" x2="735.1" y2="192.6" stroke="#e08c8c" stroke-width="2.9"/><line x1="739.4" y1="169.6" x2="753.2" y2="171.3" stroke="#c8301e" stroke-width="2.9"/><line x1="753.2" y1="171.3" x2="763.1" y2="172.5" stroke="#e08c8c" stroke-width="2.9"/><line x1="828.3" y1="144.5" x2="832.7" y2="150.7" stroke="#c8301e" stroke-width="2.9"/><line x1="832.7" y1="150.7" x2="834.8" y2="153.8" stroke="#e08c8c" stroke-width="2.9"/><line x1="828.3" y1="144.5" x2="818.6" y2="141" stroke="#c8301e" stroke-width="2.9"/><line x1="818.6" y1="141" x2="812.6" y2="138.8" stroke="#e08c8c" stroke-width="2.9"/><line x1="828.3" y1="144.5" x2="837" y2="151.9" stroke="#c8301e" stroke-width="2.9"/><line x1="837" y1="151.9" x2="842.7" y2="156.7" stroke="#e08c8c" stroke-width="2.9"/><line x1="828.3" y1="144.5" x2="834.4" y2="154.4" stroke="#c8301e" stroke-width="2.9"/><line x1="834.4" y1="154.4" x2="838.4" y2="161" stroke="#e08c8c" stroke-width="2.9"/><line x1="828.3" y1="144.5" x2="836.3" y2="133.2" stroke="#c8301e" stroke-width="2.9"/><line x1="836.3" y1="133.2" x2="842" y2="125.1" stroke="#e08c8c" stroke-width="2.9"/><line x1="827.6" y1="168.9" x2="834.6" y2="163.8" stroke="#c8301e" stroke-width="2.9"/><line x1="834.6" y1="163.8" x2="838.4" y2="161" stroke="#e08c8c" stroke-width="2.9"/><line x1="827.6" y1="168.9" x2="832" y2="159.6" stroke="#c8301e" stroke-width="2.9"/><line x1="832" y1="159.6" x2="834.8" y2="153.8" stroke="#e08c8c" stroke-width="2.9"/><line x1="827.6" y1="168.9" x2="836.7" y2="161.6" stroke="#c8301e" stroke-width="2.9"/><line x1="836.7" y1="161.6" x2="842.7" y2="156.7" stroke="#e08c8c" stroke-width="2.9"/><line x1="827.6" y1="168.9" x2="833.1" y2="181.4" stroke="#c8301e" stroke-width="2.9"/><line x1="833.1" y1="181.4" x2="837" y2="190.4" stroke="#e08c8c" stroke-width="2.9"/><line x1="827.6" y1="168.9" x2="813.9" y2="170.6" stroke="#c8301e" stroke-width="2.9"/><line x1="813.9" y1="170.6" x2="804" y2="171.8" stroke="#e08c8c" stroke-width="2.9"/><line x1="629.4" y1="39.4" x2="619.5" y2="40.2" stroke="#2fd4d8" stroke-width="2.9"/><line x1="619.5" y1="40.2" x2="614.4" y2="40.6" stroke="#e08c8c" stroke-width="2.9"/><line x1="629.4" y1="39.4" x2="619.4" y2="44.5" stroke="#2fd4d8" stroke-width="2.9"/><line x1="619.4" y1="44.5" x2="613.7" y2="47.3" stroke="#e08c8c" stroke-width="2.9"/><line x1="629.4" y1="39.4" x2="621.8" y2="29.2" stroke="#2fd4d8" stroke-width="2.9"/><line x1="621.8" y1="29.2" x2="617.2" y2="22.9" stroke="#e08c8c" stroke-width="2.9"/><line x1="629.4" y1="39.4" x2="643.7" y2="39.4" stroke="#2fd4d8" stroke-width="2.9"/><line x1="643.7" y1="39.4" x2="653.1" y2="39.4" stroke="#e08c8c" stroke-width="2.9"/><line x1="629.4" y1="39.4" x2="620.4" y2="27.4" stroke="#2fd4d8" stroke-width="2.9"/><line x1="620.4" y1="27.4" x2="614.4" y2="19.3" stroke="#e08c8c" stroke-width="2.9"/><line x1="629.4" y1="39.4" x2="621.7" y2="52.7" stroke="#2fd4d8" stroke-width="2.9"/><line x1="621.7" y1="52.7" x2="616.5" y2="61.7" stroke="#e08c8c" stroke-width="2.9"/><line x1="637.3" y1="48" x2="647.4" y2="42.5" stroke="#2fd4d8" stroke-width="2.9"/><line x1="647.4" y1="42.5" x2="653.1" y2="39.4" stroke="#e08c8c" stroke-width="2.9"/><line x1="637.3" y1="48" x2="648.7" y2="47.1" stroke="#2fd4d8" stroke-width="2.9"/><line x1="648.7" y1="47.1" x2="655.3" y2="46.6" stroke="#e08c8c" stroke-width="2.9"/><line x1="637.3" y1="48" x2="648.7" y2="55.9" stroke="#2fd4d8" stroke-width="2.9"/><line x1="648.7" y1="55.9" x2="656" y2="61" stroke="#e08c8c" stroke-width="2.9"/><line x1="637.3" y1="48" x2="623.1" y2="47.6" stroke="#2fd4d8" stroke-width="2.9"/><line x1="623.1" y1="47.6" x2="613.7" y2="47.3" stroke="#e08c8c" stroke-width="2.9"/><line x1="637.3" y1="48" x2="623.5" y2="43.5" stroke="#2fd4d8" stroke-width="2.9"/><line x1="623.5" y1="43.5" x2="614.4" y2="40.6" stroke="#e08c8c" stroke-width="2.9"/><line x1="637.3" y1="48" x2="624.9" y2="56.2" stroke="#2fd4d8" stroke-width="2.9"/><line x1="624.9" y1="56.2" x2="616.5" y2="61.7" stroke="#e08c8c" stroke-width="2.9"/><line x1="642.3" y1="65.3" x2="651.5" y2="62.4" stroke="#2fd4d8" stroke-width="2.9"/><line x1="651.5" y1="62.4" x2="656" y2="61" stroke="#e08c8c" stroke-width="2.9"/><line x1="642.3" y1="65.3" x2="654" y2="62.6" stroke="#2fd4d8" stroke-width="2.9"/><line x1="654" y1="62.6" x2="661" y2="61" stroke="#e08c8c" stroke-width="2.9"/><line x1="642.3" y1="65.3" x2="650.2" y2="53.9" stroke="#2fd4d8" stroke-width="2.9"/><line x1="650.2" y1="53.9" x2="655.3" y2="46.6" stroke="#e08c8c" stroke-width="2.9"/><line x1="642.3" y1="65.3" x2="627" y2="63.2" stroke="#2fd4d8" stroke-width="2.9"/><line x1="627" y1="63.2" x2="616.5" y2="61.7" stroke="#e08c8c" stroke-width="2.9"/><line x1="642.3" y1="65.3" x2="648.6" y2="50.1" stroke="#2fd4d8" stroke-width="2.9"/><line x1="648.6" y1="50.1" x2="653.1" y2="39.4" stroke="#e08c8c" stroke-width="2.9"/><line x1="642.3" y1="65.3" x2="649.8" y2="81.5" stroke="#2fd4d8" stroke-width="2.9"/><line x1="649.8" y1="81.5" x2="655.3" y2="93.2" stroke="#e08c8c" stroke-width="2.9"/><line x1="706.9" y1="50.9" x2="699.5" y2="39.6" stroke="#2fd4d8" stroke-width="2.9"/><line x1="699.5" y1="39.6" x2="694.7" y2="32.3" stroke="#e08c8c" stroke-width="2.9"/><line x1="706.9" y1="50.9" x2="696.5" y2="41.7" stroke="#2fd4d8" stroke-width="2.9"/><line x1="696.5" y1="41.7" x2="689.7" y2="35.8" stroke="#e08c8c" stroke-width="2.9"/><line x1="706.9" y1="50.9" x2="717.2" y2="40.6" stroke="#2fd4d8" stroke-width="2.9"/><line x1="717.2" y1="40.6" x2="724" y2="33.7" stroke="#e08c8c" stroke-width="2.9"/><line x1="706.9" y1="50.9" x2="695.7" y2="60.4" stroke="#2fd4d8" stroke-width="2.9"/><line x1="695.7" y1="60.4" x2="688.3" y2="66.7" stroke="#e08c8c" stroke-width="2.9"/><line x1="706.9" y1="50.9" x2="719" y2="59.5" stroke="#2fd4d8" stroke-width="2.9"/><line x1="719" y1="59.5" x2="727.2" y2="65.3" stroke="#e08c8c" stroke-width="2.9"/><line x1="706.9" y1="50.9" x2="718.9" y2="40.7" stroke="#2fd4d8" stroke-width="2.9"/><line x1="718.9" y1="40.7" x2="727.2" y2="33.7" stroke="#e08c8c" stroke-width="2.9"/><line x1="709.5" y1="80" x2="699.5" y2="84.8" stroke="#2fd4d8" stroke-width="2.9"/><line x1="699.5" y1="84.8" x2="694" y2="87.5" stroke="#e08c8c" stroke-width="2.9"/><line x1="709.5" y1="80" x2="719.9" y2="84.3" stroke="#2fd4d8" stroke-width="2.9"/><line x1="719.9" y1="84.3" x2="725.8" y2="86.8" stroke="#e08c8c" stroke-width="2.9"/><line x1="709.5" y1="80" x2="697.9" y2="79.3" stroke="#2fd4d8" stroke-width="2.9"/><line x1="697.9" y1="79.3" x2="691.1" y2="78.9" stroke="#e08c8c" stroke-width="2.9"/><line x1="709.5" y1="80" x2="722.2" y2="79.8" stroke="#2fd4d8" stroke-width="2.9"/><line x1="722.2" y1="79.8" x2="730.1" y2="79.6" stroke="#e08c8c" stroke-width="2.9"/><line x1="709.5" y1="80" x2="720.2" y2="71.1" stroke="#2fd4d8" stroke-width="2.9"/><line x1="720.2" y1="71.1" x2="727.2" y2="65.3" stroke="#e08c8c" stroke-width="2.9"/><line x1="709.5" y1="80" x2="696.8" y2="72" stroke="#2fd4d8" stroke-width="2.9"/><line x1="696.8" y1="72" x2="688.3" y2="66.7" stroke="#e08c8c" stroke-width="2.9"/><line x1="704.5" y1="99.5" x2="696.7" y2="106" stroke="#2fd4d8" stroke-width="2.9"/><line x1="696.7" y1="106" x2="692.6" y2="109.3" stroke="#e08c8c" stroke-width="2.9"/><line x1="704.5" y1="99.5" x2="697.6" y2="91.7" stroke="#2fd4d8" stroke-width="2.9"/><line x1="697.6" y1="91.7" x2="694" y2="87.5" stroke="#e08c8c" stroke-width="2.9"/><line x1="704.5" y1="99.5" x2="697.8" y2="109" stroke="#2fd4d8" stroke-width="2.9"/><line x1="697.8" y1="109" x2="694" y2="114.4" stroke="#e08c8c" stroke-width="2.9"/><line x1="704.5" y1="99.5" x2="718.6" y2="102.8" stroke="#2fd4d8" stroke-width="2.9"/><line x1="718.6" y1="102.8" x2="727.9" y2="105" stroke="#e08c8c" stroke-width="2.9"/><line x1="704.5" y1="99.5" x2="696.5" y2="87.1" stroke="#2fd4d8" stroke-width="2.9"/><line x1="696.5" y1="87.1" x2="691.1" y2="78.9" stroke="#e08c8c" stroke-width="2.9"/><line x1="704.5" y1="99.5" x2="717.3" y2="91.9" stroke="#2fd4d8" stroke-width="2.9"/><line x1="717.3" y1="91.9" x2="725.8" y2="86.8" stroke="#e08c8c" stroke-width="2.9"/><line x1="777.4" y1="39.4" x2="767.8" y2="40.9" stroke="#2fd4d8" stroke-width="2.9"/><line x1="767.8" y1="40.9" x2="763.1" y2="41.6" stroke="#e08c8c" stroke-width="2.9"/><line x1="777.4" y1="39.4" x2="767.7" y2="44.9" stroke="#2fd4d8" stroke-width="2.9"/><line x1="767.7" y1="44.9" x2="762.3" y2="48" stroke="#e08c8c" stroke-width="2.9"/><line x1="777.4" y1="39.4" x2="770.2" y2="29.6" stroke="#2fd4d8" stroke-width="2.9"/><line x1="770.2" y1="29.6" x2="765.9" y2="23.7" stroke="#e08c8c" stroke-width="2.9"/><line x1="777.4" y1="39.4" x2="791.7" y2="40.3" stroke="#2fd4d8" stroke-width="2.9"/><line x1="791.7" y1="40.3" x2="801.1" y2="40.9" stroke="#e08c8c" stroke-width="2.9"/><line x1="777.4" y1="39.4" x2="768.3" y2="27.8" stroke="#2fd4d8" stroke-width="2.9"/><line x1="768.3" y1="27.8" x2="762.3" y2="20.1" stroke="#e08c8c" stroke-width="2.9"/><line x1="777.4" y1="39.4" x2="770.2" y2="53.1" stroke="#2fd4d8" stroke-width="2.9"/><line x1="770.2" y1="53.1" x2="765.2" y2="62.4" stroke="#e08c8c" stroke-width="2.9"/><line x1="785.3" y1="48.8" x2="795.4" y2="43.8" stroke="#2fd4d8" stroke-width="2.9"/><line x1="795.4" y1="43.8" x2="801.1" y2="40.9" stroke="#e08c8c" stroke-width="2.9"/><line x1="785.3" y1="48.8" x2="797.1" y2="47.9" stroke="#2fd4d8" stroke-width="2.9"/><line x1="797.1" y1="47.9" x2="804" y2="47.3" stroke="#e08c8c" stroke-width="2.9"/><line x1="785.3" y1="48.8" x2="796.7" y2="56.6" stroke="#2fd4d8" stroke-width="2.9"/><line x1="796.7" y1="56.6" x2="804" y2="61.7" stroke="#e08c8c" stroke-width="2.9"/><line x1="785.3" y1="48.8" x2="771.4" y2="48.3" stroke="#2fd4d8" stroke-width="2.9"/><line x1="771.4" y1="48.3" x2="762.3" y2="48" stroke="#e08c8c" stroke-width="2.9"/><line x1="785.3" y1="48.8" x2="771.9" y2="44.4" stroke="#2fd4d8" stroke-width="2.9"/><line x1="771.9" y1="44.4" x2="763.1" y2="41.6" stroke="#e08c8c" stroke-width="2.9"/><line x1="785.3" y1="48.8" x2="773.2" y2="57" stroke="#2fd4d8" stroke-width="2.9"/><line x1="773.2" y1="57" x2="765.2" y2="62.4" stroke="#e08c8c" stroke-width="2.9"/><line x1="790.3" y1="66" x2="799.5" y2="63.1" stroke="#2fd4d8" stroke-width="2.9"/><line x1="799.5" y1="63.1" x2="804" y2="61.7" stroke="#e08c8c" stroke-width="2.9"/><line x1="790.3" y1="66" x2="802" y2="63.3" stroke="#2fd4d8" stroke-width="2.9"/><line x1="802" y1="63.3" x2="809" y2="61.7" stroke="#e08c8c" stroke-width="2.9"/><line x1="790.3" y1="66" x2="798.6" y2="54.7" stroke="#2fd4d8" stroke-width="2.9"/><line x1="798.6" y1="54.7" x2="804" y2="47.3" stroke="#e08c8c" stroke-width="2.9"/><line x1="790.3" y1="66" x2="775.3" y2="63.9" stroke="#2fd4d8" stroke-width="2.9"/><line x1="775.3" y1="63.9" x2="765.2" y2="62.4" stroke="#e08c8c" stroke-width="2.9"/><line x1="790.3" y1="66" x2="796.7" y2="51.2" stroke="#2fd4d8" stroke-width="2.9"/><line x1="796.7" y1="51.2" x2="801.1" y2="40.9" stroke="#e08c8c" stroke-width="2.9"/><line x1="790.3" y1="66" x2="798.2" y2="82.2" stroke="#2fd4d8" stroke-width="2.9"/><line x1="798.2" y1="82.2" x2="804" y2="94" stroke="#e08c8c" stroke-width="2.9"/><line x1="635.9" y1="125.1" x2="627.5" y2="126.8" stroke="#2fd4d8" stroke-width="2.9"/><line x1="627.5" y1="126.8" x2="625.1" y2="127.3" stroke="#e08c8c" stroke-width="2.9"/><line x1="635.9" y1="125.1" x2="646.9" y2="123.8" stroke="#2fd4d8" stroke-width="2.9"/><line x1="646.9" y1="123.8" x2="653.1" y2="123" stroke="#e08c8c" stroke-width="2.9"/><line x1="635.9" y1="125.1" x2="649.7" y2="128.2" stroke="#2fd4d8" stroke-width="2.9"/><line x1="649.7" y1="128.2" x2="658.8" y2="130.2" stroke="#e08c8c" stroke-width="2.9"/><line x1="635.9" y1="125.1" x2="648" y2="132.9" stroke="#2fd4d8" stroke-width="2.9"/><line x1="648" y1="132.9" x2="656" y2="138" stroke="#e08c8c" stroke-width="2.9"/><line x1="635.9" y1="125.1" x2="625.4" y2="137.8" stroke="#2fd4d8" stroke-width="2.9"/><line x1="625.4" y1="137.8" x2="618" y2="146.7" stroke="#e08c8c" stroke-width="2.9"/><line x1="635.9" y1="125.1" x2="623.7" y2="136.5" stroke="#2fd4d8" stroke-width="2.9"/><line x1="623.7" y1="136.5" x2="615.1" y2="144.5" stroke="#e08c8c" stroke-width="2.9"/><line x1="633.7" y1="145.9" x2="623.4" y2="146.4" stroke="#2fd4d8" stroke-width="2.9"/><line x1="623.4" y1="146.4" x2="618" y2="146.7" stroke="#e08c8c" stroke-width="2.9"/><line x1="633.7" y1="145.9" x2="622" y2="145" stroke="#2fd4d8" stroke-width="2.9"/><line x1="622" y1="145" x2="615.1" y2="144.5" stroke="#e08c8c" stroke-width="2.9"/><line x1="633.7" y1="145.9" x2="628.4" y2="134.4" stroke="#2fd4d8" stroke-width="2.9"/><line x1="628.4" y1="134.4" x2="625.1" y2="127.3" stroke="#e08c8c" stroke-width="2.9"/><line x1="633.7" y1="145.9" x2="647.2" y2="141.1" stroke="#2fd4d8" stroke-width="2.9"/><line x1="647.2" y1="141.1" x2="656" y2="138" stroke="#e08c8c" stroke-width="2.9"/><line x1="633.7" y1="145.9" x2="622.7" y2="157.4" stroke="#2fd4d8" stroke-width="2.9"/><line x1="622.7" y1="157.4" x2="615.1" y2="165.3" stroke="#e08c8c" stroke-width="2.9"/><line x1="633.7" y1="145.9" x2="645.5" y2="157.3" stroke="#2fd4d8" stroke-width="2.9"/><line x1="645.5" y1="157.3" x2="653.8" y2="165.3" stroke="#e08c8c" stroke-width="2.9"/><line x1="639.5" y1="150.2" x2="649.7" y2="142.6" stroke="#2fd4d8" stroke-width="2.9"/><line x1="649.7" y1="142.6" x2="656" y2="138" stroke="#e08c8c" stroke-width="2.9"/><line x1="639.5" y1="150.2" x2="648.3" y2="159.5" stroke="#2fd4d8" stroke-width="2.9"/><line x1="648.3" y1="159.5" x2="653.8" y2="165.3" stroke="#e08c8c" stroke-width="2.9"/><line x1="639.5" y1="150.2" x2="626.3" y2="148.1" stroke="#2fd4d8" stroke-width="2.9"/><line x1="626.3" y1="148.1" x2="618" y2="146.7" stroke="#e08c8c" stroke-width="2.9"/><line x1="639.5" y1="150.2" x2="624.9" y2="146.8" stroke="#2fd4d8" stroke-width="2.9"/><line x1="624.9" y1="146.8" x2="615.1" y2="144.5" stroke="#e08c8c" stroke-width="2.9"/><line x1="639.5" y1="150.2" x2="649.3" y2="162.1" stroke="#2fd4d8" stroke-width="2.9"/><line x1="649.3" y1="162.1" x2="656" y2="170.3" stroke="#e08c8c" stroke-width="2.9"/><line x1="639.5" y1="150.2" x2="631" y2="136.7" stroke="#2fd4d8" stroke-width="2.9"/><line x1="631" y1="136.7" x2="625.1" y2="127.3" stroke="#e08c8c" stroke-width="2.9"/><line x1="630.2" y1="165.3" x2="620.2" y2="165.3" stroke="#2fd4d8" stroke-width="2.9"/><line x1="620.2" y1="165.3" x2="615.1" y2="165.3" stroke="#e08c8c" stroke-width="2.9"/><line x1="630.2" y1="165.3" x2="620" y2="169" stroke="#2fd4d8" stroke-width="2.9"/><line x1="620" y1="169" x2="614.4" y2="171" stroke="#e08c8c" stroke-width="2.9"/><line x1="630.2" y1="165.3" x2="622.8" y2="154" stroke="#2fd4d8" stroke-width="2.9"/><line x1="622.8" y1="154" x2="618" y2="146.7" stroke="#e08c8c" stroke-width="2.9"/><line x1="630.2" y1="165.3" x2="644.5" y2="165.3" stroke="#2fd4d8" stroke-width="2.9"/><line x1="644.5" y1="165.3" x2="653.8" y2="165.3" stroke="#e08c8c" stroke-width="2.9"/><line x1="630.2" y1="165.3" x2="621.2" y2="152.9" stroke="#2fd4d8" stroke-width="2.9"/><line x1="621.2" y1="152.9" x2="615.1" y2="144.5" stroke="#e08c8c" stroke-width="2.9"/><line x1="630.2" y1="165.3" x2="645.5" y2="168.3" stroke="#2fd4d8" stroke-width="2.9"/><line x1="645.5" y1="168.3" x2="656" y2="170.3" stroke="#e08c8c" stroke-width="2.9"/><line x1="696.9" y1="135.9" x2="702.1" y2="129.1" stroke="#2fd4d8" stroke-width="2.9"/><line x1="702.1" y1="129.1" x2="701.9" y2="129.4" stroke="#e08c8c" stroke-width="2.9"/><line x1="696.9" y1="135.9" x2="694.8" y2="127.6" stroke="#2fd4d8" stroke-width="2.9"/><line x1="694.8" y1="127.6" x2="694" y2="124.4" stroke="#e08c8c" stroke-width="2.9"/><line x1="696.9" y1="135.9" x2="690.6" y2="147" stroke="#2fd4d8" stroke-width="2.9"/><line x1="690.6" y1="147" x2="686.8" y2="153.8" stroke="#e08c8c" stroke-width="2.9"/><line x1="696.9" y1="135.9" x2="696" y2="149.1" stroke="#2fd4d8" stroke-width="2.9"/><line x1="696" y1="149.1" x2="695.4" y2="157.4" stroke="#e08c8c" stroke-width="2.9"/><line x1="696.9" y1="135.9" x2="695.1" y2="122.7" stroke="#2fd4d8" stroke-width="2.9"/><line x1="695.1" y1="122.7" x2="694" y2="114.4" stroke="#e08c8c" stroke-width="2.9"/><line x1="696.9" y1="135.9" x2="692.6" y2="150.4" stroke="#2fd4d8" stroke-width="2.9"/><line x1="692.6" y1="150.4" x2="689.7" y2="160.3" stroke="#e08c8c" stroke-width="2.9"/><line x1="711.9" y1="129.4" x2="703.3" y2="129.4" stroke="#2fd4d8" stroke-width="2.9"/><line x1="703.3" y1="129.4" x2="701.9" y2="129.4" stroke="#e08c8c" stroke-width="2.9"/><line x1="711.9" y1="129.4" x2="700.6" y2="126.2" stroke="#2fd4d8" stroke-width="2.9"/><line x1="700.6" y1="126.2" x2="694" y2="124.4" stroke="#e08c8c" stroke-width="2.9"/><line x1="711.9" y1="129.4" x2="701.1" y2="120.3" stroke="#2fd4d8" stroke-width="2.9"/><line x1="701.1" y1="120.3" x2="694" y2="114.4" stroke="#e08c8c" stroke-width="2.9"/><line x1="711.9" y1="129.4" x2="727.4" y2="127.3" stroke="#2fd4d8" stroke-width="2.9"/><line x1="727.4" y1="127.3" x2="738" y2="125.8" stroke="#e08c8c" stroke-width="2.9"/><line x1="711.9" y1="129.4" x2="700.6" y2="117.6" stroke="#2fd4d8" stroke-width="2.9"/><line x1="700.6" y1="117.6" x2="692.6" y2="109.3" stroke="#e08c8c" stroke-width="2.9"/><line x1="711.9" y1="129.4" x2="726.7" y2="121" stroke="#2fd4d8" stroke-width="2.9"/><line x1="726.7" y1="121" x2="737.2" y2="115.1" stroke="#e08c8c" stroke-width="2.9"/><line x1="710.5" y1="108.6" x2="699.9" y2="112.3" stroke="#2fd4d8" stroke-width="2.9"/><line x1="699.9" y1="112.3" x2="694" y2="114.4" stroke="#e08c8c" stroke-width="2.9"/><line x1="710.5" y1="108.6" x2="721.6" y2="106.3" stroke="#2fd4d8" stroke-width="2.9"/><line x1="721.6" y1="106.3" x2="727.9" y2="105" stroke="#e08c8c" stroke-width="2.9"/><line x1="710.5" y1="108.6" x2="699.1" y2="109" stroke="#2fd4d8" stroke-width="2.9"/><line x1="699.1" y1="109" x2="692.6" y2="109.3" stroke="#e08c8c" stroke-width="2.9"/><line x1="710.5" y1="108.6" x2="705.3" y2="121.3" stroke="#2fd4d8" stroke-width="2.9"/><line x1="705.3" y1="121.3" x2="701.9" y2="129.4" stroke="#e08c8c" stroke-width="2.9"/><line x1="710.5" y1="108.6" x2="700.5" y2="118.2" stroke="#2fd4d8" stroke-width="2.9"/><line x1="700.5" y1="118.2" x2="694" y2="124.4" stroke="#e08c8c" stroke-width="2.9"/><line x1="710.5" y1="108.6" x2="719.6" y2="95.7" stroke="#2fd4d8" stroke-width="2.9"/><line x1="719.6" y1="95.7" x2="725.8" y2="86.8" stroke="#e08c8c" stroke-width="2.9"/><line x1="769.5" y1="118" x2="772.9" y2="125.9" stroke="#2fd4d8" stroke-width="2.9"/><line x1="772.9" y1="125.9" x2="773.8" y2="128" stroke="#e08c8c" stroke-width="2.9"/><line x1="769.5" y1="118" x2="765" y2="106.7" stroke="#2fd4d8" stroke-width="2.9"/><line x1="765" y1="106.7" x2="762.3" y2="100" stroke="#e08c8c" stroke-width="2.9"/><line x1="769.5" y1="118" x2="767.7" y2="105" stroke="#2fd4d8" stroke-width="2.9"/><line x1="767.7" y1="105" x2="766.6" y2="96.8" stroke="#e08c8c" stroke-width="2.9"/><line x1="769.5" y1="118" x2="766.2" y2="101.4" stroke="#2fd4d8" stroke-width="2.9"/><line x1="766.2" y1="101.4" x2="763.8" y2="89.6" stroke="#e08c8c" stroke-width="2.9"/><line x1="769.5" y1="118" x2="767.4" y2="135.5" stroke="#2fd4d8" stroke-width="2.9"/><line x1="767.4" y1="135.5" x2="765.9" y2="148.1" stroke="#e08c8c" stroke-width="2.9"/><line x1="769.5" y1="118" x2="750.9" y2="116.3" stroke="#2fd4d8" stroke-width="2.9"/><line x1="750.9" y1="116.3" x2="737.2" y2="115.1" stroke="#e08c8c" stroke-width="2.9"/><line x1="783.9" y1="125.8" x2="775.5" y2="127.6" stroke="#2fd4d8" stroke-width="2.9"/><line x1="775.5" y1="127.6" x2="773.8" y2="128" stroke="#e08c8c" stroke-width="2.9"/><line x1="783.9" y1="125.8" x2="795.6" y2="124.9" stroke="#2fd4d8" stroke-width="2.9"/><line x1="795.6" y1="124.9" x2="802.5" y2="124.4" stroke="#e08c8c" stroke-width="2.9"/><line x1="783.9" y1="125.8" x2="798.1" y2="129.3" stroke="#2fd4d8" stroke-width="2.9"/><line x1="798.1" y1="129.3" x2="807.5" y2="131.6" stroke="#e08c8c" stroke-width="2.9"/><line x1="783.9" y1="125.8" x2="773.4" y2="138.9" stroke="#2fd4d8" stroke-width="2.9"/><line x1="773.4" y1="138.9" x2="765.9" y2="148.1" stroke="#e08c8c" stroke-width="2.9"/><line x1="783.9" y1="125.8" x2="800.5" y2="133.3" stroke="#2fd4d8" stroke-width="2.9"/><line x1="800.5" y1="133.3" x2="812.6" y2="138.8" stroke="#e08c8c" stroke-width="2.9"/><line x1="783.9" y1="125.8" x2="771.5" y2="111" stroke="#2fd4d8" stroke-width="2.9"/><line x1="771.5" y1="111" x2="762.3" y2="100" stroke="#e08c8c" stroke-width="2.9"/><line x1="782.4" y1="147.4" x2="771.7" y2="147.9" stroke="#2fd4d8" stroke-width="2.9"/><line x1="771.7" y1="147.9" x2="765.9" y2="148.1" stroke="#e08c8c" stroke-width="2.9"/><line x1="782.4" y1="147.4" x2="777.1" y2="135.5" stroke="#2fd4d8" stroke-width="2.9"/><line x1="777.1" y1="135.5" x2="773.8" y2="128" stroke="#e08c8c" stroke-width="2.9"/><line x1="782.4" y1="147.4" x2="771.4" y2="158.4" stroke="#2fd4d8" stroke-width="2.9"/><line x1="771.4" y1="158.4" x2="763.8" y2="166" stroke="#e08c8c" stroke-width="2.9"/><line x1="782.4" y1="147.4" x2="794.6" y2="158.3" stroke="#2fd4d8" stroke-width="2.9"/><line x1="794.6" y1="158.3" x2="803.2" y2="166" stroke="#e08c8c" stroke-width="2.9"/><line x1="782.4" y1="147.4" x2="797" y2="138.2" stroke="#2fd4d8" stroke-width="2.9"/><line x1="797" y1="138.2" x2="807.5" y2="131.6" stroke="#e08c8c" stroke-width="2.9"/><line x1="782.4" y1="147.4" x2="794.1" y2="134.1" stroke="#2fd4d8" stroke-width="2.9"/><line x1="794.1" y1="134.1" x2="802.5" y2="124.4" stroke="#e08c8c" stroke-width="2.9"/><line x1="787.5" y1="151.7" x2="797.2" y2="160.5" stroke="#2fd4d8" stroke-width="2.9"/><line x1="797.2" y1="160.5" x2="803.2" y2="166" stroke="#e08c8c" stroke-width="2.9"/><line x1="787.5" y1="151.7" x2="774.3" y2="149.5" stroke="#2fd4d8" stroke-width="2.9"/><line x1="774.3" y1="149.5" x2="765.9" y2="148.1" stroke="#e08c8c" stroke-width="2.9"/><line x1="787.5" y1="151.7" x2="797.3" y2="163.6" stroke="#2fd4d8" stroke-width="2.9"/><line x1="797.3" y1="163.6" x2="804" y2="171.8" stroke="#e08c8c" stroke-width="2.9"/><line x1="787.5" y1="151.7" x2="779.4" y2="137.7" stroke="#2fd4d8" stroke-width="2.9"/><line x1="779.4" y1="137.7" x2="773.8" y2="128" stroke="#e08c8c" stroke-width="2.9"/><line x1="787.5" y1="151.7" x2="773.6" y2="160.1" stroke="#2fd4d8" stroke-width="2.9"/><line x1="773.6" y1="160.1" x2="763.8" y2="166" stroke="#e08c8c" stroke-width="2.9"/><line x1="787.5" y1="151.7" x2="802.2" y2="144.1" stroke="#2fd4d8" stroke-width="2.9"/><line x1="802.2" y1="144.1" x2="812.6" y2="138.8" stroke="#e08c8c" stroke-width="2.9"/><line x1="778.8" y1="166" x2="768.8" y2="166" stroke="#2fd4d8" stroke-width="2.9"/><line x1="768.8" y1="166" x2="763.8" y2="166" stroke="#e08c8c" stroke-width="2.9"/><line x1="778.8" y1="166" x2="768.7" y2="170.2" stroke="#2fd4d8" stroke-width="2.9"/><line x1="768.7" y1="170.2" x2="763.1" y2="172.5" stroke="#e08c8c" stroke-width="2.9"/><line x1="778.8" y1="166" x2="770.9" y2="155.1" stroke="#2fd4d8" stroke-width="2.9"/><line x1="770.9" y1="155.1" x2="765.9" y2="148.1" stroke="#e08c8c" stroke-width="2.9"/><line x1="778.8" y1="166" x2="793.5" y2="166" stroke="#2fd4d8" stroke-width="2.9"/><line x1="793.5" y1="166" x2="803.2" y2="166" stroke="#e08c8c" stroke-width="2.9"/><line x1="778.8" y1="166" x2="793.8" y2="169.4" stroke="#2fd4d8" stroke-width="2.9"/><line x1="793.8" y1="169.4" x2="804" y2="171.8" stroke="#e08c8c" stroke-width="2.9"/><line x1="778.8" y1="166" x2="767.5" y2="177.8" stroke="#2fd4d8" stroke-width="2.9"/><line x1="767.5" y1="177.8" x2="759.5" y2="186.1" stroke="#e08c8c" stroke-width="2.9"/><line x1="609.3" y1="130.2" x2="622.6" y2="127.6" stroke="#a4a8d0" stroke-width="2.9"/><line x1="622.6" y1="127.6" x2="635.9" y2="125.1" stroke="#2fd4d8" stroke-width="2.9"/><line x1="758" y1="131.6" x2="763.8" y2="124.8" stroke="#a4a8d0" stroke-width="2.9"/><line x1="763.8" y1="124.8" x2="769.5" y2="118" stroke="#2fd4d8" stroke-width="2.9"/><circle cx="763.1" cy="172.5" r="3.7" fill="url(#gOc)"/><circle cx="804" cy="61.7" r="3.7" fill="url(#gOc)"/><circle cx="655.3" cy="93.2" r="3.7" fill="url(#gOc)"/><circle cx="765.2" cy="62.4" r="3.7" fill="url(#gOc)"/><circle cx="614.4" cy="171" r="3.7" fill="url(#gOc)"/><circle cx="692.6" cy="109.3" r="3.7" fill="url(#gOc)"/><circle cx="807.5" cy="131.6" r="3.7" fill="url(#gOc)"/><circle cx="658.1" cy="98.6" r="3.7" fill="url(#gOc)"/><circle cx="656" cy="138" r="3.7" fill="url(#gOc)"/><circle cx="738" cy="125.8" r="3.7" fill="url(#gOc)"/><circle cx="762.3" cy="48" r="3.7" fill="url(#gOc)"/><circle cx="762.3" cy="20.1" r="3.7" fill="url(#gOc)"/><circle cx="663.9" cy="137.3" r="3.7" fill="url(#gOc)"/><circle cx="758" cy="62.4" r="3.7" fill="url(#gOc)"/><circle cx="684.7" cy="28" r="3.7" fill="url(#gOc)"/><circle cx="837" cy="190.4" r="3.7" fill="url(#gOc)"/><circle cx="709.5" cy="80" r="8.6" fill="url(#gLc)"/><circle cx="689.7" cy="160.3" r="3.7" fill="url(#gOc)"/><circle cx="750.5" cy="101.5" r="7.6" fill="url(#gVc)"/><circle cx="837.7" cy="37.3" r="3.7" fill="url(#gOc)"/><circle cx="610.8" cy="61.7" r="3.7" fill="url(#gOc)"/><circle cx="618" cy="146.7" r="3.7" fill="url(#gOc)"/><circle cx="762.3" cy="100" r="3.7" fill="url(#gOc)"/><circle cx="637.3" cy="48" r="8.6" fill="url(#gLc)"/><circle cx="655.3" cy="46.6" r="3.7" fill="url(#gOc)"/><circle cx="840.5" cy="110.1" r="3.7" fill="url(#gOc)"/><circle cx="838.4" cy="161" r="3.7" fill="url(#gOc)"/><circle cx="704.5" cy="99.5" r="8.6" fill="url(#gLc)"/><circle cx="694" cy="87.5" r="3.7" fill="url(#gOc)"/><circle cx="778.8" cy="166" r="8.6" fill="url(#gLc)"/><circle cx="804" cy="47.3" r="3.7" fill="url(#gOc)"/><circle cx="832.6" cy="29.4" r="3.7" fill="url(#gOc)"/><circle cx="724" cy="33.7" r="3.7" fill="url(#gOc)"/><circle cx="734.4" cy="68.8" r="3.7" fill="url(#gOc)"/><circle cx="842" cy="115.8" r="3.7" fill="url(#gOc)"/><circle cx="765.9" cy="148.1" r="3.7" fill="url(#gOc)"/><circle cx="763.8" cy="89.6" r="3.7" fill="url(#gOc)"/><circle cx="639.5" cy="150.2" r="8.6" fill="url(#gLc)"/><circle cx="688.3" cy="66.7" r="3.7" fill="url(#gOc)"/><circle cx="735.1" cy="192.6" r="3.7" fill="url(#gOc)"/><circle cx="834.8" cy="153.8" r="3.7" fill="url(#gOc)"/><circle cx="694.7" cy="32.3" r="3.7" fill="url(#gOc)"/><circle cx="630.2" cy="165.3" r="8.6" fill="url(#gLc)"/><circle cx="733.7" cy="35.1" r="3.7" fill="url(#gOc)"/><circle cx="727.9" cy="105" r="3.7" fill="url(#gOc)"/><circle cx="694" cy="124.4" r="3.7" fill="url(#gOc)"/><circle cx="694" cy="114.4" r="3.7" fill="url(#gOc)"/><circle cx="653.1" cy="123" r="3.7" fill="url(#gOc)"/><circle cx="777.4" cy="39.4" r="8.6" fill="url(#gLc)"/><circle cx="738.7" cy="45.9" r="7.6" fill="url(#gVc)"/><circle cx="727.9" cy="189.7" r="3.7" fill="url(#gOc)"/><circle cx="759.5" cy="109.3" r="7.6" fill="url(#gVc)"/><circle cx="656" cy="61" r="3.7" fill="url(#gOc)"/><circle cx="818.3" cy="109.3" r="7.6" fill="url(#gVc)"/><circle cx="614.4" cy="88.2" r="3.7" fill="url(#gOc)"/><circle cx="679.6" cy="168.9" r="7.6" fill="url(#gVc)"/><circle cx="826.9" cy="45.9" r="7.6" fill="url(#gVc)"/><circle cx="666.4" cy="83.2" r="7.6" fill="url(#gVc)"/><circle cx="614.4" cy="19.3" r="3.7" fill="url(#gOc)"/><circle cx="730.1" cy="79.6" r="3.7" fill="url(#gOc)"/><circle cx="804" cy="94" r="3.7" fill="url(#gOc)"/><circle cx="727.9" cy="158.1" r="3.7" fill="url(#gOc)"/><circle cx="842.7" cy="156.7" r="3.7" fill="url(#gOc)"/><circle cx="765.9" cy="23.7" r="3.7" fill="url(#gOc)"/><circle cx="689.7" cy="35.8" r="3.7" fill="url(#gOc)"/><circle cx="701.9" cy="129.4" r="3.7" fill="url(#gOc)"/><circle cx="809" cy="61.7" r="3.7" fill="url(#gOc)"/><circle cx="711.9" cy="129.4" r="8.6" fill="url(#gLc)"/><circle cx="785.3" cy="48.8" r="8.6" fill="url(#gLc)"/><circle cx="696.9" cy="135.9" r="8.6" fill="url(#gLc)"/><circle cx="827.6" cy="168.9" r="7.6" fill="url(#gVc)"/><circle cx="613.7" cy="47.3" r="3.7" fill="url(#gOc)"/><circle cx="735.8" cy="145.9" r="7.6" fill="url(#gVc)"/><circle cx="706.9" cy="50.9" r="8.6" fill="url(#gLc)"/><circle cx="734.4" cy="160.3" r="3.7" fill="url(#gOc)"/><circle cx="629.4" cy="39.4" r="8.6" fill="url(#gLc)"/><circle cx="727.2" cy="65.3" r="3.7" fill="url(#gOc)"/><circle cx="615.1" cy="144.5" r="3.7" fill="url(#gOc)"/><circle cx="802.5" cy="124.4" r="3.7" fill="url(#gOc)"/><circle cx="790.3" cy="66" r="8.6" fill="url(#gLc)"/><circle cx="695.4" cy="157.4" r="3.7" fill="url(#gOc)"/><circle cx="686.8" cy="153.8" r="3.7" fill="url(#gOc)"/><circle cx="763.8" cy="166" r="3.7" fill="url(#gOc)"/><circle cx="680.4" cy="143.8" r="7.6" fill="url(#gVc)"/><circle cx="837" cy="67.4" r="3.7" fill="url(#gOc)"/><circle cx="658.8" cy="130.2" r="3.7" fill="url(#gOc)"/><circle cx="618.7" cy="97.9" r="3.7" fill="url(#gOc)"/><circle cx="783.9" cy="125.8" r="8.6" fill="url(#gLc)"/><circle cx="842" cy="125.1" r="3.7" fill="url(#gOc)"/><circle cx="661" cy="61" r="3.7" fill="url(#gOc)"/><circle cx="689.7" cy="190.4" r="3.7" fill="url(#gOc)"/><circle cx="670.3" cy="108.6" r="7.6" fill="url(#gVc)"/><circle cx="741.5" cy="147.4" r="7.6" fill="url(#gVc)"/><circle cx="616.5" cy="61.7" r="3.7" fill="url(#gOc)"/><circle cx="635.9" cy="125.1" r="8.6" fill="url(#gLc)"/><circle cx="653.1" cy="39.4" r="3.7" fill="url(#gOc)"/><circle cx="803.2" cy="166" r="3.7" fill="url(#gOc)"/><circle cx="642.3" cy="65.3" r="8.6" fill="url(#gLc)"/><circle cx="839.8" cy="80.3" r="3.7" fill="url(#gOc)"/><circle cx="782.4" cy="147.4" r="8.6" fill="url(#gLc)"/><circle cx="828.3" cy="144.5" r="7.6" fill="url(#gVc)"/><circle cx="759.5" cy="186.1" r="3.7" fill="url(#gOc)"/><circle cx="787.5" cy="151.7" r="8.6" fill="url(#gLc)"/><circle cx="618" cy="96.8" r="3.7" fill="url(#gOc)"/><circle cx="710.5" cy="108.6" r="8.6" fill="url(#gLc)"/><circle cx="725.8" cy="86.8" r="3.7" fill="url(#gOc)"/><circle cx="615.1" cy="165.3" r="3.7" fill="url(#gOc)"/><circle cx="773.8" cy="128" r="3.7" fill="url(#gOc)"/><circle cx="812.6" cy="138.8" r="3.7" fill="url(#gOc)"/><circle cx="611.5" cy="185.4" r="3.7" fill="url(#gOc)"/><circle cx="678.9" cy="44.9" r="7.6" fill="url(#gVc)"/><circle cx="739.4" cy="169.6" r="7.6" fill="url(#gVc)"/><circle cx="842.7" cy="33.7" r="3.7" fill="url(#gOc)"/><circle cx="617.2" cy="22.9" r="3.7" fill="url(#gOc)"/><circle cx="691.1" cy="78.9" r="3.7" fill="url(#gOc)"/><circle cx="614.4" cy="40.6" r="3.7" fill="url(#gOc)"/><circle cx="746.6" cy="83.2" r="7.6" fill="url(#gVc)"/><circle cx="816" cy="101" r="7.6" fill="url(#gVc)"/><circle cx="653.8" cy="165.3" r="3.7" fill="url(#gOc)"/><circle cx="763.1" cy="41.6" r="3.7" fill="url(#gOc)"/><circle cx="769.5" cy="118" r="8.6" fill="url(#gLc)"/><circle cx="625.1" cy="127.3" r="3.7" fill="url(#gOc)"/><circle cx="633.7" cy="145.9" r="8.6" fill="url(#gLc)"/><circle cx="801.1" cy="40.9" r="3.7" fill="url(#gOc)"/><circle cx="814.7" cy="83.9" r="7.6" fill="url(#gVc)"/><circle cx="727.2" cy="33.7" r="3.7" fill="url(#gOc)"/><circle cx="668.2" cy="101" r="7.6" fill="url(#gVc)"/><circle cx="754.5" cy="83.2" r="7.6" fill="url(#gVc)"/><circle cx="766.6" cy="96.8" r="3.7" fill="url(#gOc)"/><circle cx="804" cy="171.8" r="3.7" fill="url(#gOc)"/><circle cx="737.2" cy="115.1" r="3.7" fill="url(#gOc)"/><circle cx="656" cy="170.3" r="3.7" fill="url(#gOc)"/><circle cx="609.3" cy="130.2" r="3.5" fill="url(#gF)"/><circle cx="758" cy="131.6" r="3.5" fill="url(#gF)"/><circle cx="871.3" cy="61.1" r="9.5" fill="url(#gLl)"/><circle cx="870.3" cy="96.6" r="8.9" fill="url(#gVl)"/><circle cx="870.1" cy="131.3" r="5.9" fill="url(#gOl)"/><circle cx="869.7" cy="161.3" r="5.5" fill="url(#gFl)"/><text x="884" y="66.6" class="lg">Li</text><text x="885" y="104.3" class="lg">V</text><text x="884.6" y="137.5" class="lg">O</text><text x="885.5" y="167.2" class="lg">F</text><line x1="15.7" y1="393.6" x2="280.3" y2="393.6" stroke="#6a6a6a" stroke-width="1.1"/><line x1="15.7" y1="393.6" x2="15.7" y2="395.8" stroke="#6a6a6a" stroke-width="1.1"/><line x1="53.5" y1="393.6" x2="53.5" y2="397.6" stroke="#6a6a6a" stroke-width="1.1"/><text x="53.5" y="412.9" text-anchor="middle" class="tk">2</text><line x1="91.3" y1="393.6" x2="91.3" y2="395.8" stroke="#6a6a6a" stroke-width="1.1"/><line x1="129.1" y1="393.6" x2="129.1" y2="397.6" stroke="#6a6a6a" stroke-width="1.1"/><text x="129.1" y="412.9" text-anchor="middle" class="tk">4</text><line x1="166.9" y1="393.6" x2="166.9" y2="395.8" stroke="#6a6a6a" stroke-width="1.1"/><line x1="204.7" y1="393.6" x2="204.7" y2="397.6" stroke="#6a6a6a" stroke-width="1.1"/><text x="204.7" y="412.9" text-anchor="middle" class="tk">6</text><line x1="242.5" y1="393.6" x2="242.5" y2="395.8" stroke="#6a6a6a" stroke-width="1.1"/><line x1="280.3" y1="393.6" x2="280.3" y2="397.6" stroke="#6a6a6a" stroke-width="1.1"/><text x="280.3" y="412.9" text-anchor="middle" class="tk">8</text><text x="142.1" y="430.5" text-anchor="middle" class="ax">r (Å)</text><line x1="313.4" y1="393.6" x2="576.2" y2="393.6" stroke="#6a6a6a" stroke-width="1.1"/><line x1="313.4" y1="393.6" x2="313.4" y2="395.8" stroke="#6a6a6a" stroke-width="1.1"/><line x1="350.9" y1="393.6" x2="350.9" y2="397.6" stroke="#6a6a6a" stroke-width="1.1"/><text x="350.9" y="412.9" text-anchor="middle" class="tk">2</text><line x1="388.5" y1="393.6" x2="388.5" y2="395.8" stroke="#6a6a6a" stroke-width="1.1"/><line x1="426" y1="393.6" x2="426" y2="397.6" stroke="#6a6a6a" stroke-width="1.1"/><text x="426" y="412.9" text-anchor="middle" class="tk">4</text><line x1="463.6" y1="393.6" x2="463.6" y2="395.8" stroke="#6a6a6a" stroke-width="1.1"/><line x1="501.1" y1="393.6" x2="501.1" y2="397.6" stroke="#6a6a6a" stroke-width="1.1"/><text x="501.1" y="412.9" text-anchor="middle" class="tk">6</text><line x1="538.7" y1="393.6" x2="538.7" y2="395.8" stroke="#6a6a6a" stroke-width="1.1"/><line x1="576.2" y1="393.6" x2="576.2" y2="397.6" stroke="#6a6a6a" stroke-width="1.1"/><text x="576.2" y="412.9" text-anchor="middle" class="tk">8</text><text x="440.8" y="430.5" text-anchor="middle" class="ax">r (Å)</text><line x1="605.3" y1="393.6" x2="879.4" y2="393.6" stroke="#6a6a6a" stroke-width="1.1"/><line x1="605.3" y1="393.6" x2="605.3" y2="395.8" stroke="#6a6a6a" stroke-width="1.1"/><line x1="644.5" y1="393.6" x2="644.5" y2="397.6" stroke="#6a6a6a" stroke-width="1.1"/><text x="644.5" y="412.9" text-anchor="middle" class="tk">2</text><line x1="683.6" y1="393.6" x2="683.6" y2="395.8" stroke="#6a6a6a" stroke-width="1.1"/><line x1="722.8" y1="393.6" x2="722.8" y2="397.6" stroke="#6a6a6a" stroke-width="1.1"/><text x="722.8" y="412.9" text-anchor="middle" class="tk">4</text><line x1="761.9" y1="393.6" x2="761.9" y2="395.8" stroke="#6a6a6a" stroke-width="1.1"/><line x1="801.1" y1="393.6" x2="801.1" y2="397.6" stroke="#6a6a6a" stroke-width="1.1"/><text x="801.1" y="412.9" text-anchor="middle" class="tk">6</text><line x1="840.2" y1="393.6" x2="840.2" y2="395.8" stroke="#6a6a6a" stroke-width="1.1"/><line x1="879.4" y1="393.6" x2="879.4" y2="397.6" stroke="#6a6a6a" stroke-width="1.1"/><text x="879.4" y="412.9" text-anchor="middle" class="tk">8</text><text x="738.3" y="430.5" text-anchor="middle" class="ax">r (Å)</text><polyline fill="none" stroke="#f2383c" stroke-width="2.6" stroke-linejoin="round" stroke-linecap="round" points="15.7,375.2 28.7,375.2 30.8,373.2 32.1,369.9 32.9,369.4 33.7,369.9 35,373.2 37.1,375.2 71.4,375.2 73.9,367 76.5,336.6 78.5,286 80.8,248 82.8,225 84,219.6 85.8,230 87.8,260.6 89.9,291 91.6,313.8 94.2,329 96.7,334 100.5,340 106.8,344 113,346.7 120.8,350.5 127,354.3 130,353.9 133.4,353 138.8,351.2 149.4,346.8 158.3,341.5 165.3,336.2 172.4,331.8 175.9,327.4 181.2,324.7 185.6,322.6 190.9,323.8 195.3,328.3 200.7,335.3 205.9,339.7 216.5,343.3 225.4,344.2 236,342.4 246.6,340.3 257.2,337.6 271.3,334.4 280.1,334"/><polyline fill="none" stroke="#f56e72" stroke-width="2.6" stroke-linejoin="round" stroke-linecap="round" points="313.4,375.4 327.3,375.4 329.4,373.3 330.7,369.9 331.5,369.4 332.3,369.9 333.6,373.3 335.7,375.4 366.8,375.4 370.8,365 373.5,330 376.1,276.8 378.3,242 381,228.7 383.6,239.4 386,276.8 388.7,311.5 391.4,330 394,337.7 400.2,339.6 406.9,342.2 413.5,349 420.2,351.6 426.9,353.5 433.6,351.6 438.8,352.1 447.7,346.8 456.5,341.5 465.3,333.6 472.4,328.3 476.8,323.8 483,324.4 488.3,326.5 493.6,331.8 498.9,338 505.9,341.5 514.8,345 523.6,345.6 532.4,344.2 543,341.5 551.9,339.7 558.9,336.2 567.7,334.1 576.6,335.3"/><polyline fill="none" stroke="#7d3706" stroke-width="2.6" stroke-linejoin="round" stroke-linecap="round" points="605.3,374.6 663.1,374.6 665.4,369.4 667.6,352.5 669.2,330 670.6,303 672.1,278.3 673.7,268.1 675.5,263.6 677.8,256.9 680,262.5 682.3,271.5 684.5,279.4 687.2,287.3 689.5,298.5 691.3,309.8 695.3,323.3 699.1,327.8 702.5,334.5 707,344.6 711.5,350.3 717.1,354.8 725,358.6 731.8,358.1 740,356.5 743.5,353.9 748,346.8 751.5,338.9 755,334.4 758.5,327.4 762.1,323.8 767.4,320.8 770.9,322.6 775.3,320.8 780.6,318.5 785.9,320 788.6,325.6 792.1,328.3 796.5,337.1 800.9,342 805.3,344.2 810.6,348 815.9,346.3 821.2,342 827.4,336.2 832.7,337.4 838.9,343.8 846.8,348.6 854.8,342 860.1,333.6 865.4,323 870.7,318.2 875.1,319.1 879.5,323.3"/><text x="32.7" y="335" text-anchor="middle" class="oo">O<tspan fill="#7a7a7a" stroke="#7a7a7a" stroke-width="0.5">–</tspan>O</text><line x1="31.9" y1="338" x2="31.9" y2="357" stroke="#f03a3e" stroke-width="1"/><path d="M30.2,355.5 L33.6,355.5 L31.9,363 Z" fill="#f03a3e"/><text x="330.5" y="335" text-anchor="middle" class="oo">O<tspan fill="#7a7a7a" stroke="#7a7a7a" stroke-width="0.5">–</tspan>O</text><line x1="331.4" y1="336.6" x2="331.4" y2="355.6" stroke="#f52a2e" stroke-width="1"/><path d="M329.7,354.1 L333.09999999999997,354.1 L331.4,361.6 Z" fill="#f52a2e"/><text x="0.5" y="19.7" class="pl">a</text><text x="285.5" y="19.9" class="pl">b</text><text x="580" y="20.4" class="pl">c</text><text x="9.5" y="223.8" class="pl">d</text><text x="286.5" y="223.8" class="pl">e</text><text x="588.5" y="224.2" class="pl">f</text><text x="10.2" y="475" class="pl">g</text><text x="353.9" y="474.9" class="pl">h</text><text x="33" y="487.5" class="tt" style="font-size:18.8px">Spatially fixed without O-O dimers</text><text x="572.5" y="492.5" class="tt">O-O dimerization</text><text x="175.2" y="708.5" text-anchor="middle" class="tt">c-LVOF</text><text x="507" y="708.7" text-anchor="middle" class="tt">a<tspan style="font-family:NanumGothic,sans-serif;font-size:16px">1</tspan></text><text x="760.5" y="708.9" text-anchor="middle" class="tt">a2</text><polygon points="143.9,577.2 201.3,580.8 197.4,651.4 129.1,645.8" fill="#14d0d2" /><polygon points="148.8,578.3 201.3,580.8 198.5,598" fill="#10c0c4" /><line x1="129.1" y1="645.8" x2="168.5" y2="617.7" stroke="#6ee6e8" stroke-width="4.5" opacity="0.6"/><line x1="201.3" y1="580.8" x2="168.5" y2="617.7" stroke="#6ee6e8" stroke-width="4.5" opacity="0.6"/><circle cx="168.5" cy="617.7" r="15" fill="url(#gLg)"/><line x1="143.9" y1="577.2" x2="197.4" y2="651.4" stroke="#9ae6e8" stroke-width="1.5"/><circle cx="119.5" cy="548" r="10" fill="url(#gVg)"/><polygon points="124.3,528.1 132.4,525.4 143.8,576.8" fill="#7e0c04" /><polygon points="81.5,555.8 124.3,528.1 143.8,576.8" fill="#c41a08" /><circle cx="119.5" cy="548" r="10" fill="url(#gVin)"/><line x1="119.5" y1="548" x2="81.5" y2="555.8" stroke="#d83a2a" stroke-width="4" opacity="0.45"/><line x1="119.5" y1="548" x2="124.3" y2="528.1" stroke="#d83a2a" stroke-width="4" opacity="0.45"/><line x1="119.5" y1="548" x2="143.8" y2="576.8" stroke="#d83a2a" stroke-width="4" opacity="0.45"/><circle cx="220.1" cy="541.1" r="12.5" fill="url(#gVg)"/><polygon points="198,523 260.9,551.1 201.4,580.5" fill="#c41a08" /><circle cx="220.1" cy="541.1" r="12.5" fill="url(#gVin)"/><line x1="220.1" y1="541.1" x2="198" y2="523" stroke="#d83a2a" stroke-width="4" opacity="0.45"/><line x1="220.1" y1="541.1" x2="260.9" y2="551.1" stroke="#d83a2a" stroke-width="4" opacity="0.45"/><line x1="220.1" y1="541.1" x2="201.4" y2="580.5" stroke="#d83a2a" stroke-width="4" opacity="0.45"/><circle cx="89.2" cy="654.9" r="12" fill="url(#gVg)"/><polygon points="68.9,633.4 78.4,634 82.2,694.1" fill="#7e0c04" /><polygon points="78.4,634 129.1,646 82.2,694.1" fill="#c41a08" /><circle cx="89.2" cy="654.9" r="12" fill="url(#gVin)"/><line x1="89.2" y1="654.9" x2="78.4" y2="634" stroke="#d83a2a" stroke-width="4" opacity="0.45"/><line x1="89.2" y1="654.9" x2="129.1" y2="646" stroke="#d83a2a" stroke-width="4" opacity="0.45"/><line x1="89.2" y1="654.9" x2="82.2" y2="694.1" stroke="#d83a2a" stroke-width="4" opacity="0.45"/><circle cx="238.2" cy="649.2" r="12.5" fill="url(#gVg)"/><polygon points="197.7,651.5 254.6,630.8 255.9,686.1" fill="#c41a08" /><circle cx="238.2" cy="649.2" r="12.5" fill="url(#gVin)"/><line x1="238.2" y1="649.2" x2="197.7" y2="651.5" stroke="#d83a2a" stroke-width="4" opacity="0.45"/><line x1="238.2" y1="649.2" x2="254.6" y2="630.8" stroke="#d83a2a" stroke-width="4" opacity="0.45"/><line x1="238.2" y1="649.2" x2="255.9" y2="686.1" stroke="#d83a2a" stroke-width="4" opacity="0.45"/><circle cx="132.4" cy="525.4" r="6.6" fill="url(#gOg)"/><circle cx="208.1" cy="525" r="6.6" fill="url(#gOg)"/><circle cx="68.9" cy="633.4" r="6.6" fill="url(#gOg)"/><circle cx="247" cy="630.8" r="6.6" fill="url(#gOg)"/><circle cx="81.5" cy="555.8" r="6.8" fill="url(#gOg)"/><circle cx="124.3" cy="528.1" r="6.8" fill="url(#gOg)"/><circle cx="143.9" cy="577.2" r="6.8" fill="url(#gOg)"/><circle cx="198" cy="523" r="6.8" fill="url(#gOg)"/><circle cx="260.9" cy="551.1" r="6.8" fill="url(#gOg)"/><circle cx="201.3" cy="580.8" r="6.8" fill="url(#gOg)"/><circle cx="78.4" cy="634" r="6.8" fill="url(#gOg)"/><circle cx="129.1" cy="645.8" r="6.8" fill="url(#gOg)"/><circle cx="82.2" cy="694.1" r="6.8" fill="url(#gOg)"/><circle cx="197.4" cy="651.4" r="6.8" fill="url(#gOg)"/><circle cx="254.6" cy="630.8" r="6.8" fill="url(#gOg)"/><circle cx="255.9" cy="686.1" r="6.8" fill="url(#gOg)"/><line x1="405.3" y1="526.4" x2="440.4" y2="551.1" stroke="#22dcdc" stroke-width="5"/><line x1="440.4" y1="551.1" x2="464.1" y2="568.9" stroke="#d88282" stroke-width="5"/><line x1="464.1" y1="568.9" x2="510.6" y2="570.6" stroke="#d88282" stroke-width="5.5"/><circle cx="405.3" cy="526.4" r="23.5" fill="url(#gLh)"/><polygon points="510.6,570.6 448.5,670.8 515.5,677" fill="#d83636" /><polygon points="510.6,570.6 515.5,677 551.6,672.7" fill="#c02a2a" /><line x1="510.6" y1="570.6" x2="494.1" y2="639.5" stroke="#e06060" stroke-width="5" opacity="0.6"/><line x1="448.5" y1="670.8" x2="494.1" y2="639.5" stroke="#e06060" stroke-width="5" opacity="0.5"/><line x1="551.6" y1="672.7" x2="494.1" y2="639.5" stroke="#e06060" stroke-width="5" opacity="0.5"/><line x1="515.5" y1="677" x2="494.1" y2="639.5" stroke="#e06060" stroke-width="5" opacity="0.5"/><circle cx="494.1" cy="639.5" r="18.5" fill="url(#gVh)"/><polygon points="510.6,570.6 448.5,670.8 515.5,677" fill="#d83636" opacity="0.15"/><line x1="510.6" y1="570.6" x2="515.5" y2="677" stroke="#f0c0c0" stroke-width="1"/><circle cx="464.1" cy="568.9" r="10.4" fill="url(#gOg)"/><circle cx="510.6" cy="570.6" r="10.4" fill="url(#gOg)"/><circle cx="448.5" cy="670.8" r="10.4" fill="url(#gOg)"/><circle cx="515.5" cy="677" r="10.4" fill="url(#gOg)"/><circle cx="551.6" cy="672.7" r="10.4" fill="url(#gOg)"/><line x1="763" y1="624" x2="776.7" y2="598.7" stroke="#c86a6a" stroke-width="5.5"/><polygon points="703.4,550.2 648.5,616.2 670.2,631.7" fill="#a01c10" /><polygon points="703.4,550.2 670.2,631.7 763,624" fill="#c62a1a" /><line x1="701.1" y1="607.7" x2="703.4" y2="550.2" stroke="#e85848" stroke-width="5" opacity="0.35"/><line x1="701.1" y1="607.7" x2="648.5" y2="616.2" stroke="#e85848" stroke-width="5" opacity="0.35"/><line x1="701.1" y1="607.7" x2="763" y2="624" stroke="#e85848" stroke-width="5" opacity="0.35"/><line x1="701.1" y1="607.7" x2="670.2" y2="631.7" stroke="#e85848" stroke-width="5" opacity="0.35"/><circle cx="701.1" cy="607.7" r="17" fill="url(#gVh2)"/><line x1="703.4" y1="550.2" x2="670.2" y2="631.7" stroke="#f4d8d0" stroke-width="1.1"/><polygon points="776.7,598.7 847.1,591.7 826.8,686.7" fill="#c42818" /><polygon points="847.1,591.7 883.1,633 826.8,686.7" fill="#a41e10" /><line x1="833" y1="624.2" x2="776.7" y2="598.7" stroke="#e85848" stroke-width="5" opacity="0.35"/><line x1="833" y1="624.2" x2="847.1" y2="591.7" stroke="#e85848" stroke-width="5" opacity="0.35"/><line x1="833" y1="624.2" x2="883.1" y2="633" stroke="#e85848" stroke-width="5" opacity="0.35"/><line x1="833" y1="624.2" x2="826.8" y2="686.7" stroke="#e85848" stroke-width="5" opacity="0.35"/><circle cx="833" cy="624.2" r="17" fill="url(#gVh2)"/><line x1="847.1" y1="591.7" x2="826.8" y2="686.7" stroke="#f4d8d0" stroke-width="1.1"/><circle cx="703.4" cy="550.2" r="10" fill="url(#gOg)"/><circle cx="648.5" cy="616.2" r="10" fill="url(#gOg)"/><circle cx="670.2" cy="631.7" r="10" fill="url(#gOg)"/><circle cx="763" cy="624" r="10" fill="url(#gOg)"/><circle cx="776.7" cy="598.7" r="10" fill="url(#gOg)"/><circle cx="847.1" cy="591.7" r="10" fill="url(#gOg)"/><circle cx="883.1" cy="633" r="10" fill="url(#gOg)"/><circle cx="826.8" cy="686.7" r="10" fill="url(#gOg)"/></svg></body></html>
